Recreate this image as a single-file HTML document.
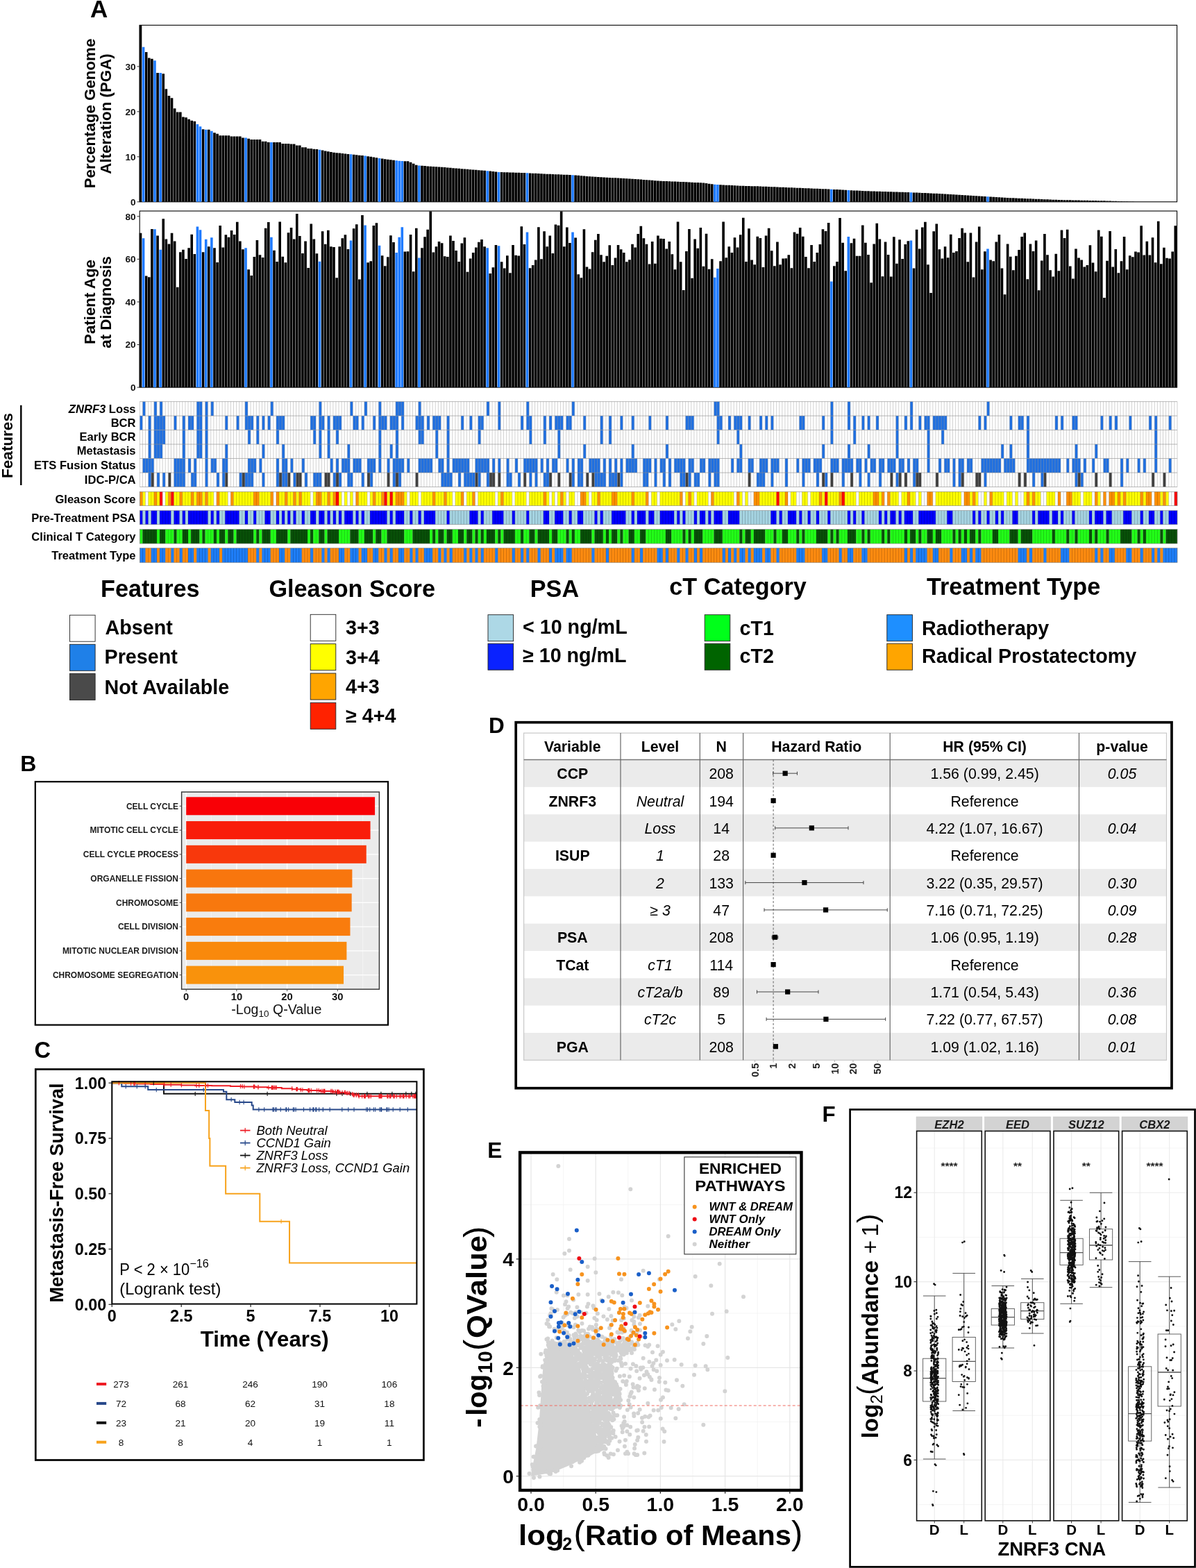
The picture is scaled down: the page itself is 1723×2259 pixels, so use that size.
<!DOCTYPE html>
<html><head><meta charset="utf-8"><title>Figure</title>
<style>
html,body{margin:0;padding:0;background:#fff;width:1723px;height:2259px;overflow:hidden}
svg{display:block}
text{font-family:'Liberation Sans',Arial,Helvetica,sans-serif}
</style></head><body>
<svg xmlns="http://www.w3.org/2000/svg" width="1723" height="2259" viewBox="0 0 1723 2259">
<rect x="0" y="0" width="1723" height="2259" fill="#fff"/>
<rect x="201.2" y="36.3" width="1494.4" height="254.5" fill="none" stroke="#000" stroke-width="1.1"/>
<path d="M200.7 290.8h3.6v-254.8h-3.6zM208.89 290.8h3.6v-215.8h-3.6zM212.99 290.8h3.6v-207.35h-3.6zM217.08 290.8h3.6v-206.05h-3.6zM225.27 290.8h3.6v-185.9h-3.6zM233.46 290.8h3.6v-184.6h-3.6zM237.56 290.8h3.6v-162.5h-3.6zM241.66 290.8h3.6v-152.75h-3.6zM245.75 290.8h3.6v-149.5h-3.6zM249.85 290.8h3.6v-134.55h-3.6zM253.94 290.8h3.6v-129.35h-3.6zM258.04 290.8h3.6v-129.35h-3.6zM262.13 290.8h3.6v-122.2h-3.6zM266.23 290.8h3.6v-121.55h-3.6zM270.33 290.8h3.6v-118.95h-3.6zM274.42 290.8h3.6v-117h-3.6zM278.52 290.8h3.6v-116.03h-3.6zM290.8 290.8h3.6v-104.65h-3.6zM298.99 290.8h3.6v-104h-3.6zM307.19 290.8h3.6v-99.45h-3.6zM311.28 290.8h3.6v-98.15h-3.6zM315.38 290.8h3.6v-95.55h-3.6zM319.47 290.8h3.6v-95.55h-3.6zM323.57 290.8h3.6v-95.55h-3.6zM327.66 290.8h3.6v-95.55h-3.6zM331.76 290.8h3.6v-94.25h-3.6zM335.86 290.8h3.6v-94.25h-3.6zM339.95 290.8h3.6v-94.25h-3.6zM344.05 290.8h3.6v-94.25h-3.6zM348.14 290.8h3.6v-92.3h-3.6zM356.33 290.8h3.6v-91h-3.6zM360.43 290.8h3.6v-89.7h-3.6zM364.52 290.8h3.6v-89.7h-3.6zM368.62 290.8h3.6v-89.7h-3.6zM372.72 290.8h3.6v-89.7h-3.6zM376.81 290.8h3.6v-87.1h-3.6zM380.91 290.8h3.6v-87.1h-3.6zM385 290.8h3.6v-85.8h-3.6zM393.19 290.8h3.6v-85.8h-3.6zM397.29 290.8h3.6v-85.8h-3.6zM401.39 290.8h3.6v-85.8h-3.6zM405.48 290.8h3.6v-83.85h-3.6zM409.58 290.8h3.6v-83.85h-3.6zM413.67 290.8h3.6v-83.85h-3.6zM417.77 290.8h3.6v-83.2h-3.6zM421.86 290.8h3.6v-83.2h-3.6zM425.96 290.8h3.6v-81.25h-3.6zM430.05 290.8h3.6v-81.25h-3.6zM434.15 290.8h3.6v-78.65h-3.6zM438.25 290.8h3.6v-78.65h-3.6zM442.34 290.8h3.6v-76.7h-3.6zM446.44 290.8h3.6v-76.7h-3.6zM450.53 290.8h3.6v-76.11h-3.6zM454.63 290.8h3.6v-75.7h-3.6zM462.82 290.8h3.6v-74.29h-3.6zM466.92 290.8h3.6v-73.42h-3.6zM471.01 290.8h3.6v-72.56h-3.6zM475.11 290.8h3.6v-71.69h-3.6zM479.2 290.8h3.6v-71.07h-3.6zM483.3 290.8h3.6v-70.63h-3.6zM487.39 290.8h3.6v-70.2h-3.6zM491.49 290.8h3.6v-69.77h-3.6zM495.58 290.8h3.6v-69.33h-3.6zM499.68 290.8h3.6v-68.9h-3.6zM507.87 290.8h3.6v-68.04h-3.6zM511.97 290.8h3.6v-67.6h-3.6zM516.06 290.8h3.6v-67.17h-3.6zM520.16 290.8h3.6v-66.74h-3.6zM528.35 290.8h3.6v-65.64h-3.6zM532.44 290.8h3.6v-64.96h-3.6zM536.54 290.8h3.6v-64.28h-3.6zM540.64 290.8h3.6v-63.6h-3.6zM548.83 290.8h3.6v-62.26h-3.6zM552.92 290.8h3.6v-61.59h-3.6zM557.02 290.8h3.6v-60.97h-3.6zM561.11 290.8h3.6v-60.45h-3.6zM565.21 290.8h3.6v-59.94h-3.6zM581.59 290.8h3.6v-58.64h-3.6zM585.69 290.8h3.6v-58.43h-3.6zM589.78 290.8h3.6v-57.02h-3.6zM593.88 290.8h3.6v-55.07h-3.6zM597.97 290.8h3.6v-53.12h-3.6zM606.17 290.8h3.6v-52.06h-3.6zM610.26 290.8h3.6v-51.72h-3.6zM614.36 290.8h3.6v-51.38h-3.6zM618.45 290.8h3.6v-51.11h-3.6zM622.55 290.8h3.6v-50.84h-3.6zM626.64 290.8h3.6v-50.57h-3.6zM630.74 290.8h3.6v-50.29h-3.6zM634.84 290.8h3.6v-50.02h-3.6zM638.93 290.8h3.6v-49.68h-3.6zM643.03 290.8h3.6v-49.34h-3.6zM647.12 290.8h3.6v-49h-3.6zM651.22 290.8h3.6v-48.66h-3.6zM655.31 290.8h3.6v-48.32h-3.6zM659.41 290.8h3.6v-47.99h-3.6zM663.5 290.8h3.6v-47.65h-3.6zM667.6 290.8h3.6v-47.31h-3.6zM671.7 290.8h3.6v-46.97h-3.6zM675.79 290.8h3.6v-46.64h-3.6zM679.89 290.8h3.6v-46.31h-3.6zM683.98 290.8h3.6v-45.98h-3.6zM688.08 290.8h3.6v-45.65h-3.6zM692.17 290.8h3.6v-45.32h-3.6zM696.27 290.8h3.6v-44.99h-3.6zM704.46 290.8h3.6v-44.24h-3.6zM708.56 290.8h3.6v-43.8h-3.6zM712.65 290.8h3.6v-43.36h-3.6zM720.84 290.8h3.6v-42.78h-3.6zM724.94 290.8h3.6v-42.65h-3.6zM729.03 290.8h3.6v-42.52h-3.6zM733.13 290.8h3.6v-42.39h-3.6zM737.23 290.8h3.6v-42.27h-3.6zM741.32 290.8h3.6v-42.14h-3.6zM745.42 290.8h3.6v-42.01h-3.6zM749.51 290.8h3.6v-41.88h-3.6zM753.61 290.8h3.6v-41.73h-3.6zM761.8 290.8h3.6v-41.34h-3.6zM765.9 290.8h3.6v-41.14h-3.6zM769.99 290.8h3.6v-40.94h-3.6zM774.09 290.8h3.6v-40.75h-3.6zM778.18 290.8h3.6v-40.55h-3.6zM782.28 290.8h3.6v-40.35h-3.6zM786.37 290.8h3.6v-40.16h-3.6zM790.47 290.8h3.6v-39.96h-3.6zM794.56 290.8h3.6v-39.79h-3.6zM798.66 290.8h3.6v-39.63h-3.6zM802.76 290.8h3.6v-39.47h-3.6zM806.85 290.8h3.6v-39.31h-3.6zM810.95 290.8h3.6v-39.15h-3.6zM815.04 290.8h3.6v-38.99h-3.6zM819.14 290.8h3.6v-38.83h-3.6zM827.33 290.8h3.6v-38.3h-3.6zM831.42 290.8h3.6v-37.96h-3.6zM835.52 290.8h3.6v-37.61h-3.6zM839.62 290.8h3.6v-37.27h-3.6zM843.71 290.8h3.6v-36.92h-3.6zM847.81 290.8h3.6v-36.57h-3.6zM851.9 290.8h3.6v-36.23h-3.6zM856 290.8h3.6v-35.93h-3.6zM860.09 290.8h3.6v-35.72h-3.6zM864.19 290.8h3.6v-35.5h-3.6zM868.29 290.8h3.6v-35.29h-3.6zM872.38 290.8h3.6v-35.08h-3.6zM876.48 290.8h3.6v-34.86h-3.6zM880.57 290.8h3.6v-34.65h-3.6zM884.67 290.8h3.6v-34.44h-3.6zM888.76 290.8h3.6v-34.23h-3.6zM892.86 290.8h3.6v-34.01h-3.6zM896.95 290.8h3.6v-33.8h-3.6zM901.05 290.8h3.6v-33.59h-3.6zM905.15 290.8h3.6v-33.37h-3.6zM909.24 290.8h3.6v-33.16h-3.6zM913.34 290.8h3.6v-32.85h-3.6zM917.43 290.8h3.6v-32.53h-3.6zM921.53 290.8h3.6v-32.21h-3.6zM925.62 290.8h3.6v-31.89h-3.6zM929.72 290.8h3.6v-31.57h-3.6zM933.82 290.8h3.6v-31.26h-3.6zM937.91 290.8h3.6v-30.94h-3.6zM942.01 290.8h3.6v-30.62h-3.6zM946.1 290.8h3.6v-30.3h-3.6zM950.2 290.8h3.6v-30.04h-3.6zM954.29 290.8h3.6v-29.87h-3.6zM958.39 290.8h3.6v-29.7h-3.6zM962.48 290.8h3.6v-29.53h-3.6zM966.58 290.8h3.6v-29.36h-3.6zM970.68 290.8h3.6v-29.19h-3.6zM974.77 290.8h3.6v-29.02h-3.6zM978.87 290.8h3.6v-28.85h-3.6zM982.96 290.8h3.6v-28.68h-3.6zM987.06 290.8h3.6v-28.51h-3.6zM991.15 290.8h3.6v-28.31h-3.6zM995.25 290.8h3.6v-28.11h-3.6zM999.35 290.8h3.6v-27.91h-3.6zM1003.44 290.8h3.6v-27.71h-3.6zM1007.54 290.8h3.6v-27.5h-3.6zM1011.63 290.8h3.6v-27.3h-3.6zM1015.73 290.8h3.6v-26.71h-3.6zM1019.82 290.8h3.6v-26.12h-3.6zM1023.92 290.8h3.6v-25.52h-3.6zM1036.21 290.8h3.6v-24.57h-3.6zM1040.3 290.8h3.6v-24.36h-3.6zM1044.4 290.8h3.6v-24.15h-3.6zM1048.49 290.8h3.6v-23.94h-3.6zM1052.59 290.8h3.6v-23.73h-3.6zM1056.68 290.8h3.6v-23.52h-3.6zM1060.78 290.8h3.6v-23.31h-3.6zM1064.88 290.8h3.6v-23.1h-3.6zM1068.97 290.8h3.6v-22.95h-3.6zM1073.07 290.8h3.6v-22.85h-3.6zM1077.16 290.8h3.6v-22.75h-3.6zM1081.26 290.8h3.6v-22.65h-3.6zM1085.35 290.8h3.6v-22.55h-3.6zM1089.45 290.8h3.6v-22.43h-3.6zM1093.54 290.8h3.6v-22.26h-3.6zM1097.64 290.8h3.6v-22.1h-3.6zM1101.74 290.8h3.6v-21.93h-3.6zM1105.83 290.8h3.6v-21.76h-3.6zM1109.93 290.8h3.6v-21.6h-3.6zM1114.02 290.8h3.6v-21.43h-3.6zM1118.12 290.8h3.6v-21.27h-3.6zM1122.21 290.8h3.6v-21.1h-3.6zM1126.31 290.8h3.6v-20.93h-3.6zM1130.4 290.8h3.6v-20.77h-3.6zM1134.5 290.8h3.6v-20.6h-3.6zM1138.6 290.8h3.6v-20.44h-3.6zM1142.69 290.8h3.6v-20.27h-3.6zM1146.79 290.8h3.6v-20.1h-3.6zM1150.88 290.8h3.6v-19.94h-3.6zM1154.98 290.8h3.6v-19.77h-3.6zM1159.07 290.8h3.6v-19.61h-3.6zM1163.17 290.8h3.6v-19.44h-3.6zM1167.27 290.8h3.6v-19.27h-3.6zM1171.36 290.8h3.6v-19.11h-3.6zM1175.46 290.8h3.6v-18.94h-3.6zM1179.55 290.8h3.6v-18.78h-3.6zM1183.65 290.8h3.6v-18.61h-3.6zM1187.74 290.8h3.6v-18.44h-3.6zM1191.84 290.8h3.6v-18.28h-3.6zM1200.03 290.8h3.6v-17.91h-3.6zM1204.13 290.8h3.6v-17.69h-3.6zM1208.22 290.8h3.6v-17.48h-3.6zM1212.32 290.8h3.6v-17.26h-3.6zM1216.41 290.8h3.6v-17.05h-3.6zM1224.6 290.8h3.6v-16.62h-3.6zM1228.7 290.8h3.6v-16.4h-3.6zM1232.8 290.8h3.6v-16.19h-3.6zM1236.89 290.8h3.6v-15.97h-3.6zM1240.99 290.8h3.6v-15.76h-3.6zM1245.08 290.8h3.6v-15.57h-3.6zM1249.18 290.8h3.6v-15.45h-3.6zM1253.27 290.8h3.6v-15.33h-3.6zM1257.37 290.8h3.6v-15.21h-3.6zM1261.46 290.8h3.6v-15.09h-3.6zM1265.56 290.8h3.6v-14.97h-3.6zM1269.66 290.8h3.6v-14.85h-3.6zM1273.75 290.8h3.6v-14.73h-3.6zM1277.85 290.8h3.6v-14.61h-3.6zM1281.94 290.8h3.6v-14.48h-3.6zM1286.04 290.8h3.6v-14.36h-3.6zM1290.13 290.8h3.6v-14.24h-3.6zM1294.23 290.8h3.6v-14.12h-3.6zM1298.33 290.8h3.6v-14h-3.6zM1302.42 290.8h3.6v-13.88h-3.6zM1306.52 290.8h3.6v-13.76h-3.6zM1314.71 290.8h3.6v-13.4h-3.6zM1318.8 290.8h3.6v-13.22h-3.6zM1322.9 290.8h3.6v-13.04h-3.6zM1326.99 290.8h3.6v-12.86h-3.6zM1331.09 290.8h3.6v-12.68h-3.6zM1335.19 290.8h3.6v-12.5h-3.6zM1339.28 290.8h3.6v-12.32h-3.6zM1343.38 290.8h3.6v-12.14h-3.6zM1347.47 290.8h3.6v-11.96h-3.6zM1351.57 290.8h3.6v-11.74h-3.6zM1355.66 290.8h3.6v-11.5h-3.6zM1359.76 290.8h3.6v-11.26h-3.6zM1363.86 290.8h3.6v-11.01h-3.6zM1367.95 290.8h3.6v-10.77h-3.6zM1372.05 290.8h3.6v-10.53h-3.6zM1376.14 290.8h3.6v-10.29h-3.6zM1380.24 290.8h3.6v-10.05h-3.6zM1384.33 290.8h3.6v-9.8h-3.6zM1388.43 290.8h3.6v-9.56h-3.6zM1392.52 290.8h3.6v-9.32h-3.6zM1396.62 290.8h3.6v-9.08h-3.6zM1400.72 290.8h3.6v-8.84h-3.6zM1404.81 290.8h3.6v-8.59h-3.6zM1408.91 290.8h3.6v-8.35h-3.6zM1413 290.8h3.6v-8.11h-3.6zM1417.1 290.8h3.6v-7.86h-3.6zM1425.29 290.8h3.6v-7.36h-3.6zM1429.38 290.8h3.6v-7.11h-3.6zM1433.48 290.8h3.6v-6.86h-3.6zM1437.58 290.8h3.6v-6.61h-3.6zM1441.67 290.8h3.6v-6.35h-3.6zM1445.77 290.8h3.6v-6.1h-3.6zM1449.86 290.8h3.6v-5.85h-3.6zM1453.96 290.8h3.6v-5.66h-3.6zM1458.05 290.8h3.6v-5.49h-3.6zM1462.15 290.8h3.6v-5.32h-3.6zM1466.25 290.8h3.6v-5.15h-3.6zM1470.34 290.8h3.6v-4.98h-3.6zM1474.44 290.8h3.6v-4.81h-3.6zM1478.53 290.8h3.6v-4.64h-3.6zM1482.63 290.8h3.6v-4.47h-3.6zM1486.72 290.8h3.6v-4.3h-3.6zM1490.82 290.8h3.6v-4.13h-3.6zM1494.91 290.8h3.6v-3.97h-3.6zM1499.01 290.8h3.6v-3.8h-3.6zM1503.11 290.8h3.6v-3.63h-3.6zM1507.2 290.8h3.6v-3.47h-3.6zM1511.3 290.8h3.6v-3.3h-3.6zM1515.39 290.8h3.6v-3.13h-3.6zM1519.49 290.8h3.6v-2.96h-3.6zM1523.58 290.8h3.6v-2.8h-3.6zM1527.68 290.8h3.6v-2.72h-3.6zM1531.78 290.8h3.6v-2.63h-3.6zM1535.87 290.8h3.6v-2.55h-3.6zM1539.97 290.8h3.6v-2.47h-3.6zM1544.06 290.8h3.6v-2.39h-3.6zM1548.16 290.8h3.6v-2.31h-3.6zM1552.25 290.8h3.6v-2.23h-3.6zM1556.35 290.8h3.6v-2.15h-3.6zM1560.44 290.8h3.6v-2.07h-3.6zM1564.54 290.8h3.6v-1.99h-3.6zM1568.64 290.8h3.6v-1.91h-3.6zM1572.73 290.8h3.6v-1.83h-3.6zM1576.83 290.8h3.6v-1.74h-3.6zM1580.92 290.8h3.6v-1.66h-3.6zM1585.02 290.8h3.6v-1.58h-3.6zM1589.11 290.8h3.6v-1.5h-3.6zM1593.21 290.8h3.6v-1.42h-3.6zM1597.31 290.8h3.6v-1.32h-3.6zM1601.4 290.8h3.6v-1.17h-3.6zM1605.5 290.8h3.6v-1.02h-3.6zM1609.59 290.8h3.6v-0.88h-3.6zM1613.69 290.8h3.6v-0.73h-3.6zM1617.78 290.8h3.6v-0.58h-3.6zM1621.88 290.8h3.6v-0.44h-3.6zM1625.97 290.8h3.6v-0.3h-3.6zM1630.07 290.8h3.6v-0.2h-3.6zM1634.17 290.8h3.6v-0.09h-3.6z" fill="#000"/>
<path d="M204.8 290.8h3.6v-222.95h-3.6zM221.18 290.8h3.6v-203.45h-3.6zM229.37 290.8h3.6v-185.9h-3.6zM282.61 290.8h3.6v-111.8h-3.6zM286.71 290.8h3.6v-108.55h-3.6zM294.9 290.8h3.6v-104h-3.6zM303.09 290.8h3.6v-102.05h-3.6zM352.24 290.8h3.6v-92.3h-3.6zM389.1 290.8h3.6v-85.8h-3.6zM458.72 290.8h3.6v-75.15h-3.6zM503.78 290.8h3.6v-68.47h-3.6zM524.25 290.8h3.6v-66.31h-3.6zM544.73 290.8h3.6v-62.92h-3.6zM569.31 290.8h3.6v-59.43h-3.6zM573.4 290.8h3.6v-59.06h-3.6zM577.5 290.8h3.6v-58.85h-3.6zM602.07 290.8h3.6v-52.39h-3.6zM700.37 290.8h3.6v-44.66h-3.6zM716.75 290.8h3.6v-42.92h-3.6zM757.7 290.8h3.6v-41.53h-3.6zM823.23 290.8h3.6v-38.65h-3.6zM1028.01 290.8h3.6v-24.99h-3.6zM1032.11 290.8h3.6v-24.78h-3.6zM1195.93 290.8h3.6v-18.11h-3.6zM1220.51 290.8h3.6v-16.83h-3.6zM1310.61 290.8h3.6v-13.58h-3.6zM1421.19 290.8h3.6v-7.61h-3.6z" fill="#1f7bff"/>
<line x1="197.5" y1="290.8" x2="201.2" y2="290.8" stroke="#333" stroke-width="1"/>
<text x="195.6" y="295.6" font-size="13.6" text-anchor="end" fill="#111" style="font-weight:bold;">0</text>
<line x1="197.5" y1="225.8" x2="201.2" y2="225.8" stroke="#333" stroke-width="1"/>
<text x="195.6" y="230.6" font-size="13.6" text-anchor="end" fill="#111" style="font-weight:bold;">10</text>
<line x1="197.5" y1="160.8" x2="201.2" y2="160.8" stroke="#333" stroke-width="1"/>
<text x="195.6" y="165.6" font-size="13.6" text-anchor="end" fill="#111" style="font-weight:bold;">20</text>
<line x1="197.5" y1="95.8" x2="201.2" y2="95.8" stroke="#333" stroke-width="1"/>
<text x="195.6" y="100.6" font-size="13.6" text-anchor="end" fill="#111" style="font-weight:bold;">30</text>
<text x="136.5" y="163.5" font-size="22.3" text-anchor="middle" transform="rotate(-90 136.5 163.5)" style="font-weight:bold;">Percentage Genome</text>
<text x="159.7" y="164" font-size="22.3" text-anchor="middle" transform="rotate(-90 159.7 164)" style="font-weight:bold;">Alteration (PGA)</text>
<rect x="201.2" y="304" width="1494.4" height="254.1" fill="none" stroke="#000" stroke-width="1.1"/>
<path d="M200.7 558.1h3.6v-222.3h-3.6zM208.89 558.1h3.6v-160.72h-3.6zM212.99 558.1h3.6v-158.88h-3.6zM217.08 558.1h3.6v-228.15h-3.6zM225.27 558.1h3.6v-218.61h-3.6zM233.46 558.1h3.6v-242.93h-3.6zM237.56 558.1h3.6v-213.68h-3.6zM241.66 558.1h3.6v-206.6h-3.6zM245.75 558.1h3.6v-222.3h-3.6zM249.85 558.1h3.6v-210.6h-3.6zM253.94 558.1h3.6v-144.41h-3.6zM258.04 558.1h3.6v-194.9h-3.6zM262.13 558.1h3.6v-198.29h-3.6zM266.23 558.1h3.6v-185.05h-3.6zM270.33 558.1h3.6v-200.75h-3.6zM274.42 558.1h3.6v-220.46h-3.6zM278.52 558.1h3.6v-192.13h-3.6zM290.8 558.1h3.6v-194.9h-3.6zM298.99 558.1h3.6v-202.91h-3.6zM307.19 558.1h3.6v-200.75h-3.6zM311.28 558.1h3.6v-180.12h-3.6zM315.38 558.1h3.6v-233.08h-3.6zM319.47 558.1h3.6v-201.67h-3.6zM323.57 558.1h3.6v-219.84h-3.6zM327.66 558.1h3.6v-216.45h-3.6zM331.76 558.1h3.6v-226h-3.6zM335.86 558.1h3.6v-220.15h-3.6zM339.95 558.1h3.6v-238.31h-3.6zM344.05 558.1h3.6v-210.6h-3.6zM348.14 558.1h3.6v-198.9h-3.6zM356.33 558.1h3.6v-169.96h-3.6zM360.43 558.1h3.6v-161.03h-3.6zM364.52 558.1h3.6v-188.13h-3.6zM368.62 558.1h3.6v-212.14h-3.6zM372.72 558.1h3.6v-190.9h-3.6zM376.81 558.1h3.6v-187.2h-3.6zM380.91 558.1h3.6v-229.39h-3.6zM385 558.1h3.6v-238.01h-3.6zM393.19 558.1h3.6v-197.36h-3.6zM397.29 558.1h3.6v-181.05h-3.6zM401.39 558.1h3.6v-238.62h-3.6zM405.48 558.1h3.6v-188.43h-3.6zM409.58 558.1h3.6v-179.81h-3.6zM413.67 558.1h3.6v-222.92h-3.6zM417.77 558.1h3.6v-230h-3.6zM421.86 558.1h3.6v-213.68h-3.6zM425.96 558.1h3.6v-250.01h-3.6zM430.05 558.1h3.6v-217.99h-3.6zM434.15 558.1h3.6v-193.05h-3.6zM438.25 558.1h3.6v-210.6h-3.6zM442.34 558.1h3.6v-172.12h-3.6zM446.44 558.1h3.6v-235.54h-3.6zM450.53 558.1h3.6v-213.68h-3.6zM454.63 558.1h3.6v-192.75h-3.6zM462.82 558.1h3.6v-224.77h-3.6zM466.92 558.1h3.6v-206.29h-3.6zM471.01 558.1h3.6v-226.31h-3.6zM475.11 558.1h3.6v-202.91h-3.6zM479.2 558.1h3.6v-201.98h-3.6zM483.3 558.1h3.6v-157.95h-3.6zM487.39 558.1h3.6v-202.91h-3.6zM491.49 558.1h3.6v-214.91h-3.6zM495.58 558.1h3.6v-219.84h-3.6zM499.68 558.1h3.6v-199.21h-3.6zM507.87 558.1h3.6v-228.77h-3.6zM511.97 558.1h3.6v-234.93h-3.6zM516.06 558.1h3.6v-155.49h-3.6zM520.16 558.1h3.6v-248.17h-3.6zM528.35 558.1h3.6v-179.81h-3.6zM532.44 558.1h3.6v-181.97h-3.6zM536.54 558.1h3.6v-233.08h-3.6zM540.64 558.1h3.6v-236.78h-3.6zM548.83 558.1h3.6v-189.97h-3.6zM552.92 558.1h3.6v-174.89h-3.6zM557.02 558.1h3.6v-187.82h-3.6zM561.11 558.1h3.6v-218.92h-3.6zM565.21 558.1h3.6v-209.06h-3.6zM581.59 558.1h3.6v-195.52h-3.6zM585.69 558.1h3.6v-195.82h-3.6zM589.78 558.1h3.6v-220.15h-3.6zM593.88 558.1h3.6v-166.88h-3.6zM597.97 558.1h3.6v-229.39h-3.6zM606.17 558.1h3.6v-200.75h-3.6zM610.26 558.1h3.6v-216.76h-3.6zM614.36 558.1h3.6v-227.23h-3.6zM618.45 558.1h3.6v-253.71h-3.6zM622.55 558.1h3.6v-194.59h-3.6zM626.64 558.1h3.6v-202.91h-3.6zM630.74 558.1h3.6v-209.99h-3.6zM634.84 558.1h3.6v-207.83h-3.6zM638.93 558.1h3.6v-188.74h-3.6zM643.03 558.1h3.6v-188.13h-3.6zM647.12 558.1h3.6v-218.61h-3.6zM651.22 558.1h3.6v-211.22h-3.6zM655.31 558.1h3.6v-197.06h-3.6zM659.41 558.1h3.6v-181.05h-3.6zM663.5 558.1h3.6v-207.52h-3.6zM667.6 558.1h3.6v-215.84h-3.6zM671.7 558.1h3.6v-166.27h-3.6zM675.79 558.1h3.6v-185.66h-3.6zM679.89 558.1h3.6v-193.98h-3.6zM683.98 558.1h3.6v-201.67h-3.6zM688.08 558.1h3.6v-209.37h-3.6zM692.17 558.1h3.6v-213.07h-3.6zM696.27 558.1h3.6v-202.91h-3.6zM704.46 558.1h3.6v-164.11h-3.6zM708.56 558.1h3.6v-172.73h-3.6zM712.65 558.1h3.6v-205.06h-3.6zM720.84 558.1h3.6v-180.74h-3.6zM724.94 558.1h3.6v-171.5h-3.6zM729.03 558.1h3.6v-189.97h-3.6zM733.13 558.1h3.6v-164.73h-3.6zM737.23 558.1h3.6v-205.06h-3.6zM741.32 558.1h3.6v-190.28h-3.6zM745.42 558.1h3.6v-189.67h-3.6zM749.51 558.1h3.6v-231.85h-3.6zM753.61 558.1h3.6v-205.99h-3.6zM761.8 558.1h3.6v-171.81h-3.6zM765.9 558.1h3.6v-176.12h-3.6zM769.99 558.1h3.6v-183.51h-3.6zM774.09 558.1h3.6v-230.93h-3.6zM778.18 558.1h3.6v-184.74h-3.6zM782.28 558.1h3.6v-224.77h-3.6zM786.37 558.1h3.6v-202.91h-3.6zM790.47 558.1h3.6v-218.61h-3.6zM794.56 558.1h3.6v-193.05h-3.6zM798.66 558.1h3.6v-234.62h-3.6zM802.76 558.1h3.6v-233.39h-3.6zM806.85 558.1h3.6v-253.71h-3.6zM810.95 558.1h3.6v-202.91h-3.6zM815.04 558.1h3.6v-230.62h-3.6zM819.14 558.1h3.6v-208.14h-3.6zM827.33 558.1h3.6v-215.53h-3.6zM831.42 558.1h3.6v-162.88h-3.6zM835.52 558.1h3.6v-157.95h-3.6zM839.62 558.1h3.6v-227.85h-3.6zM843.71 558.1h3.6v-173.66h-3.6zM847.81 558.1h3.6v-170.58h-3.6zM851.9 558.1h3.6v-194.9h-3.6zM856 558.1h3.6v-212.45h-3.6zM860.09 558.1h3.6v-221.07h-3.6zM864.19 558.1h3.6v-190.9h-3.6zM868.29 558.1h3.6v-180.74h-3.6zM872.38 558.1h3.6v-189.36h-3.6zM876.48 558.1h3.6v-204.75h-3.6zM880.57 558.1h3.6v-176.12h-3.6zM884.67 558.1h3.6v-186.59h-3.6zM888.76 558.1h3.6v-205.06h-3.6zM892.86 558.1h3.6v-198.9h-3.6zM896.95 558.1h3.6v-193.98h-3.6zM901.05 558.1h3.6v-180.74h-3.6zM905.15 558.1h3.6v-183.82h-3.6zM909.24 558.1h3.6v-206.29h-3.6zM913.34 558.1h3.6v-201.67h-3.6zM917.43 558.1h3.6v-221.07h-3.6zM921.53 558.1h3.6v-232.46h-3.6zM925.62 558.1h3.6v-214.91h-3.6zM929.72 558.1h3.6v-206.29h-3.6zM933.82 558.1h3.6v-177.66h-3.6zM937.91 558.1h3.6v-209.99h-3.6zM942.01 558.1h3.6v-178.27h-3.6zM946.1 558.1h3.6v-218.61h-3.6zM950.2 558.1h3.6v-214.3h-3.6zM954.29 558.1h3.6v-213.99h-3.6zM958.39 558.1h3.6v-199.52h-3.6zM962.48 558.1h3.6v-209.99h-3.6zM966.58 558.1h3.6v-191.82h-3.6zM970.68 558.1h3.6v-169.96h-3.6zM974.77 558.1h3.6v-238.62h-3.6zM978.87 558.1h3.6v-180.74h-3.6zM982.96 558.1h3.6v-140.09h-3.6zM987.06 558.1h3.6v-196.13h-3.6zM991.15 558.1h3.6v-228.15h-3.6zM995.25 558.1h3.6v-157.34h-3.6zM999.35 558.1h3.6v-213.68h-3.6zM1003.44 558.1h3.6v-200.44h-3.6zM1007.54 558.1h3.6v-230h-3.6zM1011.63 558.1h3.6v-174.27h-3.6zM1015.73 558.1h3.6v-221.38h-3.6zM1019.82 558.1h3.6v-170.27h-3.6zM1023.92 558.1h3.6v-184.74h-3.6zM1036.21 558.1h3.6v-181.97h-3.6zM1040.3 558.1h3.6v-238.62h-3.6zM1044.4 558.1h3.6v-186.9h-3.6zM1048.49 558.1h3.6v-202.91h-3.6zM1052.59 558.1h3.6v-193.98h-3.6zM1056.68 558.1h3.6v-215.84h-3.6zM1060.78 558.1h3.6v-201.67h-3.6zM1064.88 558.1h3.6v-219.84h-3.6zM1068.97 558.1h3.6v-244.47h-3.6zM1073.07 558.1h3.6v-181.05h-3.6zM1077.16 558.1h3.6v-228.77h-3.6zM1081.26 558.1h3.6v-183.51h-3.6zM1085.35 558.1h3.6v-176.73h-3.6zM1089.45 558.1h3.6v-217.38h-3.6zM1093.54 558.1h3.6v-215.22h-3.6zM1097.64 558.1h3.6v-173.04h-3.6zM1101.74 558.1h3.6v-218.61h-3.6zM1105.83 558.1h3.6v-229.39h-3.6zM1109.93 558.1h3.6v-196.75h-3.6zM1114.02 558.1h3.6v-174.89h-3.6zM1118.12 558.1h3.6v-209.68h-3.6zM1122.21 558.1h3.6v-176.73h-3.6zM1126.31 558.1h3.6v-185.66h-3.6zM1130.4 558.1h3.6v-185.97h-3.6zM1134.5 558.1h3.6v-190.9h-3.6zM1138.6 558.1h3.6v-171.81h-3.6zM1142.69 558.1h3.6v-223.54h-3.6zM1146.79 558.1h3.6v-221.38h-3.6zM1150.88 558.1h3.6v-230h-3.6zM1154.98 558.1h3.6v-217.38h-3.6zM1159.07 558.1h3.6v-188.13h-3.6zM1163.17 558.1h3.6v-171.81h-3.6zM1167.27 558.1h3.6v-205.06h-3.6zM1171.36 558.1h3.6v-181.05h-3.6zM1175.46 558.1h3.6v-193.98h-3.6zM1179.55 558.1h3.6v-205.99h-3.6zM1183.65 558.1h3.6v-227.85h-3.6zM1187.74 558.1h3.6v-225.07h-3.6zM1191.84 558.1h3.6v-237.08h-3.6zM1200.03 558.1h3.6v-174.89h-3.6zM1204.13 558.1h3.6v-181.05h-3.6zM1208.22 558.1h3.6v-244.16h-3.6zM1212.32 558.1h3.6v-208.45h-3.6zM1216.41 558.1h3.6v-167.81h-3.6zM1224.6 558.1h3.6v-207.83h-3.6zM1228.7 558.1h3.6v-214.3h-3.6zM1232.8 558.1h3.6v-189.36h-3.6zM1236.89 558.1h3.6v-189.36h-3.6zM1240.99 558.1h3.6v-233.7h-3.6zM1245.08 558.1h3.6v-208.45h-3.6zM1249.18 558.1h3.6v-191.21h-3.6zM1253.27 558.1h3.6v-150.87h-3.6zM1257.37 558.1h3.6v-206.6h-3.6zM1261.46 558.1h3.6v-236.47h-3.6zM1265.56 558.1h3.6v-213.68h-3.6zM1269.66 558.1h3.6v-159.8h-3.6zM1273.75 558.1h3.6v-209.68h-3.6zM1277.85 558.1h3.6v-191.21h-3.6zM1281.94 558.1h3.6v-159.49h-3.6zM1286.04 558.1h3.6v-216.76h-3.6zM1290.13 558.1h3.6v-178.27h-3.6zM1294.23 558.1h3.6v-212.76h-3.6zM1298.33 558.1h3.6v-185.05h-3.6zM1302.42 558.1h3.6v-205.99h-3.6zM1306.52 558.1h3.6v-210.91h-3.6zM1314.71 558.1h3.6v-171.5h-3.6zM1318.8 558.1h3.6v-227.23h-3.6zM1322.9 558.1h3.6v-199.52h-3.6zM1326.99 558.1h3.6v-230.62h-3.6zM1331.09 558.1h3.6v-238.31h-3.6zM1335.19 558.1h3.6v-176.73h-3.6zM1339.28 558.1h3.6v-136.09h-3.6zM1343.38 558.1h3.6v-224.77h-3.6zM1347.47 558.1h3.6v-235.54h-3.6zM1351.57 558.1h3.6v-198.9h-3.6zM1355.66 558.1h3.6v-185.66h-3.6zM1359.76 558.1h3.6v-202.91h-3.6zM1363.86 558.1h3.6v-186.9h-3.6zM1367.95 558.1h3.6v-220.46h-3.6zM1372.05 558.1h3.6v-193.98h-3.6zM1376.14 558.1h3.6v-196.13h-3.6zM1380.24 558.1h3.6v-215.22h-3.6zM1384.33 558.1h3.6v-229.39h-3.6zM1388.43 558.1h3.6v-222.61h-3.6zM1392.52 558.1h3.6v-180.74h-3.6zM1396.62 558.1h3.6v-222.61h-3.6zM1400.72 558.1h3.6v-158.57h-3.6zM1404.81 558.1h3.6v-209.68h-3.6zM1408.91 558.1h3.6v-231.54h-3.6zM1413 558.1h3.6v-169.96h-3.6zM1417.1 558.1h3.6v-195.82h-3.6zM1425.29 558.1h3.6v-183.51h-3.6zM1429.38 558.1h3.6v-181.97h-3.6zM1433.48 558.1h3.6v-209.68h-3.6zM1437.58 558.1h3.6v-220.15h-3.6zM1441.67 558.1h3.6v-171.5h-3.6zM1445.77 558.1h3.6v-133.94h-3.6zM1449.86 558.1h3.6v-206.6h-3.6zM1453.96 558.1h3.6v-188.43h-3.6zM1458.05 558.1h3.6v-168.73h-3.6zM1462.15 558.1h3.6v-189.36h-3.6zM1466.25 558.1h3.6v-197.98h-3.6zM1470.34 558.1h3.6v-217.07h-3.6zM1474.44 558.1h3.6v-222.61h-3.6zM1478.53 558.1h3.6v-155.8h-3.6zM1482.63 558.1h3.6v-206.6h-3.6zM1486.72 558.1h3.6v-196.13h-3.6zM1490.82 558.1h3.6v-211.53h-3.6zM1494.91 558.1h3.6v-139.79h-3.6zM1499.01 558.1h3.6v-182.58h-3.6zM1503.11 558.1h3.6v-221.07h-3.6zM1507.2 558.1h3.6v-190.9h-3.6zM1511.3 558.1h3.6v-168.73h-3.6zM1515.39 558.1h3.6v-159.49h-3.6zM1519.49 558.1h3.6v-192.44h-3.6zM1523.58 558.1h3.6v-167.81h-3.6zM1527.68 558.1h3.6v-226.61h-3.6zM1531.78 558.1h3.6v-215.22h-3.6zM1535.87 558.1h3.6v-227.23h-3.6zM1539.97 558.1h3.6v-174.58h-3.6zM1544.06 558.1h3.6v-156.72h-3.6zM1548.16 558.1h3.6v-199.52h-3.6zM1552.25 558.1h3.6v-186.59h-3.6zM1556.35 558.1h3.6v-183.51h-3.6zM1560.44 558.1h3.6v-173.66h-3.6zM1564.54 558.1h3.6v-176.12h-3.6zM1568.64 558.1h3.6v-204.75h-3.6zM1572.73 558.1h3.6v-179.51h-3.6zM1576.83 558.1h3.6v-166.88h-3.6zM1580.92 558.1h3.6v-226.61h-3.6zM1585.02 558.1h3.6v-217.38h-3.6zM1589.11 558.1h3.6v-129.01h-3.6zM1593.21 558.1h3.6v-182.28h-3.6zM1597.31 558.1h3.6v-225.07h-3.6zM1601.4 558.1h3.6v-173.66h-3.6zM1605.5 558.1h3.6v-199.21h-3.6zM1609.59 558.1h3.6v-164.73h-3.6zM1613.69 558.1h3.6v-181.97h-3.6zM1617.78 558.1h3.6v-217.07h-3.6zM1621.88 558.1h3.6v-169.96h-3.6zM1625.97 558.1h3.6v-189.97h-3.6zM1630.07 558.1h3.6v-187.82h-3.6zM1634.17 558.1h3.6v-195.52h-3.6zM1638.26 558.1h3.6v-194.59h-3.6zM1642.36 558.1h3.6v-232.77h-3.6zM1646.45 558.1h3.6v-190.59h-3.6zM1650.55 558.1h3.6v-210.3h-3.6zM1654.64 558.1h3.6v-190.59h-3.6zM1658.74 558.1h3.6v-215.84h-3.6zM1662.84 558.1h3.6v-179.81h-3.6zM1666.93 558.1h3.6v-239.24h-3.6zM1671.03 558.1h3.6v-177.97h-3.6zM1675.12 558.1h3.6v-201.37h-3.6zM1679.22 558.1h3.6v-186.28h-3.6zM1683.31 558.1h3.6v-185.66h-3.6zM1687.41 558.1h3.6v-195.52h-3.6zM1691.5 558.1h3.6v-232.77h-3.6z" fill="#000"/>
<path d="M204.8 558.1h3.6v-214.91h-3.6zM221.18 558.1h3.6v-227.85h-3.6zM229.37 558.1h3.6v-198.29h-3.6zM282.61 558.1h3.6v-231.54h-3.6zM286.71 558.1h3.6v-226.92h-3.6zM294.9 558.1h3.6v-213.37h-3.6zM303.09 558.1h3.6v-215.84h-3.6zM352.24 558.1h3.6v-200.75h-3.6zM389.1 558.1h3.6v-216.45h-3.6zM458.72 558.1h3.6v-181.35h-3.6zM503.78 558.1h3.6v-211.53h-3.6zM524.25 558.1h3.6v-233.7h-3.6zM544.73 558.1h3.6v-204.45h-3.6zM569.31 558.1h3.6v-193.98h-3.6zM573.4 558.1h3.6v-216.45h-3.6zM577.5 558.1h3.6v-230.93h-3.6zM602.07 558.1h3.6v-186.59h-3.6zM700.37 558.1h3.6v-200.75h-3.6zM716.75 558.1h3.6v-203.83h-3.6zM757.7 558.1h3.6v-223.54h-3.6zM823.23 558.1h3.6v-223.54h-3.6zM1028.01 558.1h3.6v-158.26h-3.6zM1032.11 558.1h3.6v-171.19h-3.6zM1195.93 558.1h3.6v-152.72h-3.6zM1220.51 558.1h3.6v-217.07h-3.6zM1310.61 558.1h3.6v-211.53h-3.6zM1421.19 558.1h3.6v-199.52h-3.6z" fill="#1f7bff"/>
<line x1="197.5" y1="558.1" x2="201.2" y2="558.1" stroke="#333" stroke-width="1"/>
<text x="195.6" y="562.9" font-size="13.6" text-anchor="end" fill="#111" style="font-weight:bold;">0</text>
<line x1="197.5" y1="496.52" x2="201.2" y2="496.52" stroke="#333" stroke-width="1"/>
<text x="195.6" y="501.32" font-size="13.6" text-anchor="end" fill="#111" style="font-weight:bold;">20</text>
<line x1="197.5" y1="434.94" x2="201.2" y2="434.94" stroke="#333" stroke-width="1"/>
<text x="195.6" y="439.74" font-size="13.6" text-anchor="end" fill="#111" style="font-weight:bold;">40</text>
<line x1="197.5" y1="373.36" x2="201.2" y2="373.36" stroke="#333" stroke-width="1"/>
<text x="195.6" y="378.16" font-size="13.6" text-anchor="end" fill="#111" style="font-weight:bold;">60</text>
<line x1="197.5" y1="311.78" x2="201.2" y2="311.78" stroke="#333" stroke-width="1"/>
<text x="195.6" y="316.58" font-size="13.6" text-anchor="end" fill="#111" style="font-weight:bold;">80</text>
<text x="136.5" y="435" font-size="22.3" text-anchor="middle" transform="rotate(-90 136.5 435)" style="font-weight:bold;">Patient Age</text>
<text x="159.7" y="435.4" font-size="22.3" text-anchor="middle" transform="rotate(-90 159.7 435.4)" style="font-weight:bold;">at Diagnosis</text>
<rect x="201.4" y="578.6" width="4.09" height="20.48" fill="#fff"/>
<rect x="205.49" y="578.6" width="4.09" height="20.48" fill="#1f6fe0"/>
<rect x="209.59" y="578.6" width="12.28" height="20.48" fill="#fff"/>
<rect x="221.87" y="578.6" width="4.09" height="20.48" fill="#1f6fe0"/>
<rect x="225.97" y="578.6" width="4.09" height="20.48" fill="#fff"/>
<rect x="230.06" y="578.6" width="4.09" height="20.48" fill="#1f6fe0"/>
<rect x="234.16" y="578.6" width="49.14" height="20.48" fill="#fff"/>
<rect x="283.3" y="578.6" width="8.19" height="20.48" fill="#1f6fe0"/>
<rect x="291.49" y="578.6" width="4.09" height="20.48" fill="#fff"/>
<rect x="295.58" y="578.6" width="4.09" height="20.48" fill="#1f6fe0"/>
<rect x="299.68" y="578.6" width="4.09" height="20.48" fill="#fff"/>
<rect x="303.77" y="578.6" width="4.09" height="20.48" fill="#1f6fe0"/>
<rect x="307.86" y="578.6" width="45.04" height="20.48" fill="#fff"/>
<rect x="352.91" y="578.6" width="4.09" height="20.48" fill="#1f6fe0"/>
<rect x="357" y="578.6" width="32.76" height="20.48" fill="#fff"/>
<rect x="389.76" y="578.6" width="4.09" height="20.48" fill="#1f6fe0"/>
<rect x="393.86" y="578.6" width="65.52" height="20.48" fill="#fff"/>
<rect x="459.37" y="578.6" width="4.09" height="20.48" fill="#1f6fe0"/>
<rect x="463.47" y="578.6" width="40.95" height="20.48" fill="#fff"/>
<rect x="504.41" y="578.6" width="4.09" height="20.48" fill="#1f6fe0"/>
<rect x="508.51" y="578.6" width="16.38" height="20.48" fill="#fff"/>
<rect x="524.89" y="578.6" width="4.09" height="20.48" fill="#1f6fe0"/>
<rect x="528.98" y="578.6" width="16.38" height="20.48" fill="#fff"/>
<rect x="545.36" y="578.6" width="4.09" height="20.48" fill="#1f6fe0"/>
<rect x="549.46" y="578.6" width="20.47" height="20.48" fill="#fff"/>
<rect x="569.93" y="578.6" width="12.28" height="20.48" fill="#1f6fe0"/>
<rect x="582.22" y="578.6" width="20.47" height="20.48" fill="#fff"/>
<rect x="602.69" y="578.6" width="4.09" height="20.48" fill="#1f6fe0"/>
<rect x="606.78" y="578.6" width="94.18" height="20.48" fill="#fff"/>
<rect x="700.96" y="578.6" width="4.09" height="20.48" fill="#1f6fe0"/>
<rect x="705.06" y="578.6" width="12.28" height="20.48" fill="#fff"/>
<rect x="717.34" y="578.6" width="4.09" height="20.48" fill="#1f6fe0"/>
<rect x="721.44" y="578.6" width="36.85" height="20.48" fill="#fff"/>
<rect x="758.29" y="578.6" width="4.09" height="20.48" fill="#1f6fe0"/>
<rect x="762.39" y="578.6" width="61.42" height="20.48" fill="#fff"/>
<rect x="823.81" y="578.6" width="4.09" height="20.48" fill="#1f6fe0"/>
<rect x="827.9" y="578.6" width="200.64" height="20.48" fill="#fff"/>
<rect x="1028.55" y="578.6" width="8.19" height="20.48" fill="#1f6fe0"/>
<rect x="1036.74" y="578.6" width="159.7" height="20.48" fill="#fff"/>
<rect x="1196.44" y="578.6" width="4.09" height="20.48" fill="#1f6fe0"/>
<rect x="1200.53" y="578.6" width="20.47" height="20.48" fill="#fff"/>
<rect x="1221" y="578.6" width="4.09" height="20.48" fill="#1f6fe0"/>
<rect x="1225.1" y="578.6" width="85.99" height="20.48" fill="#fff"/>
<rect x="1311.09" y="578.6" width="4.09" height="20.48" fill="#1f6fe0"/>
<rect x="1315.18" y="578.6" width="106.46" height="20.48" fill="#fff"/>
<rect x="1421.65" y="578.6" width="4.09" height="20.48" fill="#1f6fe0"/>
<rect x="1425.74" y="578.6" width="270.26" height="20.48" fill="#fff"/>
<path d="M201.4 578.6v20.48M205.49 578.6v20.48M209.59 578.6v20.48M213.68 578.6v20.48M217.78 578.6v20.48M221.87 578.6v20.48M225.97 578.6v20.48M230.06 578.6v20.48M234.16 578.6v20.48M238.25 578.6v20.48M242.35 578.6v20.48M246.44 578.6v20.48M250.54 578.6v20.48M254.63 578.6v20.48M258.73 578.6v20.48M262.82 578.6v20.48M266.92 578.6v20.48M271.01 578.6v20.48M275.11 578.6v20.48M279.2 578.6v20.48M283.3 578.6v20.48M287.39 578.6v20.48M291.49 578.6v20.48M295.58 578.6v20.48M299.68 578.6v20.48M303.77 578.6v20.48M307.86 578.6v20.48M311.96 578.6v20.48M316.05 578.6v20.48M320.15 578.6v20.48M324.24 578.6v20.48M328.34 578.6v20.48M332.43 578.6v20.48M336.53 578.6v20.48M340.62 578.6v20.48M344.72 578.6v20.48M348.81 578.6v20.48M352.91 578.6v20.48M357 578.6v20.48M361.1 578.6v20.48M365.19 578.6v20.48M369.29 578.6v20.48M373.38 578.6v20.48M377.48 578.6v20.48M381.57 578.6v20.48M385.67 578.6v20.48M389.76 578.6v20.48M393.86 578.6v20.48M397.95 578.6v20.48M402.04 578.6v20.48M406.14 578.6v20.48M410.23 578.6v20.48M414.33 578.6v20.48M418.42 578.6v20.48M422.52 578.6v20.48M426.61 578.6v20.48M430.71 578.6v20.48M434.8 578.6v20.48M438.9 578.6v20.48M442.99 578.6v20.48M447.09 578.6v20.48M451.18 578.6v20.48M455.28 578.6v20.48M459.37 578.6v20.48M463.47 578.6v20.48M467.56 578.6v20.48M471.66 578.6v20.48M475.75 578.6v20.48M479.85 578.6v20.48M483.94 578.6v20.48M488.04 578.6v20.48M492.13 578.6v20.48M496.23 578.6v20.48M500.32 578.6v20.48M504.41 578.6v20.48M508.51 578.6v20.48M512.6 578.6v20.48M516.7 578.6v20.48M520.79 578.6v20.48M524.89 578.6v20.48M528.98 578.6v20.48M533.08 578.6v20.48M537.17 578.6v20.48M541.27 578.6v20.48M545.36 578.6v20.48M549.46 578.6v20.48M553.55 578.6v20.48M557.65 578.6v20.48M561.74 578.6v20.48M565.84 578.6v20.48M569.93 578.6v20.48M574.03 578.6v20.48M578.12 578.6v20.48M582.22 578.6v20.48M586.31 578.6v20.48M590.41 578.6v20.48M594.5 578.6v20.48M598.6 578.6v20.48M602.69 578.6v20.48M606.78 578.6v20.48M610.88 578.6v20.48M614.97 578.6v20.48M619.07 578.6v20.48M623.16 578.6v20.48M627.26 578.6v20.48M631.35 578.6v20.48M635.45 578.6v20.48M639.54 578.6v20.48M643.64 578.6v20.48M647.73 578.6v20.48M651.83 578.6v20.48M655.92 578.6v20.48M660.02 578.6v20.48M664.11 578.6v20.48M668.21 578.6v20.48M672.3 578.6v20.48M676.4 578.6v20.48M680.49 578.6v20.48M684.59 578.6v20.48M688.68 578.6v20.48M692.78 578.6v20.48M696.87 578.6v20.48M700.96 578.6v20.48M705.06 578.6v20.48M709.15 578.6v20.48M713.25 578.6v20.48M717.34 578.6v20.48M721.44 578.6v20.48M725.53 578.6v20.48M729.63 578.6v20.48M733.72 578.6v20.48M737.82 578.6v20.48M741.91 578.6v20.48M746.01 578.6v20.48M750.1 578.6v20.48M754.2 578.6v20.48M758.29 578.6v20.48M762.39 578.6v20.48M766.48 578.6v20.48M770.58 578.6v20.48M774.67 578.6v20.48M778.77 578.6v20.48M782.86 578.6v20.48M786.96 578.6v20.48M791.05 578.6v20.48M795.15 578.6v20.48M799.24 578.6v20.48M803.33 578.6v20.48M807.43 578.6v20.48M811.52 578.6v20.48M815.62 578.6v20.48M819.71 578.6v20.48M823.81 578.6v20.48M827.9 578.6v20.48M832 578.6v20.48M836.09 578.6v20.48M840.19 578.6v20.48M844.28 578.6v20.48M848.38 578.6v20.48M852.47 578.6v20.48M856.57 578.6v20.48M860.66 578.6v20.48M864.76 578.6v20.48M868.85 578.6v20.48M872.95 578.6v20.48M877.04 578.6v20.48M881.14 578.6v20.48M885.23 578.6v20.48M889.33 578.6v20.48M893.42 578.6v20.48M897.52 578.6v20.48M901.61 578.6v20.48M905.7 578.6v20.48M909.8 578.6v20.48M913.89 578.6v20.48M917.99 578.6v20.48M922.08 578.6v20.48M926.18 578.6v20.48M930.27 578.6v20.48M934.37 578.6v20.48M938.46 578.6v20.48M942.56 578.6v20.48M946.65 578.6v20.48M950.75 578.6v20.48M954.84 578.6v20.48M958.94 578.6v20.48M963.03 578.6v20.48M967.13 578.6v20.48M971.22 578.6v20.48M975.32 578.6v20.48M979.41 578.6v20.48M983.51 578.6v20.48M987.6 578.6v20.48M991.7 578.6v20.48M995.79 578.6v20.48M999.88 578.6v20.48M1003.98 578.6v20.48M1008.07 578.6v20.48M1012.17 578.6v20.48M1016.26 578.6v20.48M1020.36 578.6v20.48M1024.45 578.6v20.48M1028.55 578.6v20.48M1032.64 578.6v20.48M1036.74 578.6v20.48M1040.83 578.6v20.48M1044.93 578.6v20.48M1049.02 578.6v20.48M1053.12 578.6v20.48M1057.21 578.6v20.48M1061.31 578.6v20.48M1065.4 578.6v20.48M1069.5 578.6v20.48M1073.59 578.6v20.48M1077.69 578.6v20.48M1081.78 578.6v20.48M1085.88 578.6v20.48M1089.97 578.6v20.48M1094.07 578.6v20.48M1098.16 578.6v20.48M1102.25 578.6v20.48M1106.35 578.6v20.48M1110.44 578.6v20.48M1114.54 578.6v20.48M1118.63 578.6v20.48M1122.73 578.6v20.48M1126.82 578.6v20.48M1130.92 578.6v20.48M1135.01 578.6v20.48M1139.11 578.6v20.48M1143.2 578.6v20.48M1147.3 578.6v20.48M1151.39 578.6v20.48M1155.49 578.6v20.48M1159.58 578.6v20.48M1163.68 578.6v20.48M1167.77 578.6v20.48M1171.87 578.6v20.48M1175.96 578.6v20.48M1180.06 578.6v20.48M1184.15 578.6v20.48M1188.25 578.6v20.48M1192.34 578.6v20.48M1196.44 578.6v20.48M1200.53 578.6v20.48M1204.62 578.6v20.48M1208.72 578.6v20.48M1212.81 578.6v20.48M1216.91 578.6v20.48M1221 578.6v20.48M1225.1 578.6v20.48M1229.19 578.6v20.48M1233.29 578.6v20.48M1237.38 578.6v20.48M1241.48 578.6v20.48M1245.57 578.6v20.48M1249.67 578.6v20.48M1253.76 578.6v20.48M1257.86 578.6v20.48M1261.95 578.6v20.48M1266.05 578.6v20.48M1270.14 578.6v20.48M1274.24 578.6v20.48M1278.33 578.6v20.48M1282.43 578.6v20.48M1286.52 578.6v20.48M1290.62 578.6v20.48M1294.71 578.6v20.48M1298.8 578.6v20.48M1302.9 578.6v20.48M1306.99 578.6v20.48M1311.09 578.6v20.48M1315.18 578.6v20.48M1319.28 578.6v20.48M1323.37 578.6v20.48M1327.47 578.6v20.48M1331.56 578.6v20.48M1335.66 578.6v20.48M1339.75 578.6v20.48M1343.85 578.6v20.48M1347.94 578.6v20.48M1352.04 578.6v20.48M1356.13 578.6v20.48M1360.23 578.6v20.48M1364.32 578.6v20.48M1368.42 578.6v20.48M1372.51 578.6v20.48M1376.61 578.6v20.48M1380.7 578.6v20.48M1384.8 578.6v20.48M1388.89 578.6v20.48M1392.99 578.6v20.48M1397.08 578.6v20.48M1401.17 578.6v20.48M1405.27 578.6v20.48M1409.36 578.6v20.48M1413.46 578.6v20.48M1417.55 578.6v20.48M1421.65 578.6v20.48M1425.74 578.6v20.48M1429.84 578.6v20.48M1433.93 578.6v20.48M1438.03 578.6v20.48M1442.12 578.6v20.48M1446.22 578.6v20.48M1450.31 578.6v20.48M1454.41 578.6v20.48M1458.5 578.6v20.48M1462.6 578.6v20.48M1466.69 578.6v20.48M1470.79 578.6v20.48M1474.88 578.6v20.48M1478.98 578.6v20.48M1483.07 578.6v20.48M1487.17 578.6v20.48M1491.26 578.6v20.48M1495.36 578.6v20.48M1499.45 578.6v20.48M1503.54 578.6v20.48M1507.64 578.6v20.48M1511.73 578.6v20.48M1515.83 578.6v20.48M1519.92 578.6v20.48M1524.02 578.6v20.48M1528.11 578.6v20.48M1532.21 578.6v20.48M1536.3 578.6v20.48M1540.4 578.6v20.48M1544.49 578.6v20.48M1548.59 578.6v20.48M1552.68 578.6v20.48M1556.78 578.6v20.48M1560.87 578.6v20.48M1564.97 578.6v20.48M1569.06 578.6v20.48M1573.16 578.6v20.48M1577.25 578.6v20.48M1581.35 578.6v20.48M1585.44 578.6v20.48M1589.54 578.6v20.48M1593.63 578.6v20.48M1597.72 578.6v20.48M1601.82 578.6v20.48M1605.91 578.6v20.48M1610.01 578.6v20.48M1614.1 578.6v20.48M1618.2 578.6v20.48M1622.29 578.6v20.48M1626.39 578.6v20.48M1630.48 578.6v20.48M1634.58 578.6v20.48M1638.67 578.6v20.48M1642.77 578.6v20.48M1646.86 578.6v20.48M1650.96 578.6v20.48M1655.05 578.6v20.48M1659.15 578.6v20.48M1663.24 578.6v20.48M1667.34 578.6v20.48M1671.43 578.6v20.48M1675.53 578.6v20.48M1679.62 578.6v20.48M1683.72 578.6v20.48M1687.81 578.6v20.48M1691.91 578.6v20.48M1696 578.6v20.48" stroke="#9a9a9a" stroke-width="0.45" fill="none"/>
<rect x="201.4" y="599.08" width="4.09" height="20.48" fill="#1f6fe0"/>
<rect x="205.49" y="599.08" width="8.19" height="20.48" fill="#fff"/>
<rect x="213.68" y="599.08" width="4.09" height="20.48" fill="#1f6fe0"/>
<rect x="217.78" y="599.08" width="4.09" height="20.48" fill="#fff"/>
<rect x="221.87" y="599.08" width="16.38" height="20.48" fill="#1f6fe0"/>
<rect x="238.25" y="599.08" width="12.28" height="20.48" fill="#fff"/>
<rect x="250.54" y="599.08" width="4.09" height="20.48" fill="#1f6fe0"/>
<rect x="254.63" y="599.08" width="8.19" height="20.48" fill="#fff"/>
<rect x="262.82" y="599.08" width="4.09" height="20.48" fill="#1f6fe0"/>
<rect x="266.92" y="599.08" width="4.09" height="20.48" fill="#fff"/>
<rect x="271.01" y="599.08" width="8.19" height="20.48" fill="#1f6fe0"/>
<rect x="279.2" y="599.08" width="4.09" height="20.48" fill="#fff"/>
<rect x="283.3" y="599.08" width="8.19" height="20.48" fill="#1f6fe0"/>
<rect x="291.49" y="599.08" width="4.09" height="20.48" fill="#fff"/>
<rect x="295.58" y="599.08" width="4.09" height="20.48" fill="#1f6fe0"/>
<rect x="299.68" y="599.08" width="24.57" height="20.48" fill="#fff"/>
<rect x="324.24" y="599.08" width="4.09" height="20.48" fill="#1f6fe0"/>
<rect x="328.34" y="599.08" width="12.28" height="20.48" fill="#fff"/>
<rect x="340.62" y="599.08" width="4.09" height="20.48" fill="#1f6fe0"/>
<rect x="344.72" y="599.08" width="8.19" height="20.48" fill="#fff"/>
<rect x="352.91" y="599.08" width="12.28" height="20.48" fill="#1f6fe0"/>
<rect x="365.19" y="599.08" width="4.09" height="20.48" fill="#fff"/>
<rect x="369.29" y="599.08" width="4.09" height="20.48" fill="#1f6fe0"/>
<rect x="373.38" y="599.08" width="4.09" height="20.48" fill="#fff"/>
<rect x="377.48" y="599.08" width="4.09" height="20.48" fill="#1f6fe0"/>
<rect x="381.57" y="599.08" width="4.09" height="20.48" fill="#fff"/>
<rect x="385.67" y="599.08" width="4.09" height="20.48" fill="#1f6fe0"/>
<rect x="389.76" y="599.08" width="8.19" height="20.48" fill="#fff"/>
<rect x="397.95" y="599.08" width="12.28" height="20.48" fill="#1f6fe0"/>
<rect x="410.23" y="599.08" width="36.85" height="20.48" fill="#fff"/>
<rect x="447.09" y="599.08" width="8.19" height="20.48" fill="#1f6fe0"/>
<rect x="455.28" y="599.08" width="4.09" height="20.48" fill="#fff"/>
<rect x="459.37" y="599.08" width="8.19" height="20.48" fill="#1f6fe0"/>
<rect x="467.56" y="599.08" width="4.09" height="20.48" fill="#fff"/>
<rect x="471.66" y="599.08" width="4.09" height="20.48" fill="#1f6fe0"/>
<rect x="475.75" y="599.08" width="4.09" height="20.48" fill="#fff"/>
<rect x="479.85" y="599.08" width="12.28" height="20.48" fill="#1f6fe0"/>
<rect x="492.13" y="599.08" width="16.38" height="20.48" fill="#fff"/>
<rect x="508.51" y="599.08" width="8.19" height="20.48" fill="#1f6fe0"/>
<rect x="516.7" y="599.08" width="4.09" height="20.48" fill="#fff"/>
<rect x="520.79" y="599.08" width="4.09" height="20.48" fill="#1f6fe0"/>
<rect x="524.89" y="599.08" width="12.28" height="20.48" fill="#fff"/>
<rect x="537.17" y="599.08" width="4.09" height="20.48" fill="#1f6fe0"/>
<rect x="541.27" y="599.08" width="4.09" height="20.48" fill="#fff"/>
<rect x="545.36" y="599.08" width="12.28" height="20.48" fill="#1f6fe0"/>
<rect x="557.65" y="599.08" width="4.09" height="20.48" fill="#fff"/>
<rect x="561.74" y="599.08" width="12.28" height="20.48" fill="#1f6fe0"/>
<rect x="574.03" y="599.08" width="4.09" height="20.48" fill="#fff"/>
<rect x="578.12" y="599.08" width="4.09" height="20.48" fill="#1f6fe0"/>
<rect x="582.22" y="599.08" width="16.38" height="20.48" fill="#fff"/>
<rect x="598.6" y="599.08" width="12.28" height="20.48" fill="#1f6fe0"/>
<rect x="610.88" y="599.08" width="4.09" height="20.48" fill="#fff"/>
<rect x="614.97" y="599.08" width="4.09" height="20.48" fill="#1f6fe0"/>
<rect x="619.07" y="599.08" width="4.09" height="20.48" fill="#fff"/>
<rect x="623.16" y="599.08" width="12.28" height="20.48" fill="#1f6fe0"/>
<rect x="635.45" y="599.08" width="8.19" height="20.48" fill="#fff"/>
<rect x="643.64" y="599.08" width="4.09" height="20.48" fill="#1f6fe0"/>
<rect x="647.73" y="599.08" width="16.38" height="20.48" fill="#fff"/>
<rect x="664.11" y="599.08" width="4.09" height="20.48" fill="#1f6fe0"/>
<rect x="668.21" y="599.08" width="8.19" height="20.48" fill="#fff"/>
<rect x="676.4" y="599.08" width="4.09" height="20.48" fill="#1f6fe0"/>
<rect x="680.49" y="599.08" width="8.19" height="20.48" fill="#fff"/>
<rect x="688.68" y="599.08" width="8.19" height="20.48" fill="#1f6fe0"/>
<rect x="696.87" y="599.08" width="20.47" height="20.48" fill="#fff"/>
<rect x="717.34" y="599.08" width="4.09" height="20.48" fill="#1f6fe0"/>
<rect x="721.44" y="599.08" width="28.66" height="20.48" fill="#fff"/>
<rect x="750.1" y="599.08" width="4.09" height="20.48" fill="#1f6fe0"/>
<rect x="754.2" y="599.08" width="4.09" height="20.48" fill="#fff"/>
<rect x="758.29" y="599.08" width="8.19" height="20.48" fill="#1f6fe0"/>
<rect x="766.48" y="599.08" width="16.38" height="20.48" fill="#fff"/>
<rect x="782.86" y="599.08" width="4.09" height="20.48" fill="#1f6fe0"/>
<rect x="786.96" y="599.08" width="4.09" height="20.48" fill="#fff"/>
<rect x="791.05" y="599.08" width="4.09" height="20.48" fill="#1f6fe0"/>
<rect x="795.15" y="599.08" width="4.09" height="20.48" fill="#fff"/>
<rect x="799.24" y="599.08" width="12.28" height="20.48" fill="#1f6fe0"/>
<rect x="811.52" y="599.08" width="4.09" height="20.48" fill="#fff"/>
<rect x="815.62" y="599.08" width="8.19" height="20.48" fill="#1f6fe0"/>
<rect x="823.81" y="599.08" width="16.38" height="20.48" fill="#fff"/>
<rect x="840.19" y="599.08" width="4.09" height="20.48" fill="#1f6fe0"/>
<rect x="844.28" y="599.08" width="20.47" height="20.48" fill="#fff"/>
<rect x="864.76" y="599.08" width="4.09" height="20.48" fill="#1f6fe0"/>
<rect x="868.85" y="599.08" width="8.19" height="20.48" fill="#fff"/>
<rect x="877.04" y="599.08" width="4.09" height="20.48" fill="#1f6fe0"/>
<rect x="881.14" y="599.08" width="12.28" height="20.48" fill="#fff"/>
<rect x="893.42" y="599.08" width="4.09" height="20.48" fill="#1f6fe0"/>
<rect x="897.52" y="599.08" width="12.28" height="20.48" fill="#fff"/>
<rect x="909.8" y="599.08" width="4.09" height="20.48" fill="#1f6fe0"/>
<rect x="913.89" y="599.08" width="20.47" height="20.48" fill="#fff"/>
<rect x="934.37" y="599.08" width="4.09" height="20.48" fill="#1f6fe0"/>
<rect x="938.46" y="599.08" width="20.47" height="20.48" fill="#fff"/>
<rect x="958.94" y="599.08" width="4.09" height="20.48" fill="#1f6fe0"/>
<rect x="963.03" y="599.08" width="24.57" height="20.48" fill="#fff"/>
<rect x="987.6" y="599.08" width="12.28" height="20.48" fill="#1f6fe0"/>
<rect x="999.88" y="599.08" width="32.76" height="20.48" fill="#fff"/>
<rect x="1032.64" y="599.08" width="8.19" height="20.48" fill="#1f6fe0"/>
<rect x="1040.83" y="599.08" width="8.19" height="20.48" fill="#fff"/>
<rect x="1049.02" y="599.08" width="4.09" height="20.48" fill="#1f6fe0"/>
<rect x="1053.12" y="599.08" width="4.09" height="20.48" fill="#fff"/>
<rect x="1057.21" y="599.08" width="12.28" height="20.48" fill="#1f6fe0"/>
<rect x="1069.5" y="599.08" width="8.19" height="20.48" fill="#fff"/>
<rect x="1077.69" y="599.08" width="4.09" height="20.48" fill="#1f6fe0"/>
<rect x="1081.78" y="599.08" width="12.28" height="20.48" fill="#fff"/>
<rect x="1094.07" y="599.08" width="4.09" height="20.48" fill="#1f6fe0"/>
<rect x="1098.16" y="599.08" width="4.09" height="20.48" fill="#fff"/>
<rect x="1102.25" y="599.08" width="4.09" height="20.48" fill="#1f6fe0"/>
<rect x="1106.35" y="599.08" width="4.09" height="20.48" fill="#fff"/>
<rect x="1110.44" y="599.08" width="4.09" height="20.48" fill="#1f6fe0"/>
<rect x="1114.54" y="599.08" width="36.85" height="20.48" fill="#fff"/>
<rect x="1151.39" y="599.08" width="8.19" height="20.48" fill="#1f6fe0"/>
<rect x="1159.58" y="599.08" width="24.57" height="20.48" fill="#fff"/>
<rect x="1184.15" y="599.08" width="4.09" height="20.48" fill="#1f6fe0"/>
<rect x="1188.25" y="599.08" width="8.19" height="20.48" fill="#fff"/>
<rect x="1196.44" y="599.08" width="4.09" height="20.48" fill="#1f6fe0"/>
<rect x="1200.53" y="599.08" width="20.47" height="20.48" fill="#fff"/>
<rect x="1221" y="599.08" width="4.09" height="20.48" fill="#1f6fe0"/>
<rect x="1225.1" y="599.08" width="4.09" height="20.48" fill="#fff"/>
<rect x="1229.19" y="599.08" width="4.09" height="20.48" fill="#1f6fe0"/>
<rect x="1233.29" y="599.08" width="8.19" height="20.48" fill="#fff"/>
<rect x="1241.48" y="599.08" width="4.09" height="20.48" fill="#1f6fe0"/>
<rect x="1245.57" y="599.08" width="4.09" height="20.48" fill="#fff"/>
<rect x="1249.67" y="599.08" width="4.09" height="20.48" fill="#1f6fe0"/>
<rect x="1253.76" y="599.08" width="8.19" height="20.48" fill="#fff"/>
<rect x="1261.95" y="599.08" width="4.09" height="20.48" fill="#1f6fe0"/>
<rect x="1266.05" y="599.08" width="24.57" height="20.48" fill="#fff"/>
<rect x="1290.62" y="599.08" width="4.09" height="20.48" fill="#1f6fe0"/>
<rect x="1294.71" y="599.08" width="8.19" height="20.48" fill="#fff"/>
<rect x="1302.9" y="599.08" width="4.09" height="20.48" fill="#1f6fe0"/>
<rect x="1306.99" y="599.08" width="4.09" height="20.48" fill="#fff"/>
<rect x="1311.09" y="599.08" width="4.09" height="20.48" fill="#1f6fe0"/>
<rect x="1315.18" y="599.08" width="8.19" height="20.48" fill="#fff"/>
<rect x="1323.37" y="599.08" width="4.09" height="20.48" fill="#1f6fe0"/>
<rect x="1327.47" y="599.08" width="4.09" height="20.48" fill="#fff"/>
<rect x="1331.56" y="599.08" width="8.19" height="20.48" fill="#1f6fe0"/>
<rect x="1339.75" y="599.08" width="4.09" height="20.48" fill="#fff"/>
<rect x="1343.85" y="599.08" width="20.47" height="20.48" fill="#1f6fe0"/>
<rect x="1364.32" y="599.08" width="45.04" height="20.48" fill="#fff"/>
<rect x="1409.36" y="599.08" width="4.09" height="20.48" fill="#1f6fe0"/>
<rect x="1413.46" y="599.08" width="4.09" height="20.48" fill="#fff"/>
<rect x="1417.55" y="599.08" width="4.09" height="20.48" fill="#1f6fe0"/>
<rect x="1421.65" y="599.08" width="32.76" height="20.48" fill="#fff"/>
<rect x="1454.41" y="599.08" width="4.09" height="20.48" fill="#1f6fe0"/>
<rect x="1458.5" y="599.08" width="8.19" height="20.48" fill="#fff"/>
<rect x="1466.69" y="599.08" width="8.19" height="20.48" fill="#1f6fe0"/>
<rect x="1474.88" y="599.08" width="4.09" height="20.48" fill="#fff"/>
<rect x="1478.98" y="599.08" width="4.09" height="20.48" fill="#1f6fe0"/>
<rect x="1483.07" y="599.08" width="36.85" height="20.48" fill="#fff"/>
<rect x="1519.92" y="599.08" width="4.09" height="20.48" fill="#1f6fe0"/>
<rect x="1524.02" y="599.08" width="4.09" height="20.48" fill="#fff"/>
<rect x="1528.11" y="599.08" width="4.09" height="20.48" fill="#1f6fe0"/>
<rect x="1532.21" y="599.08" width="12.28" height="20.48" fill="#fff"/>
<rect x="1544.49" y="599.08" width="8.19" height="20.48" fill="#1f6fe0"/>
<rect x="1552.68" y="599.08" width="32.76" height="20.48" fill="#fff"/>
<rect x="1585.44" y="599.08" width="4.09" height="20.48" fill="#1f6fe0"/>
<rect x="1589.54" y="599.08" width="8.19" height="20.48" fill="#fff"/>
<rect x="1597.72" y="599.08" width="4.09" height="20.48" fill="#1f6fe0"/>
<rect x="1601.82" y="599.08" width="4.09" height="20.48" fill="#fff"/>
<rect x="1605.91" y="599.08" width="4.09" height="20.48" fill="#1f6fe0"/>
<rect x="1610.01" y="599.08" width="16.38" height="20.48" fill="#fff"/>
<rect x="1626.39" y="599.08" width="4.09" height="20.48" fill="#1f6fe0"/>
<rect x="1630.48" y="599.08" width="24.57" height="20.48" fill="#fff"/>
<rect x="1655.05" y="599.08" width="4.09" height="20.48" fill="#1f6fe0"/>
<rect x="1659.15" y="599.08" width="4.09" height="20.48" fill="#fff"/>
<rect x="1663.24" y="599.08" width="4.09" height="20.48" fill="#1f6fe0"/>
<rect x="1667.34" y="599.08" width="16.38" height="20.48" fill="#fff"/>
<rect x="1683.72" y="599.08" width="4.09" height="20.48" fill="#1f6fe0"/>
<rect x="1687.81" y="599.08" width="8.19" height="20.48" fill="#fff"/>
<path d="M201.4 599.08v20.48M205.49 599.08v20.48M209.59 599.08v20.48M213.68 599.08v20.48M217.78 599.08v20.48M221.87 599.08v20.48M225.97 599.08v20.48M230.06 599.08v20.48M234.16 599.08v20.48M238.25 599.08v20.48M242.35 599.08v20.48M246.44 599.08v20.48M250.54 599.08v20.48M254.63 599.08v20.48M258.73 599.08v20.48M262.82 599.08v20.48M266.92 599.08v20.48M271.01 599.08v20.48M275.11 599.08v20.48M279.2 599.08v20.48M283.3 599.08v20.48M287.39 599.08v20.48M291.49 599.08v20.48M295.58 599.08v20.48M299.68 599.08v20.48M303.77 599.08v20.48M307.86 599.08v20.48M311.96 599.08v20.48M316.05 599.08v20.48M320.15 599.08v20.48M324.24 599.08v20.48M328.34 599.08v20.48M332.43 599.08v20.48M336.53 599.08v20.48M340.62 599.08v20.48M344.72 599.08v20.48M348.81 599.08v20.48M352.91 599.08v20.48M357 599.08v20.48M361.1 599.08v20.48M365.19 599.08v20.48M369.29 599.08v20.48M373.38 599.08v20.48M377.48 599.08v20.48M381.57 599.08v20.48M385.67 599.08v20.48M389.76 599.08v20.48M393.86 599.08v20.48M397.95 599.08v20.48M402.04 599.08v20.48M406.14 599.08v20.48M410.23 599.08v20.48M414.33 599.08v20.48M418.42 599.08v20.48M422.52 599.08v20.48M426.61 599.08v20.48M430.71 599.08v20.48M434.8 599.08v20.48M438.9 599.08v20.48M442.99 599.08v20.48M447.09 599.08v20.48M451.18 599.08v20.48M455.28 599.08v20.48M459.37 599.08v20.48M463.47 599.08v20.48M467.56 599.08v20.48M471.66 599.08v20.48M475.75 599.08v20.48M479.85 599.08v20.48M483.94 599.08v20.48M488.04 599.08v20.48M492.13 599.08v20.48M496.23 599.08v20.48M500.32 599.08v20.48M504.41 599.08v20.48M508.51 599.08v20.48M512.6 599.08v20.48M516.7 599.08v20.48M520.79 599.08v20.48M524.89 599.08v20.48M528.98 599.08v20.48M533.08 599.08v20.48M537.17 599.08v20.48M541.27 599.08v20.48M545.36 599.08v20.48M549.46 599.08v20.48M553.55 599.08v20.48M557.65 599.08v20.48M561.74 599.08v20.48M565.84 599.08v20.48M569.93 599.08v20.48M574.03 599.08v20.48M578.12 599.08v20.48M582.22 599.08v20.48M586.31 599.08v20.48M590.41 599.08v20.48M594.5 599.08v20.48M598.6 599.08v20.48M602.69 599.08v20.48M606.78 599.08v20.48M610.88 599.08v20.48M614.97 599.08v20.48M619.07 599.08v20.48M623.16 599.08v20.48M627.26 599.08v20.48M631.35 599.08v20.48M635.45 599.08v20.48M639.54 599.08v20.48M643.64 599.08v20.48M647.73 599.08v20.48M651.83 599.08v20.48M655.92 599.08v20.48M660.02 599.08v20.48M664.11 599.08v20.48M668.21 599.08v20.48M672.3 599.08v20.48M676.4 599.08v20.48M680.49 599.08v20.48M684.59 599.08v20.48M688.68 599.08v20.48M692.78 599.08v20.48M696.87 599.08v20.48M700.96 599.08v20.48M705.06 599.08v20.48M709.15 599.08v20.48M713.25 599.08v20.48M717.34 599.08v20.48M721.44 599.08v20.48M725.53 599.08v20.48M729.63 599.08v20.48M733.72 599.08v20.48M737.82 599.08v20.48M741.91 599.08v20.48M746.01 599.08v20.48M750.1 599.08v20.48M754.2 599.08v20.48M758.29 599.08v20.48M762.39 599.08v20.48M766.48 599.08v20.48M770.58 599.08v20.48M774.67 599.08v20.48M778.77 599.08v20.48M782.86 599.08v20.48M786.96 599.08v20.48M791.05 599.08v20.48M795.15 599.08v20.48M799.24 599.08v20.48M803.33 599.08v20.48M807.43 599.08v20.48M811.52 599.08v20.48M815.62 599.08v20.48M819.71 599.08v20.48M823.81 599.08v20.48M827.9 599.08v20.48M832 599.08v20.48M836.09 599.08v20.48M840.19 599.08v20.48M844.28 599.08v20.48M848.38 599.08v20.48M852.47 599.08v20.48M856.57 599.08v20.48M860.66 599.08v20.48M864.76 599.08v20.48M868.85 599.08v20.48M872.95 599.08v20.48M877.04 599.08v20.48M881.14 599.08v20.48M885.23 599.08v20.48M889.33 599.08v20.48M893.42 599.08v20.48M897.52 599.08v20.48M901.61 599.08v20.48M905.7 599.08v20.48M909.8 599.08v20.48M913.89 599.08v20.48M917.99 599.08v20.48M922.08 599.08v20.48M926.18 599.08v20.48M930.27 599.08v20.48M934.37 599.08v20.48M938.46 599.08v20.48M942.56 599.08v20.48M946.65 599.08v20.48M950.75 599.08v20.48M954.84 599.08v20.48M958.94 599.08v20.48M963.03 599.08v20.48M967.13 599.08v20.48M971.22 599.08v20.48M975.32 599.08v20.48M979.41 599.08v20.48M983.51 599.08v20.48M987.6 599.08v20.48M991.7 599.08v20.48M995.79 599.08v20.48M999.88 599.08v20.48M1003.98 599.08v20.48M1008.07 599.08v20.48M1012.17 599.08v20.48M1016.26 599.08v20.48M1020.36 599.08v20.48M1024.45 599.08v20.48M1028.55 599.08v20.48M1032.64 599.08v20.48M1036.74 599.08v20.48M1040.83 599.08v20.48M1044.93 599.08v20.48M1049.02 599.08v20.48M1053.12 599.08v20.48M1057.21 599.08v20.48M1061.31 599.08v20.48M1065.4 599.08v20.48M1069.5 599.08v20.48M1073.59 599.08v20.48M1077.69 599.08v20.48M1081.78 599.08v20.48M1085.88 599.08v20.48M1089.97 599.08v20.48M1094.07 599.08v20.48M1098.16 599.08v20.48M1102.25 599.08v20.48M1106.35 599.08v20.48M1110.44 599.08v20.48M1114.54 599.08v20.48M1118.63 599.08v20.48M1122.73 599.08v20.48M1126.82 599.08v20.48M1130.92 599.08v20.48M1135.01 599.08v20.48M1139.11 599.08v20.48M1143.2 599.08v20.48M1147.3 599.08v20.48M1151.39 599.08v20.48M1155.49 599.08v20.48M1159.58 599.08v20.48M1163.68 599.08v20.48M1167.77 599.08v20.48M1171.87 599.08v20.48M1175.96 599.08v20.48M1180.06 599.08v20.48M1184.15 599.08v20.48M1188.25 599.08v20.48M1192.34 599.08v20.48M1196.44 599.08v20.48M1200.53 599.08v20.48M1204.62 599.08v20.48M1208.72 599.08v20.48M1212.81 599.08v20.48M1216.91 599.08v20.48M1221 599.08v20.48M1225.1 599.08v20.48M1229.19 599.08v20.48M1233.29 599.08v20.48M1237.38 599.08v20.48M1241.48 599.08v20.48M1245.57 599.08v20.48M1249.67 599.08v20.48M1253.76 599.08v20.48M1257.86 599.08v20.48M1261.95 599.08v20.48M1266.05 599.08v20.48M1270.14 599.08v20.48M1274.24 599.08v20.48M1278.33 599.08v20.48M1282.43 599.08v20.48M1286.52 599.08v20.48M1290.62 599.08v20.48M1294.71 599.08v20.48M1298.8 599.08v20.48M1302.9 599.08v20.48M1306.99 599.08v20.48M1311.09 599.08v20.48M1315.18 599.08v20.48M1319.28 599.08v20.48M1323.37 599.08v20.48M1327.47 599.08v20.48M1331.56 599.08v20.48M1335.66 599.08v20.48M1339.75 599.08v20.48M1343.85 599.08v20.48M1347.94 599.08v20.48M1352.04 599.08v20.48M1356.13 599.08v20.48M1360.23 599.08v20.48M1364.32 599.08v20.48M1368.42 599.08v20.48M1372.51 599.08v20.48M1376.61 599.08v20.48M1380.7 599.08v20.48M1384.8 599.08v20.48M1388.89 599.08v20.48M1392.99 599.08v20.48M1397.08 599.08v20.48M1401.17 599.08v20.48M1405.27 599.08v20.48M1409.36 599.08v20.48M1413.46 599.08v20.48M1417.55 599.08v20.48M1421.65 599.08v20.48M1425.74 599.08v20.48M1429.84 599.08v20.48M1433.93 599.08v20.48M1438.03 599.08v20.48M1442.12 599.08v20.48M1446.22 599.08v20.48M1450.31 599.08v20.48M1454.41 599.08v20.48M1458.5 599.08v20.48M1462.6 599.08v20.48M1466.69 599.08v20.48M1470.79 599.08v20.48M1474.88 599.08v20.48M1478.98 599.08v20.48M1483.07 599.08v20.48M1487.17 599.08v20.48M1491.26 599.08v20.48M1495.36 599.08v20.48M1499.45 599.08v20.48M1503.54 599.08v20.48M1507.64 599.08v20.48M1511.73 599.08v20.48M1515.83 599.08v20.48M1519.92 599.08v20.48M1524.02 599.08v20.48M1528.11 599.08v20.48M1532.21 599.08v20.48M1536.3 599.08v20.48M1540.4 599.08v20.48M1544.49 599.08v20.48M1548.59 599.08v20.48M1552.68 599.08v20.48M1556.78 599.08v20.48M1560.87 599.08v20.48M1564.97 599.08v20.48M1569.06 599.08v20.48M1573.16 599.08v20.48M1577.25 599.08v20.48M1581.35 599.08v20.48M1585.44 599.08v20.48M1589.54 599.08v20.48M1593.63 599.08v20.48M1597.72 599.08v20.48M1601.82 599.08v20.48M1605.91 599.08v20.48M1610.01 599.08v20.48M1614.1 599.08v20.48M1618.2 599.08v20.48M1622.29 599.08v20.48M1626.39 599.08v20.48M1630.48 599.08v20.48M1634.58 599.08v20.48M1638.67 599.08v20.48M1642.77 599.08v20.48M1646.86 599.08v20.48M1650.96 599.08v20.48M1655.05 599.08v20.48M1659.15 599.08v20.48M1663.24 599.08v20.48M1667.34 599.08v20.48M1671.43 599.08v20.48M1675.53 599.08v20.48M1679.62 599.08v20.48M1683.72 599.08v20.48M1687.81 599.08v20.48M1691.91 599.08v20.48M1696 599.08v20.48" stroke="#9a9a9a" stroke-width="0.45" fill="none"/>
<rect x="201.4" y="619.56" width="12.28" height="20.48" fill="#fff"/>
<rect x="213.68" y="619.56" width="4.09" height="20.48" fill="#1f6fe0"/>
<rect x="217.78" y="619.56" width="4.09" height="20.48" fill="#fff"/>
<rect x="221.87" y="619.56" width="16.38" height="20.48" fill="#1f6fe0"/>
<rect x="238.25" y="619.56" width="24.57" height="20.48" fill="#fff"/>
<rect x="262.82" y="619.56" width="4.09" height="20.48" fill="#1f6fe0"/>
<rect x="266.92" y="619.56" width="16.38" height="20.48" fill="#fff"/>
<rect x="283.3" y="619.56" width="8.19" height="20.48" fill="#1f6fe0"/>
<rect x="291.49" y="619.56" width="4.09" height="20.48" fill="#fff"/>
<rect x="295.58" y="619.56" width="4.09" height="20.48" fill="#1f6fe0"/>
<rect x="299.68" y="619.56" width="57.33" height="20.48" fill="#fff"/>
<rect x="357" y="619.56" width="4.09" height="20.48" fill="#1f6fe0"/>
<rect x="361.1" y="619.56" width="8.19" height="20.48" fill="#fff"/>
<rect x="369.29" y="619.56" width="4.09" height="20.48" fill="#1f6fe0"/>
<rect x="373.38" y="619.56" width="24.57" height="20.48" fill="#fff"/>
<rect x="397.95" y="619.56" width="4.09" height="20.48" fill="#1f6fe0"/>
<rect x="402.04" y="619.56" width="49.14" height="20.48" fill="#fff"/>
<rect x="451.18" y="619.56" width="4.09" height="20.48" fill="#1f6fe0"/>
<rect x="455.28" y="619.56" width="4.09" height="20.48" fill="#fff"/>
<rect x="459.37" y="619.56" width="4.09" height="20.48" fill="#1f6fe0"/>
<rect x="463.47" y="619.56" width="8.19" height="20.48" fill="#fff"/>
<rect x="471.66" y="619.56" width="4.09" height="20.48" fill="#1f6fe0"/>
<rect x="475.75" y="619.56" width="8.19" height="20.48" fill="#fff"/>
<rect x="483.94" y="619.56" width="4.09" height="20.48" fill="#1f6fe0"/>
<rect x="488.04" y="619.56" width="57.33" height="20.48" fill="#fff"/>
<rect x="545.36" y="619.56" width="4.09" height="20.48" fill="#1f6fe0"/>
<rect x="549.46" y="619.56" width="20.47" height="20.48" fill="#fff"/>
<rect x="569.93" y="619.56" width="4.09" height="20.48" fill="#1f6fe0"/>
<rect x="574.03" y="619.56" width="28.66" height="20.48" fill="#fff"/>
<rect x="602.69" y="619.56" width="8.19" height="20.48" fill="#1f6fe0"/>
<rect x="610.88" y="619.56" width="16.38" height="20.48" fill="#fff"/>
<rect x="627.26" y="619.56" width="4.09" height="20.48" fill="#1f6fe0"/>
<rect x="631.35" y="619.56" width="12.28" height="20.48" fill="#fff"/>
<rect x="643.64" y="619.56" width="4.09" height="20.48" fill="#1f6fe0"/>
<rect x="647.73" y="619.56" width="40.95" height="20.48" fill="#fff"/>
<rect x="688.68" y="619.56" width="4.09" height="20.48" fill="#1f6fe0"/>
<rect x="692.78" y="619.56" width="69.61" height="20.48" fill="#fff"/>
<rect x="762.39" y="619.56" width="4.09" height="20.48" fill="#1f6fe0"/>
<rect x="766.48" y="619.56" width="16.38" height="20.48" fill="#fff"/>
<rect x="782.86" y="619.56" width="4.09" height="20.48" fill="#1f6fe0"/>
<rect x="786.96" y="619.56" width="16.38" height="20.48" fill="#fff"/>
<rect x="803.33" y="619.56" width="4.09" height="20.48" fill="#1f6fe0"/>
<rect x="807.43" y="619.56" width="57.33" height="20.48" fill="#fff"/>
<rect x="864.76" y="619.56" width="4.09" height="20.48" fill="#1f6fe0"/>
<rect x="868.85" y="619.56" width="8.19" height="20.48" fill="#fff"/>
<rect x="877.04" y="619.56" width="4.09" height="20.48" fill="#1f6fe0"/>
<rect x="881.14" y="619.56" width="151.51" height="20.48" fill="#fff"/>
<rect x="1032.64" y="619.56" width="4.09" height="20.48" fill="#1f6fe0"/>
<rect x="1036.74" y="619.56" width="24.57" height="20.48" fill="#fff"/>
<rect x="1061.31" y="619.56" width="4.09" height="20.48" fill="#1f6fe0"/>
<rect x="1065.4" y="619.56" width="131.03" height="20.48" fill="#fff"/>
<rect x="1196.44" y="619.56" width="4.09" height="20.48" fill="#1f6fe0"/>
<rect x="1200.53" y="619.56" width="28.66" height="20.48" fill="#fff"/>
<rect x="1229.19" y="619.56" width="4.09" height="20.48" fill="#1f6fe0"/>
<rect x="1233.29" y="619.56" width="57.33" height="20.48" fill="#fff"/>
<rect x="1290.62" y="619.56" width="4.09" height="20.48" fill="#1f6fe0"/>
<rect x="1294.71" y="619.56" width="40.95" height="20.48" fill="#fff"/>
<rect x="1335.66" y="619.56" width="4.09" height="20.48" fill="#1f6fe0"/>
<rect x="1339.75" y="619.56" width="16.38" height="20.48" fill="#fff"/>
<rect x="1356.13" y="619.56" width="4.09" height="20.48" fill="#1f6fe0"/>
<rect x="1360.23" y="619.56" width="118.75" height="20.48" fill="#fff"/>
<rect x="1478.98" y="619.56" width="4.09" height="20.48" fill="#1f6fe0"/>
<rect x="1483.07" y="619.56" width="180.17" height="20.48" fill="#fff"/>
<rect x="1663.24" y="619.56" width="4.09" height="20.48" fill="#1f6fe0"/>
<rect x="1667.34" y="619.56" width="28.66" height="20.48" fill="#fff"/>
<path d="M201.4 619.56v20.48M205.49 619.56v20.48M209.59 619.56v20.48M213.68 619.56v20.48M217.78 619.56v20.48M221.87 619.56v20.48M225.97 619.56v20.48M230.06 619.56v20.48M234.16 619.56v20.48M238.25 619.56v20.48M242.35 619.56v20.48M246.44 619.56v20.48M250.54 619.56v20.48M254.63 619.56v20.48M258.73 619.56v20.48M262.82 619.56v20.48M266.92 619.56v20.48M271.01 619.56v20.48M275.11 619.56v20.48M279.2 619.56v20.48M283.3 619.56v20.48M287.39 619.56v20.48M291.49 619.56v20.48M295.58 619.56v20.48M299.68 619.56v20.48M303.77 619.56v20.48M307.86 619.56v20.48M311.96 619.56v20.48M316.05 619.56v20.48M320.15 619.56v20.48M324.24 619.56v20.48M328.34 619.56v20.48M332.43 619.56v20.48M336.53 619.56v20.48M340.62 619.56v20.48M344.72 619.56v20.48M348.81 619.56v20.48M352.91 619.56v20.48M357 619.56v20.48M361.1 619.56v20.48M365.19 619.56v20.48M369.29 619.56v20.48M373.38 619.56v20.48M377.48 619.56v20.48M381.57 619.56v20.48M385.67 619.56v20.48M389.76 619.56v20.48M393.86 619.56v20.48M397.95 619.56v20.48M402.04 619.56v20.48M406.14 619.56v20.48M410.23 619.56v20.48M414.33 619.56v20.48M418.42 619.56v20.48M422.52 619.56v20.48M426.61 619.56v20.48M430.71 619.56v20.48M434.8 619.56v20.48M438.9 619.56v20.48M442.99 619.56v20.48M447.09 619.56v20.48M451.18 619.56v20.48M455.28 619.56v20.48M459.37 619.56v20.48M463.47 619.56v20.48M467.56 619.56v20.48M471.66 619.56v20.48M475.75 619.56v20.48M479.85 619.56v20.48M483.94 619.56v20.48M488.04 619.56v20.48M492.13 619.56v20.48M496.23 619.56v20.48M500.32 619.56v20.48M504.41 619.56v20.48M508.51 619.56v20.48M512.6 619.56v20.48M516.7 619.56v20.48M520.79 619.56v20.48M524.89 619.56v20.48M528.98 619.56v20.48M533.08 619.56v20.48M537.17 619.56v20.48M541.27 619.56v20.48M545.36 619.56v20.48M549.46 619.56v20.48M553.55 619.56v20.48M557.65 619.56v20.48M561.74 619.56v20.48M565.84 619.56v20.48M569.93 619.56v20.48M574.03 619.56v20.48M578.12 619.56v20.48M582.22 619.56v20.48M586.31 619.56v20.48M590.41 619.56v20.48M594.5 619.56v20.48M598.6 619.56v20.48M602.69 619.56v20.48M606.78 619.56v20.48M610.88 619.56v20.48M614.97 619.56v20.48M619.07 619.56v20.48M623.16 619.56v20.48M627.26 619.56v20.48M631.35 619.56v20.48M635.45 619.56v20.48M639.54 619.56v20.48M643.64 619.56v20.48M647.73 619.56v20.48M651.83 619.56v20.48M655.92 619.56v20.48M660.02 619.56v20.48M664.11 619.56v20.48M668.21 619.56v20.48M672.3 619.56v20.48M676.4 619.56v20.48M680.49 619.56v20.48M684.59 619.56v20.48M688.68 619.56v20.48M692.78 619.56v20.48M696.87 619.56v20.48M700.96 619.56v20.48M705.06 619.56v20.48M709.15 619.56v20.48M713.25 619.56v20.48M717.34 619.56v20.48M721.44 619.56v20.48M725.53 619.56v20.48M729.63 619.56v20.48M733.72 619.56v20.48M737.82 619.56v20.48M741.91 619.56v20.48M746.01 619.56v20.48M750.1 619.56v20.48M754.2 619.56v20.48M758.29 619.56v20.48M762.39 619.56v20.48M766.48 619.56v20.48M770.58 619.56v20.48M774.67 619.56v20.48M778.77 619.56v20.48M782.86 619.56v20.48M786.96 619.56v20.48M791.05 619.56v20.48M795.15 619.56v20.48M799.24 619.56v20.48M803.33 619.56v20.48M807.43 619.56v20.48M811.52 619.56v20.48M815.62 619.56v20.48M819.71 619.56v20.48M823.81 619.56v20.48M827.9 619.56v20.48M832 619.56v20.48M836.09 619.56v20.48M840.19 619.56v20.48M844.28 619.56v20.48M848.38 619.56v20.48M852.47 619.56v20.48M856.57 619.56v20.48M860.66 619.56v20.48M864.76 619.56v20.48M868.85 619.56v20.48M872.95 619.56v20.48M877.04 619.56v20.48M881.14 619.56v20.48M885.23 619.56v20.48M889.33 619.56v20.48M893.42 619.56v20.48M897.52 619.56v20.48M901.61 619.56v20.48M905.7 619.56v20.48M909.8 619.56v20.48M913.89 619.56v20.48M917.99 619.56v20.48M922.08 619.56v20.48M926.18 619.56v20.48M930.27 619.56v20.48M934.37 619.56v20.48M938.46 619.56v20.48M942.56 619.56v20.48M946.65 619.56v20.48M950.75 619.56v20.48M954.84 619.56v20.48M958.94 619.56v20.48M963.03 619.56v20.48M967.13 619.56v20.48M971.22 619.56v20.48M975.32 619.56v20.48M979.41 619.56v20.48M983.51 619.56v20.48M987.6 619.56v20.48M991.7 619.56v20.48M995.79 619.56v20.48M999.88 619.56v20.48M1003.98 619.56v20.48M1008.07 619.56v20.48M1012.17 619.56v20.48M1016.26 619.56v20.48M1020.36 619.56v20.48M1024.45 619.56v20.48M1028.55 619.56v20.48M1032.64 619.56v20.48M1036.74 619.56v20.48M1040.83 619.56v20.48M1044.93 619.56v20.48M1049.02 619.56v20.48M1053.12 619.56v20.48M1057.21 619.56v20.48M1061.31 619.56v20.48M1065.4 619.56v20.48M1069.5 619.56v20.48M1073.59 619.56v20.48M1077.69 619.56v20.48M1081.78 619.56v20.48M1085.88 619.56v20.48M1089.97 619.56v20.48M1094.07 619.56v20.48M1098.16 619.56v20.48M1102.25 619.56v20.48M1106.35 619.56v20.48M1110.44 619.56v20.48M1114.54 619.56v20.48M1118.63 619.56v20.48M1122.73 619.56v20.48M1126.82 619.56v20.48M1130.92 619.56v20.48M1135.01 619.56v20.48M1139.11 619.56v20.48M1143.2 619.56v20.48M1147.3 619.56v20.48M1151.39 619.56v20.48M1155.49 619.56v20.48M1159.58 619.56v20.48M1163.68 619.56v20.48M1167.77 619.56v20.48M1171.87 619.56v20.48M1175.96 619.56v20.48M1180.06 619.56v20.48M1184.15 619.56v20.48M1188.25 619.56v20.48M1192.34 619.56v20.48M1196.44 619.56v20.48M1200.53 619.56v20.48M1204.62 619.56v20.48M1208.72 619.56v20.48M1212.81 619.56v20.48M1216.91 619.56v20.48M1221 619.56v20.48M1225.1 619.56v20.48M1229.19 619.56v20.48M1233.29 619.56v20.48M1237.38 619.56v20.48M1241.48 619.56v20.48M1245.57 619.56v20.48M1249.67 619.56v20.48M1253.76 619.56v20.48M1257.86 619.56v20.48M1261.95 619.56v20.48M1266.05 619.56v20.48M1270.14 619.56v20.48M1274.24 619.56v20.48M1278.33 619.56v20.48M1282.43 619.56v20.48M1286.52 619.56v20.48M1290.62 619.56v20.48M1294.71 619.56v20.48M1298.8 619.56v20.48M1302.9 619.56v20.48M1306.99 619.56v20.48M1311.09 619.56v20.48M1315.18 619.56v20.48M1319.28 619.56v20.48M1323.37 619.56v20.48M1327.47 619.56v20.48M1331.56 619.56v20.48M1335.66 619.56v20.48M1339.75 619.56v20.48M1343.85 619.56v20.48M1347.94 619.56v20.48M1352.04 619.56v20.48M1356.13 619.56v20.48M1360.23 619.56v20.48M1364.32 619.56v20.48M1368.42 619.56v20.48M1372.51 619.56v20.48M1376.61 619.56v20.48M1380.7 619.56v20.48M1384.8 619.56v20.48M1388.89 619.56v20.48M1392.99 619.56v20.48M1397.08 619.56v20.48M1401.17 619.56v20.48M1405.27 619.56v20.48M1409.36 619.56v20.48M1413.46 619.56v20.48M1417.55 619.56v20.48M1421.65 619.56v20.48M1425.74 619.56v20.48M1429.84 619.56v20.48M1433.93 619.56v20.48M1438.03 619.56v20.48M1442.12 619.56v20.48M1446.22 619.56v20.48M1450.31 619.56v20.48M1454.41 619.56v20.48M1458.5 619.56v20.48M1462.6 619.56v20.48M1466.69 619.56v20.48M1470.79 619.56v20.48M1474.88 619.56v20.48M1478.98 619.56v20.48M1483.07 619.56v20.48M1487.17 619.56v20.48M1491.26 619.56v20.48M1495.36 619.56v20.48M1499.45 619.56v20.48M1503.54 619.56v20.48M1507.64 619.56v20.48M1511.73 619.56v20.48M1515.83 619.56v20.48M1519.92 619.56v20.48M1524.02 619.56v20.48M1528.11 619.56v20.48M1532.21 619.56v20.48M1536.3 619.56v20.48M1540.4 619.56v20.48M1544.49 619.56v20.48M1548.59 619.56v20.48M1552.68 619.56v20.48M1556.78 619.56v20.48M1560.87 619.56v20.48M1564.97 619.56v20.48M1569.06 619.56v20.48M1573.16 619.56v20.48M1577.25 619.56v20.48M1581.35 619.56v20.48M1585.44 619.56v20.48M1589.54 619.56v20.48M1593.63 619.56v20.48M1597.72 619.56v20.48M1601.82 619.56v20.48M1605.91 619.56v20.48M1610.01 619.56v20.48M1614.1 619.56v20.48M1618.2 619.56v20.48M1622.29 619.56v20.48M1626.39 619.56v20.48M1630.48 619.56v20.48M1634.58 619.56v20.48M1638.67 619.56v20.48M1642.77 619.56v20.48M1646.86 619.56v20.48M1650.96 619.56v20.48M1655.05 619.56v20.48M1659.15 619.56v20.48M1663.24 619.56v20.48M1667.34 619.56v20.48M1671.43 619.56v20.48M1675.53 619.56v20.48M1679.62 619.56v20.48M1683.72 619.56v20.48M1687.81 619.56v20.48M1691.91 619.56v20.48M1696 619.56v20.48" stroke="#9a9a9a" stroke-width="0.45" fill="none"/>
<rect x="201.4" y="640.04" width="12.28" height="20.48" fill="#fff"/>
<rect x="213.68" y="640.04" width="4.09" height="20.48" fill="#1f6fe0"/>
<rect x="217.78" y="640.04" width="4.09" height="20.48" fill="#fff"/>
<rect x="221.87" y="640.04" width="12.28" height="20.48" fill="#1f6fe0"/>
<rect x="234.16" y="640.04" width="28.66" height="20.48" fill="#fff"/>
<rect x="262.82" y="640.04" width="4.09" height="20.48" fill="#1f6fe0"/>
<rect x="266.92" y="640.04" width="16.38" height="20.48" fill="#fff"/>
<rect x="283.3" y="640.04" width="8.19" height="20.48" fill="#1f6fe0"/>
<rect x="291.49" y="640.04" width="4.09" height="20.48" fill="#fff"/>
<rect x="295.58" y="640.04" width="4.09" height="20.48" fill="#1f6fe0"/>
<rect x="299.68" y="640.04" width="24.57" height="20.48" fill="#fff"/>
<rect x="324.24" y="640.04" width="4.09" height="20.48" fill="#1f6fe0"/>
<rect x="328.34" y="640.04" width="49.14" height="20.48" fill="#fff"/>
<rect x="377.48" y="640.04" width="4.09" height="20.48" fill="#1f6fe0"/>
<rect x="381.57" y="640.04" width="24.57" height="20.48" fill="#fff"/>
<rect x="406.14" y="640.04" width="4.09" height="20.48" fill="#1f6fe0"/>
<rect x="410.23" y="640.04" width="49.14" height="20.48" fill="#fff"/>
<rect x="459.37" y="640.04" width="4.09" height="20.48" fill="#1f6fe0"/>
<rect x="463.47" y="640.04" width="8.19" height="20.48" fill="#fff"/>
<rect x="471.66" y="640.04" width="4.09" height="20.48" fill="#1f6fe0"/>
<rect x="475.75" y="640.04" width="24.57" height="20.48" fill="#fff"/>
<rect x="500.32" y="640.04" width="4.09" height="20.48" fill="#1f6fe0"/>
<rect x="504.41" y="640.04" width="40.95" height="20.48" fill="#fff"/>
<rect x="545.36" y="640.04" width="4.09" height="20.48" fill="#1f6fe0"/>
<rect x="549.46" y="640.04" width="12.28" height="20.48" fill="#fff"/>
<rect x="561.74" y="640.04" width="4.09" height="20.48" fill="#1f6fe0"/>
<rect x="565.84" y="640.04" width="4.09" height="20.48" fill="#fff"/>
<rect x="569.93" y="640.04" width="4.09" height="20.48" fill="#1f6fe0"/>
<rect x="574.03" y="640.04" width="53.23" height="20.48" fill="#fff"/>
<rect x="627.26" y="640.04" width="4.09" height="20.48" fill="#1f6fe0"/>
<rect x="631.35" y="640.04" width="12.28" height="20.48" fill="#fff"/>
<rect x="643.64" y="640.04" width="4.09" height="20.48" fill="#1f6fe0"/>
<rect x="647.73" y="640.04" width="155.6" height="20.48" fill="#fff"/>
<rect x="803.33" y="640.04" width="4.09" height="20.48" fill="#1f6fe0"/>
<rect x="807.43" y="640.04" width="32.76" height="20.48" fill="#fff"/>
<rect x="840.19" y="640.04" width="4.09" height="20.48" fill="#1f6fe0"/>
<rect x="844.28" y="640.04" width="65.52" height="20.48" fill="#fff"/>
<rect x="909.8" y="640.04" width="4.09" height="20.48" fill="#1f6fe0"/>
<rect x="913.89" y="640.04" width="45.04" height="20.48" fill="#fff"/>
<rect x="958.94" y="640.04" width="4.09" height="20.48" fill="#1f6fe0"/>
<rect x="963.03" y="640.04" width="102.37" height="20.48" fill="#fff"/>
<rect x="1065.4" y="640.04" width="4.09" height="20.48" fill="#1f6fe0"/>
<rect x="1069.5" y="640.04" width="114.65" height="20.48" fill="#fff"/>
<rect x="1184.15" y="640.04" width="4.09" height="20.48" fill="#1f6fe0"/>
<rect x="1188.25" y="640.04" width="32.76" height="20.48" fill="#fff"/>
<rect x="1221" y="640.04" width="4.09" height="20.48" fill="#1f6fe0"/>
<rect x="1225.1" y="640.04" width="24.57" height="20.48" fill="#fff"/>
<rect x="1249.67" y="640.04" width="4.09" height="20.48" fill="#1f6fe0"/>
<rect x="1253.76" y="640.04" width="36.85" height="20.48" fill="#fff"/>
<rect x="1290.62" y="640.04" width="4.09" height="20.48" fill="#1f6fe0"/>
<rect x="1294.71" y="640.04" width="40.95" height="20.48" fill="#fff"/>
<rect x="1335.66" y="640.04" width="4.09" height="20.48" fill="#1f6fe0"/>
<rect x="1339.75" y="640.04" width="102.37" height="20.48" fill="#fff"/>
<rect x="1442.12" y="640.04" width="4.09" height="20.48" fill="#1f6fe0"/>
<rect x="1446.22" y="640.04" width="8.19" height="20.48" fill="#fff"/>
<rect x="1454.41" y="640.04" width="4.09" height="20.48" fill="#1f6fe0"/>
<rect x="1458.5" y="640.04" width="20.47" height="20.48" fill="#fff"/>
<rect x="1478.98" y="640.04" width="4.09" height="20.48" fill="#1f6fe0"/>
<rect x="1483.07" y="640.04" width="65.52" height="20.48" fill="#fff"/>
<rect x="1548.59" y="640.04" width="4.09" height="20.48" fill="#1f6fe0"/>
<rect x="1552.68" y="640.04" width="24.57" height="20.48" fill="#fff"/>
<rect x="1577.25" y="640.04" width="4.09" height="20.48" fill="#1f6fe0"/>
<rect x="1581.35" y="640.04" width="81.9" height="20.48" fill="#fff"/>
<rect x="1663.24" y="640.04" width="4.09" height="20.48" fill="#1f6fe0"/>
<rect x="1667.34" y="640.04" width="28.66" height="20.48" fill="#fff"/>
<path d="M201.4 640.04v20.48M205.49 640.04v20.48M209.59 640.04v20.48M213.68 640.04v20.48M217.78 640.04v20.48M221.87 640.04v20.48M225.97 640.04v20.48M230.06 640.04v20.48M234.16 640.04v20.48M238.25 640.04v20.48M242.35 640.04v20.48M246.44 640.04v20.48M250.54 640.04v20.48M254.63 640.04v20.48M258.73 640.04v20.48M262.82 640.04v20.48M266.92 640.04v20.48M271.01 640.04v20.48M275.11 640.04v20.48M279.2 640.04v20.48M283.3 640.04v20.48M287.39 640.04v20.48M291.49 640.04v20.48M295.58 640.04v20.48M299.68 640.04v20.48M303.77 640.04v20.48M307.86 640.04v20.48M311.96 640.04v20.48M316.05 640.04v20.48M320.15 640.04v20.48M324.24 640.04v20.48M328.34 640.04v20.48M332.43 640.04v20.48M336.53 640.04v20.48M340.62 640.04v20.48M344.72 640.04v20.48M348.81 640.04v20.48M352.91 640.04v20.48M357 640.04v20.48M361.1 640.04v20.48M365.19 640.04v20.48M369.29 640.04v20.48M373.38 640.04v20.48M377.48 640.04v20.48M381.57 640.04v20.48M385.67 640.04v20.48M389.76 640.04v20.48M393.86 640.04v20.48M397.95 640.04v20.48M402.04 640.04v20.48M406.14 640.04v20.48M410.23 640.04v20.48M414.33 640.04v20.48M418.42 640.04v20.48M422.52 640.04v20.48M426.61 640.04v20.48M430.71 640.04v20.48M434.8 640.04v20.48M438.9 640.04v20.48M442.99 640.04v20.48M447.09 640.04v20.48M451.18 640.04v20.48M455.28 640.04v20.48M459.37 640.04v20.48M463.47 640.04v20.48M467.56 640.04v20.48M471.66 640.04v20.48M475.75 640.04v20.48M479.85 640.04v20.48M483.94 640.04v20.48M488.04 640.04v20.48M492.13 640.04v20.48M496.23 640.04v20.48M500.32 640.04v20.48M504.41 640.04v20.48M508.51 640.04v20.48M512.6 640.04v20.48M516.7 640.04v20.48M520.79 640.04v20.48M524.89 640.04v20.48M528.98 640.04v20.48M533.08 640.04v20.48M537.17 640.04v20.48M541.27 640.04v20.48M545.36 640.04v20.48M549.46 640.04v20.48M553.55 640.04v20.48M557.65 640.04v20.48M561.74 640.04v20.48M565.84 640.04v20.48M569.93 640.04v20.48M574.03 640.04v20.48M578.12 640.04v20.48M582.22 640.04v20.48M586.31 640.04v20.48M590.41 640.04v20.48M594.5 640.04v20.48M598.6 640.04v20.48M602.69 640.04v20.48M606.78 640.04v20.48M610.88 640.04v20.48M614.97 640.04v20.48M619.07 640.04v20.48M623.16 640.04v20.48M627.26 640.04v20.48M631.35 640.04v20.48M635.45 640.04v20.48M639.54 640.04v20.48M643.64 640.04v20.48M647.73 640.04v20.48M651.83 640.04v20.48M655.92 640.04v20.48M660.02 640.04v20.48M664.11 640.04v20.48M668.21 640.04v20.48M672.3 640.04v20.48M676.4 640.04v20.48M680.49 640.04v20.48M684.59 640.04v20.48M688.68 640.04v20.48M692.78 640.04v20.48M696.87 640.04v20.48M700.96 640.04v20.48M705.06 640.04v20.48M709.15 640.04v20.48M713.25 640.04v20.48M717.34 640.04v20.48M721.44 640.04v20.48M725.53 640.04v20.48M729.63 640.04v20.48M733.72 640.04v20.48M737.82 640.04v20.48M741.91 640.04v20.48M746.01 640.04v20.48M750.1 640.04v20.48M754.2 640.04v20.48M758.29 640.04v20.48M762.39 640.04v20.48M766.48 640.04v20.48M770.58 640.04v20.48M774.67 640.04v20.48M778.77 640.04v20.48M782.86 640.04v20.48M786.96 640.04v20.48M791.05 640.04v20.48M795.15 640.04v20.48M799.24 640.04v20.48M803.33 640.04v20.48M807.43 640.04v20.48M811.52 640.04v20.48M815.62 640.04v20.48M819.71 640.04v20.48M823.81 640.04v20.48M827.9 640.04v20.48M832 640.04v20.48M836.09 640.04v20.48M840.19 640.04v20.48M844.28 640.04v20.48M848.38 640.04v20.48M852.47 640.04v20.48M856.57 640.04v20.48M860.66 640.04v20.48M864.76 640.04v20.48M868.85 640.04v20.48M872.95 640.04v20.48M877.04 640.04v20.48M881.14 640.04v20.48M885.23 640.04v20.48M889.33 640.04v20.48M893.42 640.04v20.48M897.52 640.04v20.48M901.61 640.04v20.48M905.7 640.04v20.48M909.8 640.04v20.48M913.89 640.04v20.48M917.99 640.04v20.48M922.08 640.04v20.48M926.18 640.04v20.48M930.27 640.04v20.48M934.37 640.04v20.48M938.46 640.04v20.48M942.56 640.04v20.48M946.65 640.04v20.48M950.75 640.04v20.48M954.84 640.04v20.48M958.94 640.04v20.48M963.03 640.04v20.48M967.13 640.04v20.48M971.22 640.04v20.48M975.32 640.04v20.48M979.41 640.04v20.48M983.51 640.04v20.48M987.6 640.04v20.48M991.7 640.04v20.48M995.79 640.04v20.48M999.88 640.04v20.48M1003.98 640.04v20.48M1008.07 640.04v20.48M1012.17 640.04v20.48M1016.26 640.04v20.48M1020.36 640.04v20.48M1024.45 640.04v20.48M1028.55 640.04v20.48M1032.64 640.04v20.48M1036.74 640.04v20.48M1040.83 640.04v20.48M1044.93 640.04v20.48M1049.02 640.04v20.48M1053.12 640.04v20.48M1057.21 640.04v20.48M1061.31 640.04v20.48M1065.4 640.04v20.48M1069.5 640.04v20.48M1073.59 640.04v20.48M1077.69 640.04v20.48M1081.78 640.04v20.48M1085.88 640.04v20.48M1089.97 640.04v20.48M1094.07 640.04v20.48M1098.16 640.04v20.48M1102.25 640.04v20.48M1106.35 640.04v20.48M1110.44 640.04v20.48M1114.54 640.04v20.48M1118.63 640.04v20.48M1122.73 640.04v20.48M1126.82 640.04v20.48M1130.92 640.04v20.48M1135.01 640.04v20.48M1139.11 640.04v20.48M1143.2 640.04v20.48M1147.3 640.04v20.48M1151.39 640.04v20.48M1155.49 640.04v20.48M1159.58 640.04v20.48M1163.68 640.04v20.48M1167.77 640.04v20.48M1171.87 640.04v20.48M1175.96 640.04v20.48M1180.06 640.04v20.48M1184.15 640.04v20.48M1188.25 640.04v20.48M1192.34 640.04v20.48M1196.44 640.04v20.48M1200.53 640.04v20.48M1204.62 640.04v20.48M1208.72 640.04v20.48M1212.81 640.04v20.48M1216.91 640.04v20.48M1221 640.04v20.48M1225.1 640.04v20.48M1229.19 640.04v20.48M1233.29 640.04v20.48M1237.38 640.04v20.48M1241.48 640.04v20.48M1245.57 640.04v20.48M1249.67 640.04v20.48M1253.76 640.04v20.48M1257.86 640.04v20.48M1261.95 640.04v20.48M1266.05 640.04v20.48M1270.14 640.04v20.48M1274.24 640.04v20.48M1278.33 640.04v20.48M1282.43 640.04v20.48M1286.52 640.04v20.48M1290.62 640.04v20.48M1294.71 640.04v20.48M1298.8 640.04v20.48M1302.9 640.04v20.48M1306.99 640.04v20.48M1311.09 640.04v20.48M1315.18 640.04v20.48M1319.28 640.04v20.48M1323.37 640.04v20.48M1327.47 640.04v20.48M1331.56 640.04v20.48M1335.66 640.04v20.48M1339.75 640.04v20.48M1343.85 640.04v20.48M1347.94 640.04v20.48M1352.04 640.04v20.48M1356.13 640.04v20.48M1360.23 640.04v20.48M1364.32 640.04v20.48M1368.42 640.04v20.48M1372.51 640.04v20.48M1376.61 640.04v20.48M1380.7 640.04v20.48M1384.8 640.04v20.48M1388.89 640.04v20.48M1392.99 640.04v20.48M1397.08 640.04v20.48M1401.17 640.04v20.48M1405.27 640.04v20.48M1409.36 640.04v20.48M1413.46 640.04v20.48M1417.55 640.04v20.48M1421.65 640.04v20.48M1425.74 640.04v20.48M1429.84 640.04v20.48M1433.93 640.04v20.48M1438.03 640.04v20.48M1442.12 640.04v20.48M1446.22 640.04v20.48M1450.31 640.04v20.48M1454.41 640.04v20.48M1458.5 640.04v20.48M1462.6 640.04v20.48M1466.69 640.04v20.48M1470.79 640.04v20.48M1474.88 640.04v20.48M1478.98 640.04v20.48M1483.07 640.04v20.48M1487.17 640.04v20.48M1491.26 640.04v20.48M1495.36 640.04v20.48M1499.45 640.04v20.48M1503.54 640.04v20.48M1507.64 640.04v20.48M1511.73 640.04v20.48M1515.83 640.04v20.48M1519.92 640.04v20.48M1524.02 640.04v20.48M1528.11 640.04v20.48M1532.21 640.04v20.48M1536.3 640.04v20.48M1540.4 640.04v20.48M1544.49 640.04v20.48M1548.59 640.04v20.48M1552.68 640.04v20.48M1556.78 640.04v20.48M1560.87 640.04v20.48M1564.97 640.04v20.48M1569.06 640.04v20.48M1573.16 640.04v20.48M1577.25 640.04v20.48M1581.35 640.04v20.48M1585.44 640.04v20.48M1589.54 640.04v20.48M1593.63 640.04v20.48M1597.72 640.04v20.48M1601.82 640.04v20.48M1605.91 640.04v20.48M1610.01 640.04v20.48M1614.1 640.04v20.48M1618.2 640.04v20.48M1622.29 640.04v20.48M1626.39 640.04v20.48M1630.48 640.04v20.48M1634.58 640.04v20.48M1638.67 640.04v20.48M1642.77 640.04v20.48M1646.86 640.04v20.48M1650.96 640.04v20.48M1655.05 640.04v20.48M1659.15 640.04v20.48M1663.24 640.04v20.48M1667.34 640.04v20.48M1671.43 640.04v20.48M1675.53 640.04v20.48M1679.62 640.04v20.48M1683.72 640.04v20.48M1687.81 640.04v20.48M1691.91 640.04v20.48M1696 640.04v20.48" stroke="#9a9a9a" stroke-width="0.45" fill="none"/>
<rect x="201.4" y="660.52" width="4.09" height="20.48" fill="#fff"/>
<rect x="205.49" y="660.52" width="16.38" height="20.48" fill="#1f6fe0"/>
<rect x="221.87" y="660.52" width="28.66" height="20.48" fill="#fff"/>
<rect x="250.54" y="660.52" width="16.38" height="20.48" fill="#1f6fe0"/>
<rect x="266.92" y="660.52" width="4.09" height="20.48" fill="#fff"/>
<rect x="271.01" y="660.52" width="4.09" height="20.48" fill="#1f6fe0"/>
<rect x="275.11" y="660.52" width="4.09" height="20.48" fill="#fff"/>
<rect x="279.2" y="660.52" width="4.09" height="20.48" fill="#1f6fe0"/>
<rect x="283.3" y="660.52" width="12.28" height="20.48" fill="#fff"/>
<rect x="295.58" y="660.52" width="4.09" height="20.48" fill="#1f6fe0"/>
<rect x="299.68" y="660.52" width="4.09" height="20.48" fill="#fff"/>
<rect x="303.77" y="660.52" width="8.19" height="20.48" fill="#1f6fe0"/>
<rect x="311.96" y="660.52" width="8.19" height="20.48" fill="#fff"/>
<rect x="320.15" y="660.52" width="8.19" height="20.48" fill="#1f6fe0"/>
<rect x="328.34" y="660.52" width="28.66" height="20.48" fill="#fff"/>
<rect x="357" y="660.52" width="12.28" height="20.48" fill="#1f6fe0"/>
<rect x="369.29" y="660.52" width="4.09" height="20.48" fill="#fff"/>
<rect x="373.38" y="660.52" width="4.09" height="20.48" fill="#1f6fe0"/>
<rect x="377.48" y="660.52" width="20.47" height="20.48" fill="#fff"/>
<rect x="397.95" y="660.52" width="4.09" height="20.48" fill="#1f6fe0"/>
<rect x="402.04" y="660.52" width="4.09" height="20.48" fill="#fff"/>
<rect x="406.14" y="660.52" width="8.19" height="20.48" fill="#1f6fe0"/>
<rect x="414.33" y="660.52" width="4.09" height="20.48" fill="#fff"/>
<rect x="418.42" y="660.52" width="4.09" height="20.48" fill="#1f6fe0"/>
<rect x="422.52" y="660.52" width="12.28" height="20.48" fill="#fff"/>
<rect x="434.8" y="660.52" width="4.09" height="20.48" fill="#1f6fe0"/>
<rect x="438.9" y="660.52" width="36.85" height="20.48" fill="#fff"/>
<rect x="475.75" y="660.52" width="4.09" height="20.48" fill="#1f6fe0"/>
<rect x="479.85" y="660.52" width="4.09" height="20.48" fill="#fff"/>
<rect x="483.94" y="660.52" width="4.09" height="20.48" fill="#1f6fe0"/>
<rect x="488.04" y="660.52" width="4.09" height="20.48" fill="#fff"/>
<rect x="492.13" y="660.52" width="12.28" height="20.48" fill="#1f6fe0"/>
<rect x="504.41" y="660.52" width="4.09" height="20.48" fill="#fff"/>
<rect x="508.51" y="660.52" width="12.28" height="20.48" fill="#1f6fe0"/>
<rect x="520.79" y="660.52" width="8.19" height="20.48" fill="#fff"/>
<rect x="528.98" y="660.52" width="12.28" height="20.48" fill="#1f6fe0"/>
<rect x="541.27" y="660.52" width="4.09" height="20.48" fill="#fff"/>
<rect x="545.36" y="660.52" width="4.09" height="20.48" fill="#1f6fe0"/>
<rect x="549.46" y="660.52" width="8.19" height="20.48" fill="#fff"/>
<rect x="557.65" y="660.52" width="4.09" height="20.48" fill="#1f6fe0"/>
<rect x="561.74" y="660.52" width="4.09" height="20.48" fill="#fff"/>
<rect x="565.84" y="660.52" width="16.38" height="20.48" fill="#1f6fe0"/>
<rect x="582.22" y="660.52" width="4.09" height="20.48" fill="#fff"/>
<rect x="586.31" y="660.52" width="4.09" height="20.48" fill="#1f6fe0"/>
<rect x="590.41" y="660.52" width="12.28" height="20.48" fill="#fff"/>
<rect x="602.69" y="660.52" width="20.47" height="20.48" fill="#1f6fe0"/>
<rect x="623.16" y="660.52" width="8.19" height="20.48" fill="#fff"/>
<rect x="631.35" y="660.52" width="8.19" height="20.48" fill="#1f6fe0"/>
<rect x="639.54" y="660.52" width="4.09" height="20.48" fill="#fff"/>
<rect x="643.64" y="660.52" width="4.09" height="20.48" fill="#1f6fe0"/>
<rect x="647.73" y="660.52" width="4.09" height="20.48" fill="#fff"/>
<rect x="651.83" y="660.52" width="24.57" height="20.48" fill="#1f6fe0"/>
<rect x="676.4" y="660.52" width="8.19" height="20.48" fill="#fff"/>
<rect x="684.59" y="660.52" width="20.47" height="20.48" fill="#1f6fe0"/>
<rect x="705.06" y="660.52" width="4.09" height="20.48" fill="#fff"/>
<rect x="709.15" y="660.52" width="4.09" height="20.48" fill="#1f6fe0"/>
<rect x="713.25" y="660.52" width="4.09" height="20.48" fill="#fff"/>
<rect x="717.34" y="660.52" width="4.09" height="20.48" fill="#1f6fe0"/>
<rect x="721.44" y="660.52" width="8.19" height="20.48" fill="#fff"/>
<rect x="729.63" y="660.52" width="4.09" height="20.48" fill="#1f6fe0"/>
<rect x="733.72" y="660.52" width="8.19" height="20.48" fill="#fff"/>
<rect x="741.91" y="660.52" width="4.09" height="20.48" fill="#1f6fe0"/>
<rect x="746.01" y="660.52" width="8.19" height="20.48" fill="#fff"/>
<rect x="754.2" y="660.52" width="20.47" height="20.48" fill="#1f6fe0"/>
<rect x="774.67" y="660.52" width="4.09" height="20.48" fill="#fff"/>
<rect x="778.77" y="660.52" width="4.09" height="20.48" fill="#1f6fe0"/>
<rect x="782.86" y="660.52" width="4.09" height="20.48" fill="#fff"/>
<rect x="786.96" y="660.52" width="4.09" height="20.48" fill="#1f6fe0"/>
<rect x="791.05" y="660.52" width="4.09" height="20.48" fill="#fff"/>
<rect x="795.15" y="660.52" width="8.19" height="20.48" fill="#1f6fe0"/>
<rect x="803.33" y="660.52" width="12.28" height="20.48" fill="#fff"/>
<rect x="815.62" y="660.52" width="4.09" height="20.48" fill="#1f6fe0"/>
<rect x="819.71" y="660.52" width="4.09" height="20.48" fill="#fff"/>
<rect x="823.81" y="660.52" width="4.09" height="20.48" fill="#1f6fe0"/>
<rect x="827.9" y="660.52" width="4.09" height="20.48" fill="#fff"/>
<rect x="832" y="660.52" width="8.19" height="20.48" fill="#1f6fe0"/>
<rect x="840.19" y="660.52" width="8.19" height="20.48" fill="#fff"/>
<rect x="848.38" y="660.52" width="16.38" height="20.48" fill="#1f6fe0"/>
<rect x="864.76" y="660.52" width="4.09" height="20.48" fill="#fff"/>
<rect x="868.85" y="660.52" width="4.09" height="20.48" fill="#1f6fe0"/>
<rect x="872.95" y="660.52" width="4.09" height="20.48" fill="#fff"/>
<rect x="877.04" y="660.52" width="4.09" height="20.48" fill="#1f6fe0"/>
<rect x="881.14" y="660.52" width="4.09" height="20.48" fill="#fff"/>
<rect x="885.23" y="660.52" width="4.09" height="20.48" fill="#1f6fe0"/>
<rect x="889.33" y="660.52" width="4.09" height="20.48" fill="#fff"/>
<rect x="893.42" y="660.52" width="4.09" height="20.48" fill="#1f6fe0"/>
<rect x="897.52" y="660.52" width="4.09" height="20.48" fill="#fff"/>
<rect x="901.61" y="660.52" width="16.38" height="20.48" fill="#1f6fe0"/>
<rect x="917.99" y="660.52" width="8.19" height="20.48" fill="#fff"/>
<rect x="926.18" y="660.52" width="12.28" height="20.48" fill="#1f6fe0"/>
<rect x="938.46" y="660.52" width="4.09" height="20.48" fill="#fff"/>
<rect x="942.56" y="660.52" width="4.09" height="20.48" fill="#1f6fe0"/>
<rect x="946.65" y="660.52" width="4.09" height="20.48" fill="#fff"/>
<rect x="950.75" y="660.52" width="8.19" height="20.48" fill="#1f6fe0"/>
<rect x="958.94" y="660.52" width="4.09" height="20.48" fill="#fff"/>
<rect x="963.03" y="660.52" width="4.09" height="20.48" fill="#1f6fe0"/>
<rect x="967.13" y="660.52" width="4.09" height="20.48" fill="#fff"/>
<rect x="971.22" y="660.52" width="16.38" height="20.48" fill="#1f6fe0"/>
<rect x="987.6" y="660.52" width="4.09" height="20.48" fill="#fff"/>
<rect x="991.7" y="660.52" width="8.19" height="20.48" fill="#1f6fe0"/>
<rect x="999.88" y="660.52" width="8.19" height="20.48" fill="#fff"/>
<rect x="1008.07" y="660.52" width="8.19" height="20.48" fill="#1f6fe0"/>
<rect x="1016.26" y="660.52" width="4.09" height="20.48" fill="#fff"/>
<rect x="1020.36" y="660.52" width="16.38" height="20.48" fill="#1f6fe0"/>
<rect x="1036.74" y="660.52" width="16.38" height="20.48" fill="#fff"/>
<rect x="1053.12" y="660.52" width="4.09" height="20.48" fill="#1f6fe0"/>
<rect x="1057.21" y="660.52" width="4.09" height="20.48" fill="#fff"/>
<rect x="1061.31" y="660.52" width="8.19" height="20.48" fill="#1f6fe0"/>
<rect x="1069.5" y="660.52" width="8.19" height="20.48" fill="#fff"/>
<rect x="1077.69" y="660.52" width="8.19" height="20.48" fill="#1f6fe0"/>
<rect x="1085.88" y="660.52" width="8.19" height="20.48" fill="#fff"/>
<rect x="1094.07" y="660.52" width="12.28" height="20.48" fill="#1f6fe0"/>
<rect x="1106.35" y="660.52" width="4.09" height="20.48" fill="#fff"/>
<rect x="1110.44" y="660.52" width="12.28" height="20.48" fill="#1f6fe0"/>
<rect x="1122.73" y="660.52" width="8.19" height="20.48" fill="#fff"/>
<rect x="1130.92" y="660.52" width="4.09" height="20.48" fill="#1f6fe0"/>
<rect x="1135.01" y="660.52" width="12.28" height="20.48" fill="#fff"/>
<rect x="1147.3" y="660.52" width="4.09" height="20.48" fill="#1f6fe0"/>
<rect x="1151.39" y="660.52" width="4.09" height="20.48" fill="#fff"/>
<rect x="1155.49" y="660.52" width="12.28" height="20.48" fill="#1f6fe0"/>
<rect x="1167.77" y="660.52" width="4.09" height="20.48" fill="#fff"/>
<rect x="1171.87" y="660.52" width="12.28" height="20.48" fill="#1f6fe0"/>
<rect x="1184.15" y="660.52" width="12.28" height="20.48" fill="#fff"/>
<rect x="1196.44" y="660.52" width="12.28" height="20.48" fill="#1f6fe0"/>
<rect x="1208.72" y="660.52" width="4.09" height="20.48" fill="#fff"/>
<rect x="1212.81" y="660.52" width="16.38" height="20.48" fill="#1f6fe0"/>
<rect x="1229.19" y="660.52" width="4.09" height="20.48" fill="#fff"/>
<rect x="1233.29" y="660.52" width="8.19" height="20.48" fill="#1f6fe0"/>
<rect x="1241.48" y="660.52" width="4.09" height="20.48" fill="#fff"/>
<rect x="1245.57" y="660.52" width="4.09" height="20.48" fill="#1f6fe0"/>
<rect x="1249.67" y="660.52" width="4.09" height="20.48" fill="#fff"/>
<rect x="1253.76" y="660.52" width="8.19" height="20.48" fill="#1f6fe0"/>
<rect x="1261.95" y="660.52" width="4.09" height="20.48" fill="#fff"/>
<rect x="1266.05" y="660.52" width="8.19" height="20.48" fill="#1f6fe0"/>
<rect x="1274.24" y="660.52" width="4.09" height="20.48" fill="#fff"/>
<rect x="1278.33" y="660.52" width="12.28" height="20.48" fill="#1f6fe0"/>
<rect x="1290.62" y="660.52" width="4.09" height="20.48" fill="#fff"/>
<rect x="1294.71" y="660.52" width="8.19" height="20.48" fill="#1f6fe0"/>
<rect x="1302.9" y="660.52" width="4.09" height="20.48" fill="#fff"/>
<rect x="1306.99" y="660.52" width="4.09" height="20.48" fill="#1f6fe0"/>
<rect x="1311.09" y="660.52" width="4.09" height="20.48" fill="#fff"/>
<rect x="1315.18" y="660.52" width="8.19" height="20.48" fill="#1f6fe0"/>
<rect x="1323.37" y="660.52" width="12.28" height="20.48" fill="#fff"/>
<rect x="1335.66" y="660.52" width="4.09" height="20.48" fill="#1f6fe0"/>
<rect x="1339.75" y="660.52" width="12.28" height="20.48" fill="#fff"/>
<rect x="1352.04" y="660.52" width="4.09" height="20.48" fill="#1f6fe0"/>
<rect x="1356.13" y="660.52" width="4.09" height="20.48" fill="#fff"/>
<rect x="1360.23" y="660.52" width="8.19" height="20.48" fill="#1f6fe0"/>
<rect x="1368.42" y="660.52" width="4.09" height="20.48" fill="#fff"/>
<rect x="1372.51" y="660.52" width="4.09" height="20.48" fill="#1f6fe0"/>
<rect x="1376.61" y="660.52" width="4.09" height="20.48" fill="#fff"/>
<rect x="1380.7" y="660.52" width="8.19" height="20.48" fill="#1f6fe0"/>
<rect x="1388.89" y="660.52" width="4.09" height="20.48" fill="#fff"/>
<rect x="1392.99" y="660.52" width="8.19" height="20.48" fill="#1f6fe0"/>
<rect x="1401.17" y="660.52" width="12.28" height="20.48" fill="#fff"/>
<rect x="1413.46" y="660.52" width="28.66" height="20.48" fill="#1f6fe0"/>
<rect x="1442.12" y="660.52" width="4.09" height="20.48" fill="#fff"/>
<rect x="1446.22" y="660.52" width="16.38" height="20.48" fill="#1f6fe0"/>
<rect x="1462.6" y="660.52" width="16.38" height="20.48" fill="#fff"/>
<rect x="1478.98" y="660.52" width="49.14" height="20.48" fill="#1f6fe0"/>
<rect x="1528.11" y="660.52" width="8.19" height="20.48" fill="#fff"/>
<rect x="1536.3" y="660.52" width="4.09" height="20.48" fill="#1f6fe0"/>
<rect x="1540.4" y="660.52" width="4.09" height="20.48" fill="#fff"/>
<rect x="1544.49" y="660.52" width="12.28" height="20.48" fill="#1f6fe0"/>
<rect x="1556.78" y="660.52" width="4.09" height="20.48" fill="#fff"/>
<rect x="1560.87" y="660.52" width="4.09" height="20.48" fill="#1f6fe0"/>
<rect x="1564.97" y="660.52" width="8.19" height="20.48" fill="#fff"/>
<rect x="1573.16" y="660.52" width="4.09" height="20.48" fill="#1f6fe0"/>
<rect x="1577.25" y="660.52" width="12.28" height="20.48" fill="#fff"/>
<rect x="1589.54" y="660.52" width="8.19" height="20.48" fill="#1f6fe0"/>
<rect x="1597.72" y="660.52" width="16.38" height="20.48" fill="#fff"/>
<rect x="1614.1" y="660.52" width="4.09" height="20.48" fill="#1f6fe0"/>
<rect x="1618.2" y="660.52" width="4.09" height="20.48" fill="#fff"/>
<rect x="1622.29" y="660.52" width="4.09" height="20.48" fill="#1f6fe0"/>
<rect x="1626.39" y="660.52" width="12.28" height="20.48" fill="#fff"/>
<rect x="1638.67" y="660.52" width="4.09" height="20.48" fill="#1f6fe0"/>
<rect x="1642.77" y="660.52" width="4.09" height="20.48" fill="#fff"/>
<rect x="1646.86" y="660.52" width="4.09" height="20.48" fill="#1f6fe0"/>
<rect x="1650.96" y="660.52" width="12.28" height="20.48" fill="#fff"/>
<rect x="1663.24" y="660.52" width="4.09" height="20.48" fill="#1f6fe0"/>
<rect x="1667.34" y="660.52" width="16.38" height="20.48" fill="#fff"/>
<rect x="1683.72" y="660.52" width="4.09" height="20.48" fill="#1f6fe0"/>
<rect x="1687.81" y="660.52" width="8.19" height="20.48" fill="#fff"/>
<path d="M201.4 660.52v20.48M205.49 660.52v20.48M209.59 660.52v20.48M213.68 660.52v20.48M217.78 660.52v20.48M221.87 660.52v20.48M225.97 660.52v20.48M230.06 660.52v20.48M234.16 660.52v20.48M238.25 660.52v20.48M242.35 660.52v20.48M246.44 660.52v20.48M250.54 660.52v20.48M254.63 660.52v20.48M258.73 660.52v20.48M262.82 660.52v20.48M266.92 660.52v20.48M271.01 660.52v20.48M275.11 660.52v20.48M279.2 660.52v20.48M283.3 660.52v20.48M287.39 660.52v20.48M291.49 660.52v20.48M295.58 660.52v20.48M299.68 660.52v20.48M303.77 660.52v20.48M307.86 660.52v20.48M311.96 660.52v20.48M316.05 660.52v20.48M320.15 660.52v20.48M324.24 660.52v20.48M328.34 660.52v20.48M332.43 660.52v20.48M336.53 660.52v20.48M340.62 660.52v20.48M344.72 660.52v20.48M348.81 660.52v20.48M352.91 660.52v20.48M357 660.52v20.48M361.1 660.52v20.48M365.19 660.52v20.48M369.29 660.52v20.48M373.38 660.52v20.48M377.48 660.52v20.48M381.57 660.52v20.48M385.67 660.52v20.48M389.76 660.52v20.48M393.86 660.52v20.48M397.95 660.52v20.48M402.04 660.52v20.48M406.14 660.52v20.48M410.23 660.52v20.48M414.33 660.52v20.48M418.42 660.52v20.48M422.52 660.52v20.48M426.61 660.52v20.48M430.71 660.52v20.48M434.8 660.52v20.48M438.9 660.52v20.48M442.99 660.52v20.48M447.09 660.52v20.48M451.18 660.52v20.48M455.28 660.52v20.48M459.37 660.52v20.48M463.47 660.52v20.48M467.56 660.52v20.48M471.66 660.52v20.48M475.75 660.52v20.48M479.85 660.52v20.48M483.94 660.52v20.48M488.04 660.52v20.48M492.13 660.52v20.48M496.23 660.52v20.48M500.32 660.52v20.48M504.41 660.52v20.48M508.51 660.52v20.48M512.6 660.52v20.48M516.7 660.52v20.48M520.79 660.52v20.48M524.89 660.52v20.48M528.98 660.52v20.48M533.08 660.52v20.48M537.17 660.52v20.48M541.27 660.52v20.48M545.36 660.52v20.48M549.46 660.52v20.48M553.55 660.52v20.48M557.65 660.52v20.48M561.74 660.52v20.48M565.84 660.52v20.48M569.93 660.52v20.48M574.03 660.52v20.48M578.12 660.52v20.48M582.22 660.52v20.48M586.31 660.52v20.48M590.41 660.52v20.48M594.5 660.52v20.48M598.6 660.52v20.48M602.69 660.52v20.48M606.78 660.52v20.48M610.88 660.52v20.48M614.97 660.52v20.48M619.07 660.52v20.48M623.16 660.52v20.48M627.26 660.52v20.48M631.35 660.52v20.48M635.45 660.52v20.48M639.54 660.52v20.48M643.64 660.52v20.48M647.73 660.52v20.48M651.83 660.52v20.48M655.92 660.52v20.48M660.02 660.52v20.48M664.11 660.52v20.48M668.21 660.52v20.48M672.3 660.52v20.48M676.4 660.52v20.48M680.49 660.52v20.48M684.59 660.52v20.48M688.68 660.52v20.48M692.78 660.52v20.48M696.87 660.52v20.48M700.96 660.52v20.48M705.06 660.52v20.48M709.15 660.52v20.48M713.25 660.52v20.48M717.34 660.52v20.48M721.44 660.52v20.48M725.53 660.52v20.48M729.63 660.52v20.48M733.72 660.52v20.48M737.82 660.52v20.48M741.91 660.52v20.48M746.01 660.52v20.48M750.1 660.52v20.48M754.2 660.52v20.48M758.29 660.52v20.48M762.39 660.52v20.48M766.48 660.52v20.48M770.58 660.52v20.48M774.67 660.52v20.48M778.77 660.52v20.48M782.86 660.52v20.48M786.96 660.52v20.48M791.05 660.52v20.48M795.15 660.52v20.48M799.24 660.52v20.48M803.33 660.52v20.48M807.43 660.52v20.48M811.52 660.52v20.48M815.62 660.52v20.48M819.71 660.52v20.48M823.81 660.52v20.48M827.9 660.52v20.48M832 660.52v20.48M836.09 660.52v20.48M840.19 660.52v20.48M844.28 660.52v20.48M848.38 660.52v20.48M852.47 660.52v20.48M856.57 660.52v20.48M860.66 660.52v20.48M864.76 660.52v20.48M868.85 660.52v20.48M872.95 660.52v20.48M877.04 660.52v20.48M881.14 660.52v20.48M885.23 660.52v20.48M889.33 660.52v20.48M893.42 660.52v20.48M897.52 660.52v20.48M901.61 660.52v20.48M905.7 660.52v20.48M909.8 660.52v20.48M913.89 660.52v20.48M917.99 660.52v20.48M922.08 660.52v20.48M926.18 660.52v20.48M930.27 660.52v20.48M934.37 660.52v20.48M938.46 660.52v20.48M942.56 660.52v20.48M946.65 660.52v20.48M950.75 660.52v20.48M954.84 660.52v20.48M958.94 660.52v20.48M963.03 660.52v20.48M967.13 660.52v20.48M971.22 660.52v20.48M975.32 660.52v20.48M979.41 660.52v20.48M983.51 660.52v20.48M987.6 660.52v20.48M991.7 660.52v20.48M995.79 660.52v20.48M999.88 660.52v20.48M1003.98 660.52v20.48M1008.07 660.52v20.48M1012.17 660.52v20.48M1016.26 660.52v20.48M1020.36 660.52v20.48M1024.45 660.52v20.48M1028.55 660.52v20.48M1032.64 660.52v20.48M1036.74 660.52v20.48M1040.83 660.52v20.48M1044.93 660.52v20.48M1049.02 660.52v20.48M1053.12 660.52v20.48M1057.21 660.52v20.48M1061.31 660.52v20.48M1065.4 660.52v20.48M1069.5 660.52v20.48M1073.59 660.52v20.48M1077.69 660.52v20.48M1081.78 660.52v20.48M1085.88 660.52v20.48M1089.97 660.52v20.48M1094.07 660.52v20.48M1098.16 660.52v20.48M1102.25 660.52v20.48M1106.35 660.52v20.48M1110.44 660.52v20.48M1114.54 660.52v20.48M1118.63 660.52v20.48M1122.73 660.52v20.48M1126.82 660.52v20.48M1130.92 660.52v20.48M1135.01 660.52v20.48M1139.11 660.52v20.48M1143.2 660.52v20.48M1147.3 660.52v20.48M1151.39 660.52v20.48M1155.49 660.52v20.48M1159.58 660.52v20.48M1163.68 660.52v20.48M1167.77 660.52v20.48M1171.87 660.52v20.48M1175.96 660.52v20.48M1180.06 660.52v20.48M1184.15 660.52v20.48M1188.25 660.52v20.48M1192.34 660.52v20.48M1196.44 660.52v20.48M1200.53 660.52v20.48M1204.62 660.52v20.48M1208.72 660.52v20.48M1212.81 660.52v20.48M1216.91 660.52v20.48M1221 660.52v20.48M1225.1 660.52v20.48M1229.19 660.52v20.48M1233.29 660.52v20.48M1237.38 660.52v20.48M1241.48 660.52v20.48M1245.57 660.52v20.48M1249.67 660.52v20.48M1253.76 660.52v20.48M1257.86 660.52v20.48M1261.95 660.52v20.48M1266.05 660.52v20.48M1270.14 660.52v20.48M1274.24 660.52v20.48M1278.33 660.52v20.48M1282.43 660.52v20.48M1286.52 660.52v20.48M1290.62 660.52v20.48M1294.71 660.52v20.48M1298.8 660.52v20.48M1302.9 660.52v20.48M1306.99 660.52v20.48M1311.09 660.52v20.48M1315.18 660.52v20.48M1319.28 660.52v20.48M1323.37 660.52v20.48M1327.47 660.52v20.48M1331.56 660.52v20.48M1335.66 660.52v20.48M1339.75 660.52v20.48M1343.85 660.52v20.48M1347.94 660.52v20.48M1352.04 660.52v20.48M1356.13 660.52v20.48M1360.23 660.52v20.48M1364.32 660.52v20.48M1368.42 660.52v20.48M1372.51 660.52v20.48M1376.61 660.52v20.48M1380.7 660.52v20.48M1384.8 660.52v20.48M1388.89 660.52v20.48M1392.99 660.52v20.48M1397.08 660.52v20.48M1401.17 660.52v20.48M1405.27 660.52v20.48M1409.36 660.52v20.48M1413.46 660.52v20.48M1417.55 660.52v20.48M1421.65 660.52v20.48M1425.74 660.52v20.48M1429.84 660.52v20.48M1433.93 660.52v20.48M1438.03 660.52v20.48M1442.12 660.52v20.48M1446.22 660.52v20.48M1450.31 660.52v20.48M1454.41 660.52v20.48M1458.5 660.52v20.48M1462.6 660.52v20.48M1466.69 660.52v20.48M1470.79 660.52v20.48M1474.88 660.52v20.48M1478.98 660.52v20.48M1483.07 660.52v20.48M1487.17 660.52v20.48M1491.26 660.52v20.48M1495.36 660.52v20.48M1499.45 660.52v20.48M1503.54 660.52v20.48M1507.64 660.52v20.48M1511.73 660.52v20.48M1515.83 660.52v20.48M1519.92 660.52v20.48M1524.02 660.52v20.48M1528.11 660.52v20.48M1532.21 660.52v20.48M1536.3 660.52v20.48M1540.4 660.52v20.48M1544.49 660.52v20.48M1548.59 660.52v20.48M1552.68 660.52v20.48M1556.78 660.52v20.48M1560.87 660.52v20.48M1564.97 660.52v20.48M1569.06 660.52v20.48M1573.16 660.52v20.48M1577.25 660.52v20.48M1581.35 660.52v20.48M1585.44 660.52v20.48M1589.54 660.52v20.48M1593.63 660.52v20.48M1597.72 660.52v20.48M1601.82 660.52v20.48M1605.91 660.52v20.48M1610.01 660.52v20.48M1614.1 660.52v20.48M1618.2 660.52v20.48M1622.29 660.52v20.48M1626.39 660.52v20.48M1630.48 660.52v20.48M1634.58 660.52v20.48M1638.67 660.52v20.48M1642.77 660.52v20.48M1646.86 660.52v20.48M1650.96 660.52v20.48M1655.05 660.52v20.48M1659.15 660.52v20.48M1663.24 660.52v20.48M1667.34 660.52v20.48M1671.43 660.52v20.48M1675.53 660.52v20.48M1679.62 660.52v20.48M1683.72 660.52v20.48M1687.81 660.52v20.48M1691.91 660.52v20.48M1696 660.52v20.48" stroke="#9a9a9a" stroke-width="0.45" fill="none"/>
<rect x="201.4" y="681" width="12.28" height="20.48" fill="#fff"/>
<rect x="213.68" y="681" width="4.09" height="20.48" fill="#1f6fe0"/>
<rect x="217.78" y="681" width="4.09" height="20.48" fill="#3f3f3f"/>
<rect x="221.87" y="681" width="4.09" height="20.48" fill="#fff"/>
<rect x="225.97" y="681" width="4.09" height="20.48" fill="#1f6fe0"/>
<rect x="230.06" y="681" width="4.09" height="20.48" fill="#fff"/>
<rect x="234.16" y="681" width="4.09" height="20.48" fill="#1f6fe0"/>
<rect x="238.25" y="681" width="4.09" height="20.48" fill="#fff"/>
<rect x="242.35" y="681" width="4.09" height="20.48" fill="#3f3f3f"/>
<rect x="246.44" y="681" width="4.09" height="20.48" fill="#fff"/>
<rect x="250.54" y="681" width="16.38" height="20.48" fill="#1f6fe0"/>
<rect x="266.92" y="681" width="8.19" height="20.48" fill="#fff"/>
<rect x="275.11" y="681" width="8.19" height="20.48" fill="#1f6fe0"/>
<rect x="283.3" y="681" width="12.28" height="20.48" fill="#fff"/>
<rect x="295.58" y="681" width="4.09" height="20.48" fill="#1f6fe0"/>
<rect x="299.68" y="681" width="12.28" height="20.48" fill="#fff"/>
<rect x="311.96" y="681" width="4.09" height="20.48" fill="#1f6fe0"/>
<rect x="316.05" y="681" width="4.09" height="20.48" fill="#fff"/>
<rect x="320.15" y="681" width="4.09" height="20.48" fill="#1f6fe0"/>
<rect x="324.24" y="681" width="4.09" height="20.48" fill="#3f3f3f"/>
<rect x="328.34" y="681" width="16.38" height="20.48" fill="#fff"/>
<rect x="344.72" y="681" width="4.09" height="20.48" fill="#1f6fe0"/>
<rect x="348.81" y="681" width="4.09" height="20.48" fill="#3f3f3f"/>
<rect x="352.91" y="681" width="12.28" height="20.48" fill="#1f6fe0"/>
<rect x="365.19" y="681" width="12.28" height="20.48" fill="#fff"/>
<rect x="377.48" y="681" width="4.09" height="20.48" fill="#1f6fe0"/>
<rect x="381.57" y="681" width="16.38" height="20.48" fill="#fff"/>
<rect x="397.95" y="681" width="4.09" height="20.48" fill="#1f6fe0"/>
<rect x="402.04" y="681" width="4.09" height="20.48" fill="#3f3f3f"/>
<rect x="406.14" y="681" width="8.19" height="20.48" fill="#1f6fe0"/>
<rect x="414.33" y="681" width="4.09" height="20.48" fill="#3f3f3f"/>
<rect x="418.42" y="681" width="4.09" height="20.48" fill="#fff"/>
<rect x="422.52" y="681" width="4.09" height="20.48" fill="#1f6fe0"/>
<rect x="426.61" y="681" width="8.19" height="20.48" fill="#3f3f3f"/>
<rect x="434.8" y="681" width="4.09" height="20.48" fill="#fff"/>
<rect x="438.9" y="681" width="4.09" height="20.48" fill="#1f6fe0"/>
<rect x="442.99" y="681" width="8.19" height="20.48" fill="#fff"/>
<rect x="451.18" y="681" width="12.28" height="20.48" fill="#1f6fe0"/>
<rect x="463.47" y="681" width="4.09" height="20.48" fill="#fff"/>
<rect x="467.56" y="681" width="8.19" height="20.48" fill="#3f3f3f"/>
<rect x="475.75" y="681" width="4.09" height="20.48" fill="#fff"/>
<rect x="479.85" y="681" width="4.09" height="20.48" fill="#1f6fe0"/>
<rect x="483.94" y="681" width="4.09" height="20.48" fill="#3f3f3f"/>
<rect x="488.04" y="681" width="4.09" height="20.48" fill="#1f6fe0"/>
<rect x="492.13" y="681" width="8.19" height="20.48" fill="#fff"/>
<rect x="500.32" y="681" width="8.19" height="20.48" fill="#1f6fe0"/>
<rect x="508.51" y="681" width="12.28" height="20.48" fill="#fff"/>
<rect x="520.79" y="681" width="4.09" height="20.48" fill="#1f6fe0"/>
<rect x="524.89" y="681" width="4.09" height="20.48" fill="#fff"/>
<rect x="528.98" y="681" width="4.09" height="20.48" fill="#3f3f3f"/>
<rect x="533.08" y="681" width="4.09" height="20.48" fill="#1f6fe0"/>
<rect x="537.17" y="681" width="20.47" height="20.48" fill="#fff"/>
<rect x="557.65" y="681" width="4.09" height="20.48" fill="#3f3f3f"/>
<rect x="561.74" y="681" width="4.09" height="20.48" fill="#fff"/>
<rect x="565.84" y="681" width="4.09" height="20.48" fill="#1f6fe0"/>
<rect x="569.93" y="681" width="4.09" height="20.48" fill="#3f3f3f"/>
<rect x="574.03" y="681" width="4.09" height="20.48" fill="#1f6fe0"/>
<rect x="578.12" y="681" width="20.47" height="20.48" fill="#fff"/>
<rect x="598.6" y="681" width="4.09" height="20.48" fill="#3f3f3f"/>
<rect x="602.69" y="681" width="32.76" height="20.48" fill="#fff"/>
<rect x="635.45" y="681" width="16.38" height="20.48" fill="#1f6fe0"/>
<rect x="651.83" y="681" width="8.19" height="20.48" fill="#fff"/>
<rect x="660.02" y="681" width="4.09" height="20.48" fill="#1f6fe0"/>
<rect x="664.11" y="681" width="4.09" height="20.48" fill="#fff"/>
<rect x="668.21" y="681" width="16.38" height="20.48" fill="#1f6fe0"/>
<rect x="684.59" y="681" width="4.09" height="20.48" fill="#3f3f3f"/>
<rect x="688.68" y="681" width="4.09" height="20.48" fill="#1f6fe0"/>
<rect x="692.78" y="681" width="8.19" height="20.48" fill="#fff"/>
<rect x="700.96" y="681" width="4.09" height="20.48" fill="#1f6fe0"/>
<rect x="705.06" y="681" width="8.19" height="20.48" fill="#3f3f3f"/>
<rect x="713.25" y="681" width="4.09" height="20.48" fill="#fff"/>
<rect x="717.34" y="681" width="4.09" height="20.48" fill="#3f3f3f"/>
<rect x="721.44" y="681" width="8.19" height="20.48" fill="#fff"/>
<rect x="729.63" y="681" width="8.19" height="20.48" fill="#1f6fe0"/>
<rect x="737.82" y="681" width="8.19" height="20.48" fill="#fff"/>
<rect x="746.01" y="681" width="4.09" height="20.48" fill="#1f6fe0"/>
<rect x="750.1" y="681" width="4.09" height="20.48" fill="#fff"/>
<rect x="754.2" y="681" width="4.09" height="20.48" fill="#3f3f3f"/>
<rect x="758.29" y="681" width="4.09" height="20.48" fill="#fff"/>
<rect x="762.39" y="681" width="4.09" height="20.48" fill="#1f6fe0"/>
<rect x="766.48" y="681" width="4.09" height="20.48" fill="#fff"/>
<rect x="770.58" y="681" width="4.09" height="20.48" fill="#1f6fe0"/>
<rect x="774.67" y="681" width="8.19" height="20.48" fill="#fff"/>
<rect x="782.86" y="681" width="8.19" height="20.48" fill="#1f6fe0"/>
<rect x="791.05" y="681" width="4.09" height="20.48" fill="#3f3f3f"/>
<rect x="795.15" y="681" width="8.19" height="20.48" fill="#fff"/>
<rect x="803.33" y="681" width="4.09" height="20.48" fill="#3f3f3f"/>
<rect x="807.43" y="681" width="12.28" height="20.48" fill="#fff"/>
<rect x="819.71" y="681" width="4.09" height="20.48" fill="#3f3f3f"/>
<rect x="823.81" y="681" width="4.09" height="20.48" fill="#1f6fe0"/>
<rect x="827.9" y="681" width="4.09" height="20.48" fill="#fff"/>
<rect x="832" y="681" width="8.19" height="20.48" fill="#1f6fe0"/>
<rect x="840.19" y="681" width="4.09" height="20.48" fill="#fff"/>
<rect x="844.28" y="681" width="4.09" height="20.48" fill="#3f3f3f"/>
<rect x="848.38" y="681" width="4.09" height="20.48" fill="#fff"/>
<rect x="852.47" y="681" width="4.09" height="20.48" fill="#3f3f3f"/>
<rect x="856.57" y="681" width="16.38" height="20.48" fill="#1f6fe0"/>
<rect x="872.95" y="681" width="4.09" height="20.48" fill="#fff"/>
<rect x="877.04" y="681" width="12.28" height="20.48" fill="#1f6fe0"/>
<rect x="889.33" y="681" width="4.09" height="20.48" fill="#3f3f3f"/>
<rect x="893.42" y="681" width="4.09" height="20.48" fill="#1f6fe0"/>
<rect x="897.52" y="681" width="28.66" height="20.48" fill="#fff"/>
<rect x="926.18" y="681" width="8.19" height="20.48" fill="#1f6fe0"/>
<rect x="934.37" y="681" width="8.19" height="20.48" fill="#fff"/>
<rect x="942.56" y="681" width="4.09" height="20.48" fill="#1f6fe0"/>
<rect x="946.65" y="681" width="8.19" height="20.48" fill="#fff"/>
<rect x="954.84" y="681" width="4.09" height="20.48" fill="#1f6fe0"/>
<rect x="958.94" y="681" width="4.09" height="20.48" fill="#fff"/>
<rect x="963.03" y="681" width="4.09" height="20.48" fill="#1f6fe0"/>
<rect x="967.13" y="681" width="12.28" height="20.48" fill="#fff"/>
<rect x="979.41" y="681" width="8.19" height="20.48" fill="#1f6fe0"/>
<rect x="987.6" y="681" width="4.09" height="20.48" fill="#3f3f3f"/>
<rect x="991.7" y="681" width="4.09" height="20.48" fill="#1f6fe0"/>
<rect x="995.79" y="681" width="4.09" height="20.48" fill="#fff"/>
<rect x="999.88" y="681" width="8.19" height="20.48" fill="#1f6fe0"/>
<rect x="1008.07" y="681" width="12.28" height="20.48" fill="#fff"/>
<rect x="1020.36" y="681" width="4.09" height="20.48" fill="#1f6fe0"/>
<rect x="1024.45" y="681" width="4.09" height="20.48" fill="#fff"/>
<rect x="1028.55" y="681" width="8.19" height="20.48" fill="#1f6fe0"/>
<rect x="1036.74" y="681" width="40.95" height="20.48" fill="#fff"/>
<rect x="1077.69" y="681" width="4.09" height="20.48" fill="#3f3f3f"/>
<rect x="1081.78" y="681" width="8.19" height="20.48" fill="#fff"/>
<rect x="1089.97" y="681" width="12.28" height="20.48" fill="#1f6fe0"/>
<rect x="1102.25" y="681" width="8.19" height="20.48" fill="#fff"/>
<rect x="1110.44" y="681" width="4.09" height="20.48" fill="#1f6fe0"/>
<rect x="1114.54" y="681" width="16.38" height="20.48" fill="#fff"/>
<rect x="1130.92" y="681" width="4.09" height="20.48" fill="#1f6fe0"/>
<rect x="1135.01" y="681" width="20.47" height="20.48" fill="#fff"/>
<rect x="1155.49" y="681" width="4.09" height="20.48" fill="#1f6fe0"/>
<rect x="1159.58" y="681" width="16.38" height="20.48" fill="#fff"/>
<rect x="1175.96" y="681" width="4.09" height="20.48" fill="#1f6fe0"/>
<rect x="1180.06" y="681" width="4.09" height="20.48" fill="#fff"/>
<rect x="1184.15" y="681" width="4.09" height="20.48" fill="#3f3f3f"/>
<rect x="1188.25" y="681" width="4.09" height="20.48" fill="#1f6fe0"/>
<rect x="1192.34" y="681" width="4.09" height="20.48" fill="#fff"/>
<rect x="1196.44" y="681" width="4.09" height="20.48" fill="#3f3f3f"/>
<rect x="1200.53" y="681" width="12.28" height="20.48" fill="#fff"/>
<rect x="1212.81" y="681" width="4.09" height="20.48" fill="#1f6fe0"/>
<rect x="1216.91" y="681" width="8.19" height="20.48" fill="#fff"/>
<rect x="1225.1" y="681" width="4.09" height="20.48" fill="#3f3f3f"/>
<rect x="1229.19" y="681" width="8.19" height="20.48" fill="#fff"/>
<rect x="1237.38" y="681" width="4.09" height="20.48" fill="#1f6fe0"/>
<rect x="1241.48" y="681" width="8.19" height="20.48" fill="#fff"/>
<rect x="1249.67" y="681" width="4.09" height="20.48" fill="#1f6fe0"/>
<rect x="1253.76" y="681" width="12.28" height="20.48" fill="#fff"/>
<rect x="1266.05" y="681" width="4.09" height="20.48" fill="#1f6fe0"/>
<rect x="1270.14" y="681" width="12.28" height="20.48" fill="#fff"/>
<rect x="1282.43" y="681" width="4.09" height="20.48" fill="#3f3f3f"/>
<rect x="1286.52" y="681" width="4.09" height="20.48" fill="#fff"/>
<rect x="1290.62" y="681" width="4.09" height="20.48" fill="#1f6fe0"/>
<rect x="1294.71" y="681" width="4.09" height="20.48" fill="#3f3f3f"/>
<rect x="1298.8" y="681" width="4.09" height="20.48" fill="#fff"/>
<rect x="1302.9" y="681" width="4.09" height="20.48" fill="#3f3f3f"/>
<rect x="1306.99" y="681" width="8.19" height="20.48" fill="#fff"/>
<rect x="1315.18" y="681" width="4.09" height="20.48" fill="#1f6fe0"/>
<rect x="1319.28" y="681" width="8.19" height="20.48" fill="#3f3f3f"/>
<rect x="1327.47" y="681" width="20.47" height="20.48" fill="#fff"/>
<rect x="1347.94" y="681" width="4.09" height="20.48" fill="#3f3f3f"/>
<rect x="1352.04" y="681" width="20.47" height="20.48" fill="#fff"/>
<rect x="1372.51" y="681" width="4.09" height="20.48" fill="#1f6fe0"/>
<rect x="1376.61" y="681" width="4.09" height="20.48" fill="#fff"/>
<rect x="1380.7" y="681" width="4.09" height="20.48" fill="#1f6fe0"/>
<rect x="1384.8" y="681" width="4.09" height="20.48" fill="#3f3f3f"/>
<rect x="1388.89" y="681" width="16.38" height="20.48" fill="#fff"/>
<rect x="1405.27" y="681" width="8.19" height="20.48" fill="#3f3f3f"/>
<rect x="1413.46" y="681" width="4.09" height="20.48" fill="#fff"/>
<rect x="1417.55" y="681" width="4.09" height="20.48" fill="#1f6fe0"/>
<rect x="1421.65" y="681" width="45.04" height="20.48" fill="#fff"/>
<rect x="1466.69" y="681" width="4.09" height="20.48" fill="#3f3f3f"/>
<rect x="1470.79" y="681" width="4.09" height="20.48" fill="#fff"/>
<rect x="1474.88" y="681" width="4.09" height="20.48" fill="#3f3f3f"/>
<rect x="1478.98" y="681" width="8.19" height="20.48" fill="#fff"/>
<rect x="1487.17" y="681" width="4.09" height="20.48" fill="#1f6fe0"/>
<rect x="1491.26" y="681" width="8.19" height="20.48" fill="#fff"/>
<rect x="1499.45" y="681" width="4.09" height="20.48" fill="#1f6fe0"/>
<rect x="1503.54" y="681" width="4.09" height="20.48" fill="#3f3f3f"/>
<rect x="1507.64" y="681" width="40.95" height="20.48" fill="#fff"/>
<rect x="1548.59" y="681" width="4.09" height="20.48" fill="#1f6fe0"/>
<rect x="1552.68" y="681" width="4.09" height="20.48" fill="#3f3f3f"/>
<rect x="1556.78" y="681" width="4.09" height="20.48" fill="#1f6fe0"/>
<rect x="1560.87" y="681" width="16.38" height="20.48" fill="#fff"/>
<rect x="1577.25" y="681" width="4.09" height="20.48" fill="#3f3f3f"/>
<rect x="1581.35" y="681" width="16.38" height="20.48" fill="#fff"/>
<rect x="1597.72" y="681" width="4.09" height="20.48" fill="#3f3f3f"/>
<rect x="1601.82" y="681" width="12.28" height="20.48" fill="#fff"/>
<rect x="1614.1" y="681" width="4.09" height="20.48" fill="#1f6fe0"/>
<rect x="1618.2" y="681" width="40.95" height="20.48" fill="#fff"/>
<rect x="1659.15" y="681" width="4.09" height="20.48" fill="#3f3f3f"/>
<rect x="1663.24" y="681" width="12.28" height="20.48" fill="#fff"/>
<rect x="1675.53" y="681" width="4.09" height="20.48" fill="#3f3f3f"/>
<rect x="1679.62" y="681" width="16.38" height="20.48" fill="#fff"/>
<path d="M201.4 681v20.48M205.49 681v20.48M209.59 681v20.48M213.68 681v20.48M217.78 681v20.48M221.87 681v20.48M225.97 681v20.48M230.06 681v20.48M234.16 681v20.48M238.25 681v20.48M242.35 681v20.48M246.44 681v20.48M250.54 681v20.48M254.63 681v20.48M258.73 681v20.48M262.82 681v20.48M266.92 681v20.48M271.01 681v20.48M275.11 681v20.48M279.2 681v20.48M283.3 681v20.48M287.39 681v20.48M291.49 681v20.48M295.58 681v20.48M299.68 681v20.48M303.77 681v20.48M307.86 681v20.48M311.96 681v20.48M316.05 681v20.48M320.15 681v20.48M324.24 681v20.48M328.34 681v20.48M332.43 681v20.48M336.53 681v20.48M340.62 681v20.48M344.72 681v20.48M348.81 681v20.48M352.91 681v20.48M357 681v20.48M361.1 681v20.48M365.19 681v20.48M369.29 681v20.48M373.38 681v20.48M377.48 681v20.48M381.57 681v20.48M385.67 681v20.48M389.76 681v20.48M393.86 681v20.48M397.95 681v20.48M402.04 681v20.48M406.14 681v20.48M410.23 681v20.48M414.33 681v20.48M418.42 681v20.48M422.52 681v20.48M426.61 681v20.48M430.71 681v20.48M434.8 681v20.48M438.9 681v20.48M442.99 681v20.48M447.09 681v20.48M451.18 681v20.48M455.28 681v20.48M459.37 681v20.48M463.47 681v20.48M467.56 681v20.48M471.66 681v20.48M475.75 681v20.48M479.85 681v20.48M483.94 681v20.48M488.04 681v20.48M492.13 681v20.48M496.23 681v20.48M500.32 681v20.48M504.41 681v20.48M508.51 681v20.48M512.6 681v20.48M516.7 681v20.48M520.79 681v20.48M524.89 681v20.48M528.98 681v20.48M533.08 681v20.48M537.17 681v20.48M541.27 681v20.48M545.36 681v20.48M549.46 681v20.48M553.55 681v20.48M557.65 681v20.48M561.74 681v20.48M565.84 681v20.48M569.93 681v20.48M574.03 681v20.48M578.12 681v20.48M582.22 681v20.48M586.31 681v20.48M590.41 681v20.48M594.5 681v20.48M598.6 681v20.48M602.69 681v20.48M606.78 681v20.48M610.88 681v20.48M614.97 681v20.48M619.07 681v20.48M623.16 681v20.48M627.26 681v20.48M631.35 681v20.48M635.45 681v20.48M639.54 681v20.48M643.64 681v20.48M647.73 681v20.48M651.83 681v20.48M655.92 681v20.48M660.02 681v20.48M664.11 681v20.48M668.21 681v20.48M672.3 681v20.48M676.4 681v20.48M680.49 681v20.48M684.59 681v20.48M688.68 681v20.48M692.78 681v20.48M696.87 681v20.48M700.96 681v20.48M705.06 681v20.48M709.15 681v20.48M713.25 681v20.48M717.34 681v20.48M721.44 681v20.48M725.53 681v20.48M729.63 681v20.48M733.72 681v20.48M737.82 681v20.48M741.91 681v20.48M746.01 681v20.48M750.1 681v20.48M754.2 681v20.48M758.29 681v20.48M762.39 681v20.48M766.48 681v20.48M770.58 681v20.48M774.67 681v20.48M778.77 681v20.48M782.86 681v20.48M786.96 681v20.48M791.05 681v20.48M795.15 681v20.48M799.24 681v20.48M803.33 681v20.48M807.43 681v20.48M811.52 681v20.48M815.62 681v20.48M819.71 681v20.48M823.81 681v20.48M827.9 681v20.48M832 681v20.48M836.09 681v20.48M840.19 681v20.48M844.28 681v20.48M848.38 681v20.48M852.47 681v20.48M856.57 681v20.48M860.66 681v20.48M864.76 681v20.48M868.85 681v20.48M872.95 681v20.48M877.04 681v20.48M881.14 681v20.48M885.23 681v20.48M889.33 681v20.48M893.42 681v20.48M897.52 681v20.48M901.61 681v20.48M905.7 681v20.48M909.8 681v20.48M913.89 681v20.48M917.99 681v20.48M922.08 681v20.48M926.18 681v20.48M930.27 681v20.48M934.37 681v20.48M938.46 681v20.48M942.56 681v20.48M946.65 681v20.48M950.75 681v20.48M954.84 681v20.48M958.94 681v20.48M963.03 681v20.48M967.13 681v20.48M971.22 681v20.48M975.32 681v20.48M979.41 681v20.48M983.51 681v20.48M987.6 681v20.48M991.7 681v20.48M995.79 681v20.48M999.88 681v20.48M1003.98 681v20.48M1008.07 681v20.48M1012.17 681v20.48M1016.26 681v20.48M1020.36 681v20.48M1024.45 681v20.48M1028.55 681v20.48M1032.64 681v20.48M1036.74 681v20.48M1040.83 681v20.48M1044.93 681v20.48M1049.02 681v20.48M1053.12 681v20.48M1057.21 681v20.48M1061.31 681v20.48M1065.4 681v20.48M1069.5 681v20.48M1073.59 681v20.48M1077.69 681v20.48M1081.78 681v20.48M1085.88 681v20.48M1089.97 681v20.48M1094.07 681v20.48M1098.16 681v20.48M1102.25 681v20.48M1106.35 681v20.48M1110.44 681v20.48M1114.54 681v20.48M1118.63 681v20.48M1122.73 681v20.48M1126.82 681v20.48M1130.92 681v20.48M1135.01 681v20.48M1139.11 681v20.48M1143.2 681v20.48M1147.3 681v20.48M1151.39 681v20.48M1155.49 681v20.48M1159.58 681v20.48M1163.68 681v20.48M1167.77 681v20.48M1171.87 681v20.48M1175.96 681v20.48M1180.06 681v20.48M1184.15 681v20.48M1188.25 681v20.48M1192.34 681v20.48M1196.44 681v20.48M1200.53 681v20.48M1204.62 681v20.48M1208.72 681v20.48M1212.81 681v20.48M1216.91 681v20.48M1221 681v20.48M1225.1 681v20.48M1229.19 681v20.48M1233.29 681v20.48M1237.38 681v20.48M1241.48 681v20.48M1245.57 681v20.48M1249.67 681v20.48M1253.76 681v20.48M1257.86 681v20.48M1261.95 681v20.48M1266.05 681v20.48M1270.14 681v20.48M1274.24 681v20.48M1278.33 681v20.48M1282.43 681v20.48M1286.52 681v20.48M1290.62 681v20.48M1294.71 681v20.48M1298.8 681v20.48M1302.9 681v20.48M1306.99 681v20.48M1311.09 681v20.48M1315.18 681v20.48M1319.28 681v20.48M1323.37 681v20.48M1327.47 681v20.48M1331.56 681v20.48M1335.66 681v20.48M1339.75 681v20.48M1343.85 681v20.48M1347.94 681v20.48M1352.04 681v20.48M1356.13 681v20.48M1360.23 681v20.48M1364.32 681v20.48M1368.42 681v20.48M1372.51 681v20.48M1376.61 681v20.48M1380.7 681v20.48M1384.8 681v20.48M1388.89 681v20.48M1392.99 681v20.48M1397.08 681v20.48M1401.17 681v20.48M1405.27 681v20.48M1409.36 681v20.48M1413.46 681v20.48M1417.55 681v20.48M1421.65 681v20.48M1425.74 681v20.48M1429.84 681v20.48M1433.93 681v20.48M1438.03 681v20.48M1442.12 681v20.48M1446.22 681v20.48M1450.31 681v20.48M1454.41 681v20.48M1458.5 681v20.48M1462.6 681v20.48M1466.69 681v20.48M1470.79 681v20.48M1474.88 681v20.48M1478.98 681v20.48M1483.07 681v20.48M1487.17 681v20.48M1491.26 681v20.48M1495.36 681v20.48M1499.45 681v20.48M1503.54 681v20.48M1507.64 681v20.48M1511.73 681v20.48M1515.83 681v20.48M1519.92 681v20.48M1524.02 681v20.48M1528.11 681v20.48M1532.21 681v20.48M1536.3 681v20.48M1540.4 681v20.48M1544.49 681v20.48M1548.59 681v20.48M1552.68 681v20.48M1556.78 681v20.48M1560.87 681v20.48M1564.97 681v20.48M1569.06 681v20.48M1573.16 681v20.48M1577.25 681v20.48M1581.35 681v20.48M1585.44 681v20.48M1589.54 681v20.48M1593.63 681v20.48M1597.72 681v20.48M1601.82 681v20.48M1605.91 681v20.48M1610.01 681v20.48M1614.1 681v20.48M1618.2 681v20.48M1622.29 681v20.48M1626.39 681v20.48M1630.48 681v20.48M1634.58 681v20.48M1638.67 681v20.48M1642.77 681v20.48M1646.86 681v20.48M1650.96 681v20.48M1655.05 681v20.48M1659.15 681v20.48M1663.24 681v20.48M1667.34 681v20.48M1671.43 681v20.48M1675.53 681v20.48M1679.62 681v20.48M1683.72 681v20.48M1687.81 681v20.48M1691.91 681v20.48M1696 681v20.48" stroke="#9a9a9a" stroke-width="0.45" fill="none"/>
<line x1="201.4" y1="578.6" x2="1696" y2="578.6" stroke="#8a8a8a" stroke-width="0.6"/>
<line x1="201.4" y1="599.08" x2="1696" y2="599.08" stroke="#8a8a8a" stroke-width="0.6"/>
<line x1="201.4" y1="619.56" x2="1696" y2="619.56" stroke="#8a8a8a" stroke-width="0.6"/>
<line x1="201.4" y1="640.04" x2="1696" y2="640.04" stroke="#8a8a8a" stroke-width="0.6"/>
<line x1="201.4" y1="660.52" x2="1696" y2="660.52" stroke="#8a8a8a" stroke-width="0.6"/>
<line x1="201.4" y1="681" x2="1696" y2="681" stroke="#8a8a8a" stroke-width="0.6"/>
<line x1="201.4" y1="701.48" x2="1696" y2="701.48" stroke="#8a8a8a" stroke-width="0.6"/>
<rect x="201.4" y="708.3" width="4.09" height="20.4" fill="#ff9000"/>
<rect x="205.49" y="708.3" width="4.09" height="20.4" fill="#ffff00"/>
<rect x="209.59" y="708.3" width="4.09" height="20.4" fill="#ffffff"/>
<rect x="213.68" y="708.3" width="8.19" height="20.4" fill="#ffff00"/>
<rect x="221.87" y="708.3" width="4.09" height="20.4" fill="#ff9000"/>
<rect x="225.97" y="708.3" width="4.09" height="20.4" fill="#ffff00"/>
<rect x="230.06" y="708.3" width="4.09" height="20.4" fill="#ff0000"/>
<rect x="234.16" y="708.3" width="4.09" height="20.4" fill="#ffffff"/>
<rect x="238.25" y="708.3" width="4.09" height="20.4" fill="#ffff00"/>
<rect x="242.35" y="708.3" width="4.09" height="20.4" fill="#ff9000"/>
<rect x="246.44" y="708.3" width="4.09" height="20.4" fill="#ff0000"/>
<rect x="250.54" y="708.3" width="8.19" height="20.4" fill="#ffff00"/>
<rect x="258.73" y="708.3" width="4.09" height="20.4" fill="#ff9000"/>
<rect x="262.82" y="708.3" width="12.28" height="20.4" fill="#ffff00"/>
<rect x="275.11" y="708.3" width="4.09" height="20.4" fill="#ff9000"/>
<rect x="279.2" y="708.3" width="4.09" height="20.4" fill="#ffff00"/>
<rect x="283.3" y="708.3" width="8.19" height="20.4" fill="#ff9000"/>
<rect x="291.49" y="708.3" width="4.09" height="20.4" fill="#ffff00"/>
<rect x="295.58" y="708.3" width="4.09" height="20.4" fill="#ff9000"/>
<rect x="299.68" y="708.3" width="8.19" height="20.4" fill="#ffff00"/>
<rect x="307.86" y="708.3" width="4.09" height="20.4" fill="#ffffff"/>
<rect x="311.96" y="708.3" width="4.09" height="20.4" fill="#ff9000"/>
<rect x="316.05" y="708.3" width="12.28" height="20.4" fill="#ffff00"/>
<rect x="328.34" y="708.3" width="4.09" height="20.4" fill="#ffffff"/>
<rect x="332.43" y="708.3" width="4.09" height="20.4" fill="#ff9000"/>
<rect x="336.53" y="708.3" width="28.66" height="20.4" fill="#ffff00"/>
<rect x="365.19" y="708.3" width="8.19" height="20.4" fill="#ff9000"/>
<rect x="373.38" y="708.3" width="16.38" height="20.4" fill="#ffff00"/>
<rect x="389.76" y="708.3" width="4.09" height="20.4" fill="#ff9000"/>
<rect x="393.86" y="708.3" width="4.09" height="20.4" fill="#ffffff"/>
<rect x="397.95" y="708.3" width="4.09" height="20.4" fill="#ff9000"/>
<rect x="402.04" y="708.3" width="8.19" height="20.4" fill="#ffff00"/>
<rect x="410.23" y="708.3" width="4.09" height="20.4" fill="#ff9000"/>
<rect x="414.33" y="708.3" width="8.19" height="20.4" fill="#ffff00"/>
<rect x="422.52" y="708.3" width="4.09" height="20.4" fill="#ff9000"/>
<rect x="426.61" y="708.3" width="4.09" height="20.4" fill="#ffff00"/>
<rect x="430.71" y="708.3" width="4.09" height="20.4" fill="#ff9000"/>
<rect x="434.8" y="708.3" width="12.28" height="20.4" fill="#ffff00"/>
<rect x="447.09" y="708.3" width="4.09" height="20.4" fill="#ffffff"/>
<rect x="451.18" y="708.3" width="4.09" height="20.4" fill="#ffff00"/>
<rect x="455.28" y="708.3" width="8.19" height="20.4" fill="#ff9000"/>
<rect x="463.47" y="708.3" width="8.19" height="20.4" fill="#ffff00"/>
<rect x="471.66" y="708.3" width="4.09" height="20.4" fill="#ff9000"/>
<rect x="475.75" y="708.3" width="4.09" height="20.4" fill="#ffff00"/>
<rect x="479.85" y="708.3" width="4.09" height="20.4" fill="#ff9000"/>
<rect x="483.94" y="708.3" width="4.09" height="20.4" fill="#ff0000"/>
<rect x="488.04" y="708.3" width="4.09" height="20.4" fill="#ffff00"/>
<rect x="492.13" y="708.3" width="4.09" height="20.4" fill="#ffffff"/>
<rect x="496.23" y="708.3" width="4.09" height="20.4" fill="#ffff00"/>
<rect x="500.32" y="708.3" width="4.09" height="20.4" fill="#ffffff"/>
<rect x="504.41" y="708.3" width="4.09" height="20.4" fill="#ffff00"/>
<rect x="508.51" y="708.3" width="4.09" height="20.4" fill="#ffffff"/>
<rect x="512.6" y="708.3" width="4.09" height="20.4" fill="#ff9000"/>
<rect x="516.7" y="708.3" width="12.28" height="20.4" fill="#ffff00"/>
<rect x="528.98" y="708.3" width="4.09" height="20.4" fill="#ffffff"/>
<rect x="533.08" y="708.3" width="4.09" height="20.4" fill="#ffff00"/>
<rect x="537.17" y="708.3" width="4.09" height="20.4" fill="#ff9000"/>
<rect x="541.27" y="708.3" width="8.19" height="20.4" fill="#ffff00"/>
<rect x="549.46" y="708.3" width="4.09" height="20.4" fill="#ff9000"/>
<rect x="553.55" y="708.3" width="4.09" height="20.4" fill="#ff0000"/>
<rect x="557.65" y="708.3" width="4.09" height="20.4" fill="#ffff00"/>
<rect x="561.74" y="708.3" width="4.09" height="20.4" fill="#ff0000"/>
<rect x="565.84" y="708.3" width="4.09" height="20.4" fill="#ffff00"/>
<rect x="569.93" y="708.3" width="12.28" height="20.4" fill="#ff9000"/>
<rect x="582.22" y="708.3" width="4.09" height="20.4" fill="#ffff00"/>
<rect x="586.31" y="708.3" width="4.09" height="20.4" fill="#ffffff"/>
<rect x="590.41" y="708.3" width="12.28" height="20.4" fill="#ffff00"/>
<rect x="602.69" y="708.3" width="4.09" height="20.4" fill="#ffffff"/>
<rect x="606.78" y="708.3" width="16.38" height="20.4" fill="#ffff00"/>
<rect x="623.16" y="708.3" width="4.09" height="20.4" fill="#ff9000"/>
<rect x="627.26" y="708.3" width="12.28" height="20.4" fill="#ffff00"/>
<rect x="639.54" y="708.3" width="4.09" height="20.4" fill="#ff9000"/>
<rect x="643.64" y="708.3" width="8.19" height="20.4" fill="#ffff00"/>
<rect x="651.83" y="708.3" width="4.09" height="20.4" fill="#ffffff"/>
<rect x="655.92" y="708.3" width="8.19" height="20.4" fill="#ffff00"/>
<rect x="664.11" y="708.3" width="4.09" height="20.4" fill="#ff9000"/>
<rect x="668.21" y="708.3" width="4.09" height="20.4" fill="#ffffff"/>
<rect x="672.3" y="708.3" width="8.19" height="20.4" fill="#ffff00"/>
<rect x="680.49" y="708.3" width="4.09" height="20.4" fill="#ff9000"/>
<rect x="684.59" y="708.3" width="4.09" height="20.4" fill="#ffffff"/>
<rect x="688.68" y="708.3" width="24.57" height="20.4" fill="#ffff00"/>
<rect x="713.25" y="708.3" width="4.09" height="20.4" fill="#ffffff"/>
<rect x="717.34" y="708.3" width="4.09" height="20.4" fill="#ffff00"/>
<rect x="721.44" y="708.3" width="4.09" height="20.4" fill="#ff9000"/>
<rect x="725.53" y="708.3" width="12.28" height="20.4" fill="#ffff00"/>
<rect x="737.82" y="708.3" width="4.09" height="20.4" fill="#ffffff"/>
<rect x="741.91" y="708.3" width="16.38" height="20.4" fill="#ffff00"/>
<rect x="758.29" y="708.3" width="4.09" height="20.4" fill="#ffffff"/>
<rect x="762.39" y="708.3" width="20.47" height="20.4" fill="#ffff00"/>
<rect x="782.86" y="708.3" width="4.09" height="20.4" fill="#ff9000"/>
<rect x="786.96" y="708.3" width="4.09" height="20.4" fill="#ffff00"/>
<rect x="791.05" y="708.3" width="4.09" height="20.4" fill="#ffffff"/>
<rect x="795.15" y="708.3" width="4.09" height="20.4" fill="#ffff00"/>
<rect x="799.24" y="708.3" width="4.09" height="20.4" fill="#ffffff"/>
<rect x="803.33" y="708.3" width="4.09" height="20.4" fill="#ffff00"/>
<rect x="807.43" y="708.3" width="4.09" height="20.4" fill="#ff9000"/>
<rect x="811.52" y="708.3" width="4.09" height="20.4" fill="#ffff00"/>
<rect x="815.62" y="708.3" width="4.09" height="20.4" fill="#ffffff"/>
<rect x="819.71" y="708.3" width="8.19" height="20.4" fill="#ffff00"/>
<rect x="827.9" y="708.3" width="8.19" height="20.4" fill="#ffffff"/>
<rect x="836.09" y="708.3" width="8.19" height="20.4" fill="#ff9000"/>
<rect x="844.28" y="708.3" width="4.09" height="20.4" fill="#ffff00"/>
<rect x="848.38" y="708.3" width="4.09" height="20.4" fill="#ffffff"/>
<rect x="852.47" y="708.3" width="8.19" height="20.4" fill="#ffff00"/>
<rect x="860.66" y="708.3" width="4.09" height="20.4" fill="#ff9000"/>
<rect x="864.76" y="708.3" width="16.38" height="20.4" fill="#ffff00"/>
<rect x="881.14" y="708.3" width="8.19" height="20.4" fill="#ff9000"/>
<rect x="889.33" y="708.3" width="20.47" height="20.4" fill="#ffff00"/>
<rect x="909.8" y="708.3" width="4.09" height="20.4" fill="#ff9000"/>
<rect x="913.89" y="708.3" width="16.38" height="20.4" fill="#ffff00"/>
<rect x="930.27" y="708.3" width="4.09" height="20.4" fill="#ff9000"/>
<rect x="934.37" y="708.3" width="4.09" height="20.4" fill="#ffffff"/>
<rect x="938.46" y="708.3" width="8.19" height="20.4" fill="#ffff00"/>
<rect x="946.65" y="708.3" width="4.09" height="20.4" fill="#ffffff"/>
<rect x="950.75" y="708.3" width="28.66" height="20.4" fill="#ffff00"/>
<rect x="979.41" y="708.3" width="4.09" height="20.4" fill="#ff9000"/>
<rect x="983.51" y="708.3" width="4.09" height="20.4" fill="#ffffff"/>
<rect x="987.6" y="708.3" width="4.09" height="20.4" fill="#ffff00"/>
<rect x="991.7" y="708.3" width="4.09" height="20.4" fill="#ff9000"/>
<rect x="995.79" y="708.3" width="4.09" height="20.4" fill="#ffff00"/>
<rect x="999.88" y="708.3" width="4.09" height="20.4" fill="#ffffff"/>
<rect x="1003.98" y="708.3" width="16.38" height="20.4" fill="#ffff00"/>
<rect x="1020.36" y="708.3" width="4.09" height="20.4" fill="#ffffff"/>
<rect x="1024.45" y="708.3" width="4.09" height="20.4" fill="#ff9000"/>
<rect x="1028.55" y="708.3" width="28.66" height="20.4" fill="#ffff00"/>
<rect x="1057.21" y="708.3" width="4.09" height="20.4" fill="#ffffff"/>
<rect x="1061.31" y="708.3" width="4.09" height="20.4" fill="#ff9000"/>
<rect x="1065.4" y="708.3" width="4.09" height="20.4" fill="#ffff00"/>
<rect x="1069.5" y="708.3" width="4.09" height="20.4" fill="#ffffff"/>
<rect x="1073.59" y="708.3" width="4.09" height="20.4" fill="#ffff00"/>
<rect x="1077.69" y="708.3" width="8.19" height="20.4" fill="#ffffff"/>
<rect x="1085.88" y="708.3" width="8.19" height="20.4" fill="#ff9000"/>
<rect x="1094.07" y="708.3" width="24.57" height="20.4" fill="#ffff00"/>
<rect x="1118.63" y="708.3" width="4.09" height="20.4" fill="#ff0000"/>
<rect x="1122.73" y="708.3" width="8.19" height="20.4" fill="#ffff00"/>
<rect x="1130.92" y="708.3" width="4.09" height="20.4" fill="#ff9000"/>
<rect x="1135.01" y="708.3" width="4.09" height="20.4" fill="#ffffff"/>
<rect x="1139.11" y="708.3" width="8.19" height="20.4" fill="#ffff00"/>
<rect x="1147.3" y="708.3" width="8.19" height="20.4" fill="#ffffff"/>
<rect x="1155.49" y="708.3" width="8.19" height="20.4" fill="#ffff00"/>
<rect x="1163.68" y="708.3" width="4.09" height="20.4" fill="#ffffff"/>
<rect x="1167.77" y="708.3" width="12.28" height="20.4" fill="#ffff00"/>
<rect x="1180.06" y="708.3" width="4.09" height="20.4" fill="#ff9000"/>
<rect x="1184.15" y="708.3" width="4.09" height="20.4" fill="#ffff00"/>
<rect x="1188.25" y="708.3" width="4.09" height="20.4" fill="#ff0000"/>
<rect x="1192.34" y="708.3" width="16.38" height="20.4" fill="#ffff00"/>
<rect x="1208.72" y="708.3" width="4.09" height="20.4" fill="#ff9000"/>
<rect x="1212.81" y="708.3" width="4.09" height="20.4" fill="#ff0000"/>
<rect x="1216.91" y="708.3" width="16.38" height="20.4" fill="#ffff00"/>
<rect x="1233.29" y="708.3" width="4.09" height="20.4" fill="#ffffff"/>
<rect x="1237.38" y="708.3" width="20.47" height="20.4" fill="#ffff00"/>
<rect x="1257.86" y="708.3" width="8.19" height="20.4" fill="#ff9000"/>
<rect x="1266.05" y="708.3" width="4.09" height="20.4" fill="#ffff00"/>
<rect x="1270.14" y="708.3" width="4.09" height="20.4" fill="#ff9000"/>
<rect x="1274.24" y="708.3" width="4.09" height="20.4" fill="#ffffff"/>
<rect x="1278.33" y="708.3" width="4.09" height="20.4" fill="#ff9000"/>
<rect x="1282.43" y="708.3" width="12.28" height="20.4" fill="#ffff00"/>
<rect x="1294.71" y="708.3" width="4.09" height="20.4" fill="#ffffff"/>
<rect x="1298.8" y="708.3" width="8.19" height="20.4" fill="#ffff00"/>
<rect x="1306.99" y="708.3" width="4.09" height="20.4" fill="#ff9000"/>
<rect x="1311.09" y="708.3" width="8.19" height="20.4" fill="#ffff00"/>
<rect x="1319.28" y="708.3" width="4.09" height="20.4" fill="#ffffff"/>
<rect x="1323.37" y="708.3" width="4.09" height="20.4" fill="#ffff00"/>
<rect x="1327.47" y="708.3" width="8.19" height="20.4" fill="#ffffff"/>
<rect x="1335.66" y="708.3" width="8.19" height="20.4" fill="#ff9000"/>
<rect x="1343.85" y="708.3" width="4.09" height="20.4" fill="#ffffff"/>
<rect x="1347.94" y="708.3" width="36.85" height="20.4" fill="#ffff00"/>
<rect x="1384.8" y="708.3" width="4.09" height="20.4" fill="#ffffff"/>
<rect x="1388.89" y="708.3" width="8.19" height="20.4" fill="#ff9000"/>
<rect x="1397.08" y="708.3" width="4.09" height="20.4" fill="#ffff00"/>
<rect x="1401.17" y="708.3" width="4.09" height="20.4" fill="#ff9000"/>
<rect x="1405.27" y="708.3" width="4.09" height="20.4" fill="#ffff00"/>
<rect x="1409.36" y="708.3" width="8.19" height="20.4" fill="#ffffff"/>
<rect x="1417.55" y="708.3" width="4.09" height="20.4" fill="#ffff00"/>
<rect x="1421.65" y="708.3" width="4.09" height="20.4" fill="#ffffff"/>
<rect x="1425.74" y="708.3" width="4.09" height="20.4" fill="#ff9000"/>
<rect x="1429.84" y="708.3" width="16.38" height="20.4" fill="#ffff00"/>
<rect x="1446.22" y="708.3" width="4.09" height="20.4" fill="#ffffff"/>
<rect x="1450.31" y="708.3" width="8.19" height="20.4" fill="#ffff00"/>
<rect x="1458.5" y="708.3" width="4.09" height="20.4" fill="#ffffff"/>
<rect x="1462.6" y="708.3" width="4.09" height="20.4" fill="#ffff00"/>
<rect x="1466.69" y="708.3" width="8.19" height="20.4" fill="#ffffff"/>
<rect x="1474.88" y="708.3" width="4.09" height="20.4" fill="#ffff00"/>
<rect x="1478.98" y="708.3" width="4.09" height="20.4" fill="#ff9000"/>
<rect x="1483.07" y="708.3" width="4.09" height="20.4" fill="#ffff00"/>
<rect x="1487.17" y="708.3" width="4.09" height="20.4" fill="#ff9000"/>
<rect x="1491.26" y="708.3" width="8.19" height="20.4" fill="#ffff00"/>
<rect x="1499.45" y="708.3" width="8.19" height="20.4" fill="#ffffff"/>
<rect x="1507.64" y="708.3" width="12.28" height="20.4" fill="#ffff00"/>
<rect x="1519.92" y="708.3" width="4.09" height="20.4" fill="#ffffff"/>
<rect x="1524.02" y="708.3" width="4.09" height="20.4" fill="#ff9000"/>
<rect x="1528.11" y="708.3" width="8.19" height="20.4" fill="#ffffff"/>
<rect x="1536.3" y="708.3" width="8.19" height="20.4" fill="#ff9000"/>
<rect x="1544.49" y="708.3" width="12.28" height="20.4" fill="#ffff00"/>
<rect x="1556.78" y="708.3" width="4.09" height="20.4" fill="#ffffff"/>
<rect x="1560.87" y="708.3" width="12.28" height="20.4" fill="#ffff00"/>
<rect x="1573.16" y="708.3" width="4.09" height="20.4" fill="#ffffff"/>
<rect x="1577.25" y="708.3" width="4.09" height="20.4" fill="#ff9000"/>
<rect x="1581.35" y="708.3" width="4.09" height="20.4" fill="#ffff00"/>
<rect x="1585.44" y="708.3" width="4.09" height="20.4" fill="#ffffff"/>
<rect x="1589.54" y="708.3" width="4.09" height="20.4" fill="#ff9000"/>
<rect x="1593.63" y="708.3" width="4.09" height="20.4" fill="#ffffff"/>
<rect x="1597.72" y="708.3" width="8.19" height="20.4" fill="#ff9000"/>
<rect x="1605.91" y="708.3" width="4.09" height="20.4" fill="#ffff00"/>
<rect x="1610.01" y="708.3" width="4.09" height="20.4" fill="#ff9000"/>
<rect x="1614.1" y="708.3" width="4.09" height="20.4" fill="#ffff00"/>
<rect x="1618.2" y="708.3" width="4.09" height="20.4" fill="#ff9000"/>
<rect x="1622.29" y="708.3" width="20.47" height="20.4" fill="#ffff00"/>
<rect x="1642.77" y="708.3" width="4.09" height="20.4" fill="#ff9000"/>
<rect x="1646.86" y="708.3" width="4.09" height="20.4" fill="#ffff00"/>
<rect x="1650.96" y="708.3" width="8.19" height="20.4" fill="#ff9000"/>
<rect x="1659.15" y="708.3" width="4.09" height="20.4" fill="#ffffff"/>
<rect x="1663.24" y="708.3" width="8.19" height="20.4" fill="#ff9000"/>
<rect x="1671.43" y="708.3" width="4.09" height="20.4" fill="#ffff00"/>
<rect x="1675.53" y="708.3" width="4.09" height="20.4" fill="#ff9000"/>
<rect x="1679.62" y="708.3" width="4.09" height="20.4" fill="#ffff00"/>
<rect x="1683.72" y="708.3" width="8.19" height="20.4" fill="#ffffff"/>
<rect x="1691.91" y="708.3" width="4.09" height="20.4" fill="#ff0000"/>
<path d="M201.4 708.3v20.4M205.49 708.3v20.4M209.59 708.3v20.4M213.68 708.3v20.4M217.78 708.3v20.4M221.87 708.3v20.4M225.97 708.3v20.4M230.06 708.3v20.4M234.16 708.3v20.4M238.25 708.3v20.4M242.35 708.3v20.4M246.44 708.3v20.4M250.54 708.3v20.4M254.63 708.3v20.4M258.73 708.3v20.4M262.82 708.3v20.4M266.92 708.3v20.4M271.01 708.3v20.4M275.11 708.3v20.4M279.2 708.3v20.4M283.3 708.3v20.4M287.39 708.3v20.4M291.49 708.3v20.4M295.58 708.3v20.4M299.68 708.3v20.4M303.77 708.3v20.4M307.86 708.3v20.4M311.96 708.3v20.4M316.05 708.3v20.4M320.15 708.3v20.4M324.24 708.3v20.4M328.34 708.3v20.4M332.43 708.3v20.4M336.53 708.3v20.4M340.62 708.3v20.4M344.72 708.3v20.4M348.81 708.3v20.4M352.91 708.3v20.4M357 708.3v20.4M361.1 708.3v20.4M365.19 708.3v20.4M369.29 708.3v20.4M373.38 708.3v20.4M377.48 708.3v20.4M381.57 708.3v20.4M385.67 708.3v20.4M389.76 708.3v20.4M393.86 708.3v20.4M397.95 708.3v20.4M402.04 708.3v20.4M406.14 708.3v20.4M410.23 708.3v20.4M414.33 708.3v20.4M418.42 708.3v20.4M422.52 708.3v20.4M426.61 708.3v20.4M430.71 708.3v20.4M434.8 708.3v20.4M438.9 708.3v20.4M442.99 708.3v20.4M447.09 708.3v20.4M451.18 708.3v20.4M455.28 708.3v20.4M459.37 708.3v20.4M463.47 708.3v20.4M467.56 708.3v20.4M471.66 708.3v20.4M475.75 708.3v20.4M479.85 708.3v20.4M483.94 708.3v20.4M488.04 708.3v20.4M492.13 708.3v20.4M496.23 708.3v20.4M500.32 708.3v20.4M504.41 708.3v20.4M508.51 708.3v20.4M512.6 708.3v20.4M516.7 708.3v20.4M520.79 708.3v20.4M524.89 708.3v20.4M528.98 708.3v20.4M533.08 708.3v20.4M537.17 708.3v20.4M541.27 708.3v20.4M545.36 708.3v20.4M549.46 708.3v20.4M553.55 708.3v20.4M557.65 708.3v20.4M561.74 708.3v20.4M565.84 708.3v20.4M569.93 708.3v20.4M574.03 708.3v20.4M578.12 708.3v20.4M582.22 708.3v20.4M586.31 708.3v20.4M590.41 708.3v20.4M594.5 708.3v20.4M598.6 708.3v20.4M602.69 708.3v20.4M606.78 708.3v20.4M610.88 708.3v20.4M614.97 708.3v20.4M619.07 708.3v20.4M623.16 708.3v20.4M627.26 708.3v20.4M631.35 708.3v20.4M635.45 708.3v20.4M639.54 708.3v20.4M643.64 708.3v20.4M647.73 708.3v20.4M651.83 708.3v20.4M655.92 708.3v20.4M660.02 708.3v20.4M664.11 708.3v20.4M668.21 708.3v20.4M672.3 708.3v20.4M676.4 708.3v20.4M680.49 708.3v20.4M684.59 708.3v20.4M688.68 708.3v20.4M692.78 708.3v20.4M696.87 708.3v20.4M700.96 708.3v20.4M705.06 708.3v20.4M709.15 708.3v20.4M713.25 708.3v20.4M717.34 708.3v20.4M721.44 708.3v20.4M725.53 708.3v20.4M729.63 708.3v20.4M733.72 708.3v20.4M737.82 708.3v20.4M741.91 708.3v20.4M746.01 708.3v20.4M750.1 708.3v20.4M754.2 708.3v20.4M758.29 708.3v20.4M762.39 708.3v20.4M766.48 708.3v20.4M770.58 708.3v20.4M774.67 708.3v20.4M778.77 708.3v20.4M782.86 708.3v20.4M786.96 708.3v20.4M791.05 708.3v20.4M795.15 708.3v20.4M799.24 708.3v20.4M803.33 708.3v20.4M807.43 708.3v20.4M811.52 708.3v20.4M815.62 708.3v20.4M819.71 708.3v20.4M823.81 708.3v20.4M827.9 708.3v20.4M832 708.3v20.4M836.09 708.3v20.4M840.19 708.3v20.4M844.28 708.3v20.4M848.38 708.3v20.4M852.47 708.3v20.4M856.57 708.3v20.4M860.66 708.3v20.4M864.76 708.3v20.4M868.85 708.3v20.4M872.95 708.3v20.4M877.04 708.3v20.4M881.14 708.3v20.4M885.23 708.3v20.4M889.33 708.3v20.4M893.42 708.3v20.4M897.52 708.3v20.4M901.61 708.3v20.4M905.7 708.3v20.4M909.8 708.3v20.4M913.89 708.3v20.4M917.99 708.3v20.4M922.08 708.3v20.4M926.18 708.3v20.4M930.27 708.3v20.4M934.37 708.3v20.4M938.46 708.3v20.4M942.56 708.3v20.4M946.65 708.3v20.4M950.75 708.3v20.4M954.84 708.3v20.4M958.94 708.3v20.4M963.03 708.3v20.4M967.13 708.3v20.4M971.22 708.3v20.4M975.32 708.3v20.4M979.41 708.3v20.4M983.51 708.3v20.4M987.6 708.3v20.4M991.7 708.3v20.4M995.79 708.3v20.4M999.88 708.3v20.4M1003.98 708.3v20.4M1008.07 708.3v20.4M1012.17 708.3v20.4M1016.26 708.3v20.4M1020.36 708.3v20.4M1024.45 708.3v20.4M1028.55 708.3v20.4M1032.64 708.3v20.4M1036.74 708.3v20.4M1040.83 708.3v20.4M1044.93 708.3v20.4M1049.02 708.3v20.4M1053.12 708.3v20.4M1057.21 708.3v20.4M1061.31 708.3v20.4M1065.4 708.3v20.4M1069.5 708.3v20.4M1073.59 708.3v20.4M1077.69 708.3v20.4M1081.78 708.3v20.4M1085.88 708.3v20.4M1089.97 708.3v20.4M1094.07 708.3v20.4M1098.16 708.3v20.4M1102.25 708.3v20.4M1106.35 708.3v20.4M1110.44 708.3v20.4M1114.54 708.3v20.4M1118.63 708.3v20.4M1122.73 708.3v20.4M1126.82 708.3v20.4M1130.92 708.3v20.4M1135.01 708.3v20.4M1139.11 708.3v20.4M1143.2 708.3v20.4M1147.3 708.3v20.4M1151.39 708.3v20.4M1155.49 708.3v20.4M1159.58 708.3v20.4M1163.68 708.3v20.4M1167.77 708.3v20.4M1171.87 708.3v20.4M1175.96 708.3v20.4M1180.06 708.3v20.4M1184.15 708.3v20.4M1188.25 708.3v20.4M1192.34 708.3v20.4M1196.44 708.3v20.4M1200.53 708.3v20.4M1204.62 708.3v20.4M1208.72 708.3v20.4M1212.81 708.3v20.4M1216.91 708.3v20.4M1221 708.3v20.4M1225.1 708.3v20.4M1229.19 708.3v20.4M1233.29 708.3v20.4M1237.38 708.3v20.4M1241.48 708.3v20.4M1245.57 708.3v20.4M1249.67 708.3v20.4M1253.76 708.3v20.4M1257.86 708.3v20.4M1261.95 708.3v20.4M1266.05 708.3v20.4M1270.14 708.3v20.4M1274.24 708.3v20.4M1278.33 708.3v20.4M1282.43 708.3v20.4M1286.52 708.3v20.4M1290.62 708.3v20.4M1294.71 708.3v20.4M1298.8 708.3v20.4M1302.9 708.3v20.4M1306.99 708.3v20.4M1311.09 708.3v20.4M1315.18 708.3v20.4M1319.28 708.3v20.4M1323.37 708.3v20.4M1327.47 708.3v20.4M1331.56 708.3v20.4M1335.66 708.3v20.4M1339.75 708.3v20.4M1343.85 708.3v20.4M1347.94 708.3v20.4M1352.04 708.3v20.4M1356.13 708.3v20.4M1360.23 708.3v20.4M1364.32 708.3v20.4M1368.42 708.3v20.4M1372.51 708.3v20.4M1376.61 708.3v20.4M1380.7 708.3v20.4M1384.8 708.3v20.4M1388.89 708.3v20.4M1392.99 708.3v20.4M1397.08 708.3v20.4M1401.17 708.3v20.4M1405.27 708.3v20.4M1409.36 708.3v20.4M1413.46 708.3v20.4M1417.55 708.3v20.4M1421.65 708.3v20.4M1425.74 708.3v20.4M1429.84 708.3v20.4M1433.93 708.3v20.4M1438.03 708.3v20.4M1442.12 708.3v20.4M1446.22 708.3v20.4M1450.31 708.3v20.4M1454.41 708.3v20.4M1458.5 708.3v20.4M1462.6 708.3v20.4M1466.69 708.3v20.4M1470.79 708.3v20.4M1474.88 708.3v20.4M1478.98 708.3v20.4M1483.07 708.3v20.4M1487.17 708.3v20.4M1491.26 708.3v20.4M1495.36 708.3v20.4M1499.45 708.3v20.4M1503.54 708.3v20.4M1507.64 708.3v20.4M1511.73 708.3v20.4M1515.83 708.3v20.4M1519.92 708.3v20.4M1524.02 708.3v20.4M1528.11 708.3v20.4M1532.21 708.3v20.4M1536.3 708.3v20.4M1540.4 708.3v20.4M1544.49 708.3v20.4M1548.59 708.3v20.4M1552.68 708.3v20.4M1556.78 708.3v20.4M1560.87 708.3v20.4M1564.97 708.3v20.4M1569.06 708.3v20.4M1573.16 708.3v20.4M1577.25 708.3v20.4M1581.35 708.3v20.4M1585.44 708.3v20.4M1589.54 708.3v20.4M1593.63 708.3v20.4M1597.72 708.3v20.4M1601.82 708.3v20.4M1605.91 708.3v20.4M1610.01 708.3v20.4M1614.1 708.3v20.4M1618.2 708.3v20.4M1622.29 708.3v20.4M1626.39 708.3v20.4M1630.48 708.3v20.4M1634.58 708.3v20.4M1638.67 708.3v20.4M1642.77 708.3v20.4M1646.86 708.3v20.4M1650.96 708.3v20.4M1655.05 708.3v20.4M1659.15 708.3v20.4M1663.24 708.3v20.4M1667.34 708.3v20.4M1671.43 708.3v20.4M1675.53 708.3v20.4M1679.62 708.3v20.4M1683.72 708.3v20.4M1687.81 708.3v20.4M1691.91 708.3v20.4M1696 708.3v20.4" stroke="rgba(0,0,0,0.4)" stroke-width="0.5" fill="none"/>
<rect x="201.4" y="708.3" width="1494.6" height="20.4" fill="none" stroke="#888" stroke-width="0.6"/>
<rect x="201.4" y="735.5" width="4.09" height="20.2" fill="#0000ff"/>
<rect x="205.49" y="735.5" width="4.09" height="20.2" fill="#a6d4e2"/>
<rect x="209.59" y="735.5" width="4.09" height="20.2" fill="#0000ff"/>
<rect x="213.68" y="735.5" width="4.09" height="20.2" fill="#a6d4e2"/>
<rect x="217.78" y="735.5" width="8.19" height="20.2" fill="#0000ff"/>
<rect x="225.97" y="735.5" width="4.09" height="20.2" fill="#a6d4e2"/>
<rect x="230.06" y="735.5" width="16.38" height="20.2" fill="#0000ff"/>
<rect x="246.44" y="735.5" width="4.09" height="20.2" fill="#a6d4e2"/>
<rect x="250.54" y="735.5" width="8.19" height="20.2" fill="#0000ff"/>
<rect x="258.73" y="735.5" width="4.09" height="20.2" fill="#a6d4e2"/>
<rect x="262.82" y="735.5" width="4.09" height="20.2" fill="#0000ff"/>
<rect x="266.92" y="735.5" width="4.09" height="20.2" fill="#a6d4e2"/>
<rect x="271.01" y="735.5" width="28.66" height="20.2" fill="#0000ff"/>
<rect x="299.68" y="735.5" width="4.09" height="20.2" fill="#a6d4e2"/>
<rect x="303.77" y="735.5" width="4.09" height="20.2" fill="#0000ff"/>
<rect x="307.86" y="735.5" width="4.09" height="20.2" fill="#a6d4e2"/>
<rect x="311.96" y="735.5" width="4.09" height="20.2" fill="#0000ff"/>
<rect x="316.05" y="735.5" width="8.19" height="20.2" fill="#a6d4e2"/>
<rect x="324.24" y="735.5" width="20.47" height="20.2" fill="#0000ff"/>
<rect x="344.72" y="735.5" width="8.19" height="20.2" fill="#a6d4e2"/>
<rect x="352.91" y="735.5" width="4.09" height="20.2" fill="#0000ff"/>
<rect x="357" y="735.5" width="8.19" height="20.2" fill="#a6d4e2"/>
<rect x="365.19" y="735.5" width="4.09" height="20.2" fill="#0000ff"/>
<rect x="369.29" y="735.5" width="12.28" height="20.2" fill="#a6d4e2"/>
<rect x="381.57" y="735.5" width="8.19" height="20.2" fill="#0000ff"/>
<rect x="389.76" y="735.5" width="8.19" height="20.2" fill="#a6d4e2"/>
<rect x="397.95" y="735.5" width="4.09" height="20.2" fill="#0000ff"/>
<rect x="402.04" y="735.5" width="4.09" height="20.2" fill="#a6d4e2"/>
<rect x="406.14" y="735.5" width="4.09" height="20.2" fill="#0000ff"/>
<rect x="410.23" y="735.5" width="4.09" height="20.2" fill="#a6d4e2"/>
<rect x="414.33" y="735.5" width="4.09" height="20.2" fill="#0000ff"/>
<rect x="418.42" y="735.5" width="4.09" height="20.2" fill="#a6d4e2"/>
<rect x="422.52" y="735.5" width="4.09" height="20.2" fill="#0000ff"/>
<rect x="426.61" y="735.5" width="8.19" height="20.2" fill="#a6d4e2"/>
<rect x="434.8" y="735.5" width="4.09" height="20.2" fill="#0000ff"/>
<rect x="438.9" y="735.5" width="8.19" height="20.2" fill="#a6d4e2"/>
<rect x="447.09" y="735.5" width="8.19" height="20.2" fill="#0000ff"/>
<rect x="455.28" y="735.5" width="4.09" height="20.2" fill="#a6d4e2"/>
<rect x="459.37" y="735.5" width="8.19" height="20.2" fill="#0000ff"/>
<rect x="467.56" y="735.5" width="4.09" height="20.2" fill="#a6d4e2"/>
<rect x="471.66" y="735.5" width="4.09" height="20.2" fill="#0000ff"/>
<rect x="475.75" y="735.5" width="4.09" height="20.2" fill="#a6d4e2"/>
<rect x="479.85" y="735.5" width="4.09" height="20.2" fill="#0000ff"/>
<rect x="483.94" y="735.5" width="4.09" height="20.2" fill="#a6d4e2"/>
<rect x="488.04" y="735.5" width="4.09" height="20.2" fill="#0000ff"/>
<rect x="492.13" y="735.5" width="4.09" height="20.2" fill="#a6d4e2"/>
<rect x="496.23" y="735.5" width="12.28" height="20.2" fill="#0000ff"/>
<rect x="508.51" y="735.5" width="4.09" height="20.2" fill="#a6d4e2"/>
<rect x="512.6" y="735.5" width="4.09" height="20.2" fill="#0000ff"/>
<rect x="516.7" y="735.5" width="4.09" height="20.2" fill="#a6d4e2"/>
<rect x="520.79" y="735.5" width="4.09" height="20.2" fill="#0000ff"/>
<rect x="524.89" y="735.5" width="8.19" height="20.2" fill="#a6d4e2"/>
<rect x="533.08" y="735.5" width="24.57" height="20.2" fill="#0000ff"/>
<rect x="557.65" y="735.5" width="4.09" height="20.2" fill="#a6d4e2"/>
<rect x="561.74" y="735.5" width="4.09" height="20.2" fill="#0000ff"/>
<rect x="565.84" y="735.5" width="4.09" height="20.2" fill="#a6d4e2"/>
<rect x="569.93" y="735.5" width="12.28" height="20.2" fill="#0000ff"/>
<rect x="582.22" y="735.5" width="8.19" height="20.2" fill="#a6d4e2"/>
<rect x="590.41" y="735.5" width="4.09" height="20.2" fill="#0000ff"/>
<rect x="594.5" y="735.5" width="8.19" height="20.2" fill="#a6d4e2"/>
<rect x="602.69" y="735.5" width="4.09" height="20.2" fill="#0000ff"/>
<rect x="606.78" y="735.5" width="4.09" height="20.2" fill="#a6d4e2"/>
<rect x="610.88" y="735.5" width="16.38" height="20.2" fill="#0000ff"/>
<rect x="627.26" y="735.5" width="16.38" height="20.2" fill="#a6d4e2"/>
<rect x="643.64" y="735.5" width="4.09" height="20.2" fill="#0000ff"/>
<rect x="647.73" y="735.5" width="28.66" height="20.2" fill="#a6d4e2"/>
<rect x="676.4" y="735.5" width="12.28" height="20.2" fill="#0000ff"/>
<rect x="688.68" y="735.5" width="4.09" height="20.2" fill="#a6d4e2"/>
<rect x="692.78" y="735.5" width="4.09" height="20.2" fill="#0000ff"/>
<rect x="696.87" y="735.5" width="12.28" height="20.2" fill="#a6d4e2"/>
<rect x="709.15" y="735.5" width="16.38" height="20.2" fill="#0000ff"/>
<rect x="725.53" y="735.5" width="12.28" height="20.2" fill="#a6d4e2"/>
<rect x="737.82" y="735.5" width="4.09" height="20.2" fill="#0000ff"/>
<rect x="741.91" y="735.5" width="16.38" height="20.2" fill="#a6d4e2"/>
<rect x="758.29" y="735.5" width="4.09" height="20.2" fill="#0000ff"/>
<rect x="762.39" y="735.5" width="20.47" height="20.2" fill="#a6d4e2"/>
<rect x="782.86" y="735.5" width="8.19" height="20.2" fill="#0000ff"/>
<rect x="791.05" y="735.5" width="8.19" height="20.2" fill="#a6d4e2"/>
<rect x="799.24" y="735.5" width="12.28" height="20.2" fill="#0000ff"/>
<rect x="811.52" y="735.5" width="8.19" height="20.2" fill="#a6d4e2"/>
<rect x="819.71" y="735.5" width="4.09" height="20.2" fill="#0000ff"/>
<rect x="823.81" y="735.5" width="8.19" height="20.2" fill="#a6d4e2"/>
<rect x="832" y="735.5" width="8.19" height="20.2" fill="#0000ff"/>
<rect x="840.19" y="735.5" width="16.38" height="20.2" fill="#a6d4e2"/>
<rect x="856.57" y="735.5" width="4.09" height="20.2" fill="#0000ff"/>
<rect x="860.66" y="735.5" width="4.09" height="20.2" fill="#a6d4e2"/>
<rect x="864.76" y="735.5" width="4.09" height="20.2" fill="#0000ff"/>
<rect x="868.85" y="735.5" width="12.28" height="20.2" fill="#a6d4e2"/>
<rect x="881.14" y="735.5" width="20.47" height="20.2" fill="#0000ff"/>
<rect x="901.61" y="735.5" width="8.19" height="20.2" fill="#a6d4e2"/>
<rect x="909.8" y="735.5" width="4.09" height="20.2" fill="#0000ff"/>
<rect x="913.89" y="735.5" width="4.09" height="20.2" fill="#a6d4e2"/>
<rect x="917.99" y="735.5" width="12.28" height="20.2" fill="#0000ff"/>
<rect x="930.27" y="735.5" width="4.09" height="20.2" fill="#a6d4e2"/>
<rect x="934.37" y="735.5" width="8.19" height="20.2" fill="#0000ff"/>
<rect x="942.56" y="735.5" width="8.19" height="20.2" fill="#a6d4e2"/>
<rect x="950.75" y="735.5" width="20.47" height="20.2" fill="#0000ff"/>
<rect x="971.22" y="735.5" width="4.09" height="20.2" fill="#a6d4e2"/>
<rect x="975.32" y="735.5" width="4.09" height="20.2" fill="#0000ff"/>
<rect x="979.41" y="735.5" width="4.09" height="20.2" fill="#a6d4e2"/>
<rect x="983.51" y="735.5" width="4.09" height="20.2" fill="#0000ff"/>
<rect x="987.6" y="735.5" width="12.28" height="20.2" fill="#a6d4e2"/>
<rect x="999.88" y="735.5" width="4.09" height="20.2" fill="#0000ff"/>
<rect x="1003.98" y="735.5" width="4.09" height="20.2" fill="#a6d4e2"/>
<rect x="1008.07" y="735.5" width="8.19" height="20.2" fill="#0000ff"/>
<rect x="1016.26" y="735.5" width="4.09" height="20.2" fill="#a6d4e2"/>
<rect x="1020.36" y="735.5" width="4.09" height="20.2" fill="#0000ff"/>
<rect x="1024.45" y="735.5" width="4.09" height="20.2" fill="#a6d4e2"/>
<rect x="1028.55" y="735.5" width="12.28" height="20.2" fill="#0000ff"/>
<rect x="1040.83" y="735.5" width="8.19" height="20.2" fill="#a6d4e2"/>
<rect x="1049.02" y="735.5" width="16.38" height="20.2" fill="#0000ff"/>
<rect x="1065.4" y="735.5" width="45.04" height="20.2" fill="#a6d4e2"/>
<rect x="1110.44" y="735.5" width="8.19" height="20.2" fill="#0000ff"/>
<rect x="1118.63" y="735.5" width="4.09" height="20.2" fill="#a6d4e2"/>
<rect x="1122.73" y="735.5" width="4.09" height="20.2" fill="#0000ff"/>
<rect x="1126.82" y="735.5" width="8.19" height="20.2" fill="#a6d4e2"/>
<rect x="1135.01" y="735.5" width="12.28" height="20.2" fill="#0000ff"/>
<rect x="1147.3" y="735.5" width="4.09" height="20.2" fill="#a6d4e2"/>
<rect x="1151.39" y="735.5" width="4.09" height="20.2" fill="#0000ff"/>
<rect x="1155.49" y="735.5" width="8.19" height="20.2" fill="#a6d4e2"/>
<rect x="1163.68" y="735.5" width="4.09" height="20.2" fill="#0000ff"/>
<rect x="1167.77" y="735.5" width="8.19" height="20.2" fill="#a6d4e2"/>
<rect x="1175.96" y="735.5" width="4.09" height="20.2" fill="#0000ff"/>
<rect x="1180.06" y="735.5" width="12.28" height="20.2" fill="#a6d4e2"/>
<rect x="1192.34" y="735.5" width="4.09" height="20.2" fill="#0000ff"/>
<rect x="1196.44" y="735.5" width="24.57" height="20.2" fill="#a6d4e2"/>
<rect x="1221" y="735.5" width="4.09" height="20.2" fill="#0000ff"/>
<rect x="1225.1" y="735.5" width="4.09" height="20.2" fill="#a6d4e2"/>
<rect x="1229.19" y="735.5" width="4.09" height="20.2" fill="#0000ff"/>
<rect x="1233.29" y="735.5" width="8.19" height="20.2" fill="#a6d4e2"/>
<rect x="1241.48" y="735.5" width="4.09" height="20.2" fill="#0000ff"/>
<rect x="1245.57" y="735.5" width="20.47" height="20.2" fill="#a6d4e2"/>
<rect x="1266.05" y="735.5" width="4.09" height="20.2" fill="#0000ff"/>
<rect x="1270.14" y="735.5" width="4.09" height="20.2" fill="#a6d4e2"/>
<rect x="1274.24" y="735.5" width="4.09" height="20.2" fill="#0000ff"/>
<rect x="1278.33" y="735.5" width="4.09" height="20.2" fill="#a6d4e2"/>
<rect x="1282.43" y="735.5" width="8.19" height="20.2" fill="#0000ff"/>
<rect x="1290.62" y="735.5" width="4.09" height="20.2" fill="#a6d4e2"/>
<rect x="1294.71" y="735.5" width="4.09" height="20.2" fill="#0000ff"/>
<rect x="1298.8" y="735.5" width="4.09" height="20.2" fill="#a6d4e2"/>
<rect x="1302.9" y="735.5" width="12.28" height="20.2" fill="#0000ff"/>
<rect x="1315.18" y="735.5" width="8.19" height="20.2" fill="#a6d4e2"/>
<rect x="1323.37" y="735.5" width="24.57" height="20.2" fill="#0000ff"/>
<rect x="1347.94" y="735.5" width="16.38" height="20.2" fill="#a6d4e2"/>
<rect x="1364.32" y="735.5" width="8.19" height="20.2" fill="#0000ff"/>
<rect x="1372.51" y="735.5" width="28.66" height="20.2" fill="#a6d4e2"/>
<rect x="1401.17" y="735.5" width="4.09" height="20.2" fill="#0000ff"/>
<rect x="1405.27" y="735.5" width="4.09" height="20.2" fill="#a6d4e2"/>
<rect x="1409.36" y="735.5" width="4.09" height="20.2" fill="#0000ff"/>
<rect x="1413.46" y="735.5" width="8.19" height="20.2" fill="#a6d4e2"/>
<rect x="1421.65" y="735.5" width="4.09" height="20.2" fill="#0000ff"/>
<rect x="1425.74" y="735.5" width="8.19" height="20.2" fill="#a6d4e2"/>
<rect x="1433.93" y="735.5" width="4.09" height="20.2" fill="#0000ff"/>
<rect x="1438.03" y="735.5" width="4.09" height="20.2" fill="#a6d4e2"/>
<rect x="1442.12" y="735.5" width="4.09" height="20.2" fill="#0000ff"/>
<rect x="1446.22" y="735.5" width="12.28" height="20.2" fill="#a6d4e2"/>
<rect x="1458.5" y="735.5" width="8.19" height="20.2" fill="#0000ff"/>
<rect x="1466.69" y="735.5" width="20.47" height="20.2" fill="#a6d4e2"/>
<rect x="1487.17" y="735.5" width="4.09" height="20.2" fill="#0000ff"/>
<rect x="1491.26" y="735.5" width="4.09" height="20.2" fill="#a6d4e2"/>
<rect x="1495.36" y="735.5" width="16.38" height="20.2" fill="#0000ff"/>
<rect x="1511.73" y="735.5" width="4.09" height="20.2" fill="#a6d4e2"/>
<rect x="1515.83" y="735.5" width="8.19" height="20.2" fill="#0000ff"/>
<rect x="1524.02" y="735.5" width="4.09" height="20.2" fill="#a6d4e2"/>
<rect x="1528.11" y="735.5" width="4.09" height="20.2" fill="#0000ff"/>
<rect x="1532.21" y="735.5" width="12.28" height="20.2" fill="#a6d4e2"/>
<rect x="1544.49" y="735.5" width="4.09" height="20.2" fill="#0000ff"/>
<rect x="1548.59" y="735.5" width="20.47" height="20.2" fill="#a6d4e2"/>
<rect x="1569.06" y="735.5" width="4.09" height="20.2" fill="#0000ff"/>
<rect x="1573.16" y="735.5" width="4.09" height="20.2" fill="#a6d4e2"/>
<rect x="1577.25" y="735.5" width="12.28" height="20.2" fill="#0000ff"/>
<rect x="1589.54" y="735.5" width="4.09" height="20.2" fill="#a6d4e2"/>
<rect x="1593.63" y="735.5" width="8.19" height="20.2" fill="#0000ff"/>
<rect x="1601.82" y="735.5" width="16.38" height="20.2" fill="#a6d4e2"/>
<rect x="1618.2" y="735.5" width="12.28" height="20.2" fill="#0000ff"/>
<rect x="1630.48" y="735.5" width="12.28" height="20.2" fill="#a6d4e2"/>
<rect x="1642.77" y="735.5" width="4.09" height="20.2" fill="#0000ff"/>
<rect x="1646.86" y="735.5" width="8.19" height="20.2" fill="#a6d4e2"/>
<rect x="1655.05" y="735.5" width="8.19" height="20.2" fill="#0000ff"/>
<rect x="1663.24" y="735.5" width="8.19" height="20.2" fill="#a6d4e2"/>
<rect x="1671.43" y="735.5" width="4.09" height="20.2" fill="#0000ff"/>
<rect x="1675.53" y="735.5" width="8.19" height="20.2" fill="#a6d4e2"/>
<rect x="1683.72" y="735.5" width="12.28" height="20.2" fill="#0000ff"/>
<path d="M201.4 735.5v20.2M205.49 735.5v20.2M209.59 735.5v20.2M213.68 735.5v20.2M217.78 735.5v20.2M221.87 735.5v20.2M225.97 735.5v20.2M230.06 735.5v20.2M234.16 735.5v20.2M238.25 735.5v20.2M242.35 735.5v20.2M246.44 735.5v20.2M250.54 735.5v20.2M254.63 735.5v20.2M258.73 735.5v20.2M262.82 735.5v20.2M266.92 735.5v20.2M271.01 735.5v20.2M275.11 735.5v20.2M279.2 735.5v20.2M283.3 735.5v20.2M287.39 735.5v20.2M291.49 735.5v20.2M295.58 735.5v20.2M299.68 735.5v20.2M303.77 735.5v20.2M307.86 735.5v20.2M311.96 735.5v20.2M316.05 735.5v20.2M320.15 735.5v20.2M324.24 735.5v20.2M328.34 735.5v20.2M332.43 735.5v20.2M336.53 735.5v20.2M340.62 735.5v20.2M344.72 735.5v20.2M348.81 735.5v20.2M352.91 735.5v20.2M357 735.5v20.2M361.1 735.5v20.2M365.19 735.5v20.2M369.29 735.5v20.2M373.38 735.5v20.2M377.48 735.5v20.2M381.57 735.5v20.2M385.67 735.5v20.2M389.76 735.5v20.2M393.86 735.5v20.2M397.95 735.5v20.2M402.04 735.5v20.2M406.14 735.5v20.2M410.23 735.5v20.2M414.33 735.5v20.2M418.42 735.5v20.2M422.52 735.5v20.2M426.61 735.5v20.2M430.71 735.5v20.2M434.8 735.5v20.2M438.9 735.5v20.2M442.99 735.5v20.2M447.09 735.5v20.2M451.18 735.5v20.2M455.28 735.5v20.2M459.37 735.5v20.2M463.47 735.5v20.2M467.56 735.5v20.2M471.66 735.5v20.2M475.75 735.5v20.2M479.85 735.5v20.2M483.94 735.5v20.2M488.04 735.5v20.2M492.13 735.5v20.2M496.23 735.5v20.2M500.32 735.5v20.2M504.41 735.5v20.2M508.51 735.5v20.2M512.6 735.5v20.2M516.7 735.5v20.2M520.79 735.5v20.2M524.89 735.5v20.2M528.98 735.5v20.2M533.08 735.5v20.2M537.17 735.5v20.2M541.27 735.5v20.2M545.36 735.5v20.2M549.46 735.5v20.2M553.55 735.5v20.2M557.65 735.5v20.2M561.74 735.5v20.2M565.84 735.5v20.2M569.93 735.5v20.2M574.03 735.5v20.2M578.12 735.5v20.2M582.22 735.5v20.2M586.31 735.5v20.2M590.41 735.5v20.2M594.5 735.5v20.2M598.6 735.5v20.2M602.69 735.5v20.2M606.78 735.5v20.2M610.88 735.5v20.2M614.97 735.5v20.2M619.07 735.5v20.2M623.16 735.5v20.2M627.26 735.5v20.2M631.35 735.5v20.2M635.45 735.5v20.2M639.54 735.5v20.2M643.64 735.5v20.2M647.73 735.5v20.2M651.83 735.5v20.2M655.92 735.5v20.2M660.02 735.5v20.2M664.11 735.5v20.2M668.21 735.5v20.2M672.3 735.5v20.2M676.4 735.5v20.2M680.49 735.5v20.2M684.59 735.5v20.2M688.68 735.5v20.2M692.78 735.5v20.2M696.87 735.5v20.2M700.96 735.5v20.2M705.06 735.5v20.2M709.15 735.5v20.2M713.25 735.5v20.2M717.34 735.5v20.2M721.44 735.5v20.2M725.53 735.5v20.2M729.63 735.5v20.2M733.72 735.5v20.2M737.82 735.5v20.2M741.91 735.5v20.2M746.01 735.5v20.2M750.1 735.5v20.2M754.2 735.5v20.2M758.29 735.5v20.2M762.39 735.5v20.2M766.48 735.5v20.2M770.58 735.5v20.2M774.67 735.5v20.2M778.77 735.5v20.2M782.86 735.5v20.2M786.96 735.5v20.2M791.05 735.5v20.2M795.15 735.5v20.2M799.24 735.5v20.2M803.33 735.5v20.2M807.43 735.5v20.2M811.52 735.5v20.2M815.62 735.5v20.2M819.71 735.5v20.2M823.81 735.5v20.2M827.9 735.5v20.2M832 735.5v20.2M836.09 735.5v20.2M840.19 735.5v20.2M844.28 735.5v20.2M848.38 735.5v20.2M852.47 735.5v20.2M856.57 735.5v20.2M860.66 735.5v20.2M864.76 735.5v20.2M868.85 735.5v20.2M872.95 735.5v20.2M877.04 735.5v20.2M881.14 735.5v20.2M885.23 735.5v20.2M889.33 735.5v20.2M893.42 735.5v20.2M897.52 735.5v20.2M901.61 735.5v20.2M905.7 735.5v20.2M909.8 735.5v20.2M913.89 735.5v20.2M917.99 735.5v20.2M922.08 735.5v20.2M926.18 735.5v20.2M930.27 735.5v20.2M934.37 735.5v20.2M938.46 735.5v20.2M942.56 735.5v20.2M946.65 735.5v20.2M950.75 735.5v20.2M954.84 735.5v20.2M958.94 735.5v20.2M963.03 735.5v20.2M967.13 735.5v20.2M971.22 735.5v20.2M975.32 735.5v20.2M979.41 735.5v20.2M983.51 735.5v20.2M987.6 735.5v20.2M991.7 735.5v20.2M995.79 735.5v20.2M999.88 735.5v20.2M1003.98 735.5v20.2M1008.07 735.5v20.2M1012.17 735.5v20.2M1016.26 735.5v20.2M1020.36 735.5v20.2M1024.45 735.5v20.2M1028.55 735.5v20.2M1032.64 735.5v20.2M1036.74 735.5v20.2M1040.83 735.5v20.2M1044.93 735.5v20.2M1049.02 735.5v20.2M1053.12 735.5v20.2M1057.21 735.5v20.2M1061.31 735.5v20.2M1065.4 735.5v20.2M1069.5 735.5v20.2M1073.59 735.5v20.2M1077.69 735.5v20.2M1081.78 735.5v20.2M1085.88 735.5v20.2M1089.97 735.5v20.2M1094.07 735.5v20.2M1098.16 735.5v20.2M1102.25 735.5v20.2M1106.35 735.5v20.2M1110.44 735.5v20.2M1114.54 735.5v20.2M1118.63 735.5v20.2M1122.73 735.5v20.2M1126.82 735.5v20.2M1130.92 735.5v20.2M1135.01 735.5v20.2M1139.11 735.5v20.2M1143.2 735.5v20.2M1147.3 735.5v20.2M1151.39 735.5v20.2M1155.49 735.5v20.2M1159.58 735.5v20.2M1163.68 735.5v20.2M1167.77 735.5v20.2M1171.87 735.5v20.2M1175.96 735.5v20.2M1180.06 735.5v20.2M1184.15 735.5v20.2M1188.25 735.5v20.2M1192.34 735.5v20.2M1196.44 735.5v20.2M1200.53 735.5v20.2M1204.62 735.5v20.2M1208.72 735.5v20.2M1212.81 735.5v20.2M1216.91 735.5v20.2M1221 735.5v20.2M1225.1 735.5v20.2M1229.19 735.5v20.2M1233.29 735.5v20.2M1237.38 735.5v20.2M1241.48 735.5v20.2M1245.57 735.5v20.2M1249.67 735.5v20.2M1253.76 735.5v20.2M1257.86 735.5v20.2M1261.95 735.5v20.2M1266.05 735.5v20.2M1270.14 735.5v20.2M1274.24 735.5v20.2M1278.33 735.5v20.2M1282.43 735.5v20.2M1286.52 735.5v20.2M1290.62 735.5v20.2M1294.71 735.5v20.2M1298.8 735.5v20.2M1302.9 735.5v20.2M1306.99 735.5v20.2M1311.09 735.5v20.2M1315.18 735.5v20.2M1319.28 735.5v20.2M1323.37 735.5v20.2M1327.47 735.5v20.2M1331.56 735.5v20.2M1335.66 735.5v20.2M1339.75 735.5v20.2M1343.85 735.5v20.2M1347.94 735.5v20.2M1352.04 735.5v20.2M1356.13 735.5v20.2M1360.23 735.5v20.2M1364.32 735.5v20.2M1368.42 735.5v20.2M1372.51 735.5v20.2M1376.61 735.5v20.2M1380.7 735.5v20.2M1384.8 735.5v20.2M1388.89 735.5v20.2M1392.99 735.5v20.2M1397.08 735.5v20.2M1401.17 735.5v20.2M1405.27 735.5v20.2M1409.36 735.5v20.2M1413.46 735.5v20.2M1417.55 735.5v20.2M1421.65 735.5v20.2M1425.74 735.5v20.2M1429.84 735.5v20.2M1433.93 735.5v20.2M1438.03 735.5v20.2M1442.12 735.5v20.2M1446.22 735.5v20.2M1450.31 735.5v20.2M1454.41 735.5v20.2M1458.5 735.5v20.2M1462.6 735.5v20.2M1466.69 735.5v20.2M1470.79 735.5v20.2M1474.88 735.5v20.2M1478.98 735.5v20.2M1483.07 735.5v20.2M1487.17 735.5v20.2M1491.26 735.5v20.2M1495.36 735.5v20.2M1499.45 735.5v20.2M1503.54 735.5v20.2M1507.64 735.5v20.2M1511.73 735.5v20.2M1515.83 735.5v20.2M1519.92 735.5v20.2M1524.02 735.5v20.2M1528.11 735.5v20.2M1532.21 735.5v20.2M1536.3 735.5v20.2M1540.4 735.5v20.2M1544.49 735.5v20.2M1548.59 735.5v20.2M1552.68 735.5v20.2M1556.78 735.5v20.2M1560.87 735.5v20.2M1564.97 735.5v20.2M1569.06 735.5v20.2M1573.16 735.5v20.2M1577.25 735.5v20.2M1581.35 735.5v20.2M1585.44 735.5v20.2M1589.54 735.5v20.2M1593.63 735.5v20.2M1597.72 735.5v20.2M1601.82 735.5v20.2M1605.91 735.5v20.2M1610.01 735.5v20.2M1614.1 735.5v20.2M1618.2 735.5v20.2M1622.29 735.5v20.2M1626.39 735.5v20.2M1630.48 735.5v20.2M1634.58 735.5v20.2M1638.67 735.5v20.2M1642.77 735.5v20.2M1646.86 735.5v20.2M1650.96 735.5v20.2M1655.05 735.5v20.2M1659.15 735.5v20.2M1663.24 735.5v20.2M1667.34 735.5v20.2M1671.43 735.5v20.2M1675.53 735.5v20.2M1679.62 735.5v20.2M1683.72 735.5v20.2M1687.81 735.5v20.2M1691.91 735.5v20.2M1696 735.5v20.2" stroke="rgba(0,0,0,0.4)" stroke-width="0.5" fill="none"/>
<rect x="201.4" y="735.5" width="1494.6" height="20.2" fill="none" stroke="#888" stroke-width="0.6"/>
<rect x="201.4" y="762.6" width="4.09" height="20.5" fill="#22ff18"/>
<rect x="205.49" y="762.6" width="20.47" height="20.5" fill="#085008"/>
<rect x="225.97" y="762.6" width="4.09" height="20.5" fill="#22ff18"/>
<rect x="230.06" y="762.6" width="8.19" height="20.5" fill="#085008"/>
<rect x="238.25" y="762.6" width="12.28" height="20.5" fill="#22ff18"/>
<rect x="250.54" y="762.6" width="4.09" height="20.5" fill="#085008"/>
<rect x="254.63" y="762.6" width="8.19" height="20.5" fill="#22ff18"/>
<rect x="262.82" y="762.6" width="8.19" height="20.5" fill="#085008"/>
<rect x="271.01" y="762.6" width="4.09" height="20.5" fill="#22ff18"/>
<rect x="275.11" y="762.6" width="12.28" height="20.5" fill="#085008"/>
<rect x="287.39" y="762.6" width="4.09" height="20.5" fill="#22ff18"/>
<rect x="291.49" y="762.6" width="4.09" height="20.5" fill="#085008"/>
<rect x="295.58" y="762.6" width="12.28" height="20.5" fill="#22ff18"/>
<rect x="307.86" y="762.6" width="4.09" height="20.5" fill="#085008"/>
<rect x="311.96" y="762.6" width="4.09" height="20.5" fill="#22ff18"/>
<rect x="316.05" y="762.6" width="8.19" height="20.5" fill="#085008"/>
<rect x="324.24" y="762.6" width="4.09" height="20.5" fill="#22ff18"/>
<rect x="328.34" y="762.6" width="8.19" height="20.5" fill="#085008"/>
<rect x="336.53" y="762.6" width="4.09" height="20.5" fill="#22ff18"/>
<rect x="340.62" y="762.6" width="24.57" height="20.5" fill="#085008"/>
<rect x="365.19" y="762.6" width="4.09" height="20.5" fill="#22ff18"/>
<rect x="369.29" y="762.6" width="4.09" height="20.5" fill="#085008"/>
<rect x="373.38" y="762.6" width="4.09" height="20.5" fill="#22ff18"/>
<rect x="377.48" y="762.6" width="12.28" height="20.5" fill="#085008"/>
<rect x="389.76" y="762.6" width="8.19" height="20.5" fill="#22ff18"/>
<rect x="397.95" y="762.6" width="16.38" height="20.5" fill="#085008"/>
<rect x="414.33" y="762.6" width="4.09" height="20.5" fill="#22ff18"/>
<rect x="418.42" y="762.6" width="24.57" height="20.5" fill="#085008"/>
<rect x="442.99" y="762.6" width="4.09" height="20.5" fill="#22ff18"/>
<rect x="447.09" y="762.6" width="4.09" height="20.5" fill="#085008"/>
<rect x="451.18" y="762.6" width="8.19" height="20.5" fill="#22ff18"/>
<rect x="459.37" y="762.6" width="8.19" height="20.5" fill="#085008"/>
<rect x="467.56" y="762.6" width="4.09" height="20.5" fill="#22ff18"/>
<rect x="471.66" y="762.6" width="16.38" height="20.5" fill="#085008"/>
<rect x="488.04" y="762.6" width="16.38" height="20.5" fill="#22ff18"/>
<rect x="504.41" y="762.6" width="12.28" height="20.5" fill="#085008"/>
<rect x="516.7" y="762.6" width="8.19" height="20.5" fill="#22ff18"/>
<rect x="524.89" y="762.6" width="12.28" height="20.5" fill="#085008"/>
<rect x="537.17" y="762.6" width="4.09" height="20.5" fill="#22ff18"/>
<rect x="541.27" y="762.6" width="8.19" height="20.5" fill="#085008"/>
<rect x="549.46" y="762.6" width="8.19" height="20.5" fill="#22ff18"/>
<rect x="557.65" y="762.6" width="24.57" height="20.5" fill="#085008"/>
<rect x="582.22" y="762.6" width="12.28" height="20.5" fill="#22ff18"/>
<rect x="594.5" y="762.6" width="24.57" height="20.5" fill="#085008"/>
<rect x="619.07" y="762.6" width="4.09" height="20.5" fill="#22ff18"/>
<rect x="623.16" y="762.6" width="4.09" height="20.5" fill="#085008"/>
<rect x="627.26" y="762.6" width="4.09" height="20.5" fill="#22ff18"/>
<rect x="631.35" y="762.6" width="8.19" height="20.5" fill="#085008"/>
<rect x="639.54" y="762.6" width="4.09" height="20.5" fill="#22ff18"/>
<rect x="643.64" y="762.6" width="8.19" height="20.5" fill="#085008"/>
<rect x="651.83" y="762.6" width="8.19" height="20.5" fill="#22ff18"/>
<rect x="660.02" y="762.6" width="8.19" height="20.5" fill="#085008"/>
<rect x="668.21" y="762.6" width="4.09" height="20.5" fill="#22ff18"/>
<rect x="672.3" y="762.6" width="8.19" height="20.5" fill="#085008"/>
<rect x="680.49" y="762.6" width="4.09" height="20.5" fill="#22ff18"/>
<rect x="684.59" y="762.6" width="4.09" height="20.5" fill="#085008"/>
<rect x="688.68" y="762.6" width="4.09" height="20.5" fill="#22ff18"/>
<rect x="692.78" y="762.6" width="4.09" height="20.5" fill="#085008"/>
<rect x="696.87" y="762.6" width="4.09" height="20.5" fill="#22ff18"/>
<rect x="700.96" y="762.6" width="12.28" height="20.5" fill="#085008"/>
<rect x="713.25" y="762.6" width="4.09" height="20.5" fill="#22ff18"/>
<rect x="717.34" y="762.6" width="4.09" height="20.5" fill="#085008"/>
<rect x="721.44" y="762.6" width="4.09" height="20.5" fill="#22ff18"/>
<rect x="725.53" y="762.6" width="16.38" height="20.5" fill="#085008"/>
<rect x="741.91" y="762.6" width="8.19" height="20.5" fill="#22ff18"/>
<rect x="750.1" y="762.6" width="4.09" height="20.5" fill="#085008"/>
<rect x="754.2" y="762.6" width="8.19" height="20.5" fill="#22ff18"/>
<rect x="762.39" y="762.6" width="8.19" height="20.5" fill="#085008"/>
<rect x="770.58" y="762.6" width="4.09" height="20.5" fill="#22ff18"/>
<rect x="774.67" y="762.6" width="16.38" height="20.5" fill="#085008"/>
<rect x="791.05" y="762.6" width="4.09" height="20.5" fill="#22ff18"/>
<rect x="795.15" y="762.6" width="8.19" height="20.5" fill="#085008"/>
<rect x="803.33" y="762.6" width="12.28" height="20.5" fill="#22ff18"/>
<rect x="815.62" y="762.6" width="4.09" height="20.5" fill="#085008"/>
<rect x="819.71" y="762.6" width="4.09" height="20.5" fill="#22ff18"/>
<rect x="823.81" y="762.6" width="4.09" height="20.5" fill="#085008"/>
<rect x="827.9" y="762.6" width="8.19" height="20.5" fill="#22ff18"/>
<rect x="836.09" y="762.6" width="16.38" height="20.5" fill="#085008"/>
<rect x="852.47" y="762.6" width="4.09" height="20.5" fill="#22ff18"/>
<rect x="856.57" y="762.6" width="12.28" height="20.5" fill="#085008"/>
<rect x="868.85" y="762.6" width="4.09" height="20.5" fill="#22ff18"/>
<rect x="872.95" y="762.6" width="4.09" height="20.5" fill="#085008"/>
<rect x="877.04" y="762.6" width="4.09" height="20.5" fill="#22ff18"/>
<rect x="881.14" y="762.6" width="8.19" height="20.5" fill="#085008"/>
<rect x="889.33" y="762.6" width="4.09" height="20.5" fill="#22ff18"/>
<rect x="893.42" y="762.6" width="4.09" height="20.5" fill="#085008"/>
<rect x="897.52" y="762.6" width="8.19" height="20.5" fill="#22ff18"/>
<rect x="905.7" y="762.6" width="8.19" height="20.5" fill="#085008"/>
<rect x="913.89" y="762.6" width="8.19" height="20.5" fill="#22ff18"/>
<rect x="922.08" y="762.6" width="8.19" height="20.5" fill="#085008"/>
<rect x="930.27" y="762.6" width="28.66" height="20.5" fill="#22ff18"/>
<rect x="958.94" y="762.6" width="8.19" height="20.5" fill="#085008"/>
<rect x="967.13" y="762.6" width="16.38" height="20.5" fill="#22ff18"/>
<rect x="983.51" y="762.6" width="4.09" height="20.5" fill="#085008"/>
<rect x="987.6" y="762.6" width="4.09" height="20.5" fill="#22ff18"/>
<rect x="991.7" y="762.6" width="4.09" height="20.5" fill="#085008"/>
<rect x="995.79" y="762.6" width="4.09" height="20.5" fill="#22ff18"/>
<rect x="999.88" y="762.6" width="12.28" height="20.5" fill="#085008"/>
<rect x="1012.17" y="762.6" width="16.38" height="20.5" fill="#22ff18"/>
<rect x="1028.55" y="762.6" width="12.28" height="20.5" fill="#085008"/>
<rect x="1040.83" y="762.6" width="24.57" height="20.5" fill="#22ff18"/>
<rect x="1065.4" y="762.6" width="4.09" height="20.5" fill="#085008"/>
<rect x="1069.5" y="762.6" width="4.09" height="20.5" fill="#22ff18"/>
<rect x="1073.59" y="762.6" width="8.19" height="20.5" fill="#085008"/>
<rect x="1081.78" y="762.6" width="4.09" height="20.5" fill="#22ff18"/>
<rect x="1085.88" y="762.6" width="16.38" height="20.5" fill="#085008"/>
<rect x="1102.25" y="762.6" width="12.28" height="20.5" fill="#22ff18"/>
<rect x="1114.54" y="762.6" width="4.09" height="20.5" fill="#085008"/>
<rect x="1118.63" y="762.6" width="8.19" height="20.5" fill="#22ff18"/>
<rect x="1126.82" y="762.6" width="8.19" height="20.5" fill="#085008"/>
<rect x="1135.01" y="762.6" width="12.28" height="20.5" fill="#22ff18"/>
<rect x="1147.3" y="762.6" width="4.09" height="20.5" fill="#085008"/>
<rect x="1151.39" y="762.6" width="4.09" height="20.5" fill="#22ff18"/>
<rect x="1155.49" y="762.6" width="4.09" height="20.5" fill="#085008"/>
<rect x="1159.58" y="762.6" width="16.38" height="20.5" fill="#22ff18"/>
<rect x="1175.96" y="762.6" width="16.38" height="20.5" fill="#085008"/>
<rect x="1192.34" y="762.6" width="4.09" height="20.5" fill="#22ff18"/>
<rect x="1196.44" y="762.6" width="4.09" height="20.5" fill="#085008"/>
<rect x="1200.53" y="762.6" width="4.09" height="20.5" fill="#22ff18"/>
<rect x="1204.62" y="762.6" width="4.09" height="20.5" fill="#085008"/>
<rect x="1208.72" y="762.6" width="12.28" height="20.5" fill="#22ff18"/>
<rect x="1221" y="762.6" width="12.28" height="20.5" fill="#085008"/>
<rect x="1233.29" y="762.6" width="8.19" height="20.5" fill="#22ff18"/>
<rect x="1241.48" y="762.6" width="4.09" height="20.5" fill="#085008"/>
<rect x="1245.57" y="762.6" width="4.09" height="20.5" fill="#22ff18"/>
<rect x="1249.67" y="762.6" width="4.09" height="20.5" fill="#085008"/>
<rect x="1253.76" y="762.6" width="16.38" height="20.5" fill="#22ff18"/>
<rect x="1270.14" y="762.6" width="4.09" height="20.5" fill="#085008"/>
<rect x="1274.24" y="762.6" width="4.09" height="20.5" fill="#22ff18"/>
<rect x="1278.33" y="762.6" width="4.09" height="20.5" fill="#085008"/>
<rect x="1282.43" y="762.6" width="20.47" height="20.5" fill="#22ff18"/>
<rect x="1302.9" y="762.6" width="4.09" height="20.5" fill="#085008"/>
<rect x="1306.99" y="762.6" width="4.09" height="20.5" fill="#22ff18"/>
<rect x="1311.09" y="762.6" width="8.19" height="20.5" fill="#085008"/>
<rect x="1319.28" y="762.6" width="4.09" height="20.5" fill="#22ff18"/>
<rect x="1323.37" y="762.6" width="4.09" height="20.5" fill="#085008"/>
<rect x="1327.47" y="762.6" width="8.19" height="20.5" fill="#22ff18"/>
<rect x="1335.66" y="762.6" width="8.19" height="20.5" fill="#085008"/>
<rect x="1343.85" y="762.6" width="4.09" height="20.5" fill="#22ff18"/>
<rect x="1347.94" y="762.6" width="8.19" height="20.5" fill="#085008"/>
<rect x="1356.13" y="762.6" width="16.38" height="20.5" fill="#22ff18"/>
<rect x="1372.51" y="762.6" width="4.09" height="20.5" fill="#085008"/>
<rect x="1376.61" y="762.6" width="4.09" height="20.5" fill="#22ff18"/>
<rect x="1380.7" y="762.6" width="4.09" height="20.5" fill="#085008"/>
<rect x="1384.8" y="762.6" width="4.09" height="20.5" fill="#22ff18"/>
<rect x="1388.89" y="762.6" width="4.09" height="20.5" fill="#085008"/>
<rect x="1392.99" y="762.6" width="4.09" height="20.5" fill="#22ff18"/>
<rect x="1397.08" y="762.6" width="8.19" height="20.5" fill="#085008"/>
<rect x="1405.27" y="762.6" width="4.09" height="20.5" fill="#22ff18"/>
<rect x="1409.36" y="762.6" width="4.09" height="20.5" fill="#085008"/>
<rect x="1413.46" y="762.6" width="16.38" height="20.5" fill="#22ff18"/>
<rect x="1429.84" y="762.6" width="8.19" height="20.5" fill="#085008"/>
<rect x="1438.03" y="762.6" width="16.38" height="20.5" fill="#22ff18"/>
<rect x="1454.41" y="762.6" width="12.28" height="20.5" fill="#085008"/>
<rect x="1466.69" y="762.6" width="4.09" height="20.5" fill="#22ff18"/>
<rect x="1470.79" y="762.6" width="16.38" height="20.5" fill="#085008"/>
<rect x="1487.17" y="762.6" width="28.66" height="20.5" fill="#22ff18"/>
<rect x="1515.83" y="762.6" width="4.09" height="20.5" fill="#085008"/>
<rect x="1519.92" y="762.6" width="16.38" height="20.5" fill="#22ff18"/>
<rect x="1536.3" y="762.6" width="4.09" height="20.5" fill="#085008"/>
<rect x="1540.4" y="762.6" width="8.19" height="20.5" fill="#22ff18"/>
<rect x="1548.59" y="762.6" width="4.09" height="20.5" fill="#085008"/>
<rect x="1552.68" y="762.6" width="16.38" height="20.5" fill="#22ff18"/>
<rect x="1569.06" y="762.6" width="4.09" height="20.5" fill="#085008"/>
<rect x="1573.16" y="762.6" width="4.09" height="20.5" fill="#22ff18"/>
<rect x="1577.25" y="762.6" width="4.09" height="20.5" fill="#085008"/>
<rect x="1581.35" y="762.6" width="12.28" height="20.5" fill="#22ff18"/>
<rect x="1593.63" y="762.6" width="4.09" height="20.5" fill="#085008"/>
<rect x="1597.72" y="762.6" width="16.38" height="20.5" fill="#22ff18"/>
<rect x="1614.1" y="762.6" width="16.38" height="20.5" fill="#085008"/>
<rect x="1630.48" y="762.6" width="8.19" height="20.5" fill="#22ff18"/>
<rect x="1638.67" y="762.6" width="4.09" height="20.5" fill="#085008"/>
<rect x="1642.77" y="762.6" width="4.09" height="20.5" fill="#22ff18"/>
<rect x="1646.86" y="762.6" width="4.09" height="20.5" fill="#085008"/>
<rect x="1650.96" y="762.6" width="20.47" height="20.5" fill="#22ff18"/>
<rect x="1671.43" y="762.6" width="4.09" height="20.5" fill="#085008"/>
<rect x="1675.53" y="762.6" width="4.09" height="20.5" fill="#22ff18"/>
<rect x="1679.62" y="762.6" width="16.38" height="20.5" fill="#085008"/>
<path d="M201.4 762.6v20.5M205.49 762.6v20.5M209.59 762.6v20.5M213.68 762.6v20.5M217.78 762.6v20.5M221.87 762.6v20.5M225.97 762.6v20.5M230.06 762.6v20.5M234.16 762.6v20.5M238.25 762.6v20.5M242.35 762.6v20.5M246.44 762.6v20.5M250.54 762.6v20.5M254.63 762.6v20.5M258.73 762.6v20.5M262.82 762.6v20.5M266.92 762.6v20.5M271.01 762.6v20.5M275.11 762.6v20.5M279.2 762.6v20.5M283.3 762.6v20.5M287.39 762.6v20.5M291.49 762.6v20.5M295.58 762.6v20.5M299.68 762.6v20.5M303.77 762.6v20.5M307.86 762.6v20.5M311.96 762.6v20.5M316.05 762.6v20.5M320.15 762.6v20.5M324.24 762.6v20.5M328.34 762.6v20.5M332.43 762.6v20.5M336.53 762.6v20.5M340.62 762.6v20.5M344.72 762.6v20.5M348.81 762.6v20.5M352.91 762.6v20.5M357 762.6v20.5M361.1 762.6v20.5M365.19 762.6v20.5M369.29 762.6v20.5M373.38 762.6v20.5M377.48 762.6v20.5M381.57 762.6v20.5M385.67 762.6v20.5M389.76 762.6v20.5M393.86 762.6v20.5M397.95 762.6v20.5M402.04 762.6v20.5M406.14 762.6v20.5M410.23 762.6v20.5M414.33 762.6v20.5M418.42 762.6v20.5M422.52 762.6v20.5M426.61 762.6v20.5M430.71 762.6v20.5M434.8 762.6v20.5M438.9 762.6v20.5M442.99 762.6v20.5M447.09 762.6v20.5M451.18 762.6v20.5M455.28 762.6v20.5M459.37 762.6v20.5M463.47 762.6v20.5M467.56 762.6v20.5M471.66 762.6v20.5M475.75 762.6v20.5M479.85 762.6v20.5M483.94 762.6v20.5M488.04 762.6v20.5M492.13 762.6v20.5M496.23 762.6v20.5M500.32 762.6v20.5M504.41 762.6v20.5M508.51 762.6v20.5M512.6 762.6v20.5M516.7 762.6v20.5M520.79 762.6v20.5M524.89 762.6v20.5M528.98 762.6v20.5M533.08 762.6v20.5M537.17 762.6v20.5M541.27 762.6v20.5M545.36 762.6v20.5M549.46 762.6v20.5M553.55 762.6v20.5M557.65 762.6v20.5M561.74 762.6v20.5M565.84 762.6v20.5M569.93 762.6v20.5M574.03 762.6v20.5M578.12 762.6v20.5M582.22 762.6v20.5M586.31 762.6v20.5M590.41 762.6v20.5M594.5 762.6v20.5M598.6 762.6v20.5M602.69 762.6v20.5M606.78 762.6v20.5M610.88 762.6v20.5M614.97 762.6v20.5M619.07 762.6v20.5M623.16 762.6v20.5M627.26 762.6v20.5M631.35 762.6v20.5M635.45 762.6v20.5M639.54 762.6v20.5M643.64 762.6v20.5M647.73 762.6v20.5M651.83 762.6v20.5M655.92 762.6v20.5M660.02 762.6v20.5M664.11 762.6v20.5M668.21 762.6v20.5M672.3 762.6v20.5M676.4 762.6v20.5M680.49 762.6v20.5M684.59 762.6v20.5M688.68 762.6v20.5M692.78 762.6v20.5M696.87 762.6v20.5M700.96 762.6v20.5M705.06 762.6v20.5M709.15 762.6v20.5M713.25 762.6v20.5M717.34 762.6v20.5M721.44 762.6v20.5M725.53 762.6v20.5M729.63 762.6v20.5M733.72 762.6v20.5M737.82 762.6v20.5M741.91 762.6v20.5M746.01 762.6v20.5M750.1 762.6v20.5M754.2 762.6v20.5M758.29 762.6v20.5M762.39 762.6v20.5M766.48 762.6v20.5M770.58 762.6v20.5M774.67 762.6v20.5M778.77 762.6v20.5M782.86 762.6v20.5M786.96 762.6v20.5M791.05 762.6v20.5M795.15 762.6v20.5M799.24 762.6v20.5M803.33 762.6v20.5M807.43 762.6v20.5M811.52 762.6v20.5M815.62 762.6v20.5M819.71 762.6v20.5M823.81 762.6v20.5M827.9 762.6v20.5M832 762.6v20.5M836.09 762.6v20.5M840.19 762.6v20.5M844.28 762.6v20.5M848.38 762.6v20.5M852.47 762.6v20.5M856.57 762.6v20.5M860.66 762.6v20.5M864.76 762.6v20.5M868.85 762.6v20.5M872.95 762.6v20.5M877.04 762.6v20.5M881.14 762.6v20.5M885.23 762.6v20.5M889.33 762.6v20.5M893.42 762.6v20.5M897.52 762.6v20.5M901.61 762.6v20.5M905.7 762.6v20.5M909.8 762.6v20.5M913.89 762.6v20.5M917.99 762.6v20.5M922.08 762.6v20.5M926.18 762.6v20.5M930.27 762.6v20.5M934.37 762.6v20.5M938.46 762.6v20.5M942.56 762.6v20.5M946.65 762.6v20.5M950.75 762.6v20.5M954.84 762.6v20.5M958.94 762.6v20.5M963.03 762.6v20.5M967.13 762.6v20.5M971.22 762.6v20.5M975.32 762.6v20.5M979.41 762.6v20.5M983.51 762.6v20.5M987.6 762.6v20.5M991.7 762.6v20.5M995.79 762.6v20.5M999.88 762.6v20.5M1003.98 762.6v20.5M1008.07 762.6v20.5M1012.17 762.6v20.5M1016.26 762.6v20.5M1020.36 762.6v20.5M1024.45 762.6v20.5M1028.55 762.6v20.5M1032.64 762.6v20.5M1036.74 762.6v20.5M1040.83 762.6v20.5M1044.93 762.6v20.5M1049.02 762.6v20.5M1053.12 762.6v20.5M1057.21 762.6v20.5M1061.31 762.6v20.5M1065.4 762.6v20.5M1069.5 762.6v20.5M1073.59 762.6v20.5M1077.69 762.6v20.5M1081.78 762.6v20.5M1085.88 762.6v20.5M1089.97 762.6v20.5M1094.07 762.6v20.5M1098.16 762.6v20.5M1102.25 762.6v20.5M1106.35 762.6v20.5M1110.44 762.6v20.5M1114.54 762.6v20.5M1118.63 762.6v20.5M1122.73 762.6v20.5M1126.82 762.6v20.5M1130.92 762.6v20.5M1135.01 762.6v20.5M1139.11 762.6v20.5M1143.2 762.6v20.5M1147.3 762.6v20.5M1151.39 762.6v20.5M1155.49 762.6v20.5M1159.58 762.6v20.5M1163.68 762.6v20.5M1167.77 762.6v20.5M1171.87 762.6v20.5M1175.96 762.6v20.5M1180.06 762.6v20.5M1184.15 762.6v20.5M1188.25 762.6v20.5M1192.34 762.6v20.5M1196.44 762.6v20.5M1200.53 762.6v20.5M1204.62 762.6v20.5M1208.72 762.6v20.5M1212.81 762.6v20.5M1216.91 762.6v20.5M1221 762.6v20.5M1225.1 762.6v20.5M1229.19 762.6v20.5M1233.29 762.6v20.5M1237.38 762.6v20.5M1241.48 762.6v20.5M1245.57 762.6v20.5M1249.67 762.6v20.5M1253.76 762.6v20.5M1257.86 762.6v20.5M1261.95 762.6v20.5M1266.05 762.6v20.5M1270.14 762.6v20.5M1274.24 762.6v20.5M1278.33 762.6v20.5M1282.43 762.6v20.5M1286.52 762.6v20.5M1290.62 762.6v20.5M1294.71 762.6v20.5M1298.8 762.6v20.5M1302.9 762.6v20.5M1306.99 762.6v20.5M1311.09 762.6v20.5M1315.18 762.6v20.5M1319.28 762.6v20.5M1323.37 762.6v20.5M1327.47 762.6v20.5M1331.56 762.6v20.5M1335.66 762.6v20.5M1339.75 762.6v20.5M1343.85 762.6v20.5M1347.94 762.6v20.5M1352.04 762.6v20.5M1356.13 762.6v20.5M1360.23 762.6v20.5M1364.32 762.6v20.5M1368.42 762.6v20.5M1372.51 762.6v20.5M1376.61 762.6v20.5M1380.7 762.6v20.5M1384.8 762.6v20.5M1388.89 762.6v20.5M1392.99 762.6v20.5M1397.08 762.6v20.5M1401.17 762.6v20.5M1405.27 762.6v20.5M1409.36 762.6v20.5M1413.46 762.6v20.5M1417.55 762.6v20.5M1421.65 762.6v20.5M1425.74 762.6v20.5M1429.84 762.6v20.5M1433.93 762.6v20.5M1438.03 762.6v20.5M1442.12 762.6v20.5M1446.22 762.6v20.5M1450.31 762.6v20.5M1454.41 762.6v20.5M1458.5 762.6v20.5M1462.6 762.6v20.5M1466.69 762.6v20.5M1470.79 762.6v20.5M1474.88 762.6v20.5M1478.98 762.6v20.5M1483.07 762.6v20.5M1487.17 762.6v20.5M1491.26 762.6v20.5M1495.36 762.6v20.5M1499.45 762.6v20.5M1503.54 762.6v20.5M1507.64 762.6v20.5M1511.73 762.6v20.5M1515.83 762.6v20.5M1519.92 762.6v20.5M1524.02 762.6v20.5M1528.11 762.6v20.5M1532.21 762.6v20.5M1536.3 762.6v20.5M1540.4 762.6v20.5M1544.49 762.6v20.5M1548.59 762.6v20.5M1552.68 762.6v20.5M1556.78 762.6v20.5M1560.87 762.6v20.5M1564.97 762.6v20.5M1569.06 762.6v20.5M1573.16 762.6v20.5M1577.25 762.6v20.5M1581.35 762.6v20.5M1585.44 762.6v20.5M1589.54 762.6v20.5M1593.63 762.6v20.5M1597.72 762.6v20.5M1601.82 762.6v20.5M1605.91 762.6v20.5M1610.01 762.6v20.5M1614.1 762.6v20.5M1618.2 762.6v20.5M1622.29 762.6v20.5M1626.39 762.6v20.5M1630.48 762.6v20.5M1634.58 762.6v20.5M1638.67 762.6v20.5M1642.77 762.6v20.5M1646.86 762.6v20.5M1650.96 762.6v20.5M1655.05 762.6v20.5M1659.15 762.6v20.5M1663.24 762.6v20.5M1667.34 762.6v20.5M1671.43 762.6v20.5M1675.53 762.6v20.5M1679.62 762.6v20.5M1683.72 762.6v20.5M1687.81 762.6v20.5M1691.91 762.6v20.5M1696 762.6v20.5" stroke="rgba(0,0,0,0.4)" stroke-width="0.5" fill="none"/>
<rect x="201.4" y="762.6" width="1494.6" height="20.5" fill="none" stroke="#888" stroke-width="0.6"/>
<rect x="201.4" y="789.6" width="8.19" height="20.9" fill="#1e7ef8"/>
<rect x="209.59" y="789.6" width="8.19" height="20.9" fill="#ff8c10"/>
<rect x="217.78" y="789.6" width="8.19" height="20.9" fill="#1e7ef8"/>
<rect x="225.97" y="789.6" width="4.09" height="20.9" fill="#ff8c10"/>
<rect x="230.06" y="789.6" width="8.19" height="20.9" fill="#1e7ef8"/>
<rect x="238.25" y="789.6" width="8.19" height="20.9" fill="#ff8c10"/>
<rect x="246.44" y="789.6" width="4.09" height="20.9" fill="#1e7ef8"/>
<rect x="250.54" y="789.6" width="8.19" height="20.9" fill="#ff8c10"/>
<rect x="258.73" y="789.6" width="4.09" height="20.9" fill="#1e7ef8"/>
<rect x="262.82" y="789.6" width="8.19" height="20.9" fill="#ff8c10"/>
<rect x="271.01" y="789.6" width="8.19" height="20.9" fill="#1e7ef8"/>
<rect x="279.2" y="789.6" width="4.09" height="20.9" fill="#ff8c10"/>
<rect x="283.3" y="789.6" width="16.38" height="20.9" fill="#1e7ef8"/>
<rect x="299.68" y="789.6" width="4.09" height="20.9" fill="#ff8c10"/>
<rect x="303.77" y="789.6" width="12.28" height="20.9" fill="#1e7ef8"/>
<rect x="316.05" y="789.6" width="4.09" height="20.9" fill="#ff8c10"/>
<rect x="320.15" y="789.6" width="36.85" height="20.9" fill="#1e7ef8"/>
<rect x="357" y="789.6" width="12.28" height="20.9" fill="#ff8c10"/>
<rect x="369.29" y="789.6" width="4.09" height="20.9" fill="#1e7ef8"/>
<rect x="373.38" y="789.6" width="4.09" height="20.9" fill="#ff8c10"/>
<rect x="377.48" y="789.6" width="12.28" height="20.9" fill="#1e7ef8"/>
<rect x="389.76" y="789.6" width="12.28" height="20.9" fill="#ff8c10"/>
<rect x="402.04" y="789.6" width="8.19" height="20.9" fill="#1e7ef8"/>
<rect x="410.23" y="789.6" width="8.19" height="20.9" fill="#ff8c10"/>
<rect x="418.42" y="789.6" width="16.38" height="20.9" fill="#1e7ef8"/>
<rect x="434.8" y="789.6" width="12.28" height="20.9" fill="#ff8c10"/>
<rect x="447.09" y="789.6" width="4.09" height="20.9" fill="#1e7ef8"/>
<rect x="451.18" y="789.6" width="12.28" height="20.9" fill="#ff8c10"/>
<rect x="463.47" y="789.6" width="4.09" height="20.9" fill="#1e7ef8"/>
<rect x="467.56" y="789.6" width="4.09" height="20.9" fill="#ff8c10"/>
<rect x="471.66" y="789.6" width="4.09" height="20.9" fill="#1e7ef8"/>
<rect x="475.75" y="789.6" width="12.28" height="20.9" fill="#ff8c10"/>
<rect x="488.04" y="789.6" width="8.19" height="20.9" fill="#1e7ef8"/>
<rect x="496.23" y="789.6" width="8.19" height="20.9" fill="#ff8c10"/>
<rect x="504.41" y="789.6" width="12.28" height="20.9" fill="#1e7ef8"/>
<rect x="516.7" y="789.6" width="4.09" height="20.9" fill="#ff8c10"/>
<rect x="520.79" y="789.6" width="8.19" height="20.9" fill="#1e7ef8"/>
<rect x="528.98" y="789.6" width="8.19" height="20.9" fill="#ff8c10"/>
<rect x="537.17" y="789.6" width="8.19" height="20.9" fill="#1e7ef8"/>
<rect x="545.36" y="789.6" width="8.19" height="20.9" fill="#ff8c10"/>
<rect x="553.55" y="789.6" width="4.09" height="20.9" fill="#1e7ef8"/>
<rect x="557.65" y="789.6" width="4.09" height="20.9" fill="#ff8c10"/>
<rect x="561.74" y="789.6" width="4.09" height="20.9" fill="#1e7ef8"/>
<rect x="565.84" y="789.6" width="8.19" height="20.9" fill="#ff8c10"/>
<rect x="574.03" y="789.6" width="8.19" height="20.9" fill="#1e7ef8"/>
<rect x="582.22" y="789.6" width="8.19" height="20.9" fill="#ff8c10"/>
<rect x="590.41" y="789.6" width="4.09" height="20.9" fill="#1e7ef8"/>
<rect x="594.5" y="789.6" width="4.09" height="20.9" fill="#ff8c10"/>
<rect x="598.6" y="789.6" width="4.09" height="20.9" fill="#1e7ef8"/>
<rect x="602.69" y="789.6" width="8.19" height="20.9" fill="#ff8c10"/>
<rect x="610.88" y="789.6" width="12.28" height="20.9" fill="#1e7ef8"/>
<rect x="623.16" y="789.6" width="8.19" height="20.9" fill="#ff8c10"/>
<rect x="631.35" y="789.6" width="4.09" height="20.9" fill="#1e7ef8"/>
<rect x="635.45" y="789.6" width="4.09" height="20.9" fill="#ff8c10"/>
<rect x="639.54" y="789.6" width="4.09" height="20.9" fill="#1e7ef8"/>
<rect x="643.64" y="789.6" width="4.09" height="20.9" fill="#ff8c10"/>
<rect x="647.73" y="789.6" width="4.09" height="20.9" fill="#1e7ef8"/>
<rect x="651.83" y="789.6" width="16.38" height="20.9" fill="#ff8c10"/>
<rect x="668.21" y="789.6" width="4.09" height="20.9" fill="#1e7ef8"/>
<rect x="672.3" y="789.6" width="4.09" height="20.9" fill="#ff8c10"/>
<rect x="676.4" y="789.6" width="4.09" height="20.9" fill="#1e7ef8"/>
<rect x="680.49" y="789.6" width="4.09" height="20.9" fill="#ff8c10"/>
<rect x="684.59" y="789.6" width="4.09" height="20.9" fill="#1e7ef8"/>
<rect x="688.68" y="789.6" width="4.09" height="20.9" fill="#ff8c10"/>
<rect x="692.78" y="789.6" width="4.09" height="20.9" fill="#1e7ef8"/>
<rect x="696.87" y="789.6" width="16.38" height="20.9" fill="#ff8c10"/>
<rect x="713.25" y="789.6" width="4.09" height="20.9" fill="#1e7ef8"/>
<rect x="717.34" y="789.6" width="20.47" height="20.9" fill="#ff8c10"/>
<rect x="737.82" y="789.6" width="4.09" height="20.9" fill="#1e7ef8"/>
<rect x="741.91" y="789.6" width="8.19" height="20.9" fill="#ff8c10"/>
<rect x="750.1" y="789.6" width="4.09" height="20.9" fill="#1e7ef8"/>
<rect x="754.2" y="789.6" width="4.09" height="20.9" fill="#ff8c10"/>
<rect x="758.29" y="789.6" width="4.09" height="20.9" fill="#1e7ef8"/>
<rect x="762.39" y="789.6" width="12.28" height="20.9" fill="#ff8c10"/>
<rect x="774.67" y="789.6" width="4.09" height="20.9" fill="#1e7ef8"/>
<rect x="778.77" y="789.6" width="12.28" height="20.9" fill="#ff8c10"/>
<rect x="791.05" y="789.6" width="4.09" height="20.9" fill="#1e7ef8"/>
<rect x="795.15" y="789.6" width="4.09" height="20.9" fill="#ff8c10"/>
<rect x="799.24" y="789.6" width="12.28" height="20.9" fill="#1e7ef8"/>
<rect x="811.52" y="789.6" width="4.09" height="20.9" fill="#ff8c10"/>
<rect x="815.62" y="789.6" width="8.19" height="20.9" fill="#1e7ef8"/>
<rect x="823.81" y="789.6" width="28.66" height="20.9" fill="#ff8c10"/>
<rect x="852.47" y="789.6" width="4.09" height="20.9" fill="#1e7ef8"/>
<rect x="856.57" y="789.6" width="16.38" height="20.9" fill="#ff8c10"/>
<rect x="872.95" y="789.6" width="4.09" height="20.9" fill="#1e7ef8"/>
<rect x="877.04" y="789.6" width="32.76" height="20.9" fill="#ff8c10"/>
<rect x="909.8" y="789.6" width="4.09" height="20.9" fill="#1e7ef8"/>
<rect x="913.89" y="789.6" width="8.19" height="20.9" fill="#ff8c10"/>
<rect x="922.08" y="789.6" width="4.09" height="20.9" fill="#1e7ef8"/>
<rect x="926.18" y="789.6" width="20.47" height="20.9" fill="#ff8c10"/>
<rect x="946.65" y="789.6" width="8.19" height="20.9" fill="#1e7ef8"/>
<rect x="954.84" y="789.6" width="4.09" height="20.9" fill="#ff8c10"/>
<rect x="958.94" y="789.6" width="4.09" height="20.9" fill="#1e7ef8"/>
<rect x="963.03" y="789.6" width="12.28" height="20.9" fill="#ff8c10"/>
<rect x="975.32" y="789.6" width="4.09" height="20.9" fill="#1e7ef8"/>
<rect x="979.41" y="789.6" width="8.19" height="20.9" fill="#ff8c10"/>
<rect x="987.6" y="789.6" width="4.09" height="20.9" fill="#1e7ef8"/>
<rect x="991.7" y="789.6" width="8.19" height="20.9" fill="#ff8c10"/>
<rect x="999.88" y="789.6" width="4.09" height="20.9" fill="#1e7ef8"/>
<rect x="1003.98" y="789.6" width="4.09" height="20.9" fill="#ff8c10"/>
<rect x="1008.07" y="789.6" width="4.09" height="20.9" fill="#1e7ef8"/>
<rect x="1012.17" y="789.6" width="28.66" height="20.9" fill="#ff8c10"/>
<rect x="1040.83" y="789.6" width="4.09" height="20.9" fill="#1e7ef8"/>
<rect x="1044.93" y="789.6" width="4.09" height="20.9" fill="#ff8c10"/>
<rect x="1049.02" y="789.6" width="4.09" height="20.9" fill="#1e7ef8"/>
<rect x="1053.12" y="789.6" width="4.09" height="20.9" fill="#ff8c10"/>
<rect x="1057.21" y="789.6" width="4.09" height="20.9" fill="#1e7ef8"/>
<rect x="1061.31" y="789.6" width="4.09" height="20.9" fill="#ff8c10"/>
<rect x="1065.4" y="789.6" width="8.19" height="20.9" fill="#1e7ef8"/>
<rect x="1073.59" y="789.6" width="4.09" height="20.9" fill="#ff8c10"/>
<rect x="1077.69" y="789.6" width="4.09" height="20.9" fill="#1e7ef8"/>
<rect x="1081.78" y="789.6" width="4.09" height="20.9" fill="#ff8c10"/>
<rect x="1085.88" y="789.6" width="12.28" height="20.9" fill="#1e7ef8"/>
<rect x="1098.16" y="789.6" width="4.09" height="20.9" fill="#ff8c10"/>
<rect x="1102.25" y="789.6" width="8.19" height="20.9" fill="#1e7ef8"/>
<rect x="1110.44" y="789.6" width="8.19" height="20.9" fill="#ff8c10"/>
<rect x="1118.63" y="789.6" width="4.09" height="20.9" fill="#1e7ef8"/>
<rect x="1122.73" y="789.6" width="24.57" height="20.9" fill="#ff8c10"/>
<rect x="1147.3" y="789.6" width="12.28" height="20.9" fill="#1e7ef8"/>
<rect x="1159.58" y="789.6" width="24.57" height="20.9" fill="#ff8c10"/>
<rect x="1184.15" y="789.6" width="8.19" height="20.9" fill="#1e7ef8"/>
<rect x="1192.34" y="789.6" width="16.38" height="20.9" fill="#ff8c10"/>
<rect x="1208.72" y="789.6" width="4.09" height="20.9" fill="#1e7ef8"/>
<rect x="1212.81" y="789.6" width="8.19" height="20.9" fill="#ff8c10"/>
<rect x="1221" y="789.6" width="8.19" height="20.9" fill="#1e7ef8"/>
<rect x="1229.19" y="789.6" width="12.28" height="20.9" fill="#ff8c10"/>
<rect x="1241.48" y="789.6" width="8.19" height="20.9" fill="#1e7ef8"/>
<rect x="1249.67" y="789.6" width="53.23" height="20.9" fill="#ff8c10"/>
<rect x="1302.9" y="789.6" width="4.09" height="20.9" fill="#1e7ef8"/>
<rect x="1306.99" y="789.6" width="4.09" height="20.9" fill="#ff8c10"/>
<rect x="1311.09" y="789.6" width="4.09" height="20.9" fill="#1e7ef8"/>
<rect x="1315.18" y="789.6" width="4.09" height="20.9" fill="#ff8c10"/>
<rect x="1319.28" y="789.6" width="16.38" height="20.9" fill="#1e7ef8"/>
<rect x="1335.66" y="789.6" width="8.19" height="20.9" fill="#ff8c10"/>
<rect x="1343.85" y="789.6" width="8.19" height="20.9" fill="#1e7ef8"/>
<rect x="1352.04" y="789.6" width="16.38" height="20.9" fill="#ff8c10"/>
<rect x="1368.42" y="789.6" width="4.09" height="20.9" fill="#1e7ef8"/>
<rect x="1372.51" y="789.6" width="12.28" height="20.9" fill="#ff8c10"/>
<rect x="1384.8" y="789.6" width="8.19" height="20.9" fill="#1e7ef8"/>
<rect x="1392.99" y="789.6" width="4.09" height="20.9" fill="#ff8c10"/>
<rect x="1397.08" y="789.6" width="4.09" height="20.9" fill="#1e7ef8"/>
<rect x="1401.17" y="789.6" width="4.09" height="20.9" fill="#ff8c10"/>
<rect x="1405.27" y="789.6" width="8.19" height="20.9" fill="#1e7ef8"/>
<rect x="1413.46" y="789.6" width="53.23" height="20.9" fill="#ff8c10"/>
<rect x="1466.69" y="789.6" width="12.28" height="20.9" fill="#1e7ef8"/>
<rect x="1478.98" y="789.6" width="4.09" height="20.9" fill="#ff8c10"/>
<rect x="1483.07" y="789.6" width="4.09" height="20.9" fill="#1e7ef8"/>
<rect x="1487.17" y="789.6" width="16.38" height="20.9" fill="#ff8c10"/>
<rect x="1503.54" y="789.6" width="4.09" height="20.9" fill="#1e7ef8"/>
<rect x="1507.64" y="789.6" width="20.47" height="20.9" fill="#ff8c10"/>
<rect x="1528.11" y="789.6" width="12.28" height="20.9" fill="#1e7ef8"/>
<rect x="1540.4" y="789.6" width="36.85" height="20.9" fill="#ff8c10"/>
<rect x="1577.25" y="789.6" width="4.09" height="20.9" fill="#1e7ef8"/>
<rect x="1581.35" y="789.6" width="4.09" height="20.9" fill="#ff8c10"/>
<rect x="1585.44" y="789.6" width="4.09" height="20.9" fill="#1e7ef8"/>
<rect x="1589.54" y="789.6" width="8.19" height="20.9" fill="#ff8c10"/>
<rect x="1597.72" y="789.6" width="8.19" height="20.9" fill="#1e7ef8"/>
<rect x="1605.91" y="789.6" width="16.38" height="20.9" fill="#ff8c10"/>
<rect x="1622.29" y="789.6" width="8.19" height="20.9" fill="#1e7ef8"/>
<rect x="1630.48" y="789.6" width="12.28" height="20.9" fill="#ff8c10"/>
<rect x="1642.77" y="789.6" width="4.09" height="20.9" fill="#1e7ef8"/>
<rect x="1646.86" y="789.6" width="12.28" height="20.9" fill="#ff8c10"/>
<rect x="1659.15" y="789.6" width="4.09" height="20.9" fill="#1e7ef8"/>
<rect x="1663.24" y="789.6" width="4.09" height="20.9" fill="#ff8c10"/>
<rect x="1667.34" y="789.6" width="4.09" height="20.9" fill="#1e7ef8"/>
<rect x="1671.43" y="789.6" width="4.09" height="20.9" fill="#ff8c10"/>
<rect x="1675.53" y="789.6" width="20.47" height="20.9" fill="#1e7ef8"/>
<path d="M201.4 789.6v20.9M205.49 789.6v20.9M209.59 789.6v20.9M213.68 789.6v20.9M217.78 789.6v20.9M221.87 789.6v20.9M225.97 789.6v20.9M230.06 789.6v20.9M234.16 789.6v20.9M238.25 789.6v20.9M242.35 789.6v20.9M246.44 789.6v20.9M250.54 789.6v20.9M254.63 789.6v20.9M258.73 789.6v20.9M262.82 789.6v20.9M266.92 789.6v20.9M271.01 789.6v20.9M275.11 789.6v20.9M279.2 789.6v20.9M283.3 789.6v20.9M287.39 789.6v20.9M291.49 789.6v20.9M295.58 789.6v20.9M299.68 789.6v20.9M303.77 789.6v20.9M307.86 789.6v20.9M311.96 789.6v20.9M316.05 789.6v20.9M320.15 789.6v20.9M324.24 789.6v20.9M328.34 789.6v20.9M332.43 789.6v20.9M336.53 789.6v20.9M340.62 789.6v20.9M344.72 789.6v20.9M348.81 789.6v20.9M352.91 789.6v20.9M357 789.6v20.9M361.1 789.6v20.9M365.19 789.6v20.9M369.29 789.6v20.9M373.38 789.6v20.9M377.48 789.6v20.9M381.57 789.6v20.9M385.67 789.6v20.9M389.76 789.6v20.9M393.86 789.6v20.9M397.95 789.6v20.9M402.04 789.6v20.9M406.14 789.6v20.9M410.23 789.6v20.9M414.33 789.6v20.9M418.42 789.6v20.9M422.52 789.6v20.9M426.61 789.6v20.9M430.71 789.6v20.9M434.8 789.6v20.9M438.9 789.6v20.9M442.99 789.6v20.9M447.09 789.6v20.9M451.18 789.6v20.9M455.28 789.6v20.9M459.37 789.6v20.9M463.47 789.6v20.9M467.56 789.6v20.9M471.66 789.6v20.9M475.75 789.6v20.9M479.85 789.6v20.9M483.94 789.6v20.9M488.04 789.6v20.9M492.13 789.6v20.9M496.23 789.6v20.9M500.32 789.6v20.9M504.41 789.6v20.9M508.51 789.6v20.9M512.6 789.6v20.9M516.7 789.6v20.9M520.79 789.6v20.9M524.89 789.6v20.9M528.98 789.6v20.9M533.08 789.6v20.9M537.17 789.6v20.9M541.27 789.6v20.9M545.36 789.6v20.9M549.46 789.6v20.9M553.55 789.6v20.9M557.65 789.6v20.9M561.74 789.6v20.9M565.84 789.6v20.9M569.93 789.6v20.9M574.03 789.6v20.9M578.12 789.6v20.9M582.22 789.6v20.9M586.31 789.6v20.9M590.41 789.6v20.9M594.5 789.6v20.9M598.6 789.6v20.9M602.69 789.6v20.9M606.78 789.6v20.9M610.88 789.6v20.9M614.97 789.6v20.9M619.07 789.6v20.9M623.16 789.6v20.9M627.26 789.6v20.9M631.35 789.6v20.9M635.45 789.6v20.9M639.54 789.6v20.9M643.64 789.6v20.9M647.73 789.6v20.9M651.83 789.6v20.9M655.92 789.6v20.9M660.02 789.6v20.9M664.11 789.6v20.9M668.21 789.6v20.9M672.3 789.6v20.9M676.4 789.6v20.9M680.49 789.6v20.9M684.59 789.6v20.9M688.68 789.6v20.9M692.78 789.6v20.9M696.87 789.6v20.9M700.96 789.6v20.9M705.06 789.6v20.9M709.15 789.6v20.9M713.25 789.6v20.9M717.34 789.6v20.9M721.44 789.6v20.9M725.53 789.6v20.9M729.63 789.6v20.9M733.72 789.6v20.9M737.82 789.6v20.9M741.91 789.6v20.9M746.01 789.6v20.9M750.1 789.6v20.9M754.2 789.6v20.9M758.29 789.6v20.9M762.39 789.6v20.9M766.48 789.6v20.9M770.58 789.6v20.9M774.67 789.6v20.9M778.77 789.6v20.9M782.86 789.6v20.9M786.96 789.6v20.9M791.05 789.6v20.9M795.15 789.6v20.9M799.24 789.6v20.9M803.33 789.6v20.9M807.43 789.6v20.9M811.52 789.6v20.9M815.62 789.6v20.9M819.71 789.6v20.9M823.81 789.6v20.9M827.9 789.6v20.9M832 789.6v20.9M836.09 789.6v20.9M840.19 789.6v20.9M844.28 789.6v20.9M848.38 789.6v20.9M852.47 789.6v20.9M856.57 789.6v20.9M860.66 789.6v20.9M864.76 789.6v20.9M868.85 789.6v20.9M872.95 789.6v20.9M877.04 789.6v20.9M881.14 789.6v20.9M885.23 789.6v20.9M889.33 789.6v20.9M893.42 789.6v20.9M897.52 789.6v20.9M901.61 789.6v20.9M905.7 789.6v20.9M909.8 789.6v20.9M913.89 789.6v20.9M917.99 789.6v20.9M922.08 789.6v20.9M926.18 789.6v20.9M930.27 789.6v20.9M934.37 789.6v20.9M938.46 789.6v20.9M942.56 789.6v20.9M946.65 789.6v20.9M950.75 789.6v20.9M954.84 789.6v20.9M958.94 789.6v20.9M963.03 789.6v20.9M967.13 789.6v20.9M971.22 789.6v20.9M975.32 789.6v20.9M979.41 789.6v20.9M983.51 789.6v20.9M987.6 789.6v20.9M991.7 789.6v20.9M995.79 789.6v20.9M999.88 789.6v20.9M1003.98 789.6v20.9M1008.07 789.6v20.9M1012.17 789.6v20.9M1016.26 789.6v20.9M1020.36 789.6v20.9M1024.45 789.6v20.9M1028.55 789.6v20.9M1032.64 789.6v20.9M1036.74 789.6v20.9M1040.83 789.6v20.9M1044.93 789.6v20.9M1049.02 789.6v20.9M1053.12 789.6v20.9M1057.21 789.6v20.9M1061.31 789.6v20.9M1065.4 789.6v20.9M1069.5 789.6v20.9M1073.59 789.6v20.9M1077.69 789.6v20.9M1081.78 789.6v20.9M1085.88 789.6v20.9M1089.97 789.6v20.9M1094.07 789.6v20.9M1098.16 789.6v20.9M1102.25 789.6v20.9M1106.35 789.6v20.9M1110.44 789.6v20.9M1114.54 789.6v20.9M1118.63 789.6v20.9M1122.73 789.6v20.9M1126.82 789.6v20.9M1130.92 789.6v20.9M1135.01 789.6v20.9M1139.11 789.6v20.9M1143.2 789.6v20.9M1147.3 789.6v20.9M1151.39 789.6v20.9M1155.49 789.6v20.9M1159.58 789.6v20.9M1163.68 789.6v20.9M1167.77 789.6v20.9M1171.87 789.6v20.9M1175.96 789.6v20.9M1180.06 789.6v20.9M1184.15 789.6v20.9M1188.25 789.6v20.9M1192.34 789.6v20.9M1196.44 789.6v20.9M1200.53 789.6v20.9M1204.62 789.6v20.9M1208.72 789.6v20.9M1212.81 789.6v20.9M1216.91 789.6v20.9M1221 789.6v20.9M1225.1 789.6v20.9M1229.19 789.6v20.9M1233.29 789.6v20.9M1237.38 789.6v20.9M1241.48 789.6v20.9M1245.57 789.6v20.9M1249.67 789.6v20.9M1253.76 789.6v20.9M1257.86 789.6v20.9M1261.95 789.6v20.9M1266.05 789.6v20.9M1270.14 789.6v20.9M1274.24 789.6v20.9M1278.33 789.6v20.9M1282.43 789.6v20.9M1286.52 789.6v20.9M1290.62 789.6v20.9M1294.71 789.6v20.9M1298.8 789.6v20.9M1302.9 789.6v20.9M1306.99 789.6v20.9M1311.09 789.6v20.9M1315.18 789.6v20.9M1319.28 789.6v20.9M1323.37 789.6v20.9M1327.47 789.6v20.9M1331.56 789.6v20.9M1335.66 789.6v20.9M1339.75 789.6v20.9M1343.85 789.6v20.9M1347.94 789.6v20.9M1352.04 789.6v20.9M1356.13 789.6v20.9M1360.23 789.6v20.9M1364.32 789.6v20.9M1368.42 789.6v20.9M1372.51 789.6v20.9M1376.61 789.6v20.9M1380.7 789.6v20.9M1384.8 789.6v20.9M1388.89 789.6v20.9M1392.99 789.6v20.9M1397.08 789.6v20.9M1401.17 789.6v20.9M1405.27 789.6v20.9M1409.36 789.6v20.9M1413.46 789.6v20.9M1417.55 789.6v20.9M1421.65 789.6v20.9M1425.74 789.6v20.9M1429.84 789.6v20.9M1433.93 789.6v20.9M1438.03 789.6v20.9M1442.12 789.6v20.9M1446.22 789.6v20.9M1450.31 789.6v20.9M1454.41 789.6v20.9M1458.5 789.6v20.9M1462.6 789.6v20.9M1466.69 789.6v20.9M1470.79 789.6v20.9M1474.88 789.6v20.9M1478.98 789.6v20.9M1483.07 789.6v20.9M1487.17 789.6v20.9M1491.26 789.6v20.9M1495.36 789.6v20.9M1499.45 789.6v20.9M1503.54 789.6v20.9M1507.64 789.6v20.9M1511.73 789.6v20.9M1515.83 789.6v20.9M1519.92 789.6v20.9M1524.02 789.6v20.9M1528.11 789.6v20.9M1532.21 789.6v20.9M1536.3 789.6v20.9M1540.4 789.6v20.9M1544.49 789.6v20.9M1548.59 789.6v20.9M1552.68 789.6v20.9M1556.78 789.6v20.9M1560.87 789.6v20.9M1564.97 789.6v20.9M1569.06 789.6v20.9M1573.16 789.6v20.9M1577.25 789.6v20.9M1581.35 789.6v20.9M1585.44 789.6v20.9M1589.54 789.6v20.9M1593.63 789.6v20.9M1597.72 789.6v20.9M1601.82 789.6v20.9M1605.91 789.6v20.9M1610.01 789.6v20.9M1614.1 789.6v20.9M1618.2 789.6v20.9M1622.29 789.6v20.9M1626.39 789.6v20.9M1630.48 789.6v20.9M1634.58 789.6v20.9M1638.67 789.6v20.9M1642.77 789.6v20.9M1646.86 789.6v20.9M1650.96 789.6v20.9M1655.05 789.6v20.9M1659.15 789.6v20.9M1663.24 789.6v20.9M1667.34 789.6v20.9M1671.43 789.6v20.9M1675.53 789.6v20.9M1679.62 789.6v20.9M1683.72 789.6v20.9M1687.81 789.6v20.9M1691.91 789.6v20.9M1696 789.6v20.9" stroke="rgba(0,0,0,0.4)" stroke-width="0.5" fill="none"/>
<rect x="201.4" y="789.6" width="1494.6" height="20.9" fill="none" stroke="#888" stroke-width="0.6"/>
<text x="195.6" y="594.5" font-size="16.6" text-anchor="end" style="font-weight:bold"><tspan style="font-style:italic">ZNRF3</tspan> Loss</text>
<text x="195.6" y="615" font-size="16.6" text-anchor="end" style="font-weight:bold;">BCR</text>
<text x="195.6" y="634.6" font-size="16.6" text-anchor="end" style="font-weight:bold;">Early BCR</text>
<text x="195.6" y="655" font-size="16.6" text-anchor="end" style="font-weight:bold;">Metastasis</text>
<text x="195.6" y="676" font-size="16.6" text-anchor="end" style="font-weight:bold;">ETS Fusion Status</text>
<text x="195.6" y="697" font-size="16.6" text-anchor="end" style="font-weight:bold;">IDC-P/CA</text>
<text x="195.6" y="724.7" font-size="16.6" text-anchor="end" style="font-weight:bold;">Gleason Score</text>
<text x="195.6" y="751.5" font-size="16.6" text-anchor="end" style="font-weight:bold;">Pre-Treatment PSA</text>
<text x="195.6" y="779" font-size="16.6" text-anchor="end" style="font-weight:bold;">Clinical T Category</text>
<text x="195.6" y="805.9" font-size="16.6" text-anchor="end" style="font-weight:bold;">Treatment Type</text>
<text x="18.3" y="642" font-size="22.5" text-anchor="middle" transform="rotate(-90 18.3 642)" style="font-weight:bold;">Features</text>
<line x1="30.3" y1="583.8" x2="30.3" y2="699" stroke="#000" stroke-width="2.4"/>
<text x="130" y="25" font-size="35" style="font-weight:bold;">A</text>
<text x="145" y="860" font-size="34.2" style="font-weight:bold;">Features</text>
<text x="387.5" y="860" font-size="34.2" style="font-weight:bold;">Gleason Score</text>
<text x="763.8" y="859.7" font-size="34.2" style="font-weight:bold;">PSA</text>
<text x="964.3" y="856.5" font-size="34.2" style="font-weight:bold;">cT Category</text>
<text x="1335" y="856.5" font-size="34.2" style="font-weight:bold;">Treatment Type</text>
<rect x="100.5" y="886.2" width="36.6" height="38" fill="#ffffff" stroke="#222" stroke-width="0.9"/>
<rect x="100.5" y="928.3" width="36.6" height="38" fill="#1f80e8" stroke="#222" stroke-width="0.9"/>
<rect x="100.5" y="970.5" width="36.6" height="38" fill="#4a4a4a" stroke="#222" stroke-width="0.9"/>
<text x="151.5" y="914.3" font-size="28.7" style="font-weight:bold;">Absent</text>
<text x="150.5" y="955.8" font-size="28.7" style="font-weight:bold;">Present</text>
<text x="150.5" y="999.5" font-size="28.7" style="font-weight:bold;">Not Available</text>
<rect x="447.2" y="885.3" width="36.6" height="38" fill="#ffffff" stroke="#222" stroke-width="0.9"/>
<text x="498.1" y="914.3" font-size="28.7" style="font-weight:bold;">3+3</text>
<rect x="447.2" y="927.65" width="36.6" height="38" fill="#ffff00" stroke="#222" stroke-width="0.9"/>
<text x="498.1" y="956.65" font-size="28.7" style="font-weight:bold;">3+4</text>
<rect x="447.2" y="970" width="36.6" height="38" fill="#ffa500" stroke="#222" stroke-width="0.9"/>
<text x="498.1" y="999" font-size="28.7" style="font-weight:bold;">4+3</text>
<rect x="447.2" y="1012.35" width="36.6" height="38" fill="#ff2200" stroke="#222" stroke-width="0.9"/>
<text x="498.1" y="1041.35" font-size="28.7" style="font-weight:bold;">≥ 4+4</text>
<rect x="703" y="885.7" width="36.6" height="38" fill="#add8e6" stroke="#222" stroke-width="0.9"/>
<rect x="703" y="927.2" width="36.6" height="38" fill="#0a22ff" stroke="#222" stroke-width="0.9"/>
<text x="753" y="912.6" font-size="28.7" style="font-weight:bold;">&lt; 10 ng/mL</text>
<text x="753" y="954.2" font-size="28.7" style="font-weight:bold;">≥ 10 ng/mL</text>
<rect x="1015.2" y="885.7" width="36.6" height="38" fill="#00ff1a" stroke="#222" stroke-width="0.9"/>
<rect x="1015.2" y="927.2" width="36.6" height="38" fill="#006400" stroke="#222" stroke-width="0.9"/>
<text x="1065.5" y="915.2" font-size="28.7" style="font-weight:bold;">cT1</text>
<text x="1065.5" y="954.6" font-size="28.7" style="font-weight:bold;">cT2</text>
<rect x="1277.8" y="885.7" width="36.6" height="38" fill="#1e8fff" stroke="#222" stroke-width="0.9"/>
<rect x="1277.8" y="927.2" width="36.6" height="38" fill="#ffa500" stroke="#222" stroke-width="0.9"/>
<text x="1328" y="914.8" font-size="28.7" style="font-weight:bold;">Radiotherapy</text>
<text x="1328" y="954.7" font-size="28.7" style="font-weight:bold;">Radical Prostatectomy</text>
<text x="29.3" y="1111.3" font-size="32" style="font-weight:bold;">B</text>
<rect x="50.8" y="1126.2" width="508.2" height="350.4" fill="none" stroke="#000" stroke-width="2.2"/>
<rect x="261.6" y="1141" width="284.8" height="284.2" fill="#ebebeb"/>
<line x1="304.55" y1="1141" x2="304.55" y2="1425.2" stroke="#f7f7f7" stroke-width="0.7"/>
<line x1="377.25" y1="1141" x2="377.25" y2="1425.2" stroke="#f7f7f7" stroke-width="0.7"/>
<line x1="449.95" y1="1141" x2="449.95" y2="1425.2" stroke="#f7f7f7" stroke-width="0.7"/>
<line x1="522.65" y1="1141" x2="522.65" y2="1425.2" stroke="#f7f7f7" stroke-width="0.7"/>
<line x1="268.2" y1="1141" x2="268.2" y2="1425.2" stroke="#ffffff" stroke-width="1.3"/>
<line x1="340.9" y1="1141" x2="340.9" y2="1425.2" stroke="#ffffff" stroke-width="1.3"/>
<line x1="413.6" y1="1141" x2="413.6" y2="1425.2" stroke="#ffffff" stroke-width="1.3"/>
<line x1="486.3" y1="1141" x2="486.3" y2="1425.2" stroke="#ffffff" stroke-width="1.3"/>
<line x1="261.6" y1="1161.3" x2="546.4" y2="1161.3" stroke="#ffffff" stroke-width="1.3"/>
<line x1="261.6" y1="1196.06" x2="546.4" y2="1196.06" stroke="#ffffff" stroke-width="1.3"/>
<line x1="261.6" y1="1230.82" x2="546.4" y2="1230.82" stroke="#ffffff" stroke-width="1.3"/>
<line x1="261.6" y1="1265.58" x2="546.4" y2="1265.58" stroke="#ffffff" stroke-width="1.3"/>
<line x1="261.6" y1="1300.34" x2="546.4" y2="1300.34" stroke="#ffffff" stroke-width="1.3"/>
<line x1="261.6" y1="1335.1" x2="546.4" y2="1335.1" stroke="#ffffff" stroke-width="1.3"/>
<line x1="261.6" y1="1369.86" x2="546.4" y2="1369.86" stroke="#ffffff" stroke-width="1.3"/>
<line x1="261.6" y1="1404.62" x2="546.4" y2="1404.62" stroke="#ffffff" stroke-width="1.3"/>
<rect x="268.2" y="1148.3" width="271.9" height="26" fill="#f90006"/>
<line x1="258.6" y1="1161.3" x2="261.6" y2="1161.3" stroke="#333" stroke-width="0.9"/>
<text x="257" y="1165.6" font-size="12" text-anchor="end" fill="#1a1a1a" style="font-weight:bold;">CELL CYCLE</text>
<rect x="268.2" y="1183.06" width="265.35" height="26" fill="#f91d0a"/>
<line x1="258.6" y1="1196.06" x2="261.6" y2="1196.06" stroke="#333" stroke-width="0.9"/>
<text x="257" y="1200.36" font-size="12" text-anchor="end" fill="#1a1a1a" style="font-weight:bold;">MITOTIC CELL CYCLE</text>
<rect x="268.2" y="1217.82" width="259.54" height="26" fill="#f8380c"/>
<line x1="258.6" y1="1230.82" x2="261.6" y2="1230.82" stroke="#333" stroke-width="0.9"/>
<text x="257" y="1235.12" font-size="12" text-anchor="end" fill="#1a1a1a" style="font-weight:bold;">CELL CYCLE PROCESS</text>
<rect x="268.2" y="1252.58" width="239.18" height="26" fill="#f8760e"/>
<line x1="258.6" y1="1265.58" x2="261.6" y2="1265.58" stroke="#333" stroke-width="0.9"/>
<text x="257" y="1269.88" font-size="12" text-anchor="end" fill="#1a1a1a" style="font-weight:bold;">ORGANELLE FISSION</text>
<rect x="268.2" y="1287.34" width="238.46" height="26" fill="#f8780e"/>
<line x1="258.6" y1="1300.34" x2="261.6" y2="1300.34" stroke="#333" stroke-width="0.9"/>
<text x="257" y="1304.64" font-size="12" text-anchor="end" fill="#1a1a1a" style="font-weight:bold;">CHROMOSOME</text>
<rect x="268.2" y="1322.1" width="236.27" height="26" fill="#f97c0d"/>
<line x1="258.6" y1="1335.1" x2="261.6" y2="1335.1" stroke="#333" stroke-width="0.9"/>
<text x="257" y="1339.4" font-size="12" text-anchor="end" fill="#1a1a1a" style="font-weight:bold;">CELL DIVISION</text>
<rect x="268.2" y="1356.86" width="231.19" height="26" fill="#f9890c"/>
<line x1="258.6" y1="1369.86" x2="261.6" y2="1369.86" stroke="#333" stroke-width="0.9"/>
<text x="257" y="1374.16" font-size="12" text-anchor="end" fill="#1a1a1a" style="font-weight:bold;">MITOTIC NUCLEAR DIVISION</text>
<rect x="268.2" y="1391.62" width="226.82" height="26" fill="#f9920c"/>
<line x1="258.6" y1="1404.62" x2="261.6" y2="1404.62" stroke="#333" stroke-width="0.9"/>
<text x="257" y="1408.92" font-size="12" text-anchor="end" fill="#1a1a1a" style="font-weight:bold;">CHROMOSOME SEGREGATION</text>
<rect x="261.6" y="1141" width="284.8" height="284.2" fill="none" stroke="#333" stroke-width="1.4"/>
<line x1="268.2" y1="1425.2" x2="268.2" y2="1428.2" stroke="#333" stroke-width="0.9"/>
<text x="268.2" y="1440.9" font-size="14.8" text-anchor="middle" fill="#111" style="font-weight:bold;">0</text>
<line x1="340.9" y1="1425.2" x2="340.9" y2="1428.2" stroke="#333" stroke-width="0.9"/>
<text x="340.9" y="1440.9" font-size="14.8" text-anchor="middle" fill="#111" style="font-weight:bold;">10</text>
<line x1="413.6" y1="1425.2" x2="413.6" y2="1428.2" stroke="#333" stroke-width="0.9"/>
<text x="413.6" y="1440.9" font-size="14.8" text-anchor="middle" fill="#111" style="font-weight:bold;">20</text>
<line x1="486.3" y1="1425.2" x2="486.3" y2="1428.2" stroke="#333" stroke-width="0.9"/>
<text x="486.3" y="1440.9" font-size="14.8" text-anchor="middle" fill="#111" style="font-weight:bold;">30</text>
<text x="333.3" y="1461.4" font-size="19.6" fill="#111">-Log<tspan font-size="13.5" dy="4">10</tspan><tspan dy="-4"> Q-Value</tspan></text>
<text x="49.4" y="1523.6" font-size="32.5" style="font-weight:bold;">C</text>
<rect x="51.3" y="1540.5" width="559.1" height="563" fill="none" stroke="#000" stroke-width="2.7"/>
<g fill="none" stroke-width="2" stroke-linejoin="miter">
<path d="M161.3 1560.2H236.03V1575.84H600.86" stroke="#111111"/>
<path d="M161.3 1560.2H179.28V1560.84H197.26V1561.48H217.24V1562.11H236.03V1562.75H261.2V1563.39H281.18V1564.03H305.16V1564.35H331.93V1564.99H349.11V1565.62H369.09V1566.26H385.08V1566.9H405.86V1568.18H421.04V1569.13H433.03V1570.09H442.62V1571.05H461V1572.01H479.78V1572.96H488.97V1573.92H498.16V1574.88H504.96V1576.15H508.95V1577.43H516.54V1579.35H600.86" stroke="#ee1c25"/>
<path d="M161.3 1560.2H175.29V1565.31H213.25V1570.09H321.94V1572.64H326.33V1584.13H338.32V1587.96H362.7V1592.43H364.7V1598.49H600.86" stroke="#27488a"/>
<path d="M161.3 1560.2H295.97V1600.09H301.16V1639.97H302.36V1679.86H325.14V1719.75H374.29V1759.64H417.04V1819.47H600.86" stroke="#f7a21b"/>
</g>
<path d="M221.24 1557v6.4M281.18 1572.64v6.4M385.08 1572.64v6.4M484.98 1572.64v6.4M492.97 1572.64v6.4M504.96 1572.64v6.4M528.93 1572.64v6.4M548.91 1572.64v6.4M564.9 1572.64v6.4M584.88 1572.64v6.4M592.87 1572.64v6.4M598.86 1572.64v6.4" stroke="#111111" stroke-width="1.1" fill="none"/>
<path d="M171.4 1557v6.4M188.61 1557.64v6.4M188.61 1557.64v6.4M192.76 1557.64v6.4M193.12 1557.64v6.4M194.62 1557.64v6.4M209.12 1558.28v6.4M236.79 1559.55v6.4M246.23 1559.55v6.4M261.33 1560.19v6.4M283.07 1560.83v6.4M286.8 1560.83v6.4M296.56 1560.83v6.4M299.47 1560.83v6.4M346.41 1561.79v6.4M349.01 1561.79v6.4M351.88 1562.42v6.4M365.3 1562.42v6.4M365.41 1562.42v6.4M365.96 1562.42v6.4M366.8 1562.42v6.4M371.78 1563.06v6.4M372.11 1563.06v6.4M386.91 1563.7v6.4M391.2 1563.7v6.4M391.46 1563.7v6.4M391.54 1563.7v6.4M392.26 1563.7v6.4M392.68 1563.7v6.4M394.07 1563.7v6.4M395.75 1563.7v6.4M397.46 1563.7v6.4M397.84 1563.7v6.4M398.05 1563.7v6.4M420.68 1564.98v6.4M426.91 1565.93v6.4M427.96 1565.93v6.4M428.19 1565.93v6.4M428.4 1565.93v6.4M433.46 1566.89v6.4M435.9 1566.89v6.4M444.02 1567.85v6.4M444.8 1567.85v6.4M445.78 1567.85v6.4M448.28 1567.85v6.4M456.62 1567.85v6.4M459.25 1567.85v6.4M462.56 1568.81v6.4M464.67 1568.81v6.4M466.33 1568.81v6.4M467.31 1568.81v6.4M467.99 1568.81v6.4M476.67 1568.81v6.4M478.46 1568.81v6.4M480.29 1569.76v6.4M482.89 1569.76v6.4M483.3 1569.76v6.4M485.63 1569.76v6.4M486.71 1569.76v6.4M487.01 1569.76v6.4M488.04 1569.76v6.4M489.88 1570.72v6.4M493.04 1570.72v6.4M496.63 1570.72v6.4M497.32 1570.72v6.4M499.88 1571.68v6.4M500.51 1571.68v6.4M502.78 1571.68v6.4M503.13 1571.68v6.4M507.58 1572.95v6.4M509.11 1574.23v6.4M509.77 1574.23v6.4M509.78 1574.23v6.4M510.25 1574.23v6.4M513.08 1574.23v6.4M513.47 1574.23v6.4M516.32 1574.23v6.4M517.14 1576.15v6.4M521.73 1576.15v6.4M524.62 1576.15v6.4M525.55 1576.15v6.4M526.43 1576.15v6.4M530.67 1576.15v6.4M530.68 1576.15v6.4M532.04 1576.15v6.4M534.29 1576.15v6.4M534.34 1576.15v6.4M546.03 1576.15v6.4M546.28 1576.15v6.4M546.7 1576.15v6.4M546.87 1576.15v6.4M548.03 1576.15v6.4M549.05 1576.15v6.4M549.98 1576.15v6.4M557.91 1576.15v6.4M558.19 1576.15v6.4M558.31 1576.15v6.4M558.37 1576.15v6.4M558.96 1576.15v6.4M561.28 1576.15v6.4M561.29 1576.15v6.4M562.42 1576.15v6.4M562.96 1576.15v6.4M566.67 1576.15v6.4M568.06 1576.15v6.4M568.35 1576.15v6.4M571.27 1576.15v6.4M575.79 1576.15v6.4M577.51 1576.15v6.4M580.34 1576.15v6.4M581.24 1576.15v6.4M582.01 1576.15v6.4M585.22 1576.15v6.4M588.85 1576.15v6.4M589.2 1576.15v6.4M590.81 1576.15v6.4M594.74 1576.15v6.4M596.44 1576.15v6.4M597.11 1576.15v6.4M598 1576.15v6.4M598.69 1576.15v6.4M598.77 1576.15v6.4M599.17 1576.15v6.4M599.91 1576.15v6.4" stroke="#ee1c25" stroke-width="1.1" fill="none"/>
<path d="M181.28 1562.11v6.4M197.26 1562.11v6.4M209.25 1562.11v6.4M225.24 1566.89v6.4M293.17 1566.89v6.4M333.13 1580.93v6.4M345.12 1584.76v6.4M351.11 1584.76v6.4M372.87 1595.29v6.4M380.65 1595.29v6.4M393.11 1595.29v6.4M394.21 1595.29v6.4M396.6 1595.29v6.4M398.25 1595.29v6.4M404.27 1595.29v6.4M411.88 1595.29v6.4M412.76 1595.29v6.4M415.64 1595.29v6.4M422.33 1595.29v6.4M423.81 1595.29v6.4M426.12 1595.29v6.4M437.52 1595.29v6.4M446.58 1595.29v6.4M450.89 1595.29v6.4M451.92 1595.29v6.4M454.85 1595.29v6.4M455.67 1595.29v6.4M459.7 1595.29v6.4M465.27 1595.29v6.4M465.42 1595.29v6.4M475.17 1595.29v6.4M492.78 1595.29v6.4M501.78 1595.29v6.4M510.02 1595.29v6.4M527.8 1595.29v6.4M529.63 1595.29v6.4M532.74 1595.29v6.4M538.41 1595.29v6.4M540.7 1595.29v6.4M546.88 1595.29v6.4M548.72 1595.29v6.4M549.73 1595.29v6.4M556.98 1595.29v6.4M557.87 1595.29v6.4M560.13 1595.29v6.4M566.23 1595.29v6.4M576.2 1595.29v6.4M587.36 1595.29v6.4" stroke="#27488a" stroke-width="1.1" fill="none"/>
<path d="M405.06 1756.44v6.4" stroke="#f7a21b" stroke-width="1.1" fill="none"/>
<rect x="161.3" y="1558.3" width="439.1" height="320.3" fill="none" stroke="#000" stroke-width="2"/>
<line x1="156.5" y1="1560.2" x2="161.3" y2="1560.2" stroke="#222" stroke-width="1.2"/>
<text x="153.3" y="1568.7" font-size="23.4" text-anchor="end" style="font-weight:bold;">1.00</text>
<line x1="156.5" y1="1639.97" x2="161.3" y2="1639.97" stroke="#222" stroke-width="1.2"/>
<text x="153.3" y="1648.47" font-size="23.4" text-anchor="end" style="font-weight:bold;">0.75</text>
<line x1="156.5" y1="1719.75" x2="161.3" y2="1719.75" stroke="#222" stroke-width="1.2"/>
<text x="153.3" y="1728.25" font-size="23.4" text-anchor="end" style="font-weight:bold;">0.50</text>
<line x1="156.5" y1="1799.52" x2="161.3" y2="1799.52" stroke="#222" stroke-width="1.2"/>
<text x="153.3" y="1808.02" font-size="23.4" text-anchor="end" style="font-weight:bold;">0.25</text>
<line x1="156.5" y1="1879.3" x2="161.3" y2="1879.3" stroke="#222" stroke-width="1.2"/>
<text x="153.3" y="1887.8" font-size="23.4" text-anchor="end" style="font-weight:bold;">0.00</text>
<line x1="161.3" y1="1878.6" x2="161.3" y2="1883.1" stroke="#222" stroke-width="1.2"/>
<text x="161.3" y="1903.6" font-size="23.4" text-anchor="middle" style="font-weight:bold;">0</text>
<line x1="261.2" y1="1878.6" x2="261.2" y2="1883.1" stroke="#222" stroke-width="1.2"/>
<text x="261.2" y="1903.6" font-size="23.4" text-anchor="middle" style="font-weight:bold;">2.5</text>
<line x1="361.1" y1="1878.6" x2="361.1" y2="1883.1" stroke="#222" stroke-width="1.2"/>
<text x="361.1" y="1903.6" font-size="23.4" text-anchor="middle" style="font-weight:bold;">5</text>
<line x1="461" y1="1878.6" x2="461" y2="1883.1" stroke="#222" stroke-width="1.2"/>
<text x="461" y="1903.6" font-size="23.4" text-anchor="middle" style="font-weight:bold;">7.5</text>
<line x1="560.9" y1="1878.6" x2="560.9" y2="1883.1" stroke="#222" stroke-width="1.2"/>
<text x="560.9" y="1903.6" font-size="23.4" text-anchor="middle" style="font-weight:bold;">10</text>
<text x="381.2" y="1940.4" font-size="30.6" text-anchor="middle" style="font-weight:bold;" textLength="185" lengthAdjust="spacingAndGlyphs">Time (Years)</text>
<text x="91.3" y="1718.6" font-size="27.2" text-anchor="middle" transform="rotate(-90 91.3 1718.6)" style="font-weight:bold;" textLength="316" lengthAdjust="spacingAndGlyphs">Metastasis-Free Survival</text>
<line x1="346" y1="1628.6" x2="360.5" y2="1628.6" stroke="#ee1c25" stroke-width="1.8"/>
<line x1="353.2" y1="1625" x2="353.2" y2="1632.2" stroke="#ee1c25" stroke-width="1.2"/>
<text x="369.4" y="1635.3" font-size="18.4" style="font-style:italic;">Both Neutral</text>
<line x1="346" y1="1646.6" x2="360.5" y2="1646.6" stroke="#27488a" stroke-width="1.8"/>
<line x1="353.2" y1="1643" x2="353.2" y2="1650.2" stroke="#27488a" stroke-width="1.2"/>
<text x="369.4" y="1653.3" font-size="18.4" style="font-style:italic;">CCND1 Gain</text>
<line x1="346" y1="1664.6" x2="360.5" y2="1664.6" stroke="#111111" stroke-width="1.8"/>
<line x1="353.2" y1="1661" x2="353.2" y2="1668.2" stroke="#111111" stroke-width="1.2"/>
<text x="369.4" y="1671.3" font-size="18.4" style="font-style:italic;">ZNRF3 Loss</text>
<line x1="346" y1="1682.6" x2="360.5" y2="1682.6" stroke="#f7a21b" stroke-width="1.8"/>
<line x1="353.2" y1="1679" x2="353.2" y2="1686.2" stroke="#f7a21b" stroke-width="1.2"/>
<text x="369.4" y="1689.3" font-size="18.4" style="font-style:italic;">ZNRF3 Loss, CCND1 Gain</text>
<text x="172.3" y="1836.9" font-size="24.3" style="" textLength="101" lengthAdjust="spacingAndGlyphs">P &lt; 2 × 10</text>
<text x="273.4" y="1825.6" font-size="16.5" style="" textLength="27.5" lengthAdjust="spacingAndGlyphs">−16</text>
<text x="172.3" y="1865.3" font-size="24" style="" textLength="146" lengthAdjust="spacingAndGlyphs">(Logrank test)</text>
<rect x="139" y="1992" width="14.2" height="4" fill="#ee1c25"/>
<text x="174.5" y="1999" font-size="13.6" text-anchor="middle" fill="#111" style="">273</text>
<text x="260.1" y="1999" font-size="13.6" text-anchor="middle" fill="#111" style="">261</text>
<text x="360.5" y="1999" font-size="13.6" text-anchor="middle" fill="#111" style="">246</text>
<text x="460.5" y="1999" font-size="13.6" text-anchor="middle" fill="#111" style="">190</text>
<text x="560.9" y="1999" font-size="13.6" text-anchor="middle" fill="#111" style="">106</text>
<rect x="139" y="2019.9" width="14.2" height="4" fill="#27488a"/>
<text x="174.5" y="2026.9" font-size="13.6" text-anchor="middle" fill="#111" style="">72</text>
<text x="260.1" y="2026.9" font-size="13.6" text-anchor="middle" fill="#111" style="">68</text>
<text x="360.5" y="2026.9" font-size="13.6" text-anchor="middle" fill="#111" style="">62</text>
<text x="460.5" y="2026.9" font-size="13.6" text-anchor="middle" fill="#111" style="">31</text>
<text x="560.9" y="2026.9" font-size="13.6" text-anchor="middle" fill="#111" style="">18</text>
<rect x="139" y="2047.8" width="14.2" height="4" fill="#111111"/>
<text x="174.5" y="2054.8" font-size="13.6" text-anchor="middle" fill="#111" style="">23</text>
<text x="260.1" y="2054.8" font-size="13.6" text-anchor="middle" fill="#111" style="">21</text>
<text x="360.5" y="2054.8" font-size="13.6" text-anchor="middle" fill="#111" style="">20</text>
<text x="460.5" y="2054.8" font-size="13.6" text-anchor="middle" fill="#111" style="">19</text>
<text x="560.9" y="2054.8" font-size="13.6" text-anchor="middle" fill="#111" style="">11</text>
<rect x="139" y="2075.7" width="14.2" height="4" fill="#f7a21b"/>
<text x="174.5" y="2082.7" font-size="13.6" text-anchor="middle" fill="#111" style="">8</text>
<text x="260.1" y="2082.7" font-size="13.6" text-anchor="middle" fill="#111" style="">8</text>
<text x="360.5" y="2082.7" font-size="13.6" text-anchor="middle" fill="#111" style="">4</text>
<text x="460.5" y="2082.7" font-size="13.6" text-anchor="middle" fill="#111" style="">1</text>
<text x="560.9" y="2082.7" font-size="13.6" text-anchor="middle" fill="#111" style="">1</text>
<text x="703.9" y="1056" font-size="31.5" style="font-weight:bold;">D</text>
<rect x="754.6" y="1056.1" width="925.9" height="471.25" fill="#fff"/>
<rect x="754.6" y="1094.5" width="925.9" height="39.35" fill="#ebebeb"/>
<rect x="754.6" y="1173.2" width="925.9" height="39.35" fill="#ebebeb"/>
<rect x="754.6" y="1251.9" width="925.9" height="39.35" fill="#ebebeb"/>
<rect x="754.6" y="1330.6" width="925.9" height="39.35" fill="#ebebeb"/>
<rect x="754.6" y="1409.3" width="925.9" height="39.35" fill="#ebebeb"/>
<rect x="754.6" y="1488" width="925.9" height="39.35" fill="#ebebeb"/>
<rect x="754.6" y="1056.1" width="925.9" height="471.25" fill="none" stroke="#c8c8c8" stroke-width="1.2"/>
<line x1="754.6" y1="1094.5" x2="1680.5" y2="1094.5" stroke="#777" stroke-width="1.4"/>
<line x1="894" y1="1056.1" x2="894" y2="1527.35" stroke="#666" stroke-width="1.2"/>
<line x1="1008.3" y1="1056.1" x2="1008.3" y2="1527.35" stroke="#666" stroke-width="1.2"/>
<line x1="1070.6" y1="1056.1" x2="1070.6" y2="1527.35" stroke="#666" stroke-width="1.2"/>
<line x1="1282.2" y1="1056.1" x2="1282.2" y2="1527.35" stroke="#666" stroke-width="1.2"/>
<line x1="1554.5" y1="1056.1" x2="1554.5" y2="1527.35" stroke="#666" stroke-width="1.2"/>
<text x="824.8" y="1082.8" font-size="21.3" text-anchor="middle" style="font-weight:bold;">Variable</text>
<text x="951" y="1082.8" font-size="21.3" text-anchor="middle" style="font-weight:bold;">Level</text>
<text x="1039.2" y="1082.8" font-size="21.3" text-anchor="middle" style="font-weight:bold;">N</text>
<text x="1176.3" y="1082.8" font-size="21.3" text-anchor="middle" style="font-weight:bold;">Hazard Ratio</text>
<text x="1418.6" y="1082.8" font-size="21.3" text-anchor="middle" style="font-weight:bold;">HR (95% CI)</text>
<text x="1616.6" y="1082.8" font-size="21.3" text-anchor="middle" style="font-weight:bold;">p-value</text>
<line x1="1114.1" y1="1094.5" x2="1114.1" y2="1527.35" stroke="#555" stroke-width="0.9" stroke-dasharray="3,2.5"/>
<text x="824.8" y="1122.3" font-size="21.3" text-anchor="middle" style="font-weight:bold;">CCP</text>
<text x="1039.2" y="1122.3" font-size="21.3" text-anchor="middle" style="">208</text>
<text x="1418.6" y="1122.3" font-size="21.3" text-anchor="middle" style="">1.56 (0.99, 2.45)</text>
<text x="1616.6" y="1122.3" font-size="21.3" text-anchor="middle" style="font-style:italic;">0.05</text>
<line x1="1113.71" y1="1114.17" x2="1148.46" y2="1114.17" stroke="#333" stroke-width="0.9"/>
<line x1="1113.71" y1="1111.67" x2="1113.71" y2="1116.67" stroke="#333" stroke-width="0.9"/>
<line x1="1148.46" y1="1111.67" x2="1148.46" y2="1116.67" stroke="#333" stroke-width="0.9"/>
<rect x="1127.55" y="1110.58" width="7.2" height="7.2" fill="#000"/>
<text x="824.8" y="1161.65" font-size="21.3" text-anchor="middle" style="font-weight:bold;">ZNRF3</text>
<text x="951" y="1161.65" font-size="21.3" text-anchor="middle" style="font-style:italic;">Neutral</text>
<text x="1039.2" y="1161.65" font-size="21.3" text-anchor="middle" style="">194</text>
<text x="1418.6" y="1161.65" font-size="21.3" text-anchor="middle" style="">Reference</text>
<rect x="1110.5" y="1149.92" width="7.2" height="7.2" fill="#000"/>
<text x="951" y="1201" font-size="21.3" text-anchor="middle" style="font-style:italic;">Loss</text>
<text x="1039.2" y="1201" font-size="21.3" text-anchor="middle" style="">14</text>
<text x="1418.6" y="1201" font-size="21.3" text-anchor="middle" style="">4.22 (1.07, 16.67)</text>
<text x="1616.6" y="1201" font-size="21.3" text-anchor="middle" style="font-style:italic;">0.04</text>
<line x1="1116.69" y1="1192.88" x2="1222" y2="1192.88" stroke="#333" stroke-width="0.9"/>
<line x1="1116.69" y1="1190.38" x2="1116.69" y2="1195.38" stroke="#333" stroke-width="0.9"/>
<line x1="1222" y1="1190.38" x2="1222" y2="1195.38" stroke="#333" stroke-width="0.9"/>
<rect x="1165.72" y="1189.28" width="7.2" height="7.2" fill="#000"/>
<text x="824.8" y="1240.35" font-size="21.3" text-anchor="middle" style="font-weight:bold;">ISUP</text>
<text x="951" y="1240.35" font-size="21.3" text-anchor="middle" style="font-style:italic;">1</text>
<text x="1039.2" y="1240.35" font-size="21.3" text-anchor="middle" style="">28</text>
<text x="1418.6" y="1240.35" font-size="21.3" text-anchor="middle" style="">Reference</text>
<rect x="1110.5" y="1228.62" width="7.2" height="7.2" fill="#000"/>
<text x="951" y="1279.7" font-size="21.3" text-anchor="middle" style="font-style:italic;">2</text>
<text x="1039.2" y="1279.7" font-size="21.3" text-anchor="middle" style="">133</text>
<text x="1418.6" y="1279.7" font-size="21.3" text-anchor="middle" style="">3.22 (0.35, 29.57)</text>
<text x="1616.6" y="1279.7" font-size="21.3" text-anchor="middle" style="font-style:italic;">0.30</text>
<line x1="1073.84" y1="1271.58" x2="1243.98" y2="1271.58" stroke="#333" stroke-width="0.9"/>
<line x1="1073.84" y1="1269.08" x2="1073.84" y2="1274.08" stroke="#333" stroke-width="0.9"/>
<line x1="1243.98" y1="1269.08" x2="1243.98" y2="1274.08" stroke="#333" stroke-width="0.9"/>
<rect x="1155.34" y="1267.98" width="7.2" height="7.2" fill="#000"/>
<text x="951" y="1319.05" font-size="21.3" text-anchor="middle">≥ <tspan style="font-style:italic">3</tspan></text>
<text x="1039.2" y="1319.05" font-size="21.3" text-anchor="middle" style="">47</text>
<text x="1418.6" y="1319.05" font-size="21.3" text-anchor="middle" style="">7.16 (0.71, 72.25)</text>
<text x="1616.6" y="1319.05" font-size="21.3" text-anchor="middle" style="font-style:italic;">0.09</text>
<line x1="1100.97" y1="1310.92" x2="1278.24" y2="1310.92" stroke="#333" stroke-width="0.9"/>
<line x1="1100.97" y1="1308.42" x2="1100.97" y2="1313.42" stroke="#333" stroke-width="0.9"/>
<line x1="1278.24" y1="1308.42" x2="1278.24" y2="1313.42" stroke="#333" stroke-width="0.9"/>
<rect x="1185.99" y="1307.33" width="7.2" height="7.2" fill="#000"/>
<text x="824.8" y="1358.4" font-size="21.3" text-anchor="middle" style="font-weight:bold;">PSA</text>
<text x="1039.2" y="1358.4" font-size="21.3" text-anchor="middle" style="">208</text>
<text x="1418.6" y="1358.4" font-size="21.3" text-anchor="middle" style="">1.06 (0.95, 1.19)</text>
<text x="1616.6" y="1358.4" font-size="21.3" text-anchor="middle" style="font-style:italic;">0.28</text>
<line x1="1112.13" y1="1350.27" x2="1120.77" y2="1350.27" stroke="#333" stroke-width="0.9"/>
<line x1="1112.13" y1="1347.77" x2="1112.13" y2="1352.77" stroke="#333" stroke-width="0.9"/>
<line x1="1120.77" y1="1347.77" x2="1120.77" y2="1352.77" stroke="#333" stroke-width="0.9"/>
<rect x="1112.73" y="1346.67" width="7.2" height="7.2" fill="#000"/>
<text x="824.8" y="1397.75" font-size="21.3" text-anchor="middle" style="font-weight:bold;">TCat</text>
<text x="951" y="1397.75" font-size="21.3" text-anchor="middle" style="font-style:italic;">cT1</text>
<text x="1039.2" y="1397.75" font-size="21.3" text-anchor="middle" style="">114</text>
<text x="1418.6" y="1397.75" font-size="21.3" text-anchor="middle" style="">Reference</text>
<rect x="1110.5" y="1386.03" width="7.2" height="7.2" fill="#000"/>
<text x="951" y="1437.1" font-size="21.3" text-anchor="middle" style="font-style:italic;">cT2a/b</text>
<text x="1039.2" y="1437.1" font-size="21.3" text-anchor="middle" style="">89</text>
<text x="1418.6" y="1437.1" font-size="21.3" text-anchor="middle" style="">1.71 (0.54, 5.43)</text>
<text x="1616.6" y="1437.1" font-size="21.3" text-anchor="middle" style="font-style:italic;">0.36</text>
<line x1="1090.47" y1="1428.97" x2="1178.98" y2="1428.97" stroke="#333" stroke-width="0.9"/>
<line x1="1090.47" y1="1426.47" x2="1090.47" y2="1431.47" stroke="#333" stroke-width="0.9"/>
<line x1="1178.98" y1="1426.47" x2="1178.98" y2="1431.47" stroke="#333" stroke-width="0.9"/>
<rect x="1131.07" y="1425.38" width="7.2" height="7.2" fill="#000"/>
<text x="951" y="1476.45" font-size="21.3" text-anchor="middle" style="font-style:italic;">cT2c</text>
<text x="1039.2" y="1476.45" font-size="21.3" text-anchor="middle" style="">5</text>
<text x="1418.6" y="1476.45" font-size="21.3" text-anchor="middle" style="">7.22 (0.77, 67.57)</text>
<text x="1616.6" y="1476.45" font-size="21.3" text-anchor="middle" style="font-style:italic;">0.08</text>
<line x1="1104.08" y1="1468.33" x2="1275.67" y2="1468.33" stroke="#333" stroke-width="0.9"/>
<line x1="1104.08" y1="1465.83" x2="1104.08" y2="1470.83" stroke="#333" stroke-width="0.9"/>
<line x1="1275.67" y1="1465.83" x2="1275.67" y2="1470.83" stroke="#333" stroke-width="0.9"/>
<rect x="1186.31" y="1464.73" width="7.2" height="7.2" fill="#000"/>
<text x="824.8" y="1515.8" font-size="21.3" text-anchor="middle" style="font-weight:bold;">PGA</text>
<text x="1039.2" y="1515.8" font-size="21.3" text-anchor="middle" style="">208</text>
<text x="1418.6" y="1515.8" font-size="21.3" text-anchor="middle" style="">1.09 (1.02, 1.16)</text>
<text x="1616.6" y="1515.8" font-size="21.3" text-anchor="middle" style="font-style:italic;">0.01</text>
<line x1="1114.86" y1="1507.67" x2="1119.79" y2="1507.67" stroke="#333" stroke-width="0.9"/>
<line x1="1114.86" y1="1505.17" x2="1114.86" y2="1510.17" stroke="#333" stroke-width="0.9"/>
<line x1="1119.79" y1="1505.17" x2="1119.79" y2="1510.17" stroke="#333" stroke-width="0.9"/>
<rect x="1113.8" y="1504.08" width="7.2" height="7.2" fill="#000"/>
<text x="1092.72" y="1531.6" font-size="14.5" text-anchor="end" fill="#222" transform="rotate(-90 1092.72 1531.6)" style="font-weight:bold;">0.5</text>
<line x1="1087.52" y1="1527.35" x2="1087.52" y2="1530.35" stroke="#aaa" stroke-width="0.9"/>
<text x="1119.3" y="1531.6" font-size="14.5" text-anchor="end" fill="#222" transform="rotate(-90 1119.3 1531.6)" style="font-weight:bold;">1</text>
<line x1="1114.1" y1="1527.35" x2="1114.1" y2="1530.35" stroke="#aaa" stroke-width="0.9"/>
<text x="1145.88" y="1531.6" font-size="14.5" text-anchor="end" fill="#222" transform="rotate(-90 1145.88 1531.6)" style="font-weight:bold;">2</text>
<line x1="1140.68" y1="1527.35" x2="1140.68" y2="1530.35" stroke="#aaa" stroke-width="0.9"/>
<text x="1181.02" y="1531.6" font-size="14.5" text-anchor="end" fill="#222" transform="rotate(-90 1181.02 1531.6)" style="font-weight:bold;">5</text>
<line x1="1175.82" y1="1527.35" x2="1175.82" y2="1530.35" stroke="#aaa" stroke-width="0.9"/>
<text x="1207.6" y="1531.6" font-size="14.5" text-anchor="end" fill="#222" transform="rotate(-90 1207.6 1531.6)" style="font-weight:bold;">10</text>
<line x1="1202.4" y1="1527.35" x2="1202.4" y2="1530.35" stroke="#aaa" stroke-width="0.9"/>
<text x="1234.18" y="1531.6" font-size="14.5" text-anchor="end" fill="#222" transform="rotate(-90 1234.18 1531.6)" style="font-weight:bold;">20</text>
<line x1="1228.98" y1="1527.35" x2="1228.98" y2="1530.35" stroke="#aaa" stroke-width="0.9"/>
<text x="1269.32" y="1531.6" font-size="14.5" text-anchor="end" fill="#222" transform="rotate(-90 1269.32 1531.6)" style="font-weight:bold;">50</text>
<line x1="1264.12" y1="1527.35" x2="1264.12" y2="1530.35" stroke="#aaa" stroke-width="0.9"/>
<rect x="743.2" y="1040.7" width="944.8" height="527" fill="none" stroke="#000" stroke-width="3.7"/>
<text x="702.3" y="1668.2" font-size="31.6" style="font-weight:bold;">E</text>
<rect x="747.7" y="1659" width="409" height="488.7" fill="#fff"/>
<line x1="811.6" y1="1659" x2="811.6" y2="2147.7" stroke="#f2f2f2" stroke-width="0.8"/>
<line x1="904.8" y1="1659" x2="904.8" y2="2147.7" stroke="#f2f2f2" stroke-width="0.8"/>
<line x1="998" y1="1659" x2="998" y2="2147.7" stroke="#f2f2f2" stroke-width="0.8"/>
<line x1="1091.2" y1="1659" x2="1091.2" y2="2147.7" stroke="#f2f2f2" stroke-width="0.8"/>
<line x1="747.7" y1="2048.5" x2="1156.7" y2="2048.5" stroke="#f2f2f2" stroke-width="0.8"/>
<line x1="747.7" y1="1892.1" x2="1156.7" y2="1892.1" stroke="#f2f2f2" stroke-width="0.8"/>
<line x1="747.7" y1="1735.7" x2="1156.7" y2="1735.7" stroke="#f2f2f2" stroke-width="0.8"/>
<line x1="765" y1="1659" x2="765" y2="2147.7" stroke="#e6e6e6" stroke-width="1.2"/>
<line x1="858.2" y1="1659" x2="858.2" y2="2147.7" stroke="#e6e6e6" stroke-width="1.2"/>
<line x1="951.4" y1="1659" x2="951.4" y2="2147.7" stroke="#e6e6e6" stroke-width="1.2"/>
<line x1="1044.6" y1="1659" x2="1044.6" y2="2147.7" stroke="#e6e6e6" stroke-width="1.2"/>
<line x1="1137.8" y1="1659" x2="1137.8" y2="2147.7" stroke="#e6e6e6" stroke-width="1.2"/>
<line x1="747.7" y1="2126.7" x2="1156.7" y2="2126.7" stroke="#e6e6e6" stroke-width="1.2"/>
<line x1="747.7" y1="1970.3" x2="1156.7" y2="1970.3" stroke="#e6e6e6" stroke-width="1.2"/>
<line x1="747.7" y1="1813.9" x2="1156.7" y2="1813.9" stroke="#e6e6e6" stroke-width="1.2"/>
<polygon points="765,2126.7 794.82,2121.7 817.19,2112.62 832.1,2105.59 847.02,2099.33 858.2,2093.07 861.93,2079.78 858.2,2064.14 850.74,2032.86 843.29,2001.58 835.83,1970.3 820.92,1944.49 789.23,1940.58 782.71,1965.61 779.91,2001.58 776.74,2048.5 772.46,2086.04 766.49,2115.75" fill="#d3d3d3"/>
<path d="M848.18 1994.48a3 3 0 1 0 6 0a3 3 0 1 0 -6 0M871.1 2016.26a3 3 0 1 0 6 0a3 3 0 1 0 -6 0M878.49 1999.95a3 3 0 1 0 6 0a3 3 0 1 0 -6 0M859.62 2007.77a3 3 0 1 0 6 0a3 3 0 1 0 -6 0M870.3 1986.39a3 3 0 1 0 6 0a3 3 0 1 0 -6 0M864.72 1938.94a3 3 0 1 0 6 0a3 3 0 1 0 -6 0M854.44 2010.17a3 3 0 1 0 6 0a3 3 0 1 0 -6 0M842.49 1958.03a3 3 0 1 0 6 0a3 3 0 1 0 -6 0M859.69 2065.03a3 3 0 1 0 6 0a3 3 0 1 0 -6 0M859.74 1983.08a3 3 0 1 0 6 0a3 3 0 1 0 -6 0M852.82 2046.54a3 3 0 1 0 6 0a3 3 0 1 0 -6 0M888.51 1942.45a3 3 0 1 0 6 0a3 3 0 1 0 -6 0M871.37 1996.43a3 3 0 1 0 6 0a3 3 0 1 0 -6 0M874.01 1986.45a3 3 0 1 0 6 0a3 3 0 1 0 -6 0M851.28 1990.09a3 3 0 1 0 6 0a3 3 0 1 0 -6 0M849.91 1946.28a3 3 0 1 0 6 0a3 3 0 1 0 -6 0M857.18 2028.42a3 3 0 1 0 6 0a3 3 0 1 0 -6 0M870.51 1976.55a3 3 0 1 0 6 0a3 3 0 1 0 -6 0M863.65 1950.07a3 3 0 1 0 6 0a3 3 0 1 0 -6 0M853.26 1967.77a3 3 0 1 0 6 0a3 3 0 1 0 -6 0M880.92 1994.2a3 3 0 1 0 6 0a3 3 0 1 0 -6 0M868.84 1991.02a3 3 0 1 0 6 0a3 3 0 1 0 -6 0M859.7 2024.99a3 3 0 1 0 6 0a3 3 0 1 0 -6 0M876.28 1987.4a3 3 0 1 0 6 0a3 3 0 1 0 -6 0M864.82 2032.9a3 3 0 1 0 6 0a3 3 0 1 0 -6 0M846.68 1988.61a3 3 0 1 0 6 0a3 3 0 1 0 -6 0M874.21 2055.38a3 3 0 1 0 6 0a3 3 0 1 0 -6 0M896.58 1940.16a3 3 0 1 0 6 0a3 3 0 1 0 -6 0M895.66 1951.52a3 3 0 1 0 6 0a3 3 0 1 0 -6 0M841.05 1956.85a3 3 0 1 0 6 0a3 3 0 1 0 -6 0M864.29 2024.71a3 3 0 1 0 6 0a3 3 0 1 0 -6 0M861.15 2072.78a3 3 0 1 0 6 0a3 3 0 1 0 -6 0M888.08 1936.09a3 3 0 1 0 6 0a3 3 0 1 0 -6 0M843.2 1982.46a3 3 0 1 0 6 0a3 3 0 1 0 -6 0M823.83 1945.79a3 3 0 1 0 6 0a3 3 0 1 0 -6 0M854.75 1938.61a3 3 0 1 0 6 0a3 3 0 1 0 -6 0M870.64 2005.19a3 3 0 1 0 6 0a3 3 0 1 0 -6 0M882.02 1994.7a3 3 0 1 0 6 0a3 3 0 1 0 -6 0M883.19 1943.05a3 3 0 1 0 6 0a3 3 0 1 0 -6 0M817.26 1943.63a3 3 0 1 0 6 0a3 3 0 1 0 -6 0M864.47 2071.28a3 3 0 1 0 6 0a3 3 0 1 0 -6 0M789.46 1938a3 3 0 1 0 6 0a3 3 0 1 0 -6 0M844.85 1947.93a3 3 0 1 0 6 0a3 3 0 1 0 -6 0M878.57 2002.6a3 3 0 1 0 6 0a3 3 0 1 0 -6 0M890.2 1945.41a3 3 0 1 0 6 0a3 3 0 1 0 -6 0M883.79 1950.32a3 3 0 1 0 6 0a3 3 0 1 0 -6 0M838.83 1954.33a3 3 0 1 0 6 0a3 3 0 1 0 -6 0M840.63 1983.22a3 3 0 1 0 6 0a3 3 0 1 0 -6 0M861.92 2013.17a3 3 0 1 0 6 0a3 3 0 1 0 -6 0M868.17 1955.72a3 3 0 1 0 6 0a3 3 0 1 0 -6 0M881.31 1999.91a3 3 0 1 0 6 0a3 3 0 1 0 -6 0M867.31 2038.86a3 3 0 1 0 6 0a3 3 0 1 0 -6 0M869.94 2004.49a3 3 0 1 0 6 0a3 3 0 1 0 -6 0M853.24 1995.5a3 3 0 1 0 6 0a3 3 0 1 0 -6 0M902.62 1937.85a3 3 0 1 0 6 0a3 3 0 1 0 -6 0M866.3 2076.04a3 3 0 1 0 6 0a3 3 0 1 0 -6 0M874.79 1994.46a3 3 0 1 0 6 0a3 3 0 1 0 -6 0M857.31 2040.09a3 3 0 1 0 6 0a3 3 0 1 0 -6 0M891.79 1949.27a3 3 0 1 0 6 0a3 3 0 1 0 -6 0M862.86 2085.59a3 3 0 1 0 6 0a3 3 0 1 0 -6 0M874.57 2003.53a3 3 0 1 0 6 0a3 3 0 1 0 -6 0M855.45 1982.61a3 3 0 1 0 6 0a3 3 0 1 0 -6 0M857.03 1972.31a3 3 0 1 0 6 0a3 3 0 1 0 -6 0M873.81 1944.4a3 3 0 1 0 6 0a3 3 0 1 0 -6 0M843.59 1962.77a3 3 0 1 0 6 0a3 3 0 1 0 -6 0M888.84 2009.43a3 3 0 1 0 6 0a3 3 0 1 0 -6 0M814.36 1937.12a3 3 0 1 0 6 0a3 3 0 1 0 -6 0M871.57 2064.69a3 3 0 1 0 6 0a3 3 0 1 0 -6 0M851.72 1957.01a3 3 0 1 0 6 0a3 3 0 1 0 -6 0M870.05 2062.54a3 3 0 1 0 6 0a3 3 0 1 0 -6 0M878.87 1958.6a3 3 0 1 0 6 0a3 3 0 1 0 -6 0M876.02 1969.15a3 3 0 1 0 6 0a3 3 0 1 0 -6 0M794.08 1937.71a3 3 0 1 0 6 0a3 3 0 1 0 -6 0M847.83 1952.6a3 3 0 1 0 6 0a3 3 0 1 0 -6 0M839.09 1977.16a3 3 0 1 0 6 0a3 3 0 1 0 -6 0M835.15 1969.29a3 3 0 1 0 6 0a3 3 0 1 0 -6 0M871.11 1975.73a3 3 0 1 0 6 0a3 3 0 1 0 -6 0M840.64 1990.95a3 3 0 1 0 6 0a3 3 0 1 0 -6 0M856.76 2047.13a3 3 0 1 0 6 0a3 3 0 1 0 -6 0M864.94 2020.42a3 3 0 1 0 6 0a3 3 0 1 0 -6 0M860.73 2035.93a3 3 0 1 0 6 0a3 3 0 1 0 -6 0M866.59 2015.85a3 3 0 1 0 6 0a3 3 0 1 0 -6 0M872.62 2014.38a3 3 0 1 0 6 0a3 3 0 1 0 -6 0M866.82 1967.21a3 3 0 1 0 6 0a3 3 0 1 0 -6 0M860.08 1942.3a3 3 0 1 0 6 0a3 3 0 1 0 -6 0M864.78 2051.52a3 3 0 1 0 6 0a3 3 0 1 0 -6 0M863.18 1991.73a3 3 0 1 0 6 0a3 3 0 1 0 -6 0M875.22 1944.75a3 3 0 1 0 6 0a3 3 0 1 0 -6 0M804.48 1942.15a3 3 0 1 0 6 0a3 3 0 1 0 -6 0M856.27 1968.76a3 3 0 1 0 6 0a3 3 0 1 0 -6 0M871.95 1980.52a3 3 0 1 0 6 0a3 3 0 1 0 -6 0M847.41 1948.92a3 3 0 1 0 6 0a3 3 0 1 0 -6 0M869.46 1939.34a3 3 0 1 0 6 0a3 3 0 1 0 -6 0M853.09 1969.16a3 3 0 1 0 6 0a3 3 0 1 0 -6 0M849.3 1947.49a3 3 0 1 0 6 0a3 3 0 1 0 -6 0M845.7 1962.6a3 3 0 1 0 6 0a3 3 0 1 0 -6 0M899.66 1945.92a3 3 0 1 0 6 0a3 3 0 1 0 -6 0M869.21 2058.93a3 3 0 1 0 6 0a3 3 0 1 0 -6 0M869.11 1946.77a3 3 0 1 0 6 0a3 3 0 1 0 -6 0M880.41 1995.36a3 3 0 1 0 6 0a3 3 0 1 0 -6 0M878.71 2030.24a3 3 0 1 0 6 0a3 3 0 1 0 -6 0M873.32 2035.75a3 3 0 1 0 6 0a3 3 0 1 0 -6 0M882.16 2019.75a3 3 0 1 0 6 0a3 3 0 1 0 -6 0M905.08 1942.78a3 3 0 1 0 6 0a3 3 0 1 0 -6 0M848.39 2025.58a3 3 0 1 0 6 0a3 3 0 1 0 -6 0M866.33 2084.37a3 3 0 1 0 6 0a3 3 0 1 0 -6 0M865.12 1972.48a3 3 0 1 0 6 0a3 3 0 1 0 -6 0M844.53 1952.04a3 3 0 1 0 6 0a3 3 0 1 0 -6 0M877.73 1951.77a3 3 0 1 0 6 0a3 3 0 1 0 -6 0M903.13 1937.5a3 3 0 1 0 6 0a3 3 0 1 0 -6 0M861.19 2086.27a3 3 0 1 0 6 0a3 3 0 1 0 -6 0M866.64 2062.75a3 3 0 1 0 6 0a3 3 0 1 0 -6 0M887.28 1939.17a3 3 0 1 0 6 0a3 3 0 1 0 -6 0M887.72 2003.42a3 3 0 1 0 6 0a3 3 0 1 0 -6 0M829.12 1937.44a3 3 0 1 0 6 0a3 3 0 1 0 -6 0M858.03 2024.76a3 3 0 1 0 6 0a3 3 0 1 0 -6 0M874.02 2007.57a3 3 0 1 0 6 0a3 3 0 1 0 -6 0M855.61 2054.25a3 3 0 1 0 6 0a3 3 0 1 0 -6 0M852.68 1963.63a3 3 0 1 0 6 0a3 3 0 1 0 -6 0M846.22 1950.73a3 3 0 1 0 6 0a3 3 0 1 0 -6 0M897.25 1938.66a3 3 0 1 0 6 0a3 3 0 1 0 -6 0M872.55 2066.84a3 3 0 1 0 6 0a3 3 0 1 0 -6 0M888.32 2001.6a3 3 0 1 0 6 0a3 3 0 1 0 -6 0M890.06 1937.85a3 3 0 1 0 6 0a3 3 0 1 0 -6 0M851.46 1998.51a3 3 0 1 0 6 0a3 3 0 1 0 -6 0M864.65 1968.91a3 3 0 1 0 6 0a3 3 0 1 0 -6 0M899.31 1947.1a3 3 0 1 0 6 0a3 3 0 1 0 -6 0M868.38 1955.41a3 3 0 1 0 6 0a3 3 0 1 0 -6 0M853.74 1977.63a3 3 0 1 0 6 0a3 3 0 1 0 -6 0M851.47 1951.12a3 3 0 1 0 6 0a3 3 0 1 0 -6 0M831.73 1964.17a3 3 0 1 0 6 0a3 3 0 1 0 -6 0M854.99 1985.38a3 3 0 1 0 6 0a3 3 0 1 0 -6 0M859.58 1949.66a3 3 0 1 0 6 0a3 3 0 1 0 -6 0M868.11 2077.34a3 3 0 1 0 6 0a3 3 0 1 0 -6 0M884.1 1996.35a3 3 0 1 0 6 0a3 3 0 1 0 -6 0M870.72 1974.5a3 3 0 1 0 6 0a3 3 0 1 0 -6 0M839.87 1981.51a3 3 0 1 0 6 0a3 3 0 1 0 -6 0M883.25 2004.69a3 3 0 1 0 6 0a3 3 0 1 0 -6 0M830.02 1935.45a3 3 0 1 0 6 0a3 3 0 1 0 -6 0M849.26 2034.67a3 3 0 1 0 6 0a3 3 0 1 0 -6 0M860.16 1950.64a3 3 0 1 0 6 0a3 3 0 1 0 -6 0M791.29 1938.28a3 3 0 1 0 6 0a3 3 0 1 0 -6 0M853.47 2001.77a3 3 0 1 0 6 0a3 3 0 1 0 -6 0M853.24 2027.64a3 3 0 1 0 6 0a3 3 0 1 0 -6 0M858.17 2076.07a3 3 0 1 0 6 0a3 3 0 1 0 -6 0M823.83 1937.68a3 3 0 1 0 6 0a3 3 0 1 0 -6 0M859.16 1966.54a3 3 0 1 0 6 0a3 3 0 1 0 -6 0M870.22 2043.26a3 3 0 1 0 6 0a3 3 0 1 0 -6 0M855.24 2030.71a3 3 0 1 0 6 0a3 3 0 1 0 -6 0M866.35 2020.72a3 3 0 1 0 6 0a3 3 0 1 0 -6 0M836.05 1959.77a3 3 0 1 0 6 0a3 3 0 1 0 -6 0M859.94 2070.65a3 3 0 1 0 6 0a3 3 0 1 0 -6 0M871.03 1969.68a3 3 0 1 0 6 0a3 3 0 1 0 -6 0M873.78 2051.45a3 3 0 1 0 6 0a3 3 0 1 0 -6 0M803.38 1942.6a3 3 0 1 0 6 0a3 3 0 1 0 -6 0M793.85 1939.47a3 3 0 1 0 6 0a3 3 0 1 0 -6 0M844.09 2000.47a3 3 0 1 0 6 0a3 3 0 1 0 -6 0M879.01 1995.02a3 3 0 1 0 6 0a3 3 0 1 0 -6 0M853.18 1949.73a3 3 0 1 0 6 0a3 3 0 1 0 -6 0M840.33 1943.65a3 3 0 1 0 6 0a3 3 0 1 0 -6 0M833.64 1952.26a3 3 0 1 0 6 0a3 3 0 1 0 -6 0M862.71 1998.81a3 3 0 1 0 6 0a3 3 0 1 0 -6 0M857.11 1967.29a3 3 0 1 0 6 0a3 3 0 1 0 -6 0M874.25 2069.93a3 3 0 1 0 6 0a3 3 0 1 0 -6 0M854.78 2061.52a3 3 0 1 0 6 0a3 3 0 1 0 -6 0M862.28 1969.91a3 3 0 1 0 6 0a3 3 0 1 0 -6 0M862.51 2072.07a3 3 0 1 0 6 0a3 3 0 1 0 -6 0M873.6 1944.25a3 3 0 1 0 6 0a3 3 0 1 0 -6 0M885.56 2015.84a3 3 0 1 0 6 0a3 3 0 1 0 -6 0M849.27 1988.98a3 3 0 1 0 6 0a3 3 0 1 0 -6 0M878.25 1977.2a3 3 0 1 0 6 0a3 3 0 1 0 -6 0M865.44 1961.1a3 3 0 1 0 6 0a3 3 0 1 0 -6 0M837.66 1953.02a3 3 0 1 0 6 0a3 3 0 1 0 -6 0M853.17 2027.57a3 3 0 1 0 6 0a3 3 0 1 0 -6 0M843.87 1997.3a3 3 0 1 0 6 0a3 3 0 1 0 -6 0M852.74 1939.58a3 3 0 1 0 6 0a3 3 0 1 0 -6 0M823.44 1941.23a3 3 0 1 0 6 0a3 3 0 1 0 -6 0M853.78 1945.91a3 3 0 1 0 6 0a3 3 0 1 0 -6 0M857 2014.29a3 3 0 1 0 6 0a3 3 0 1 0 -6 0M868.09 1975.55a3 3 0 1 0 6 0a3 3 0 1 0 -6 0M786.76 1937.66a3 3 0 1 0 6 0a3 3 0 1 0 -6 0M897.76 1949.36a3 3 0 1 0 6 0a3 3 0 1 0 -6 0M884.64 1998.98a3 3 0 1 0 6 0a3 3 0 1 0 -6 0M870.45 2030.16a3 3 0 1 0 6 0a3 3 0 1 0 -6 0M873.04 1937.47a3 3 0 1 0 6 0a3 3 0 1 0 -6 0M860.62 1979.17a3 3 0 1 0 6 0a3 3 0 1 0 -6 0M869.52 1977.43a3 3 0 1 0 6 0a3 3 0 1 0 -6 0M843.28 1975.37a3 3 0 1 0 6 0a3 3 0 1 0 -6 0M859.02 2090.61a3 3 0 1 0 6 0a3 3 0 1 0 -6 0M868 2058.2a3 3 0 1 0 6 0a3 3 0 1 0 -6 0M853.46 2042.38a3 3 0 1 0 6 0a3 3 0 1 0 -6 0M879.89 2008.92a3 3 0 1 0 6 0a3 3 0 1 0 -6 0M843.83 1955.18a3 3 0 1 0 6 0a3 3 0 1 0 -6 0M861.83 2031.4a3 3 0 1 0 6 0a3 3 0 1 0 -6 0M846.41 2018.09a3 3 0 1 0 6 0a3 3 0 1 0 -6 0M871.89 1956.96a3 3 0 1 0 6 0a3 3 0 1 0 -6 0M843.41 1990.38a3 3 0 1 0 6 0a3 3 0 1 0 -6 0M860.68 1974.31a3 3 0 1 0 6 0a3 3 0 1 0 -6 0M884.24 2012.72a3 3 0 1 0 6 0a3 3 0 1 0 -6 0M849.12 1944.96a3 3 0 1 0 6 0a3 3 0 1 0 -6 0M866.96 2010.56a3 3 0 1 0 6 0a3 3 0 1 0 -6 0M871.87 1988.36a3 3 0 1 0 6 0a3 3 0 1 0 -6 0M889.54 2007.7a3 3 0 1 0 6 0a3 3 0 1 0 -6 0M867.7 2027.87a3 3 0 1 0 6 0a3 3 0 1 0 -6 0M848.61 1989.12a3 3 0 1 0 6 0a3 3 0 1 0 -6 0M803.55 1935.84a3 3 0 1 0 6 0a3 3 0 1 0 -6 0M871.89 2011.45a3 3 0 1 0 6 0a3 3 0 1 0 -6 0M832.36 1956.83a3 3 0 1 0 6 0a3 3 0 1 0 -6 0M864.26 2042.41a3 3 0 1 0 6 0a3 3 0 1 0 -6 0M849.17 1987.44a3 3 0 1 0 6 0a3 3 0 1 0 -6 0M853.52 2012.73a3 3 0 1 0 6 0a3 3 0 1 0 -6 0M872.37 1958.27a3 3 0 1 0 6 0a3 3 0 1 0 -6 0M900.79 1936.56a3 3 0 1 0 6 0a3 3 0 1 0 -6 0M874.7 1944.13a3 3 0 1 0 6 0a3 3 0 1 0 -6 0M846.16 1944.07a3 3 0 1 0 6 0a3 3 0 1 0 -6 0M855.27 2013.45a3 3 0 1 0 6 0a3 3 0 1 0 -6 0M842.75 1951.13a3 3 0 1 0 6 0a3 3 0 1 0 -6 0M859.1 1969.11a3 3 0 1 0 6 0a3 3 0 1 0 -6 0M887.05 1936.27a3 3 0 1 0 6 0a3 3 0 1 0 -6 0M872.2 1967.56a3 3 0 1 0 6 0a3 3 0 1 0 -6 0M847.83 1965.81a3 3 0 1 0 6 0a3 3 0 1 0 -6 0M867.34 2069.73a3 3 0 1 0 6 0a3 3 0 1 0 -6 0M856.98 1990.07a3 3 0 1 0 6 0a3 3 0 1 0 -6 0M826.38 1946.53a3 3 0 1 0 6 0a3 3 0 1 0 -6 0M869.49 2060.19a3 3 0 1 0 6 0a3 3 0 1 0 -6 0M872.98 1940.07a3 3 0 1 0 6 0a3 3 0 1 0 -6 0M877.99 1976.26a3 3 0 1 0 6 0a3 3 0 1 0 -6 0M861.9 2087.3a3 3 0 1 0 6 0a3 3 0 1 0 -6 0M851.04 2006.48a3 3 0 1 0 6 0a3 3 0 1 0 -6 0M838.41 1991.89a3 3 0 1 0 6 0a3 3 0 1 0 -6 0M787.83 1940.16a3 3 0 1 0 6 0a3 3 0 1 0 -6 0M876.87 2002.61a3 3 0 1 0 6 0a3 3 0 1 0 -6 0M853.15 2026.63a3 3 0 1 0 6 0a3 3 0 1 0 -6 0M899.92 1949.34a3 3 0 1 0 6 0a3 3 0 1 0 -6 0M897.4 1949.19a3 3 0 1 0 6 0a3 3 0 1 0 -6 0M821.47 1949.87a3 3 0 1 0 6 0a3 3 0 1 0 -6 0M850.37 1977.48a3 3 0 1 0 6 0a3 3 0 1 0 -6 0M874.84 1986.68a3 3 0 1 0 6 0a3 3 0 1 0 -6 0M861.34 2043.23a3 3 0 1 0 6 0a3 3 0 1 0 -6 0M846.85 2019.6a3 3 0 1 0 6 0a3 3 0 1 0 -6 0M870.44 2033.2a3 3 0 1 0 6 0a3 3 0 1 0 -6 0M811.54 1942.11a3 3 0 1 0 6 0a3 3 0 1 0 -6 0M871.93 1951.68a3 3 0 1 0 6 0a3 3 0 1 0 -6 0M870.82 1958.79a3 3 0 1 0 6 0a3 3 0 1 0 -6 0M861.86 1974.05a3 3 0 1 0 6 0a3 3 0 1 0 -6 0M883.74 2007.69a3 3 0 1 0 6 0a3 3 0 1 0 -6 0M791.05 1940.02a3 3 0 1 0 6 0a3 3 0 1 0 -6 0M855.41 2054.18a3 3 0 1 0 6 0a3 3 0 1 0 -6 0M869.38 1950.17a3 3 0 1 0 6 0a3 3 0 1 0 -6 0M856.66 1952.13a3 3 0 1 0 6 0a3 3 0 1 0 -6 0M867.99 1944.22a3 3 0 1 0 6 0a3 3 0 1 0 -6 0M873.3 2076.29a3 3 0 1 0 6 0a3 3 0 1 0 -6 0M859.03 1993.11a3 3 0 1 0 6 0a3 3 0 1 0 -6 0M871.03 2057.91a3 3 0 1 0 6 0a3 3 0 1 0 -6 0M837.73 1952.97a3 3 0 1 0 6 0a3 3 0 1 0 -6 0M863.22 2034.66a3 3 0 1 0 6 0a3 3 0 1 0 -6 0M883.62 1997.55a3 3 0 1 0 6 0a3 3 0 1 0 -6 0M861.09 1985.58a3 3 0 1 0 6 0a3 3 0 1 0 -6 0M860.67 2004.85a3 3 0 1 0 6 0a3 3 0 1 0 -6 0M864.59 2038.74a3 3 0 1 0 6 0a3 3 0 1 0 -6 0M874.1 1987.21a3 3 0 1 0 6 0a3 3 0 1 0 -6 0M857.07 1992.5a3 3 0 1 0 6 0a3 3 0 1 0 -6 0M869.43 1975.14a3 3 0 1 0 6 0a3 3 0 1 0 -6 0M863.78 2035.8a3 3 0 1 0 6 0a3 3 0 1 0 -6 0M863.74 2013.36a3 3 0 1 0 6 0a3 3 0 1 0 -6 0M823.4 1943.03a3 3 0 1 0 6 0a3 3 0 1 0 -6 0M847.79 1944.27a3 3 0 1 0 6 0a3 3 0 1 0 -6 0M847.61 1957.8a3 3 0 1 0 6 0a3 3 0 1 0 -6 0M847.04 1974.63a3 3 0 1 0 6 0a3 3 0 1 0 -6 0M875.58 1973.36a3 3 0 1 0 6 0a3 3 0 1 0 -6 0M855.86 2024.34a3 3 0 1 0 6 0a3 3 0 1 0 -6 0M878.25 2029.99a3 3 0 1 0 6 0a3 3 0 1 0 -6 0M884.56 1952.81a3 3 0 1 0 6 0a3 3 0 1 0 -6 0M866.89 1951.02a3 3 0 1 0 6 0a3 3 0 1 0 -6 0M845.75 2004.22a3 3 0 1 0 6 0a3 3 0 1 0 -6 0M894.03 1945.48a3 3 0 1 0 6 0a3 3 0 1 0 -6 0M871.62 2020.51a3 3 0 1 0 6 0a3 3 0 1 0 -6 0M867.51 1935.15a3 3 0 1 0 6 0a3 3 0 1 0 -6 0M858.35 1941.36a3 3 0 1 0 6 0a3 3 0 1 0 -6 0M843.95 1938.2a3 3 0 1 0 6 0a3 3 0 1 0 -6 0M888.04 2018.38a3 3 0 1 0 6 0a3 3 0 1 0 -6 0M885.96 1997.58a3 3 0 1 0 6 0a3 3 0 1 0 -6 0M856.81 2043.98a3 3 0 1 0 6 0a3 3 0 1 0 -6 0M869.52 1946.21a3 3 0 1 0 6 0a3 3 0 1 0 -6 0M847.85 2002.88a3 3 0 1 0 6 0a3 3 0 1 0 -6 0M873.65 2023a3 3 0 1 0 6 0a3 3 0 1 0 -6 0M869.13 2075.3a3 3 0 1 0 6 0a3 3 0 1 0 -6 0M791.88 1937.46a3 3 0 1 0 6 0a3 3 0 1 0 -6 0M875.15 2013.62a3 3 0 1 0 6 0a3 3 0 1 0 -6 0M882.44 1993.93a3 3 0 1 0 6 0a3 3 0 1 0 -6 0M847.48 1985.7a3 3 0 1 0 6 0a3 3 0 1 0 -6 0M869.26 2050.82a3 3 0 1 0 6 0a3 3 0 1 0 -6 0M859.8 2032.88a3 3 0 1 0 6 0a3 3 0 1 0 -6 0M863 2068.79a3 3 0 1 0 6 0a3 3 0 1 0 -6 0M886.61 2005.92a3 3 0 1 0 6 0a3 3 0 1 0 -6 0M859.9 1960.34a3 3 0 1 0 6 0a3 3 0 1 0 -6 0M867.14 2019.71a3 3 0 1 0 6 0a3 3 0 1 0 -6 0M869.77 2064.89a3 3 0 1 0 6 0a3 3 0 1 0 -6 0M864.64 2078.37a3 3 0 1 0 6 0a3 3 0 1 0 -6 0M862.91 1947.67a3 3 0 1 0 6 0a3 3 0 1 0 -6 0M880.45 2028a3 3 0 1 0 6 0a3 3 0 1 0 -6 0M871.28 2055.37a3 3 0 1 0 6 0a3 3 0 1 0 -6 0M878.26 1991.97a3 3 0 1 0 6 0a3 3 0 1 0 -6 0M855.61 2016.9a3 3 0 1 0 6 0a3 3 0 1 0 -6 0M861.57 1955.48a3 3 0 1 0 6 0a3 3 0 1 0 -6 0M861.21 2080.32a3 3 0 1 0 6 0a3 3 0 1 0 -6 0M862.41 2039.82a3 3 0 1 0 6 0a3 3 0 1 0 -6 0M839.82 1992.23a3 3 0 1 0 6 0a3 3 0 1 0 -6 0M872.53 2063.8a3 3 0 1 0 6 0a3 3 0 1 0 -6 0M876.03 1986.79a3 3 0 1 0 6 0a3 3 0 1 0 -6 0M795.99 1935.32a3 3 0 1 0 6 0a3 3 0 1 0 -6 0M884.73 1997.83a3 3 0 1 0 6 0a3 3 0 1 0 -6 0M879.93 1950.04a3 3 0 1 0 6 0a3 3 0 1 0 -6 0M845.89 2014.03a3 3 0 1 0 6 0a3 3 0 1 0 -6 0M863.85 1984.94a3 3 0 1 0 6 0a3 3 0 1 0 -6 0M844.31 1949.97a3 3 0 1 0 6 0a3 3 0 1 0 -6 0M867.13 2013.54a3 3 0 1 0 6 0a3 3 0 1 0 -6 0M854.8 1939.01a3 3 0 1 0 6 0a3 3 0 1 0 -6 0M899.3 1937.75a3 3 0 1 0 6 0a3 3 0 1 0 -6 0M866.85 2002.85a3 3 0 1 0 6 0a3 3 0 1 0 -6 0M857.23 2007.58a3 3 0 1 0 6 0a3 3 0 1 0 -6 0M857.27 2020.7a3 3 0 1 0 6 0a3 3 0 1 0 -6 0M851.46 2002.72a3 3 0 1 0 6 0a3 3 0 1 0 -6 0M862.38 1940.59a3 3 0 1 0 6 0a3 3 0 1 0 -6 0M854.3 1979.83a3 3 0 1 0 6 0a3 3 0 1 0 -6 0M858.73 1978.43a3 3 0 1 0 6 0a3 3 0 1 0 -6 0M849.63 1942a3 3 0 1 0 6 0a3 3 0 1 0 -6 0M827.44 1949.4a3 3 0 1 0 6 0a3 3 0 1 0 -6 0M875.41 2024.76a3 3 0 1 0 6 0a3 3 0 1 0 -6 0M884.24 2013.46a3 3 0 1 0 6 0a3 3 0 1 0 -6 0M875.37 1988.69a3 3 0 1 0 6 0a3 3 0 1 0 -6 0M859.25 1951.51a3 3 0 1 0 6 0a3 3 0 1 0 -6 0M869.78 2077.18a3 3 0 1 0 6 0a3 3 0 1 0 -6 0M859.64 2037.34a3 3 0 1 0 6 0a3 3 0 1 0 -6 0M842.81 1992.61a3 3 0 1 0 6 0a3 3 0 1 0 -6 0M860.93 2040.47a3 3 0 1 0 6 0a3 3 0 1 0 -6 0M841.73 1990.92a3 3 0 1 0 6 0a3 3 0 1 0 -6 0M855.88 1937.03a3 3 0 1 0 6 0a3 3 0 1 0 -6 0M806.61 1941.88a3 3 0 1 0 6 0a3 3 0 1 0 -6 0M876.86 1996.6a3 3 0 1 0 6 0a3 3 0 1 0 -6 0M869.62 2000.54a3 3 0 1 0 6 0a3 3 0 1 0 -6 0M839.09 1973.1a3 3 0 1 0 6 0a3 3 0 1 0 -6 0M828.68 1946.55a3 3 0 1 0 6 0a3 3 0 1 0 -6 0M857.9 2070.88a3 3 0 1 0 6 0a3 3 0 1 0 -6 0M865.92 2066.89a3 3 0 1 0 6 0a3 3 0 1 0 -6 0M849.04 1935.23a3 3 0 1 0 6 0a3 3 0 1 0 -6 0M838.23 1960.81a3 3 0 1 0 6 0a3 3 0 1 0 -6 0M850.28 1946.31a3 3 0 1 0 6 0a3 3 0 1 0 -6 0M856.27 1950.33a3 3 0 1 0 6 0a3 3 0 1 0 -6 0M861.74 1970.94a3 3 0 1 0 6 0a3 3 0 1 0 -6 0M838.03 1970.22a3 3 0 1 0 6 0a3 3 0 1 0 -6 0M856.97 2090.52a3 3 0 1 0 6 0a3 3 0 1 0 -6 0M862.51 1938.6a3 3 0 1 0 6 0a3 3 0 1 0 -6 0M879.12 1944.58a3 3 0 1 0 6 0a3 3 0 1 0 -6 0M857.16 1951.68a3 3 0 1 0 6 0a3 3 0 1 0 -6 0M855.71 2055.18a3 3 0 1 0 6 0a3 3 0 1 0 -6 0M887.28 2009.12a3 3 0 1 0 6 0a3 3 0 1 0 -6 0M869.13 2020.86a3 3 0 1 0 6 0a3 3 0 1 0 -6 0M887.96 2009.99a3 3 0 1 0 6 0a3 3 0 1 0 -6 0M864.15 2050.94a3 3 0 1 0 6 0a3 3 0 1 0 -6 0M865.61 2067.68a3 3 0 1 0 6 0a3 3 0 1 0 -6 0M857.12 1992.78a3 3 0 1 0 6 0a3 3 0 1 0 -6 0M864.67 2030.99a3 3 0 1 0 6 0a3 3 0 1 0 -6 0M876.94 1959.36a3 3 0 1 0 6 0a3 3 0 1 0 -6 0M851.46 2047.07a3 3 0 1 0 6 0a3 3 0 1 0 -6 0M869.5 2014.17a3 3 0 1 0 6 0a3 3 0 1 0 -6 0M878.74 2018.35a3 3 0 1 0 6 0a3 3 0 1 0 -6 0M852.73 1964.34a3 3 0 1 0 6 0a3 3 0 1 0 -6 0M833.83 1964.03a3 3 0 1 0 6 0a3 3 0 1 0 -6 0M850.35 2027.88a3 3 0 1 0 6 0a3 3 0 1 0 -6 0M845.94 1945.7a3 3 0 1 0 6 0a3 3 0 1 0 -6 0M865.15 1979.47a3 3 0 1 0 6 0a3 3 0 1 0 -6 0M855.54 1973.12a3 3 0 1 0 6 0a3 3 0 1 0 -6 0M867.25 2060.1a3 3 0 1 0 6 0a3 3 0 1 0 -6 0M870.25 1972.97a3 3 0 1 0 6 0a3 3 0 1 0 -6 0M893.89 1947.2a3 3 0 1 0 6 0a3 3 0 1 0 -6 0M869.52 1996.11a3 3 0 1 0 6 0a3 3 0 1 0 -6 0M859.48 1960.92a3 3 0 1 0 6 0a3 3 0 1 0 -6 0M837.38 1969.66a3 3 0 1 0 6 0a3 3 0 1 0 -6 0M880.97 1957.66a3 3 0 1 0 6 0a3 3 0 1 0 -6 0M845.63 1945.98a3 3 0 1 0 6 0a3 3 0 1 0 -6 0M871.76 1948.11a3 3 0 1 0 6 0a3 3 0 1 0 -6 0M830.97 1951.4a3 3 0 1 0 6 0a3 3 0 1 0 -6 0M864.39 2065.93a3 3 0 1 0 6 0a3 3 0 1 0 -6 0M857.16 1954.65a3 3 0 1 0 6 0a3 3 0 1 0 -6 0M829.98 1947.99a3 3 0 1 0 6 0a3 3 0 1 0 -6 0M863.54 1998.13a3 3 0 1 0 6 0a3 3 0 1 0 -6 0M870.19 2019.23a3 3 0 1 0 6 0a3 3 0 1 0 -6 0M830.66 1952.13a3 3 0 1 0 6 0a3 3 0 1 0 -6 0M874.52 1982.16a3 3 0 1 0 6 0a3 3 0 1 0 -6 0M853.55 2044.41a3 3 0 1 0 6 0a3 3 0 1 0 -6 0M836.34 1984.02a3 3 0 1 0 6 0a3 3 0 1 0 -6 0M827.76 1956.07a3 3 0 1 0 6 0a3 3 0 1 0 -6 0M889.6 2008.44a3 3 0 1 0 6 0a3 3 0 1 0 -6 0M858.43 2009.17a3 3 0 1 0 6 0a3 3 0 1 0 -6 0M852.11 1994.05a3 3 0 1 0 6 0a3 3 0 1 0 -6 0M857.53 2039.56a3 3 0 1 0 6 0a3 3 0 1 0 -6 0M882.46 1960.56a3 3 0 1 0 6 0a3 3 0 1 0 -6 0M854.62 2010.32a3 3 0 1 0 6 0a3 3 0 1 0 -6 0M858.46 2003.17a3 3 0 1 0 6 0a3 3 0 1 0 -6 0M835.11 1952.51a3 3 0 1 0 6 0a3 3 0 1 0 -6 0M873.64 2039.18a3 3 0 1 0 6 0a3 3 0 1 0 -6 0M885.92 1945.83a3 3 0 1 0 6 0a3 3 0 1 0 -6 0M834.07 1967.63a3 3 0 1 0 6 0a3 3 0 1 0 -6 0M871.24 1999.38a3 3 0 1 0 6 0a3 3 0 1 0 -6 0M887.53 1938.23a3 3 0 1 0 6 0a3 3 0 1 0 -6 0M887.87 2006.76a3 3 0 1 0 6 0a3 3 0 1 0 -6 0M813.77 1942.39a3 3 0 1 0 6 0a3 3 0 1 0 -6 0M818.91 1940.77a3 3 0 1 0 6 0a3 3 0 1 0 -6 0M831.01 1964.63a3 3 0 1 0 6 0a3 3 0 1 0 -6 0M869.55 2066.32a3 3 0 1 0 6 0a3 3 0 1 0 -6 0M873.46 2052.38a3 3 0 1 0 6 0a3 3 0 1 0 -6 0M865.13 1966.99a3 3 0 1 0 6 0a3 3 0 1 0 -6 0M870.93 1989.05a3 3 0 1 0 6 0a3 3 0 1 0 -6 0M872.7 2061.15a3 3 0 1 0 6 0a3 3 0 1 0 -6 0M832.61 1950.18a3 3 0 1 0 6 0a3 3 0 1 0 -6 0M842.98 2007.94a3 3 0 1 0 6 0a3 3 0 1 0 -6 0M858.02 2071.16a3 3 0 1 0 6 0a3 3 0 1 0 -6 0M855.73 1989.04a3 3 0 1 0 6 0a3 3 0 1 0 -6 0M861.83 1974.5a3 3 0 1 0 6 0a3 3 0 1 0 -6 0M872.29 1971.67a3 3 0 1 0 6 0a3 3 0 1 0 -6 0M835.64 1938.27a3 3 0 1 0 6 0a3 3 0 1 0 -6 0M829.11 1945.37a3 3 0 1 0 6 0a3 3 0 1 0 -6 0M821.26 1945.16a3 3 0 1 0 6 0a3 3 0 1 0 -6 0M840.08 1988.07a3 3 0 1 0 6 0a3 3 0 1 0 -6 0M838.29 1975.82a3 3 0 1 0 6 0a3 3 0 1 0 -6 0M838.42 1980.91a3 3 0 1 0 6 0a3 3 0 1 0 -6 0M843.91 1943.66a3 3 0 1 0 6 0a3 3 0 1 0 -6 0M857.54 1946.87a3 3 0 1 0 6 0a3 3 0 1 0 -6 0M838.21 1966.98a3 3 0 1 0 6 0a3 3 0 1 0 -6 0M821.84 1935.89a3 3 0 1 0 6 0a3 3 0 1 0 -6 0M858.36 2083.62a3 3 0 1 0 6 0a3 3 0 1 0 -6 0M808.43 1935.23a3 3 0 1 0 6 0a3 3 0 1 0 -6 0M790.55 1936.46a3 3 0 1 0 6 0a3 3 0 1 0 -6 0M838.55 1953.49a3 3 0 1 0 6 0a3 3 0 1 0 -6 0M844.43 1973.37a3 3 0 1 0 6 0a3 3 0 1 0 -6 0M835.26 1961.58a3 3 0 1 0 6 0a3 3 0 1 0 -6 0M872.28 2001.69a3 3 0 1 0 6 0a3 3 0 1 0 -6 0M873.16 2008.35a3 3 0 1 0 6 0a3 3 0 1 0 -6 0M869.89 1989.36a3 3 0 1 0 6 0a3 3 0 1 0 -6 0M856.12 2021.43a3 3 0 1 0 6 0a3 3 0 1 0 -6 0M854.03 2010.52a3 3 0 1 0 6 0a3 3 0 1 0 -6 0M850.95 1935.86a3 3 0 1 0 6 0a3 3 0 1 0 -6 0M872.09 2076.46a3 3 0 1 0 6 0a3 3 0 1 0 -6 0M839.72 1946.25a3 3 0 1 0 6 0a3 3 0 1 0 -6 0M855.94 1944.49a3 3 0 1 0 6 0a3 3 0 1 0 -6 0M895.3 1936.2a3 3 0 1 0 6 0a3 3 0 1 0 -6 0M845.02 1983.32a3 3 0 1 0 6 0a3 3 0 1 0 -6 0M868.36 2009.42a3 3 0 1 0 6 0a3 3 0 1 0 -6 0M904.04 1942.28a3 3 0 1 0 6 0a3 3 0 1 0 -6 0M855.67 2050.43a3 3 0 1 0 6 0a3 3 0 1 0 -6 0M849.55 2015.42a3 3 0 1 0 6 0a3 3 0 1 0 -6 0M858.25 2029.6a3 3 0 1 0 6 0a3 3 0 1 0 -6 0M871.77 1973.8a3 3 0 1 0 6 0a3 3 0 1 0 -6 0M850.04 1947.01a3 3 0 1 0 6 0a3 3 0 1 0 -6 0M829.62 1937.86a3 3 0 1 0 6 0a3 3 0 1 0 -6 0M864.52 1941.88a3 3 0 1 0 6 0a3 3 0 1 0 -6 0M829.64 1946.13a3 3 0 1 0 6 0a3 3 0 1 0 -6 0M857.62 1984.32a3 3 0 1 0 6 0a3 3 0 1 0 -6 0M826.19 1942.68a3 3 0 1 0 6 0a3 3 0 1 0 -6 0M862.79 1983.08a3 3 0 1 0 6 0a3 3 0 1 0 -6 0M867.93 1998.29a3 3 0 1 0 6 0a3 3 0 1 0 -6 0M873.98 2064.82a3 3 0 1 0 6 0a3 3 0 1 0 -6 0M849.5 1937.96a3 3 0 1 0 6 0a3 3 0 1 0 -6 0M872.86 2046.59a3 3 0 1 0 6 0a3 3 0 1 0 -6 0M894.07 1948.59a3 3 0 1 0 6 0a3 3 0 1 0 -6 0M856.35 1974.31a3 3 0 1 0 6 0a3 3 0 1 0 -6 0M865.45 1964.25a3 3 0 1 0 6 0a3 3 0 1 0 -6 0M858.21 2020.97a3 3 0 1 0 6 0a3 3 0 1 0 -6 0M867.75 2042.27a3 3 0 1 0 6 0a3 3 0 1 0 -6 0M836.51 1970.27a3 3 0 1 0 6 0a3 3 0 1 0 -6 0M855.98 2022.58a3 3 0 1 0 6 0a3 3 0 1 0 -6 0M867.36 2083.93a3 3 0 1 0 6 0a3 3 0 1 0 -6 0M854.79 2034.54a3 3 0 1 0 6 0a3 3 0 1 0 -6 0M857.93 1978.48a3 3 0 1 0 6 0a3 3 0 1 0 -6 0M853.03 1968.84a3 3 0 1 0 6 0a3 3 0 1 0 -6 0M854.04 2011.74a3 3 0 1 0 6 0a3 3 0 1 0 -6 0M830.56 1938.22a3 3 0 1 0 6 0a3 3 0 1 0 -6 0M851.89 2000.06a3 3 0 1 0 6 0a3 3 0 1 0 -6 0M884.62 2000.02a3 3 0 1 0 6 0a3 3 0 1 0 -6 0M868.12 1941.63a3 3 0 1 0 6 0a3 3 0 1 0 -6 0M802.73 1938.33a3 3 0 1 0 6 0a3 3 0 1 0 -6 0M862.76 1967.41a3 3 0 1 0 6 0a3 3 0 1 0 -6 0M874.59 2044.13a3 3 0 1 0 6 0a3 3 0 1 0 -6 0M880.88 2027.96a3 3 0 1 0 6 0a3 3 0 1 0 -6 0M895.22 1944.06a3 3 0 1 0 6 0a3 3 0 1 0 -6 0M839.62 1971.23a3 3 0 1 0 6 0a3 3 0 1 0 -6 0M838.38 1945.27a3 3 0 1 0 6 0a3 3 0 1 0 -6 0M869.62 1972.97a3 3 0 1 0 6 0a3 3 0 1 0 -6 0M877.62 1947.6a3 3 0 1 0 6 0a3 3 0 1 0 -6 0M849.31 2013.17a3 3 0 1 0 6 0a3 3 0 1 0 -6 0M859.15 1994.01a3 3 0 1 0 6 0a3 3 0 1 0 -6 0M855.88 2057.52a3 3 0 1 0 6 0a3 3 0 1 0 -6 0M870.08 2051.17a3 3 0 1 0 6 0a3 3 0 1 0 -6 0M858.13 2070.88a3 3 0 1 0 6 0a3 3 0 1 0 -6 0M840.61 1942.27a3 3 0 1 0 6 0a3 3 0 1 0 -6 0M874.45 1970.38a3 3 0 1 0 6 0a3 3 0 1 0 -6 0M870.14 2024.09a3 3 0 1 0 6 0a3 3 0 1 0 -6 0M804.79 1942.41a3 3 0 1 0 6 0a3 3 0 1 0 -6 0M882.57 2001.3a3 3 0 1 0 6 0a3 3 0 1 0 -6 0M882.31 2004.21a3 3 0 1 0 6 0a3 3 0 1 0 -6 0M870.31 1941.65a3 3 0 1 0 6 0a3 3 0 1 0 -6 0M859.11 1990a3 3 0 1 0 6 0a3 3 0 1 0 -6 0M851.53 1966.63a3 3 0 1 0 6 0a3 3 0 1 0 -6 0M857.67 2019.81a3 3 0 1 0 6 0a3 3 0 1 0 -6 0M864.75 2053.24a3 3 0 1 0 6 0a3 3 0 1 0 -6 0M870.98 1973.31a3 3 0 1 0 6 0a3 3 0 1 0 -6 0M864.95 2035.13a3 3 0 1 0 6 0a3 3 0 1 0 -6 0M840.48 1965.23a3 3 0 1 0 6 0a3 3 0 1 0 -6 0M852.02 1958.02a3 3 0 1 0 6 0a3 3 0 1 0 -6 0M883.33 1954.86a3 3 0 1 0 6 0a3 3 0 1 0 -6 0M857.09 1951.64a3 3 0 1 0 6 0a3 3 0 1 0 -6 0M862.88 2086.18a3 3 0 1 0 6 0a3 3 0 1 0 -6 0M841.86 1993.23a3 3 0 1 0 6 0a3 3 0 1 0 -6 0M863.47 2040.83a3 3 0 1 0 6 0a3 3 0 1 0 -6 0M821.01 1936.67a3 3 0 1 0 6 0a3 3 0 1 0 -6 0M876.05 1965.22a3 3 0 1 0 6 0a3 3 0 1 0 -6 0M855.88 1965.55a3 3 0 1 0 6 0a3 3 0 1 0 -6 0M869.12 2054.09a3 3 0 1 0 6 0a3 3 0 1 0 -6 0M851.64 1990.74a3 3 0 1 0 6 0a3 3 0 1 0 -6 0M868.3 1936.78a3 3 0 1 0 6 0a3 3 0 1 0 -6 0M874.64 2070.57a3 3 0 1 0 6 0a3 3 0 1 0 -6 0M857.63 2005.98a3 3 0 1 0 6 0a3 3 0 1 0 -6 0M855.78 1981.27a3 3 0 1 0 6 0a3 3 0 1 0 -6 0M875.51 1942.62a3 3 0 1 0 6 0a3 3 0 1 0 -6 0M878.83 1990.24a3 3 0 1 0 6 0a3 3 0 1 0 -6 0M857.13 1973.05a3 3 0 1 0 6 0a3 3 0 1 0 -6 0M833.52 1963.79a3 3 0 1 0 6 0a3 3 0 1 0 -6 0M867.4 1965.68a3 3 0 1 0 6 0a3 3 0 1 0 -6 0M872.56 1979.68a3 3 0 1 0 6 0a3 3 0 1 0 -6 0M870.47 1987.34a3 3 0 1 0 6 0a3 3 0 1 0 -6 0M860.29 1970.71a3 3 0 1 0 6 0a3 3 0 1 0 -6 0M878.08 1985.6a3 3 0 1 0 6 0a3 3 0 1 0 -6 0M902.73 1936.28a3 3 0 1 0 6 0a3 3 0 1 0 -6 0M868.63 2042.97a3 3 0 1 0 6 0a3 3 0 1 0 -6 0M855.36 2044.8a3 3 0 1 0 6 0a3 3 0 1 0 -6 0M857.74 2039.23a3 3 0 1 0 6 0a3 3 0 1 0 -6 0M881.06 1941.37a3 3 0 1 0 6 0a3 3 0 1 0 -6 0M799.86 1940.09a3 3 0 1 0 6 0a3 3 0 1 0 -6 0M853.1 1968.26a3 3 0 1 0 6 0a3 3 0 1 0 -6 0M867.73 1943.98a3 3 0 1 0 6 0a3 3 0 1 0 -6 0M894.97 1938.58a3 3 0 1 0 6 0a3 3 0 1 0 -6 0M872.19 1966.96a3 3 0 1 0 6 0a3 3 0 1 0 -6 0M870.08 2036.68a3 3 0 1 0 6 0a3 3 0 1 0 -6 0M832.05 1939.03a3 3 0 1 0 6 0a3 3 0 1 0 -6 0M867.71 1988.41a3 3 0 1 0 6 0a3 3 0 1 0 -6 0M895.92 1949.84a3 3 0 1 0 6 0a3 3 0 1 0 -6 0M871.79 2061.29a3 3 0 1 0 6 0a3 3 0 1 0 -6 0M875.76 2039.86a3 3 0 1 0 6 0a3 3 0 1 0 -6 0M870.37 2015.12a3 3 0 1 0 6 0a3 3 0 1 0 -6 0M870.81 2054.73a3 3 0 1 0 6 0a3 3 0 1 0 -6 0M863.37 2082.65a3 3 0 1 0 6 0a3 3 0 1 0 -6 0M886.41 2012.84a3 3 0 1 0 6 0a3 3 0 1 0 -6 0M858.27 1949.71a3 3 0 1 0 6 0a3 3 0 1 0 -6 0M856.91 2087a3 3 0 1 0 6 0a3 3 0 1 0 -6 0M877.04 1938.86a3 3 0 1 0 6 0a3 3 0 1 0 -6 0M869.27 1981.52a3 3 0 1 0 6 0a3 3 0 1 0 -6 0M874.65 2058.83a3 3 0 1 0 6 0a3 3 0 1 0 -6 0M867.79 1998.43a3 3 0 1 0 6 0a3 3 0 1 0 -6 0M857.46 1980.77a3 3 0 1 0 6 0a3 3 0 1 0 -6 0M851.22 1995.24a3 3 0 1 0 6 0a3 3 0 1 0 -6 0M887.12 1944.03a3 3 0 1 0 6 0a3 3 0 1 0 -6 0M860.58 2027.66a3 3 0 1 0 6 0a3 3 0 1 0 -6 0M852.28 2042.18a3 3 0 1 0 6 0a3 3 0 1 0 -6 0M863.44 2084.24a3 3 0 1 0 6 0a3 3 0 1 0 -6 0M850.23 1972.01a3 3 0 1 0 6 0a3 3 0 1 0 -6 0M866.25 2031.89a3 3 0 1 0 6 0a3 3 0 1 0 -6 0M871.81 1973.53a3 3 0 1 0 6 0a3 3 0 1 0 -6 0M841.58 1969.07a3 3 0 1 0 6 0a3 3 0 1 0 -6 0M884.28 1954.09a3 3 0 1 0 6 0a3 3 0 1 0 -6 0M837.82 1976.49a3 3 0 1 0 6 0a3 3 0 1 0 -6 0M849.83 1939.51a3 3 0 1 0 6 0a3 3 0 1 0 -6 0M863.84 1945.16a3 3 0 1 0 6 0a3 3 0 1 0 -6 0M865.3 1969.64a3 3 0 1 0 6 0a3 3 0 1 0 -6 0M850.13 2039.68a3 3 0 1 0 6 0a3 3 0 1 0 -6 0M819.86 1941.25a3 3 0 1 0 6 0a3 3 0 1 0 -6 0M859.92 2072.6a3 3 0 1 0 6 0a3 3 0 1 0 -6 0M853.17 1939.53a3 3 0 1 0 6 0a3 3 0 1 0 -6 0M834.97 1967.5a3 3 0 1 0 6 0a3 3 0 1 0 -6 0M903.92 1944.53a3 3 0 1 0 6 0a3 3 0 1 0 -6 0M852.08 1967.8a3 3 0 1 0 6 0a3 3 0 1 0 -6 0M858.95 2063.28a3 3 0 1 0 6 0a3 3 0 1 0 -6 0M871.8 2065.99a3 3 0 1 0 6 0a3 3 0 1 0 -6 0M838.06 1945.73a3 3 0 1 0 6 0a3 3 0 1 0 -6 0M826.88 1953.93a3 3 0 1 0 6 0a3 3 0 1 0 -6 0M865.37 2000.92a3 3 0 1 0 6 0a3 3 0 1 0 -6 0M874.39 1990.49a3 3 0 1 0 6 0a3 3 0 1 0 -6 0M841.55 1940.02a3 3 0 1 0 6 0a3 3 0 1 0 -6 0M887.83 1940.45a3 3 0 1 0 6 0a3 3 0 1 0 -6 0M850.04 2018.99a3 3 0 1 0 6 0a3 3 0 1 0 -6 0M845.29 1954.95a3 3 0 1 0 6 0a3 3 0 1 0 -6 0M880.61 2027.43a3 3 0 1 0 6 0a3 3 0 1 0 -6 0M856.98 2031.81a3 3 0 1 0 6 0a3 3 0 1 0 -6 0M860.33 2009.27a3 3 0 1 0 6 0a3 3 0 1 0 -6 0M869.02 1977.98a3 3 0 1 0 6 0a3 3 0 1 0 -6 0M846.79 1995.65a3 3 0 1 0 6 0a3 3 0 1 0 -6 0M858.78 1968.02a3 3 0 1 0 6 0a3 3 0 1 0 -6 0M852.68 1996.21a3 3 0 1 0 6 0a3 3 0 1 0 -6 0M858.99 2062.64a3 3 0 1 0 6 0a3 3 0 1 0 -6 0M889.22 1936.27a3 3 0 1 0 6 0a3 3 0 1 0 -6 0M884.56 2022.7a3 3 0 1 0 6 0a3 3 0 1 0 -6 0M842.03 1969.75a3 3 0 1 0 6 0a3 3 0 1 0 -6 0M847.61 1935.2a3 3 0 1 0 6 0a3 3 0 1 0 -6 0M860.1 2071.84a3 3 0 1 0 6 0a3 3 0 1 0 -6 0M854.7 2051.54a3 3 0 1 0 6 0a3 3 0 1 0 -6 0M869.25 2058.32a3 3 0 1 0 6 0a3 3 0 1 0 -6 0M853.61 2040.22a3 3 0 1 0 6 0a3 3 0 1 0 -6 0M830.62 1949.6a3 3 0 1 0 6 0a3 3 0 1 0 -6 0M875.01 2018.84a3 3 0 1 0 6 0a3 3 0 1 0 -6 0M863.17 2066.27a3 3 0 1 0 6 0a3 3 0 1 0 -6 0M854.31 2058.53a3 3 0 1 0 6 0a3 3 0 1 0 -6 0M798.07 1940.03a3 3 0 1 0 6 0a3 3 0 1 0 -6 0M851.58 1977.68a3 3 0 1 0 6 0a3 3 0 1 0 -6 0M855.38 1949.43a3 3 0 1 0 6 0a3 3 0 1 0 -6 0M848.14 2015.08a3 3 0 1 0 6 0a3 3 0 1 0 -6 0M867.7 2074.41a3 3 0 1 0 6 0a3 3 0 1 0 -6 0M856.76 1964.68a3 3 0 1 0 6 0a3 3 0 1 0 -6 0M858.59 2011.27a3 3 0 1 0 6 0a3 3 0 1 0 -6 0M910.28 1941a3 3 0 1 0 6 0a3 3 0 1 0 -6 0M849.35 1952.55a3 3 0 1 0 6 0a3 3 0 1 0 -6 0M851.69 1993.59a3 3 0 1 0 6 0a3 3 0 1 0 -6 0M864.6 2021.32a3 3 0 1 0 6 0a3 3 0 1 0 -6 0M860.3 1984.84a3 3 0 1 0 6 0a3 3 0 1 0 -6 0M793.37 1938.7a3 3 0 1 0 6 0a3 3 0 1 0 -6 0M838.73 1948.32a3 3 0 1 0 6 0a3 3 0 1 0 -6 0M867.46 2026.91a3 3 0 1 0 6 0a3 3 0 1 0 -6 0M838.05 1984.2a3 3 0 1 0 6 0a3 3 0 1 0 -6 0M875.09 1937.19a3 3 0 1 0 6 0a3 3 0 1 0 -6 0M806.89 1940.76a3 3 0 1 0 6 0a3 3 0 1 0 -6 0M871.39 1972.33a3 3 0 1 0 6 0a3 3 0 1 0 -6 0M863.03 2061.76a3 3 0 1 0 6 0a3 3 0 1 0 -6 0M869.95 1959.43a3 3 0 1 0 6 0a3 3 0 1 0 -6 0M848.39 1962.87a3 3 0 1 0 6 0a3 3 0 1 0 -6 0M867.38 1975.75a3 3 0 1 0 6 0a3 3 0 1 0 -6 0M875.93 2003.88a3 3 0 1 0 6 0a3 3 0 1 0 -6 0M874.86 1947.09a3 3 0 1 0 6 0a3 3 0 1 0 -6 0M788.73 1936.95a3 3 0 1 0 6 0a3 3 0 1 0 -6 0M839.04 1945.72a3 3 0 1 0 6 0a3 3 0 1 0 -6 0M860.46 2018.34a3 3 0 1 0 6 0a3 3 0 1 0 -6 0M872.17 2041.13a3 3 0 1 0 6 0a3 3 0 1 0 -6 0M850.96 2029.43a3 3 0 1 0 6 0a3 3 0 1 0 -6 0M848.15 2027.88a3 3 0 1 0 6 0a3 3 0 1 0 -6 0M846.2 1958.74a3 3 0 1 0 6 0a3 3 0 1 0 -6 0M869.33 2044.45a3 3 0 1 0 6 0a3 3 0 1 0 -6 0M872.14 1991.75a3 3 0 1 0 6 0a3 3 0 1 0 -6 0M787.8 1937.41a3 3 0 1 0 6 0a3 3 0 1 0 -6 0M863.23 2076.15a3 3 0 1 0 6 0a3 3 0 1 0 -6 0M865.03 2059.4a3 3 0 1 0 6 0a3 3 0 1 0 -6 0M834.83 1938.91a3 3 0 1 0 6 0a3 3 0 1 0 -6 0M900.82 1939.11a3 3 0 1 0 6 0a3 3 0 1 0 -6 0M862.4 1951.72a3 3 0 1 0 6 0a3 3 0 1 0 -6 0M904.3 1943.41a3 3 0 1 0 6 0a3 3 0 1 0 -6 0M870.02 2006a3 3 0 1 0 6 0a3 3 0 1 0 -6 0M887.31 2008.53a3 3 0 1 0 6 0a3 3 0 1 0 -6 0M854.35 1968.22a3 3 0 1 0 6 0a3 3 0 1 0 -6 0M866.68 2066.26a3 3 0 1 0 6 0a3 3 0 1 0 -6 0M874.28 1961.61a3 3 0 1 0 6 0a3 3 0 1 0 -6 0M850.64 2036.46a3 3 0 1 0 6 0a3 3 0 1 0 -6 0M850.72 2043.76a3 3 0 1 0 6 0a3 3 0 1 0 -6 0M892.81 1945.18a3 3 0 1 0 6 0a3 3 0 1 0 -6 0M862.86 2000.77a3 3 0 1 0 6 0a3 3 0 1 0 -6 0M847.02 1990.06a3 3 0 1 0 6 0a3 3 0 1 0 -6 0M833.94 1952.94a3 3 0 1 0 6 0a3 3 0 1 0 -6 0M878.11 1981.05a3 3 0 1 0 6 0a3 3 0 1 0 -6 0M854.68 1968.91a3 3 0 1 0 6 0a3 3 0 1 0 -6 0M845.89 1997.77a3 3 0 1 0 6 0a3 3 0 1 0 -6 0M855.63 2061.33a3 3 0 1 0 6 0a3 3 0 1 0 -6 0M857.91 1975.88a3 3 0 1 0 6 0a3 3 0 1 0 -6 0M875.59 2018.83a3 3 0 1 0 6 0a3 3 0 1 0 -6 0M836.97 1979.94a3 3 0 1 0 6 0a3 3 0 1 0 -6 0M876.82 1979.77a3 3 0 1 0 6 0a3 3 0 1 0 -6 0M868.39 2070.81a3 3 0 1 0 6 0a3 3 0 1 0 -6 0M873.18 2011.38a3 3 0 1 0 6 0a3 3 0 1 0 -6 0M889.5 1940.03a3 3 0 1 0 6 0a3 3 0 1 0 -6 0M899.74 1940.91a3 3 0 1 0 6 0a3 3 0 1 0 -6 0M847.81 2028.62a3 3 0 1 0 6 0a3 3 0 1 0 -6 0M885.14 2021.15a3 3 0 1 0 6 0a3 3 0 1 0 -6 0M880.84 1997.85a3 3 0 1 0 6 0a3 3 0 1 0 -6 0M897.94 1949.24a3 3 0 1 0 6 0a3 3 0 1 0 -6 0M849.17 2023.51a3 3 0 1 0 6 0a3 3 0 1 0 -6 0M825.65 1940.33a3 3 0 1 0 6 0a3 3 0 1 0 -6 0M883 2015.93a3 3 0 1 0 6 0a3 3 0 1 0 -6 0M850.79 1945.71a3 3 0 1 0 6 0a3 3 0 1 0 -6 0M841.95 2008.4a3 3 0 1 0 6 0a3 3 0 1 0 -6 0M853.69 1980.89a3 3 0 1 0 6 0a3 3 0 1 0 -6 0M879.62 1984.68a3 3 0 1 0 6 0a3 3 0 1 0 -6 0M851 1962.41a3 3 0 1 0 6 0a3 3 0 1 0 -6 0M861.25 2056.92a3 3 0 1 0 6 0a3 3 0 1 0 -6 0M856.89 2052.41a3 3 0 1 0 6 0a3 3 0 1 0 -6 0M885.51 2018.01a3 3 0 1 0 6 0a3 3 0 1 0 -6 0M859.59 1947.22a3 3 0 1 0 6 0a3 3 0 1 0 -6 0M866.46 2038.99a3 3 0 1 0 6 0a3 3 0 1 0 -6 0M829.73 1958.19a3 3 0 1 0 6 0a3 3 0 1 0 -6 0M851.6 1991.43a3 3 0 1 0 6 0a3 3 0 1 0 -6 0M847.12 1980.71a3 3 0 1 0 6 0a3 3 0 1 0 -6 0M871.79 2078.1a3 3 0 1 0 6 0a3 3 0 1 0 -6 0M822.18 1950.04a3 3 0 1 0 6 0a3 3 0 1 0 -6 0M827.69 1935.82a3 3 0 1 0 6 0a3 3 0 1 0 -6 0M860.44 2016.35a3 3 0 1 0 6 0a3 3 0 1 0 -6 0M869.3 2004.52a3 3 0 1 0 6 0a3 3 0 1 0 -6 0M860.51 2008.69a3 3 0 1 0 6 0a3 3 0 1 0 -6 0M869.96 1969.63a3 3 0 1 0 6 0a3 3 0 1 0 -6 0M883.05 2001.69a3 3 0 1 0 6 0a3 3 0 1 0 -6 0M861.42 2041.69a3 3 0 1 0 6 0a3 3 0 1 0 -6 0M853.6 2053.27a3 3 0 1 0 6 0a3 3 0 1 0 -6 0M840.24 1975.53a3 3 0 1 0 6 0a3 3 0 1 0 -6 0M879.25 1950.87a3 3 0 1 0 6 0a3 3 0 1 0 -6 0M874.28 1992.19a3 3 0 1 0 6 0a3 3 0 1 0 -6 0M852.17 2041.41a3 3 0 1 0 6 0a3 3 0 1 0 -6 0M829.94 1964.88a3 3 0 1 0 6 0a3 3 0 1 0 -6 0M848.62 1949.3a3 3 0 1 0 6 0a3 3 0 1 0 -6 0M876.51 1988.25a3 3 0 1 0 6 0a3 3 0 1 0 -6 0M876.63 2014.16a3 3 0 1 0 6 0a3 3 0 1 0 -6 0M900.12 1943.3a3 3 0 1 0 6 0a3 3 0 1 0 -6 0M865.4 2065.95a3 3 0 1 0 6 0a3 3 0 1 0 -6 0M839.78 1993.88a3 3 0 1 0 6 0a3 3 0 1 0 -6 0M846.24 1999.05a3 3 0 1 0 6 0a3 3 0 1 0 -6 0M882.36 1995.72a3 3 0 1 0 6 0a3 3 0 1 0 -6 0M868.82 1992.27a3 3 0 1 0 6 0a3 3 0 1 0 -6 0M864.96 1984.15a3 3 0 1 0 6 0a3 3 0 1 0 -6 0M860.5 2047.08a3 3 0 1 0 6 0a3 3 0 1 0 -6 0M885.48 2009.68a3 3 0 1 0 6 0a3 3 0 1 0 -6 0M870.5 2047.44a3 3 0 1 0 6 0a3 3 0 1 0 -6 0M833.21 1968.81a3 3 0 1 0 6 0a3 3 0 1 0 -6 0M838.3 1984.12a3 3 0 1 0 6 0a3 3 0 1 0 -6 0M866.53 2063.67a3 3 0 1 0 6 0a3 3 0 1 0 -6 0M859.49 1973.53a3 3 0 1 0 6 0a3 3 0 1 0 -6 0M826.36 1954.16a3 3 0 1 0 6 0a3 3 0 1 0 -6 0M859.56 1980.91a3 3 0 1 0 6 0a3 3 0 1 0 -6 0M855.16 1950.67a3 3 0 1 0 6 0a3 3 0 1 0 -6 0M842.1 1940.41a3 3 0 1 0 6 0a3 3 0 1 0 -6 0M839.72 1994.81a3 3 0 1 0 6 0a3 3 0 1 0 -6 0M870.02 2060.68a3 3 0 1 0 6 0a3 3 0 1 0 -6 0M855.29 2061.86a3 3 0 1 0 6 0a3 3 0 1 0 -6 0M872.67 1975.01a3 3 0 1 0 6 0a3 3 0 1 0 -6 0M893.56 1942.04a3 3 0 1 0 6 0a3 3 0 1 0 -6 0M871.26 2025.02a3 3 0 1 0 6 0a3 3 0 1 0 -6 0M874.74 2009.32a3 3 0 1 0 6 0a3 3 0 1 0 -6 0M886.38 1939.36a3 3 0 1 0 6 0a3 3 0 1 0 -6 0M862.78 2016.11a3 3 0 1 0 6 0a3 3 0 1 0 -6 0M854.18 2034.11a3 3 0 1 0 6 0a3 3 0 1 0 -6 0M841.34 2000.02a3 3 0 1 0 6 0a3 3 0 1 0 -6 0M880.94 1952.4a3 3 0 1 0 6 0a3 3 0 1 0 -6 0M858.95 1979.24a3 3 0 1 0 6 0a3 3 0 1 0 -6 0M861.13 1984.48a3 3 0 1 0 6 0a3 3 0 1 0 -6 0M903.03 1945.12a3 3 0 1 0 6 0a3 3 0 1 0 -6 0M870.78 2038.41a3 3 0 1 0 6 0a3 3 0 1 0 -6 0M892.39 1950.01a3 3 0 1 0 6 0a3 3 0 1 0 -6 0M861.87 1956.96a3 3 0 1 0 6 0a3 3 0 1 0 -6 0M888.5 2004.31a3 3 0 1 0 6 0a3 3 0 1 0 -6 0M856.75 1970.72a3 3 0 1 0 6 0a3 3 0 1 0 -6 0M867.8 2059.85a3 3 0 1 0 6 0a3 3 0 1 0 -6 0M844.41 1989.84a3 3 0 1 0 6 0a3 3 0 1 0 -6 0M857.3 1997.78a3 3 0 1 0 6 0a3 3 0 1 0 -6 0M858.9 1967.37a3 3 0 1 0 6 0a3 3 0 1 0 -6 0M826.1 1948.67a3 3 0 1 0 6 0a3 3 0 1 0 -6 0M874.86 2068.65a3 3 0 1 0 6 0a3 3 0 1 0 -6 0M882.84 1993.27a3 3 0 1 0 6 0a3 3 0 1 0 -6 0M868.56 2035.72a3 3 0 1 0 6 0a3 3 0 1 0 -6 0M854.16 1997.25a3 3 0 1 0 6 0a3 3 0 1 0 -6 0M878.62 1960.99a3 3 0 1 0 6 0a3 3 0 1 0 -6 0M888.66 2003.78a3 3 0 1 0 6 0a3 3 0 1 0 -6 0M849.65 2015.84a3 3 0 1 0 6 0a3 3 0 1 0 -6 0M839.71 1945.22a3 3 0 1 0 6 0a3 3 0 1 0 -6 0M800.54 1941.17a3 3 0 1 0 6 0a3 3 0 1 0 -6 0M890.43 1941.19a3 3 0 1 0 6 0a3 3 0 1 0 -6 0M874.46 2037.46a3 3 0 1 0 6 0a3 3 0 1 0 -6 0M800.51 1940.5a3 3 0 1 0 6 0a3 3 0 1 0 -6 0M871.74 2061.7a3 3 0 1 0 6 0a3 3 0 1 0 -6 0M853.69 1979.78a3 3 0 1 0 6 0a3 3 0 1 0 -6 0M891.16 1946.16a3 3 0 1 0 6 0a3 3 0 1 0 -6 0M862.2 2028.3a3 3 0 1 0 6 0a3 3 0 1 0 -6 0M865.74 1982.26a3 3 0 1 0 6 0a3 3 0 1 0 -6 0M855.58 1985.72a3 3 0 1 0 6 0a3 3 0 1 0 -6 0M880.14 1999.98a3 3 0 1 0 6 0a3 3 0 1 0 -6 0M863.92 2074.25a3 3 0 1 0 6 0a3 3 0 1 0 -6 0M849.49 1949.49a3 3 0 1 0 6 0a3 3 0 1 0 -6 0M853.92 1959.18a3 3 0 1 0 6 0a3 3 0 1 0 -6 0M865.57 2006.4a3 3 0 1 0 6 0a3 3 0 1 0 -6 0M873.35 1970.37a3 3 0 1 0 6 0a3 3 0 1 0 -6 0M876.8 1935.64a3 3 0 1 0 6 0a3 3 0 1 0 -6 0M851.65 1998.25a3 3 0 1 0 6 0a3 3 0 1 0 -6 0M853.5 1996.46a3 3 0 1 0 6 0a3 3 0 1 0 -6 0M883.09 1958.83a3 3 0 1 0 6 0a3 3 0 1 0 -6 0M866.56 2037.26a3 3 0 1 0 6 0a3 3 0 1 0 -6 0M855.66 2062.07a3 3 0 1 0 6 0a3 3 0 1 0 -6 0M840.3 1976.23a3 3 0 1 0 6 0a3 3 0 1 0 -6 0M885.29 2002.02a3 3 0 1 0 6 0a3 3 0 1 0 -6 0M856.44 1997.16a3 3 0 1 0 6 0a3 3 0 1 0 -6 0M865.59 1983.76a3 3 0 1 0 6 0a3 3 0 1 0 -6 0M856.75 2091a3 3 0 1 0 6 0a3 3 0 1 0 -6 0M846.37 1956.43a3 3 0 1 0 6 0a3 3 0 1 0 -6 0M834.8 1953.48a3 3 0 1 0 6 0a3 3 0 1 0 -6 0M874.17 2001.84a3 3 0 1 0 6 0a3 3 0 1 0 -6 0M876.31 2014.23a3 3 0 1 0 6 0a3 3 0 1 0 -6 0M867.11 2023.12a3 3 0 1 0 6 0a3 3 0 1 0 -6 0M842.44 1961.34a3 3 0 1 0 6 0a3 3 0 1 0 -6 0M794.53 1937.6a3 3 0 1 0 6 0a3 3 0 1 0 -6 0M872.7 1960.31a3 3 0 1 0 6 0a3 3 0 1 0 -6 0M891.03 1947.18a3 3 0 1 0 6 0a3 3 0 1 0 -6 0M864.66 1941.99a3 3 0 1 0 6 0a3 3 0 1 0 -6 0M883.26 2007.96a3 3 0 1 0 6 0a3 3 0 1 0 -6 0M874 1999.82a3 3 0 1 0 6 0a3 3 0 1 0 -6 0M860 2031.5a3 3 0 1 0 6 0a3 3 0 1 0 -6 0M861.32 2088.6a3 3 0 1 0 6 0a3 3 0 1 0 -6 0M875.12 2023.99a3 3 0 1 0 6 0a3 3 0 1 0 -6 0M861.48 2027.4a3 3 0 1 0 6 0a3 3 0 1 0 -6 0M874.65 1957.01a3 3 0 1 0 6 0a3 3 0 1 0 -6 0M856.83 1990.86a3 3 0 1 0 6 0a3 3 0 1 0 -6 0M845.35 1935.62a3 3 0 1 0 6 0a3 3 0 1 0 -6 0M853.11 1939.43a3 3 0 1 0 6 0a3 3 0 1 0 -6 0M836.63 1956.98a3 3 0 1 0 6 0a3 3 0 1 0 -6 0M836.97 1972.51a3 3 0 1 0 6 0a3 3 0 1 0 -6 0M858.66 2051.62a3 3 0 1 0 6 0a3 3 0 1 0 -6 0M855.19 2059.92a3 3 0 1 0 6 0a3 3 0 1 0 -6 0M867.64 1947.4a3 3 0 1 0 6 0a3 3 0 1 0 -6 0M853.48 1935.69a3 3 0 1 0 6 0a3 3 0 1 0 -6 0M881.39 2002.74a3 3 0 1 0 6 0a3 3 0 1 0 -6 0M859.2 1979.11a3 3 0 1 0 6 0a3 3 0 1 0 -6 0M819.71 1939.89a3 3 0 1 0 6 0a3 3 0 1 0 -6 0M852.78 1980.02a3 3 0 1 0 6 0a3 3 0 1 0 -6 0M875.19 2066.22a3 3 0 1 0 6 0a3 3 0 1 0 -6 0M851.4 1943.46a3 3 0 1 0 6 0a3 3 0 1 0 -6 0M877.51 1968.52a3 3 0 1 0 6 0a3 3 0 1 0 -6 0M871.51 1981.71a3 3 0 1 0 6 0a3 3 0 1 0 -6 0M823.51 1942.36a3 3 0 1 0 6 0a3 3 0 1 0 -6 0M871.01 1945.21a3 3 0 1 0 6 0a3 3 0 1 0 -6 0M870.05 1947.68a3 3 0 1 0 6 0a3 3 0 1 0 -6 0M872.69 1986.46a3 3 0 1 0 6 0a3 3 0 1 0 -6 0M862.06 2044.84a3 3 0 1 0 6 0a3 3 0 1 0 -6 0M867.36 2041.66a3 3 0 1 0 6 0a3 3 0 1 0 -6 0M888.32 2010.92a3 3 0 1 0 6 0a3 3 0 1 0 -6 0M874.2 1999.36a3 3 0 1 0 6 0a3 3 0 1 0 -6 0M873.49 2062.88a3 3 0 1 0 6 0a3 3 0 1 0 -6 0M866.37 2084.61a3 3 0 1 0 6 0a3 3 0 1 0 -6 0M863.89 2018.33a3 3 0 1 0 6 0a3 3 0 1 0 -6 0M821.07 1938.23a3 3 0 1 0 6 0a3 3 0 1 0 -6 0M844.28 1948.88a3 3 0 1 0 6 0a3 3 0 1 0 -6 0M850.11 1984.1a3 3 0 1 0 6 0a3 3 0 1 0 -6 0M871.8 2025.48a3 3 0 1 0 6 0a3 3 0 1 0 -6 0M882.67 1948.57a3 3 0 1 0 6 0a3 3 0 1 0 -6 0M863.79 2024.25a3 3 0 1 0 6 0a3 3 0 1 0 -6 0M882.36 1992.55a3 3 0 1 0 6 0a3 3 0 1 0 -6 0M873.63 1950.78a3 3 0 1 0 6 0a3 3 0 1 0 -6 0M879.27 1937.8a3 3 0 1 0 6 0a3 3 0 1 0 -6 0M863.26 1950.05a3 3 0 1 0 6 0a3 3 0 1 0 -6 0M854.97 1946.09a3 3 0 1 0 6 0a3 3 0 1 0 -6 0M833.75 1941.94a3 3 0 1 0 6 0a3 3 0 1 0 -6 0M878.59 1978.9a3 3 0 1 0 6 0a3 3 0 1 0 -6 0M821.26 1936.16a3 3 0 1 0 6 0a3 3 0 1 0 -6 0M864 2041.9a3 3 0 1 0 6 0a3 3 0 1 0 -6 0M827.98 1955.83a3 3 0 1 0 6 0a3 3 0 1 0 -6 0M875.34 2009.27a3 3 0 1 0 6 0a3 3 0 1 0 -6 0M872.07 2063.5a3 3 0 1 0 6 0a3 3 0 1 0 -6 0M856.28 1942.12a3 3 0 1 0 6 0a3 3 0 1 0 -6 0M827.04 1959.52a3 3 0 1 0 6 0a3 3 0 1 0 -6 0M850.21 2010.93a3 3 0 1 0 6 0a3 3 0 1 0 -6 0M871.1 2024.75a3 3 0 1 0 6 0a3 3 0 1 0 -6 0M878.62 2022.62a3 3 0 1 0 6 0a3 3 0 1 0 -6 0M851.48 1946.65a3 3 0 1 0 6 0a3 3 0 1 0 -6 0M871.39 1937.72a3 3 0 1 0 6 0a3 3 0 1 0 -6 0M842.61 1972.32a3 3 0 1 0 6 0a3 3 0 1 0 -6 0M869.77 1995.08a3 3 0 1 0 6 0a3 3 0 1 0 -6 0M856.17 2029.38a3 3 0 1 0 6 0a3 3 0 1 0 -6 0M853.25 1970.39a3 3 0 1 0 6 0a3 3 0 1 0 -6 0M844.67 1975.88a3 3 0 1 0 6 0a3 3 0 1 0 -6 0M856.56 1971.63a3 3 0 1 0 6 0a3 3 0 1 0 -6 0M900.4 1941.54a3 3 0 1 0 6 0a3 3 0 1 0 -6 0M853.72 2014.11a3 3 0 1 0 6 0a3 3 0 1 0 -6 0M866.75 2076.47a3 3 0 1 0 6 0a3 3 0 1 0 -6 0M880.28 2003.24a3 3 0 1 0 6 0a3 3 0 1 0 -6 0M873.82 2021.42a3 3 0 1 0 6 0a3 3 0 1 0 -6 0M868.81 1949.69a3 3 0 1 0 6 0a3 3 0 1 0 -6 0M860.08 2058.01a3 3 0 1 0 6 0a3 3 0 1 0 -6 0M877.6 2005.93a3 3 0 1 0 6 0a3 3 0 1 0 -6 0M844.13 2002.7a3 3 0 1 0 6 0a3 3 0 1 0 -6 0M866.73 2028.26a3 3 0 1 0 6 0a3 3 0 1 0 -6 0M834.71 1960.42a3 3 0 1 0 6 0a3 3 0 1 0 -6 0M854.45 2010.29a3 3 0 1 0 6 0a3 3 0 1 0 -6 0M843.32 1945.96a3 3 0 1 0 6 0a3 3 0 1 0 -6 0M824.75 1941.66a3 3 0 1 0 6 0a3 3 0 1 0 -6 0M838.48 1964.13a3 3 0 1 0 6 0a3 3 0 1 0 -6 0M858.84 1954.18a3 3 0 1 0 6 0a3 3 0 1 0 -6 0M792.13 1936.2a3 3 0 1 0 6 0a3 3 0 1 0 -6 0M842.55 1973.11a3 3 0 1 0 6 0a3 3 0 1 0 -6 0M867.45 1951.82a3 3 0 1 0 6 0a3 3 0 1 0 -6 0M873.83 1945.89a3 3 0 1 0 6 0a3 3 0 1 0 -6 0M864.9 1996.7a3 3 0 1 0 6 0a3 3 0 1 0 -6 0M839.37 1941.1a3 3 0 1 0 6 0a3 3 0 1 0 -6 0M847.38 1995.27a3 3 0 1 0 6 0a3 3 0 1 0 -6 0M856.29 1999.54a3 3 0 1 0 6 0a3 3 0 1 0 -6 0M842.55 1937.75a3 3 0 1 0 6 0a3 3 0 1 0 -6 0M867.98 2045.68a3 3 0 1 0 6 0a3 3 0 1 0 -6 0M871.89 2005.74a3 3 0 1 0 6 0a3 3 0 1 0 -6 0M834.57 1959.43a3 3 0 1 0 6 0a3 3 0 1 0 -6 0M879.78 1950.34a3 3 0 1 0 6 0a3 3 0 1 0 -6 0M858.53 1967.07a3 3 0 1 0 6 0a3 3 0 1 0 -6 0M873.83 2026.44a3 3 0 1 0 6 0a3 3 0 1 0 -6 0M853.96 1950.77a3 3 0 1 0 6 0a3 3 0 1 0 -6 0M873.15 2017.22a3 3 0 1 0 6 0a3 3 0 1 0 -6 0M790.17 2123.19a3 3 0 1 0 6 0a3 3 0 1 0 -6 0M774.43 2127.59a3 3 0 1 0 6 0a3 3 0 1 0 -6 0M784.79 2120.47a3 3 0 1 0 6 0a3 3 0 1 0 -6 0M765.97 2128.9a3 3 0 1 0 6 0a3 3 0 1 0 -6 0M797.54 2119.88a3 3 0 1 0 6 0a3 3 0 1 0 -6 0M788.37 2123.06a3 3 0 1 0 6 0a3 3 0 1 0 -6 0M795.39 2118.29a3 3 0 1 0 6 0a3 3 0 1 0 -6 0M799.57 2118.72a3 3 0 1 0 6 0a3 3 0 1 0 -6 0M800.19 2118.6a3 3 0 1 0 6 0a3 3 0 1 0 -6 0M798.71 2118.33a3 3 0 1 0 6 0a3 3 0 1 0 -6 0M821.82 2106.02a3 3 0 1 0 6 0a3 3 0 1 0 -6 0M817.76 2107.41a3 3 0 1 0 6 0a3 3 0 1 0 -6 0M820.07 2112.31a3 3 0 1 0 6 0a3 3 0 1 0 -6 0M838.15 2100.51a3 3 0 1 0 6 0a3 3 0 1 0 -6 0M832.09 2106.81a3 3 0 1 0 6 0a3 3 0 1 0 -6 0M835.03 2104.73a3 3 0 1 0 6 0a3 3 0 1 0 -6 0M844.47 2096.83a3 3 0 1 0 6 0a3 3 0 1 0 -6 0M853.37 2091.34a3 3 0 1 0 6 0a3 3 0 1 0 -6 0M854.77 2091.04a3 3 0 1 0 6 0a3 3 0 1 0 -6 0M867.17 2074.87a3 3 0 1 0 6 0a3 3 0 1 0 -6 0M869.62 2087.32a3 3 0 1 0 6 0a3 3 0 1 0 -6 0M875.41 2075.81a3 3 0 1 0 6 0a3 3 0 1 0 -6 0M879.09 2062.97a3 3 0 1 0 6 0a3 3 0 1 0 -6 0M878.27 2071.82a3 3 0 1 0 6 0a3 3 0 1 0 -6 0M880.44 2065.06a3 3 0 1 0 6 0a3 3 0 1 0 -6 0M880.76 2061.08a3 3 0 1 0 6 0a3 3 0 1 0 -6 0M877.26 2056.02a3 3 0 1 0 6 0a3 3 0 1 0 -6 0M874.73 2053.32a3 3 0 1 0 6 0a3 3 0 1 0 -6 0M880.53 2035.36a3 3 0 1 0 6 0a3 3 0 1 0 -6 0M876.2 2029.75a3 3 0 1 0 6 0a3 3 0 1 0 -6 0M888.77 2021.88a3 3 0 1 0 6 0a3 3 0 1 0 -6 0M881.28 2024.11a3 3 0 1 0 6 0a3 3 0 1 0 -6 0M884.97 2026.5a3 3 0 1 0 6 0a3 3 0 1 0 -6 0M889.47 2013.16a3 3 0 1 0 6 0a3 3 0 1 0 -6 0M891.12 2016.99a3 3 0 1 0 6 0a3 3 0 1 0 -6 0M882.06 1992.46a3 3 0 1 0 6 0a3 3 0 1 0 -6 0M890.52 2000.93a3 3 0 1 0 6 0a3 3 0 1 0 -6 0M884.97 1994.13a3 3 0 1 0 6 0a3 3 0 1 0 -6 0M876.27 1981.51a3 3 0 1 0 6 0a3 3 0 1 0 -6 0M874.32 1975.72a3 3 0 1 0 6 0a3 3 0 1 0 -6 0M880.97 1989.91a3 3 0 1 0 6 0a3 3 0 1 0 -6 0M879.57 1970.16a3 3 0 1 0 6 0a3 3 0 1 0 -6 0M878.26 1962.37a3 3 0 1 0 6 0a3 3 0 1 0 -6 0M891.31 1957.56a3 3 0 1 0 6 0a3 3 0 1 0 -6 0M890.75 1955.53a3 3 0 1 0 6 0a3 3 0 1 0 -6 0M887.52 1959.9a3 3 0 1 0 6 0a3 3 0 1 0 -6 0M907.47 1943.59a3 3 0 1 0 6 0a3 3 0 1 0 -6 0M907.08 1949.32a3 3 0 1 0 6 0a3 3 0 1 0 -6 0M910.94 1943.98a3 3 0 1 0 6 0a3 3 0 1 0 -6 0M909 1936.79a3 3 0 1 0 6 0a3 3 0 1 0 -6 0M864.12 1935.37a3 3 0 1 0 6 0a3 3 0 1 0 -6 0M882.3 1929.28a3 3 0 1 0 6 0a3 3 0 1 0 -6 0M874.24 1932.78a3 3 0 1 0 6 0a3 3 0 1 0 -6 0M882.22 1933.18a3 3 0 1 0 6 0a3 3 0 1 0 -6 0M861.14 1935.62a3 3 0 1 0 6 0a3 3 0 1 0 -6 0M853.52 1934.02a3 3 0 1 0 6 0a3 3 0 1 0 -6 0M810.54 1932.97a3 3 0 1 0 6 0a3 3 0 1 0 -6 0M816.63 1935.76a3 3 0 1 0 6 0a3 3 0 1 0 -6 0M809.62 1936.25a3 3 0 1 0 6 0a3 3 0 1 0 -6 0M819.53 1933.85a3 3 0 1 0 6 0a3 3 0 1 0 -6 0M835.92 1936.29a3 3 0 1 0 6 0a3 3 0 1 0 -6 0M814.08 1940.45a3 3 0 1 0 6 0a3 3 0 1 0 -6 0M841.79 1934.57a3 3 0 1 0 6 0a3 3 0 1 0 -6 0M818.84 1934.04a3 3 0 1 0 6 0a3 3 0 1 0 -6 0M894.51 1940.04a3 3 0 1 0 6 0a3 3 0 1 0 -6 0M803.77 1934.35a3 3 0 1 0 6 0a3 3 0 1 0 -6 0M843.82 1930.66a3 3 0 1 0 6 0a3 3 0 1 0 -6 0M792.65 1931.5a3 3 0 1 0 6 0a3 3 0 1 0 -6 0M786.71 1933.35a3 3 0 1 0 6 0a3 3 0 1 0 -6 0M899.73 1933.47a3 3 0 1 0 6 0a3 3 0 1 0 -6 0M848.93 1940.49a3 3 0 1 0 6 0a3 3 0 1 0 -6 0M899.14 1933.66a3 3 0 1 0 6 0a3 3 0 1 0 -6 0M902.04 1937.84a3 3 0 1 0 6 0a3 3 0 1 0 -6 0M820.03 1934.56a3 3 0 1 0 6 0a3 3 0 1 0 -6 0M784.32 1952.88a3 3 0 1 0 6 0a3 3 0 1 0 -6 0M784.41 1959.75a3 3 0 1 0 6 0a3 3 0 1 0 -6 0M782.6 1948.85a3 3 0 1 0 6 0a3 3 0 1 0 -6 0M776.31 1950.75a3 3 0 1 0 6 0a3 3 0 1 0 -6 0M782.22 1959.55a3 3 0 1 0 6 0a3 3 0 1 0 -6 0M783.3 1945.43a3 3 0 1 0 6 0a3 3 0 1 0 -6 0M775.09 1983.23a3 3 0 1 0 6 0a3 3 0 1 0 -6 0M779.53 1997.1a3 3 0 1 0 6 0a3 3 0 1 0 -6 0M777.99 1990.7a3 3 0 1 0 6 0a3 3 0 1 0 -6 0M778.6 1969.84a3 3 0 1 0 6 0a3 3 0 1 0 -6 0M776.21 1982.13a3 3 0 1 0 6 0a3 3 0 1 0 -6 0M778.77 1968.17a3 3 0 1 0 6 0a3 3 0 1 0 -6 0M781.97 1993.08a3 3 0 1 0 6 0a3 3 0 1 0 -6 0M778.44 2046.05a3 3 0 1 0 6 0a3 3 0 1 0 -6 0M774.1 2009.88a3 3 0 1 0 6 0a3 3 0 1 0 -6 0M775.49 2048.05a3 3 0 1 0 6 0a3 3 0 1 0 -6 0M775.14 2026.68a3 3 0 1 0 6 0a3 3 0 1 0 -6 0M774.3 2009.1a3 3 0 1 0 6 0a3 3 0 1 0 -6 0M774.3 2044.94a3 3 0 1 0 6 0a3 3 0 1 0 -6 0M775.09 2024.91a3 3 0 1 0 6 0a3 3 0 1 0 -6 0M773.44 2006.15a3 3 0 1 0 6 0a3 3 0 1 0 -6 0M772.14 2027.78a3 3 0 1 0 6 0a3 3 0 1 0 -6 0M774.7 2048.82a3 3 0 1 0 6 0a3 3 0 1 0 -6 0M774.35 2055.57a3 3 0 1 0 6 0a3 3 0 1 0 -6 0M771.48 2049.91a3 3 0 1 0 6 0a3 3 0 1 0 -6 0M776.49 2053.47a3 3 0 1 0 6 0a3 3 0 1 0 -6 0M769.1 2083.62a3 3 0 1 0 6 0a3 3 0 1 0 -6 0M775.78 2084.23a3 3 0 1 0 6 0a3 3 0 1 0 -6 0M769.81 2083.21a3 3 0 1 0 6 0a3 3 0 1 0 -6 0M772.33 2090.96a3 3 0 1 0 6 0a3 3 0 1 0 -6 0M764.6 2112.87a3 3 0 1 0 6 0a3 3 0 1 0 -6 0M765.59 2098.69a3 3 0 1 0 6 0a3 3 0 1 0 -6 0M767.29 2111.01a3 3 0 1 0 6 0a3 3 0 1 0 -6 0M766.28 2098.77a3 3 0 1 0 6 0a3 3 0 1 0 -6 0M763.73 2110.04a3 3 0 1 0 6 0a3 3 0 1 0 -6 0M759.49 2123.04a3 3 0 1 0 6 0a3 3 0 1 0 -6 0M765.48 2117.45a3 3 0 1 0 6 0a3 3 0 1 0 -6 0M907 1933.2a3 3 0 1 0 6 0a3 3 0 1 0 -6 0M895.33 2050.22a3 3 0 1 0 6 0a3 3 0 1 0 -6 0M885.79 1971.73a3 3 0 1 0 6 0a3 3 0 1 0 -6 0M953.55 2077.09a3 3 0 1 0 6 0a3 3 0 1 0 -6 0M932.22 1937.39a3 3 0 1 0 6 0a3 3 0 1 0 -6 0M884.28 1974.64a3 3 0 1 0 6 0a3 3 0 1 0 -6 0M864.93 2086.94a3 3 0 1 0 6 0a3 3 0 1 0 -6 0M906.79 2005.44a3 3 0 1 0 6 0a3 3 0 1 0 -6 0M883.76 2038.91a3 3 0 1 0 6 0a3 3 0 1 0 -6 0M889.89 2028.07a3 3 0 1 0 6 0a3 3 0 1 0 -6 0M949.02 2016.65a3 3 0 1 0 6 0a3 3 0 1 0 -6 0M925.74 2000.18a3 3 0 1 0 6 0a3 3 0 1 0 -6 0M932.45 1961.89a3 3 0 1 0 6 0a3 3 0 1 0 -6 0M914.18 1975.22a3 3 0 1 0 6 0a3 3 0 1 0 -6 0M903.87 1983.37a3 3 0 1 0 6 0a3 3 0 1 0 -6 0M938.41 1963.95a3 3 0 1 0 6 0a3 3 0 1 0 -6 0M942.3 1959.57a3 3 0 1 0 6 0a3 3 0 1 0 -6 0M886.25 2038.98a3 3 0 1 0 6 0a3 3 0 1 0 -6 0M905.6 1971.66a3 3 0 1 0 6 0a3 3 0 1 0 -6 0M931.39 2041.45a3 3 0 1 0 6 0a3 3 0 1 0 -6 0M914.3 2060.97a3 3 0 1 0 6 0a3 3 0 1 0 -6 0M909.47 1998.85a3 3 0 1 0 6 0a3 3 0 1 0 -6 0M900.42 2091.78a3 3 0 1 0 6 0a3 3 0 1 0 -6 0M925.43 2055.64a3 3 0 1 0 6 0a3 3 0 1 0 -6 0M914.88 1999.41a3 3 0 1 0 6 0a3 3 0 1 0 -6 0M926.2 2040.63a3 3 0 1 0 6 0a3 3 0 1 0 -6 0M916.31 2070.87a3 3 0 1 0 6 0a3 3 0 1 0 -6 0M900.35 2062.25a3 3 0 1 0 6 0a3 3 0 1 0 -6 0M911.79 2081.04a3 3 0 1 0 6 0a3 3 0 1 0 -6 0M894.2 1990.05a3 3 0 1 0 6 0a3 3 0 1 0 -6 0M915.14 2074.88a3 3 0 1 0 6 0a3 3 0 1 0 -6 0M871.46 2097.09a3 3 0 1 0 6 0a3 3 0 1 0 -6 0M892.84 1967.56a3 3 0 1 0 6 0a3 3 0 1 0 -6 0M908.93 1965.29a3 3 0 1 0 6 0a3 3 0 1 0 -6 0M917.54 1998.12a3 3 0 1 0 6 0a3 3 0 1 0 -6 0M910.59 2094.35a3 3 0 1 0 6 0a3 3 0 1 0 -6 0M924.98 1981.13a3 3 0 1 0 6 0a3 3 0 1 0 -6 0M905.2 2055.76a3 3 0 1 0 6 0a3 3 0 1 0 -6 0M897.99 2094.15a3 3 0 1 0 6 0a3 3 0 1 0 -6 0M928.5 1976.2a3 3 0 1 0 6 0a3 3 0 1 0 -6 0M885.62 1934.56a3 3 0 1 0 6 0a3 3 0 1 0 -6 0M867.38 2093.14a3 3 0 1 0 6 0a3 3 0 1 0 -6 0M943.25 1975.32a3 3 0 1 0 6 0a3 3 0 1 0 -6 0M918.56 1985.66a3 3 0 1 0 6 0a3 3 0 1 0 -6 0M910.12 2036.41a3 3 0 1 0 6 0a3 3 0 1 0 -6 0M880.9 2095.27a3 3 0 1 0 6 0a3 3 0 1 0 -6 0M878.39 1972.57a3 3 0 1 0 6 0a3 3 0 1 0 -6 0M895.4 2055.18a3 3 0 1 0 6 0a3 3 0 1 0 -6 0M899.77 1989.93a3 3 0 1 0 6 0a3 3 0 1 0 -6 0M896.09 2041.18a3 3 0 1 0 6 0a3 3 0 1 0 -6 0M889.88 1982.68a3 3 0 1 0 6 0a3 3 0 1 0 -6 0M898.3 1991.63a3 3 0 1 0 6 0a3 3 0 1 0 -6 0M951.63 2058.44a3 3 0 1 0 6 0a3 3 0 1 0 -6 0M936.56 1968a3 3 0 1 0 6 0a3 3 0 1 0 -6 0M935.36 1987.13a3 3 0 1 0 6 0a3 3 0 1 0 -6 0M896.12 1981.73a3 3 0 1 0 6 0a3 3 0 1 0 -6 0M891.12 2025.15a3 3 0 1 0 6 0a3 3 0 1 0 -6 0M905.66 2027.44a3 3 0 1 0 6 0a3 3 0 1 0 -6 0M925.29 2093.57a3 3 0 1 0 6 0a3 3 0 1 0 -6 0M904.29 2066.63a3 3 0 1 0 6 0a3 3 0 1 0 -6 0M932.16 2055.39a3 3 0 1 0 6 0a3 3 0 1 0 -6 0M932.92 1983.73a3 3 0 1 0 6 0a3 3 0 1 0 -6 0M915.24 1996.66a3 3 0 1 0 6 0a3 3 0 1 0 -6 0M879.51 2040.93a3 3 0 1 0 6 0a3 3 0 1 0 -6 0M949.75 2027.89a3 3 0 1 0 6 0a3 3 0 1 0 -6 0M900.9 2031.23a3 3 0 1 0 6 0a3 3 0 1 0 -6 0M926.57 1938.18a3 3 0 1 0 6 0a3 3 0 1 0 -6 0M867.79 2095.3a3 3 0 1 0 6 0a3 3 0 1 0 -6 0M912.61 2095.94a3 3 0 1 0 6 0a3 3 0 1 0 -6 0M927.81 2067.08a3 3 0 1 0 6 0a3 3 0 1 0 -6 0M948.77 2043.79a3 3 0 1 0 6 0a3 3 0 1 0 -6 0M897.94 1964.75a3 3 0 1 0 6 0a3 3 0 1 0 -6 0M939.92 2002.07a3 3 0 1 0 6 0a3 3 0 1 0 -6 0M876.67 2094.49a3 3 0 1 0 6 0a3 3 0 1 0 -6 0M909.65 1998.86a3 3 0 1 0 6 0a3 3 0 1 0 -6 0M913.4 1968.07a3 3 0 1 0 6 0a3 3 0 1 0 -6 0M904.41 2011.65a3 3 0 1 0 6 0a3 3 0 1 0 -6 0M915.18 2096.02a3 3 0 1 0 6 0a3 3 0 1 0 -6 0M879.23 2046.22a3 3 0 1 0 6 0a3 3 0 1 0 -6 0M935.5 1987.97a3 3 0 1 0 6 0a3 3 0 1 0 -6 0M893.8 2057.7a3 3 0 1 0 6 0a3 3 0 1 0 -6 0M891.88 1963.32a3 3 0 1 0 6 0a3 3 0 1 0 -6 0M916.39 1937.52a3 3 0 1 0 6 0a3 3 0 1 0 -6 0M911.08 2086.81a3 3 0 1 0 6 0a3 3 0 1 0 -6 0M944.54 1939.21a3 3 0 1 0 6 0a3 3 0 1 0 -6 0M889.54 2076.69a3 3 0 1 0 6 0a3 3 0 1 0 -6 0M951.93 1947.78a3 3 0 1 0 6 0a3 3 0 1 0 -6 0M922.11 2049.07a3 3 0 1 0 6 0a3 3 0 1 0 -6 0M916.16 2036.1a3 3 0 1 0 6 0a3 3 0 1 0 -6 0M919.91 1970.43a3 3 0 1 0 6 0a3 3 0 1 0 -6 0M892.58 2054.27a3 3 0 1 0 6 0a3 3 0 1 0 -6 0M905.59 2008a3 3 0 1 0 6 0a3 3 0 1 0 -6 0M898.88 1995.03a3 3 0 1 0 6 0a3 3 0 1 0 -6 0M902.33 2017.81a3 3 0 1 0 6 0a3 3 0 1 0 -6 0M892.51 1966a3 3 0 1 0 6 0a3 3 0 1 0 -6 0M883.07 1990.99a3 3 0 1 0 6 0a3 3 0 1 0 -6 0M923.25 1970.31a3 3 0 1 0 6 0a3 3 0 1 0 -6 0M896.96 2083.65a3 3 0 1 0 6 0a3 3 0 1 0 -6 0M881.4 2044.7a3 3 0 1 0 6 0a3 3 0 1 0 -6 0M897.94 2074.82a3 3 0 1 0 6 0a3 3 0 1 0 -6 0M946.73 1990.73a3 3 0 1 0 6 0a3 3 0 1 0 -6 0M933.62 2039.57a3 3 0 1 0 6 0a3 3 0 1 0 -6 0M956.48 2002.62a3 3 0 1 0 6 0a3 3 0 1 0 -6 0M945.2 2031.69a3 3 0 1 0 6 0a3 3 0 1 0 -6 0M868.25 1932.09a3 3 0 1 0 6 0a3 3 0 1 0 -6 0M908.66 1994.31a3 3 0 1 0 6 0a3 3 0 1 0 -6 0M915.77 2060.6a3 3 0 1 0 6 0a3 3 0 1 0 -6 0M896.71 2048.02a3 3 0 1 0 6 0a3 3 0 1 0 -6 0M920.38 1972.84a3 3 0 1 0 6 0a3 3 0 1 0 -6 0M954.26 2062.37a3 3 0 1 0 6 0a3 3 0 1 0 -6 0M842.92 1882.4a3 3 0 1 0 6 0a3 3 0 1 0 -6 0M851.21 1927.84a3 3 0 1 0 6 0a3 3 0 1 0 -6 0M809.25 1934.8a3 3 0 1 0 6 0a3 3 0 1 0 -6 0M893.28 1866.25a3 3 0 1 0 6 0a3 3 0 1 0 -6 0M909.43 1937.89a3 3 0 1 0 6 0a3 3 0 1 0 -6 0M895.87 1899.54a3 3 0 1 0 6 0a3 3 0 1 0 -6 0M850.94 1915.09a3 3 0 1 0 6 0a3 3 0 1 0 -6 0M816.3 1924.14a3 3 0 1 0 6 0a3 3 0 1 0 -6 0M828.41 1883.23a3 3 0 1 0 6 0a3 3 0 1 0 -6 0M823.31 1932.73a3 3 0 1 0 6 0a3 3 0 1 0 -6 0M810.18 1917.47a3 3 0 1 0 6 0a3 3 0 1 0 -6 0M910.29 1903.94a3 3 0 1 0 6 0a3 3 0 1 0 -6 0M784.46 1929.61a3 3 0 1 0 6 0a3 3 0 1 0 -6 0M795.67 1914.64a3 3 0 1 0 6 0a3 3 0 1 0 -6 0M895.57 1913.7a3 3 0 1 0 6 0a3 3 0 1 0 -6 0M908.38 1921.66a3 3 0 1 0 6 0a3 3 0 1 0 -6 0M799.29 1935.9a3 3 0 1 0 6 0a3 3 0 1 0 -6 0M844.43 1938.75a3 3 0 1 0 6 0a3 3 0 1 0 -6 0M858.55 1915.71a3 3 0 1 0 6 0a3 3 0 1 0 -6 0M879.71 1902.42a3 3 0 1 0 6 0a3 3 0 1 0 -6 0M809.58 1932.71a3 3 0 1 0 6 0a3 3 0 1 0 -6 0M892.14 1901.95a3 3 0 1 0 6 0a3 3 0 1 0 -6 0M909.89 1938.79a3 3 0 1 0 6 0a3 3 0 1 0 -6 0M826.1 1891.12a3 3 0 1 0 6 0a3 3 0 1 0 -6 0M858.08 1929.77a3 3 0 1 0 6 0a3 3 0 1 0 -6 0M892.29 1914.8a3 3 0 1 0 6 0a3 3 0 1 0 -6 0M800.15 1915.52a3 3 0 1 0 6 0a3 3 0 1 0 -6 0M839.71 1928.86a3 3 0 1 0 6 0a3 3 0 1 0 -6 0M845.48 1932.71a3 3 0 1 0 6 0a3 3 0 1 0 -6 0M838.4 1925.23a3 3 0 1 0 6 0a3 3 0 1 0 -6 0M787.04 1908.12a3 3 0 1 0 6 0a3 3 0 1 0 -6 0M894.79 1927.98a3 3 0 1 0 6 0a3 3 0 1 0 -6 0M910.4 1896.97a3 3 0 1 0 6 0a3 3 0 1 0 -6 0M824.07 1924.83a3 3 0 1 0 6 0a3 3 0 1 0 -6 0M890.62 1930.87a3 3 0 1 0 6 0a3 3 0 1 0 -6 0M886.46 1919.24a3 3 0 1 0 6 0a3 3 0 1 0 -6 0M846.8 1911.59a3 3 0 1 0 6 0a3 3 0 1 0 -6 0M814.68 1885.05a3 3 0 1 0 6 0a3 3 0 1 0 -6 0M893.29 1919.86a3 3 0 1 0 6 0a3 3 0 1 0 -6 0M827.55 1924.03a3 3 0 1 0 6 0a3 3 0 1 0 -6 0M877.39 1896.08a3 3 0 1 0 6 0a3 3 0 1 0 -6 0M840.09 1935.37a3 3 0 1 0 6 0a3 3 0 1 0 -6 0M845.03 1914.54a3 3 0 1 0 6 0a3 3 0 1 0 -6 0M814.53 1929.56a3 3 0 1 0 6 0a3 3 0 1 0 -6 0M807.02 1905.72a3 3 0 1 0 6 0a3 3 0 1 0 -6 0M856.65 1901.86a3 3 0 1 0 6 0a3 3 0 1 0 -6 0M858.85 1933.02a3 3 0 1 0 6 0a3 3 0 1 0 -6 0M792.95 1937.55a3 3 0 1 0 6 0a3 3 0 1 0 -6 0M813.93 1919.49a3 3 0 1 0 6 0a3 3 0 1 0 -6 0M790.47 1892.29a3 3 0 1 0 6 0a3 3 0 1 0 -6 0M889 1890.65a3 3 0 1 0 6 0a3 3 0 1 0 -6 0M789.16 1894.98a3 3 0 1 0 6 0a3 3 0 1 0 -6 0M887.91 1862.15a3 3 0 1 0 6 0a3 3 0 1 0 -6 0M860.42 1864.12a3 3 0 1 0 6 0a3 3 0 1 0 -6 0M872.85 1935.95a3 3 0 1 0 6 0a3 3 0 1 0 -6 0M888.35 1920.2a3 3 0 1 0 6 0a3 3 0 1 0 -6 0M907.03 1873.39a3 3 0 1 0 6 0a3 3 0 1 0 -6 0M835.56 1916.67a3 3 0 1 0 6 0a3 3 0 1 0 -6 0M835.44 1906.84a3 3 0 1 0 6 0a3 3 0 1 0 -6 0M844.47 1878.4a3 3 0 1 0 6 0a3 3 0 1 0 -6 0M896.59 1931.63a3 3 0 1 0 6 0a3 3 0 1 0 -6 0M825.81 1935.14a3 3 0 1 0 6 0a3 3 0 1 0 -6 0M871.69 1933.19a3 3 0 1 0 6 0a3 3 0 1 0 -6 0M823.1 1938.98a3 3 0 1 0 6 0a3 3 0 1 0 -6 0M852.59 1884.53a3 3 0 1 0 6 0a3 3 0 1 0 -6 0M876.81 1909.23a3 3 0 1 0 6 0a3 3 0 1 0 -6 0M918.94 1907.28a3 3 0 1 0 6 0a3 3 0 1 0 -6 0M875.09 1913.25a3 3 0 1 0 6 0a3 3 0 1 0 -6 0M896.52 1883.06a3 3 0 1 0 6 0a3 3 0 1 0 -6 0M890.85 1927.55a3 3 0 1 0 6 0a3 3 0 1 0 -6 0M825.93 1908.59a3 3 0 1 0 6 0a3 3 0 1 0 -6 0M799.95 1886.97a3 3 0 1 0 6 0a3 3 0 1 0 -6 0M853.36 1898.95a3 3 0 1 0 6 0a3 3 0 1 0 -6 0M816.76 1923.95a3 3 0 1 0 6 0a3 3 0 1 0 -6 0M824.84 1899.1a3 3 0 1 0 6 0a3 3 0 1 0 -6 0M790.68 1895.15a3 3 0 1 0 6 0a3 3 0 1 0 -6 0M853.34 1936.78a3 3 0 1 0 6 0a3 3 0 1 0 -6 0M798.69 1861.63a3 3 0 1 0 6 0a3 3 0 1 0 -6 0M873.74 1931.35a3 3 0 1 0 6 0a3 3 0 1 0 -6 0M869.07 1928.58a3 3 0 1 0 6 0a3 3 0 1 0 -6 0M793.05 1886.28a3 3 0 1 0 6 0a3 3 0 1 0 -6 0M808.92 1866.52a3 3 0 1 0 6 0a3 3 0 1 0 -6 0M811.01 1879.17a3 3 0 1 0 6 0a3 3 0 1 0 -6 0M855.86 1908.64a3 3 0 1 0 6 0a3 3 0 1 0 -6 0M898.86 1936.53a3 3 0 1 0 6 0a3 3 0 1 0 -6 0M795.42 1937.47a3 3 0 1 0 6 0a3 3 0 1 0 -6 0M918.98 1916.51a3 3 0 1 0 6 0a3 3 0 1 0 -6 0M852.37 1932.31a3 3 0 1 0 6 0a3 3 0 1 0 -6 0M824.6 1927.96a3 3 0 1 0 6 0a3 3 0 1 0 -6 0M906.49 1916.84a3 3 0 1 0 6 0a3 3 0 1 0 -6 0M798.87 1927.14a3 3 0 1 0 6 0a3 3 0 1 0 -6 0M815.03 1909.37a3 3 0 1 0 6 0a3 3 0 1 0 -6 0M792.96 1934.41a3 3 0 1 0 6 0a3 3 0 1 0 -6 0M826.34 1921.5a3 3 0 1 0 6 0a3 3 0 1 0 -6 0M855.9 1914.13a3 3 0 1 0 6 0a3 3 0 1 0 -6 0M812.76 1936.57a3 3 0 1 0 6 0a3 3 0 1 0 -6 0M850.09 1932.69a3 3 0 1 0 6 0a3 3 0 1 0 -6 0M838.01 1917.16a3 3 0 1 0 6 0a3 3 0 1 0 -6 0M853.46 1934.8a3 3 0 1 0 6 0a3 3 0 1 0 -6 0M791.38 1885.31a3 3 0 1 0 6 0a3 3 0 1 0 -6 0M843.95 1921.82a3 3 0 1 0 6 0a3 3 0 1 0 -6 0M816.19 1882.6a3 3 0 1 0 6 0a3 3 0 1 0 -6 0M823.53 1923.15a3 3 0 1 0 6 0a3 3 0 1 0 -6 0M789.93 1934.47a3 3 0 1 0 6 0a3 3 0 1 0 -6 0M830.24 1916.53a3 3 0 1 0 6 0a3 3 0 1 0 -6 0M788.11 1911.28a3 3 0 1 0 6 0a3 3 0 1 0 -6 0M819.26 1890.85a3 3 0 1 0 6 0a3 3 0 1 0 -6 0M914.5 1919.67a3 3 0 1 0 6 0a3 3 0 1 0 -6 0M855.67 1931.18a3 3 0 1 0 6 0a3 3 0 1 0 -6 0M822.3 1892.2a3 3 0 1 0 6 0a3 3 0 1 0 -6 0M864.71 1926.07a3 3 0 1 0 6 0a3 3 0 1 0 -6 0M837.78 1932.45a3 3 0 1 0 6 0a3 3 0 1 0 -6 0M811.01 1894.99a3 3 0 1 0 6 0a3 3 0 1 0 -6 0M819.28 1911.04a3 3 0 1 0 6 0a3 3 0 1 0 -6 0M874.33 1886.08a3 3 0 1 0 6 0a3 3 0 1 0 -6 0M851.33 1915.72a3 3 0 1 0 6 0a3 3 0 1 0 -6 0M813.99 1893.13a3 3 0 1 0 6 0a3 3 0 1 0 -6 0M871.91 1901.02a3 3 0 1 0 6 0a3 3 0 1 0 -6 0M841.41 1891.75a3 3 0 1 0 6 0a3 3 0 1 0 -6 0M831.02 1931.02a3 3 0 1 0 6 0a3 3 0 1 0 -6 0M861.6 1938.32a3 3 0 1 0 6 0a3 3 0 1 0 -6 0M812.49 1937.01a3 3 0 1 0 6 0a3 3 0 1 0 -6 0M806.6 1913.75a3 3 0 1 0 6 0a3 3 0 1 0 -6 0M873.04 1931.12a3 3 0 1 0 6 0a3 3 0 1 0 -6 0M877.04 1924.85a3 3 0 1 0 6 0a3 3 0 1 0 -6 0M861.04 1933.32a3 3 0 1 0 6 0a3 3 0 1 0 -6 0M807.53 1910.98a3 3 0 1 0 6 0a3 3 0 1 0 -6 0M863.44 1925.38a3 3 0 1 0 6 0a3 3 0 1 0 -6 0M850.1 1911.95a3 3 0 1 0 6 0a3 3 0 1 0 -6 0M840.88 1921.7a3 3 0 1 0 6 0a3 3 0 1 0 -6 0M812.54 1875.34a3 3 0 1 0 6 0a3 3 0 1 0 -6 0M833.36 1924.66a3 3 0 1 0 6 0a3 3 0 1 0 -6 0M805.28 1935.21a3 3 0 1 0 6 0a3 3 0 1 0 -6 0M878.35 1930.87a3 3 0 1 0 6 0a3 3 0 1 0 -6 0M832.19 1918.99a3 3 0 1 0 6 0a3 3 0 1 0 -6 0M851.46 1881.16a3 3 0 1 0 6 0a3 3 0 1 0 -6 0M919.95 1925.38a3 3 0 1 0 6 0a3 3 0 1 0 -6 0M846.54 1925.53a3 3 0 1 0 6 0a3 3 0 1 0 -6 0M818.3 1928.91a3 3 0 1 0 6 0a3 3 0 1 0 -6 0M856.61 1930.36a3 3 0 1 0 6 0a3 3 0 1 0 -6 0M917 1898.31a3 3 0 1 0 6 0a3 3 0 1 0 -6 0M786.22 1901.81a3 3 0 1 0 6 0a3 3 0 1 0 -6 0M913.2 1938.28a3 3 0 1 0 6 0a3 3 0 1 0 -6 0M824.84 1938.99a3 3 0 1 0 6 0a3 3 0 1 0 -6 0M838.25 1934.98a3 3 0 1 0 6 0a3 3 0 1 0 -6 0M813.58 1925.16a3 3 0 1 0 6 0a3 3 0 1 0 -6 0M830.34 1929.18a3 3 0 1 0 6 0a3 3 0 1 0 -6 0M784.52 1906.94a3 3 0 1 0 6 0a3 3 0 1 0 -6 0M899.57 1884.5a3 3 0 1 0 6 0a3 3 0 1 0 -6 0M835.41 1929.18a3 3 0 1 0 6 0a3 3 0 1 0 -6 0M828.65 1896.73a3 3 0 1 0 6 0a3 3 0 1 0 -6 0M890.53 1931.57a3 3 0 1 0 6 0a3 3 0 1 0 -6 0M849.78 1934.55a3 3 0 1 0 6 0a3 3 0 1 0 -6 0M808.61 1897.76a3 3 0 1 0 6 0a3 3 0 1 0 -6 0M859.52 1933.27a3 3 0 1 0 6 0a3 3 0 1 0 -6 0M823.1 1872.7a3 3 0 1 0 6 0a3 3 0 1 0 -6 0M907.35 1902.01a3 3 0 1 0 6 0a3 3 0 1 0 -6 0M856.04 1920.67a3 3 0 1 0 6 0a3 3 0 1 0 -6 0M810.71 1937.59a3 3 0 1 0 6 0a3 3 0 1 0 -6 0M789.23 1911.24a3 3 0 1 0 6 0a3 3 0 1 0 -6 0M794.01 1936.86a3 3 0 1 0 6 0a3 3 0 1 0 -6 0M915.02 1934.72a3 3 0 1 0 6 0a3 3 0 1 0 -6 0M823.44 1912.27a3 3 0 1 0 6 0a3 3 0 1 0 -6 0M866.46 1896.52a3 3 0 1 0 6 0a3 3 0 1 0 -6 0M863.37 1873.24a3 3 0 1 0 6 0a3 3 0 1 0 -6 0M786.28 1928.52a3 3 0 1 0 6 0a3 3 0 1 0 -6 0M833.91 1890.44a3 3 0 1 0 6 0a3 3 0 1 0 -6 0M857.91 1892.54a3 3 0 1 0 6 0a3 3 0 1 0 -6 0M814.44 1866.27a3 3 0 1 0 6 0a3 3 0 1 0 -6 0M855.67 1914.85a3 3 0 1 0 6 0a3 3 0 1 0 -6 0M801.33 1680a3 3 0 1 0 6 0a3 3 0 1 0 -6 0M905.33 1713.33a3 3 0 1 0 6 0a3 3 0 1 0 -6 0M959.67 1781a3 3 0 1 0 6 0a3 3 0 1 0 -6 0M1033.67 1820.67a3 3 0 1 0 6 0a3 3 0 1 0 -6 0M998.67 1839a3 3 0 1 0 6 0a3 3 0 1 0 -6 0M1021.33 1852.33a3 3 0 1 0 6 0a3 3 0 1 0 -6 0M1068 1868.33a3 3 0 1 0 6 0a3 3 0 1 0 -6 0M1023 1892.67a3 3 0 1 0 6 0a3 3 0 1 0 -6 0M1043.67 1889.33a3 3 0 1 0 6 0a3 3 0 1 0 -6 0M975.33 1903.33a3 3 0 1 0 6 0a3 3 0 1 0 -6 0M993.67 1911.67a3 3 0 1 0 6 0a3 3 0 1 0 -6 0M1015.33 1925a3 3 0 1 0 6 0a3 3 0 1 0 -6 0M1010.33 1936a3 3 0 1 0 6 0a3 3 0 1 0 -6 0M988 1928.33a3 3 0 1 0 6 0a3 3 0 1 0 -6 0M970.33 1915a3 3 0 1 0 6 0a3 3 0 1 0 -6 0M965.33 1908.33a3 3 0 1 0 6 0a3 3 0 1 0 -6 0M991.33 1918.33a3 3 0 1 0 6 0a3 3 0 1 0 -6 0M1045.33 1956a3 3 0 1 0 6 0a3 3 0 1 0 -6 0M998.67 1967.33a3 3 0 1 0 6 0a3 3 0 1 0 -6 0M1016.33 1973.33a3 3 0 1 0 6 0a3 3 0 1 0 -6 0M1013.67 1968.33a3 3 0 1 0 6 0a3 3 0 1 0 -6 0M997 1980.67a3 3 0 1 0 6 0a3 3 0 1 0 -6 0M978.67 1966a3 3 0 1 0 6 0a3 3 0 1 0 -6 0M968.67 1959a3 3 0 1 0 6 0a3 3 0 1 0 -6 0M958 1960a3 3 0 1 0 6 0a3 3 0 1 0 -6 0M948.67 1951.67a3 3 0 1 0 6 0a3 3 0 1 0 -6 0M948.67 1966.67a3 3 0 1 0 6 0a3 3 0 1 0 -6 0M947 1985a3 3 0 1 0 6 0a3 3 0 1 0 -6 0M955.33 1991.67a3 3 0 1 0 6 0a3 3 0 1 0 -6 0M972 1988.33a3 3 0 1 0 6 0a3 3 0 1 0 -6 0M980.33 1996.67a3 3 0 1 0 6 0a3 3 0 1 0 -6 0M959.67 2003.33a3 3 0 1 0 6 0a3 3 0 1 0 -6 0M1041.33 2004.33a3 3 0 1 0 6 0a3 3 0 1 0 -6 0M952 2013.33a3 3 0 1 0 6 0a3 3 0 1 0 -6 0M930.33 2021.67a3 3 0 1 0 6 0a3 3 0 1 0 -6 0M938.67 2031.67a3 3 0 1 0 6 0a3 3 0 1 0 -6 0M982.67 2023.33a3 3 0 1 0 6 0a3 3 0 1 0 -6 0M974.67 2030a3 3 0 1 0 6 0a3 3 0 1 0 -6 0M963.67 2028.33a3 3 0 1 0 6 0a3 3 0 1 0 -6 0M970.33 2043.33a3 3 0 1 0 6 0a3 3 0 1 0 -6 0M1010.33 2052.67a3 3 0 1 0 6 0a3 3 0 1 0 -6 0M923.67 2061.67a3 3 0 1 0 6 0a3 3 0 1 0 -6 0M928 2076.67a3 3 0 1 0 6 0a3 3 0 1 0 -6 0M902 2094.33a3 3 0 1 0 6 0a3 3 0 1 0 -6 0M887 2089.33a3 3 0 1 0 6 0a3 3 0 1 0 -6 0M873.67 2100a3 3 0 1 0 6 0a3 3 0 1 0 -6 0M918.67 2030.67a3 3 0 1 0 6 0a3 3 0 1 0 -6 0M922 2042.67a3 3 0 1 0 6 0a3 3 0 1 0 -6 0M817 1785a3 3 0 1 0 6 0a3 3 0 1 0 -6 0M810.33 1806a3 3 0 1 0 6 0a3 3 0 1 0 -6 0M817 1801.67a3 3 0 1 0 6 0a3 3 0 1 0 -6 0M853.67 1813.33a3 3 0 1 0 6 0a3 3 0 1 0 -6 0M843.67 1825a3 3 0 1 0 6 0a3 3 0 1 0 -6 0M818.67 1829.33a3 3 0 1 0 6 0a3 3 0 1 0 -6 0M793.67 1836a3 3 0 1 0 6 0a3 3 0 1 0 -6 0M855.33 1833.33a3 3 0 1 0 6 0a3 3 0 1 0 -6 0M892 1843.33a3 3 0 1 0 6 0a3 3 0 1 0 -6 0M843.67 1845a3 3 0 1 0 6 0a3 3 0 1 0 -6 0M799.33 1843.33a3 3 0 1 0 6 0a3 3 0 1 0 -6 0M830.33 1865a3 3 0 1 0 6 0a3 3 0 1 0 -6 0M843.67 1865a3 3 0 1 0 6 0a3 3 0 1 0 -6 0M880.33 1861.67a3 3 0 1 0 6 0a3 3 0 1 0 -6 0M873.67 1868.33a3 3 0 1 0 6 0a3 3 0 1 0 -6 0M947 1843.33a3 3 0 1 0 6 0a3 3 0 1 0 -6 0M923.67 1830.67a3 3 0 1 0 6 0a3 3 0 1 0 -6 0M930.33 1881.67a3 3 0 1 0 6 0a3 3 0 1 0 -6 0M918.67 1895a3 3 0 1 0 6 0a3 3 0 1 0 -6 0M910.33 1908.33a3 3 0 1 0 6 0a3 3 0 1 0 -6 0M897 1918.33a3 3 0 1 0 6 0a3 3 0 1 0 -6 0M903.67 1926.67a3 3 0 1 0 6 0a3 3 0 1 0 -6 0M930.33 1940a3 3 0 1 0 6 0a3 3 0 1 0 -6 0M937 1948.33a3 3 0 1 0 6 0a3 3 0 1 0 -6 0M923.67 1956.67a3 3 0 1 0 6 0a3 3 0 1 0 -6 0M938.67 1973.33a3 3 0 1 0 6 0a3 3 0 1 0 -6 0M930.33 1980a3 3 0 1 0 6 0a3 3 0 1 0 -6 0M917 2003.33a3 3 0 1 0 6 0a3 3 0 1 0 -6 0M910.33 2013.33a3 3 0 1 0 6 0a3 3 0 1 0 -6 0M903.67 2023.33a3 3 0 1 0 6 0a3 3 0 1 0 -6 0M910.33 2040a3 3 0 1 0 6 0a3 3 0 1 0 -6 0M900.33 2053.33a3 3 0 1 0 6 0a3 3 0 1 0 -6 0M893.67 2063.33a3 3 0 1 0 6 0a3 3 0 1 0 -6 0M883.67 2070a3 3 0 1 0 6 0a3 3 0 1 0 -6 0M873.67 2080a3 3 0 1 0 6 0a3 3 0 1 0 -6 0" fill="#d3d3d3"/>
<line x1="749.7" y1="2024.96" x2="1154.7" y2="2024.96" stroke="#f26b60" stroke-width="1.1" stroke-dasharray="4,3"/>
<path d="M887.4 1813.04a3 3 0 1 0 6 0a3 3 0 1 0 -6 0M835.28 1835.96a3 3 0 1 0 6 0a3 3 0 1 0 -6 0M888.97 1835.3a3 3 0 1 0 6 0a3 3 0 1 0 -6 0M896.43 1835.69a3 3 0 1 0 6 0a3 3 0 1 0 -6 0M829.38 1850.1a3 3 0 1 0 6 0a3 3 0 1 0 -6 0M959.69 1831.77a3 3 0 1 0 6 0a3 3 0 1 0 -6 0M955.1 1835.69a3 3 0 1 0 6 0a3 3 0 1 0 -6 0M948.56 1842.5a3 3 0 1 0 6 0a3 3 0 1 0 -6 0M939.13 1850.36a3 3 0 1 0 6 0a3 3 0 1 0 -6 0M931.92 1856.91a3 3 0 1 0 6 0a3 3 0 1 0 -6 0M948.56 1860.84a3 3 0 1 0 6 0a3 3 0 1 0 -6 0M821.92 1870.66a3 3 0 1 0 6 0a3 3 0 1 0 -6 0M877.84 1874.85a3 3 0 1 0 6 0a3 3 0 1 0 -6 0M881.77 1876.55a3 3 0 1 0 6 0a3 3 0 1 0 -6 0M918.83 1876.95a3 3 0 1 0 6 0a3 3 0 1 0 -6 0M935.46 1873.93a3 3 0 1 0 6 0a3 3 0 1 0 -6 0M939.39 1878.52a3 3 0 1 0 6 0a3 3 0 1 0 -6 0M939.39 1882.45a3 3 0 1 0 6 0a3 3 0 1 0 -6 0M945.02 1886.77a3 3 0 1 0 6 0a3 3 0 1 0 -6 0M855.58 1886.77a3 3 0 1 0 6 0a3 3 0 1 0 -6 0M890.93 1885.72a3 3 0 1 0 6 0a3 3 0 1 0 -6 0M896.43 1885.72a3 3 0 1 0 6 0a3 3 0 1 0 -6 0M888.97 1891.22a3 3 0 1 0 6 0a3 3 0 1 0 -6 0M894.86 1892.92a3 3 0 1 0 6 0a3 3 0 1 0 -6 0M904.03 1891.61a3 3 0 1 0 6 0a3 3 0 1 0 -6 0M906.65 1892.92a3 3 0 1 0 6 0a3 3 0 1 0 -6 0M894.6 1898.16a3 3 0 1 0 6 0a3 3 0 1 0 -6 0M933.5 1890.3a3 3 0 1 0 6 0a3 3 0 1 0 -6 0M930.88 1892.27a3 3 0 1 0 6 0a3 3 0 1 0 -6 0M926.29 1894.23a3 3 0 1 0 6 0a3 3 0 1 0 -6 0M922.36 1900.78a3 3 0 1 0 6 0a3 3 0 1 0 -6 0M835.28 1898.16a3 3 0 1 0 6 0a3 3 0 1 0 -6 0M812.36 1891.61a3 3 0 1 0 6 0a3 3 0 1 0 -6 0M883.08 1902.09a3 3 0 1 0 6 0a3 3 0 1 0 -6 0M877.84 1908.64a3 3 0 1 0 6 0a3 3 0 1 0 -6 0M862.78 1913.22a3 3 0 1 0 6 0a3 3 0 1 0 -6 0M855.31 1917.81a3 3 0 1 0 6 0a3 3 0 1 0 -6 0M892.24 1910.6a3 3 0 1 0 6 0a3 3 0 1 0 -6 0M894.86 1915.19a3 3 0 1 0 6 0a3 3 0 1 0 -6 0M890.93 1914.53a3 3 0 1 0 6 0a3 3 0 1 0 -6 0M896.83 1917.15a3 3 0 1 0 6 0a3 3 0 1 0 -6 0M911.89 1911.91a3 3 0 1 0 6 0a3 3 0 1 0 -6 0M915.16 1915.84a3 3 0 1 0 6 0a3 3 0 1 0 -6 0M926.29 1913.22a3 3 0 1 0 6 0a3 3 0 1 0 -6 0M958.12 1912.57a3 3 0 1 0 6 0a3 3 0 1 0 -6 0M939.39 1920.82a3 3 0 1 0 6 0a3 3 0 1 0 -6 0M909.53 1919.77a3 3 0 1 0 6 0a3 3 0 1 0 -6 0M905.99 1924.75a3 3 0 1 0 6 0a3 3 0 1 0 -6 0M913.85 1923.7a3 3 0 1 0 6 0a3 3 0 1 0 -6 0M917.13 1929.59a3 3 0 1 0 6 0a3 3 0 1 0 -6 0M900.76 1928.94a3 3 0 1 0 6 0a3 3 0 1 0 -6 0M902.72 1930.25a3 3 0 1 0 6 0a3 3 0 1 0 -6 0M872.34 1930.51a3 3 0 1 0 6 0a3 3 0 1 0 -6 0M879.8 1932.21a3 3 0 1 0 6 0a3 3 0 1 0 -6 0M866.71 1937.19a3 3 0 1 0 6 0a3 3 0 1 0 -6 0M852.04 1927.37a3 3 0 1 0 6 0a3 3 0 1 0 -6 0M843.13 1925.01a3 3 0 1 0 6 0a3 3 0 1 0 -6 0M829.38 1910.6a3 3 0 1 0 6 0a3 3 0 1 0 -6 0M810.39 1909.29a3 3 0 1 0 6 0a3 3 0 1 0 -6 0M803.19 1918.46a3 3 0 1 0 6 0a3 3 0 1 0 -6 0M829.38 1931.82a3 3 0 1 0 6 0a3 3 0 1 0 -6 0M911.89 1937.45a3 3 0 1 0 6 0a3 3 0 1 0 -6 0M877.84 1922.13a3 3 0 1 0 6 0a3 3 0 1 0 -6 0M935.46 1890.96a3 3 0 1 0 6 0a3 3 0 1 0 -6 0" fill="#f7931e"/>
<path d="M827.81 1772.44a3 3 0 1 0 6 0a3 3 0 1 0 -6 0M835.28 1818.01a3 3 0 1 0 6 0a3 3 0 1 0 -6 0M829.38 1843.81a3 3 0 1 0 6 0a3 3 0 1 0 -6 0M792.06 1852.98a3 3 0 1 0 6 0a3 3 0 1 0 -6 0M799.52 1857.17a3 3 0 1 0 6 0a3 3 0 1 0 -6 0M814.98 1864.11a3 3 0 1 0 6 0a3 3 0 1 0 -6 0M790.49 1876.16a3 3 0 1 0 6 0a3 3 0 1 0 -6 0M865 1874.59a3 3 0 1 0 6 0a3 3 0 1 0 -6 0M894.6 1876.82a3 3 0 1 0 6 0a3 3 0 1 0 -6 0M905.99 1864.5a3 3 0 1 0 6 0a3 3 0 1 0 -6 0M917.13 1835.96a3 3 0 1 0 6 0a3 3 0 1 0 -6 0M931.92 1834.25a3 3 0 1 0 6 0a3 3 0 1 0 -6 0M968.99 1858.87a3 3 0 1 0 6 0a3 3 0 1 0 -6 0M831.35 1889.65a3 3 0 1 0 6 0a3 3 0 1 0 -6 0M825.72 1893.32a3 3 0 1 0 6 0a3 3 0 1 0 -6 0M790.49 1896.85a3 3 0 1 0 6 0a3 3 0 1 0 -6 0M911.49 1890.57a3 3 0 1 0 6 0a3 3 0 1 0 -6 0M801.88 1906.02a3 3 0 1 0 6 0a3 3 0 1 0 -6 0M805.16 1905.36a3 3 0 1 0 6 0a3 3 0 1 0 -6 0M816.29 1906.02a3 3 0 1 0 6 0a3 3 0 1 0 -6 0M818.25 1911.26a3 3 0 1 0 6 0a3 3 0 1 0 -6 0M801.88 1911.26a3 3 0 1 0 6 0a3 3 0 1 0 -6 0M795.99 1917.81a3 3 0 1 0 6 0a3 3 0 1 0 -6 0M809.08 1920.42a3 3 0 1 0 6 0a3 3 0 1 0 -6 0M814.32 1926.32a3 3 0 1 0 6 0a3 3 0 1 0 -6 0M801.23 1927.63a3 3 0 1 0 6 0a3 3 0 1 0 -6 0M803.85 1936.79a3 3 0 1 0 6 0a3 3 0 1 0 -6 0M823.49 1935.48a3 3 0 1 0 6 0a3 3 0 1 0 -6 0M817.6 1937.45a3 3 0 1 0 6 0a3 3 0 1 0 -6 0M926.29 1920.82a3 3 0 1 0 6 0a3 3 0 1 0 -6 0M926.29 1926.58a3 3 0 1 0 6 0a3 3 0 1 0 -6 0M859.24 1923.7a3 3 0 1 0 6 0a3 3 0 1 0 -6 0M795.99 1888.99a3 3 0 1 0 6 0a3 3 0 1 0 -6 0" fill="#1a5fc8"/>
<path d="M831.35 1813.04a3 3 0 1 0 6 0a3 3 0 1 0 -6 0M838.81 1892.92a3 3 0 1 0 6 0a3 3 0 1 0 -6 0M911.49 1882.45a3 3 0 1 0 6 0a3 3 0 1 0 -6 0M898.14 1907.33a3 3 0 1 0 6 0a3 3 0 1 0 -6 0M918.7 1925.27a3 3 0 1 0 6 0a3 3 0 1 0 -6 0M888.97 1926.97a3 3 0 1 0 6 0a3 3 0 1 0 -6 0" fill="#ee0a14"/>
<rect x="749.1" y="1660.4" width="405.4" height="486.6" fill="none" stroke="#000" stroke-width="4.4"/>
<rect x="985.9" y="1666.9" width="160.9" height="140" fill="#fff" stroke="#333" stroke-width="1.1"/>
<text x="1066.4" y="1691.4" font-size="22.5" text-anchor="middle" style="font-weight:bold;" textLength="119" lengthAdjust="spacingAndGlyphs">ENRICHED</text>
<text x="1066.4" y="1716" font-size="22.5" text-anchor="middle" style="font-weight:bold;" textLength="130.5" lengthAdjust="spacingAndGlyphs">PATHWAYS</text>
<circle cx="1000.7" cy="1738.7" r="3.0" fill="#f7931e"/>
<text x="1021.5" y="1744.3" font-size="16.3" style="font-weight:bold;font-style:italic;" textLength="120.5" lengthAdjust="spacingAndGlyphs">WNT &amp; DREAM</text>
<circle cx="1000.7" cy="1756.6" r="3.0" fill="#ee0a14"/>
<text x="1021.5" y="1762.23" font-size="16.3" style="font-weight:bold;font-style:italic;" textLength="80.5" lengthAdjust="spacingAndGlyphs">WNT Only</text>
<circle cx="1000.7" cy="1774.5" r="3.0" fill="#1a5fc8"/>
<text x="1021.5" y="1780.16" font-size="16.3" style="font-weight:bold;font-style:italic;" textLength="103" lengthAdjust="spacingAndGlyphs">DREAM Only</text>
<circle cx="1000.7" cy="1792.4" r="3.0" fill="#d3d3d3"/>
<text x="1021.5" y="1798.09" font-size="16.3" style="font-weight:bold;font-style:italic;" textLength="58.5" lengthAdjust="spacingAndGlyphs">Neither</text>
<line x1="765" y1="2147.7" x2="765" y2="2151.7" stroke="#222" stroke-width="1.2"/>
<text x="765" y="2176.7" font-size="28.5" text-anchor="middle" style="font-weight:bold;">0.0</text>
<line x1="858.2" y1="2147.7" x2="858.2" y2="2151.7" stroke="#222" stroke-width="1.2"/>
<text x="858.2" y="2176.7" font-size="28.5" text-anchor="middle" style="font-weight:bold;">0.5</text>
<line x1="951.4" y1="2147.7" x2="951.4" y2="2151.7" stroke="#222" stroke-width="1.2"/>
<text x="951.4" y="2176.7" font-size="28.5" text-anchor="middle" style="font-weight:bold;">1.0</text>
<line x1="1044.6" y1="2147.7" x2="1044.6" y2="2151.7" stroke="#222" stroke-width="1.2"/>
<text x="1044.6" y="2176.7" font-size="28.5" text-anchor="middle" style="font-weight:bold;">1.5</text>
<line x1="1137.8" y1="2147.7" x2="1137.8" y2="2151.7" stroke="#222" stroke-width="1.2"/>
<text x="1137.8" y="2176.7" font-size="28.5" text-anchor="middle" style="font-weight:bold;">2.0</text>
<line x1="743.7" y1="2126.7" x2="747.7" y2="2126.7" stroke="#222" stroke-width="1.2"/>
<text x="740" y="2136.9" font-size="28.5" text-anchor="end" style="font-weight:bold;">0</text>
<line x1="743.7" y1="1970.3" x2="747.7" y2="1970.3" stroke="#222" stroke-width="1.2"/>
<text x="740" y="1980.5" font-size="28.5" text-anchor="end" style="font-weight:bold;">2</text>
<line x1="743.7" y1="1813.9" x2="747.7" y2="1813.9" stroke="#222" stroke-width="1.2"/>
<text x="740" y="1824.1" font-size="28.5" text-anchor="end" style="font-weight:bold;">4</text>
<text x="747.1" y="2225.8" font-size="41.5" style="font-weight:bold;" textLength="65.5" lengthAdjust="spacingAndGlyphs">log</text>
<text x="810.3" y="2232.5" font-size="25" style="font-weight:bold;">2</text>
<text x="826.6" y="2225.3" font-size="49" style="">(</text>
<text x="843" y="2225.8" font-size="41.5" style="font-weight:bold;" textLength="297" lengthAdjust="spacingAndGlyphs">Ratio of Means</text>
<text x="1140" y="2225.3" font-size="49" style="">)</text>
<g transform="translate(701.4 0) rotate(-90)">
<text x="-2056.8" y="0" font-size="40" style="font-weight:bold;">-</text>
<text x="-2039.8" y="0" font-size="40" style="font-weight:bold;">log</text>
<text x="-1978.7" y="7.7" font-size="29" style="font-weight:bold;">10</text>
<text x="-1946.1" y="0.5" font-size="49" style="">(</text>
<text x="-1927.9" y="0" font-size="40" style="font-weight:bold;" textLength="148" lengthAdjust="spacingAndGlyphs">QValue</text>
<text x="-1783" y="0.5" font-size="49" style="">)</text>
</g>
<text x="1184.6" y="1616.4" font-size="31.3" style="font-weight:bold;">F</text>
<rect x="1320.6" y="1629.5" width="93.7" height="561.4" fill="#fff"/>
<line x1="1320.6" y1="2167.6" x2="1414.3" y2="2167.6" stroke="#f3f3f3" stroke-width="0.8"/>
<line x1="1320.6" y1="2039.2" x2="1414.3" y2="2039.2" stroke="#f3f3f3" stroke-width="0.8"/>
<line x1="1320.6" y1="1910.8" x2="1414.3" y2="1910.8" stroke="#f3f3f3" stroke-width="0.8"/>
<line x1="1320.6" y1="1782.4" x2="1414.3" y2="1782.4" stroke="#f3f3f3" stroke-width="0.8"/>
<line x1="1320.6" y1="1654" x2="1414.3" y2="1654" stroke="#f3f3f3" stroke-width="0.8"/>
<line x1="1320.6" y1="2103.4" x2="1414.3" y2="2103.4" stroke="#ebebeb" stroke-width="1.1"/>
<line x1="1320.6" y1="1975" x2="1414.3" y2="1975" stroke="#ebebeb" stroke-width="1.1"/>
<line x1="1320.6" y1="1846.6" x2="1414.3" y2="1846.6" stroke="#ebebeb" stroke-width="1.1"/>
<line x1="1320.6" y1="1718.2" x2="1414.3" y2="1718.2" stroke="#ebebeb" stroke-width="1.1"/>
<line x1="1346.2" y1="1629.5" x2="1346.2" y2="2190.9" stroke="#ebebeb" stroke-width="1.1"/>
<line x1="1388.7" y1="1629.5" x2="1388.7" y2="2190.9" stroke="#ebebeb" stroke-width="1.1"/>
<rect x="1320.1" y="1609" width="94.7" height="20.5" fill="#d3d3d3" stroke="#c4c4c4" stroke-width="0.6"/>
<text x="1367.45" y="1625.6" font-size="16.6" text-anchor="middle" fill="#1a1a1a" style="font-weight:bold;font-style:italic;">EZH2</text>
<rect x="1329.6" y="1957.2" width="33.2" height="61.8" fill="none" stroke="#555" stroke-width="0.9"/>
<line x1="1329.6" y1="1985.6" x2="1362.8" y2="1985.6" stroke="#555" stroke-width="1.3"/>
<line x1="1346.2" y1="1957.2" x2="1346.2" y2="1867" stroke="#444" stroke-width="0.9"/>
<line x1="1346.2" y1="2019" x2="1346.2" y2="2102" stroke="#444" stroke-width="0.9"/>
<line x1="1329.9" y1="1867" x2="1362.5" y2="1867" stroke="#444" stroke-width="0.9"/>
<line x1="1329.9" y1="2102" x2="1362.5" y2="2102" stroke="#444" stroke-width="0.9"/>
<rect x="1372.1" y="1926.5" width="33.2" height="64" fill="none" stroke="#555" stroke-width="0.9"/>
<line x1="1372.1" y1="1961.4" x2="1405.3" y2="1961.4" stroke="#555" stroke-width="1.3"/>
<line x1="1388.7" y1="1926.5" x2="1388.7" y2="1834.4" stroke="#444" stroke-width="0.9"/>
<line x1="1388.7" y1="1990.5" x2="1388.7" y2="2032.5" stroke="#444" stroke-width="0.9"/>
<line x1="1372.4" y1="1834.4" x2="1405" y2="1834.4" stroke="#444" stroke-width="0.9"/>
<line x1="1372.4" y1="2032.5" x2="1405" y2="2032.5" stroke="#444" stroke-width="0.9"/>
<path d="M1341.03 1983.4a1.45 1.45 0 1 0 2.9 0a1.45 1.45 0 1 0 -2.9 0M1348.28 1931.57a1.45 1.45 0 1 0 2.9 0a1.45 1.45 0 1 0 -2.9 0M1349.44 1978.83a1.45 1.45 0 1 0 2.9 0a1.45 1.45 0 1 0 -2.9 0M1343.62 1927.96a1.45 1.45 0 1 0 2.9 0a1.45 1.45 0 1 0 -2.9 0M1345.28 1912.87a1.45 1.45 0 1 0 2.9 0a1.45 1.45 0 1 0 -2.9 0M1346.17 2000.49a1.45 1.45 0 1 0 2.9 0a1.45 1.45 0 1 0 -2.9 0M1350.21 2022.69a1.45 1.45 0 1 0 2.9 0a1.45 1.45 0 1 0 -2.9 0M1343.69 2007.87a1.45 1.45 0 1 0 2.9 0a1.45 1.45 0 1 0 -2.9 0M1339.56 1896.49a1.45 1.45 0 1 0 2.9 0a1.45 1.45 0 1 0 -2.9 0M1342.09 1994.68a1.45 1.45 0 1 0 2.9 0a1.45 1.45 0 1 0 -2.9 0M1341.2 2068.82a1.45 1.45 0 1 0 2.9 0a1.45 1.45 0 1 0 -2.9 0M1346.02 1973.9a1.45 1.45 0 1 0 2.9 0a1.45 1.45 0 1 0 -2.9 0M1349.44 2039.57a1.45 1.45 0 1 0 2.9 0a1.45 1.45 0 1 0 -2.9 0M1347.63 1926.07a1.45 1.45 0 1 0 2.9 0a1.45 1.45 0 1 0 -2.9 0M1344.07 1958.61a1.45 1.45 0 1 0 2.9 0a1.45 1.45 0 1 0 -2.9 0M1348.46 1913.09a1.45 1.45 0 1 0 2.9 0a1.45 1.45 0 1 0 -2.9 0M1350.1 2083.54a1.45 1.45 0 1 0 2.9 0a1.45 1.45 0 1 0 -2.9 0M1348.32 1966.99a1.45 1.45 0 1 0 2.9 0a1.45 1.45 0 1 0 -2.9 0M1345.76 1946.66a1.45 1.45 0 1 0 2.9 0a1.45 1.45 0 1 0 -2.9 0M1341.17 2060.76a1.45 1.45 0 1 0 2.9 0a1.45 1.45 0 1 0 -2.9 0M1339.43 1934.65a1.45 1.45 0 1 0 2.9 0a1.45 1.45 0 1 0 -2.9 0M1344.03 1990.03a1.45 1.45 0 1 0 2.9 0a1.45 1.45 0 1 0 -2.9 0M1349.81 2011.98a1.45 1.45 0 1 0 2.9 0a1.45 1.45 0 1 0 -2.9 0M1340.48 1969.99a1.45 1.45 0 1 0 2.9 0a1.45 1.45 0 1 0 -2.9 0M1341.21 1937.94a1.45 1.45 0 1 0 2.9 0a1.45 1.45 0 1 0 -2.9 0M1343.19 2018.36a1.45 1.45 0 1 0 2.9 0a1.45 1.45 0 1 0 -2.9 0M1347.64 2007.39a1.45 1.45 0 1 0 2.9 0a1.45 1.45 0 1 0 -2.9 0M1346.42 1978.57a1.45 1.45 0 1 0 2.9 0a1.45 1.45 0 1 0 -2.9 0M1347.9 1899.97a1.45 1.45 0 1 0 2.9 0a1.45 1.45 0 1 0 -2.9 0M1350.22 1995.16a1.45 1.45 0 1 0 2.9 0a1.45 1.45 0 1 0 -2.9 0M1345.18 1925.74a1.45 1.45 0 1 0 2.9 0a1.45 1.45 0 1 0 -2.9 0M1345.01 2012.9a1.45 1.45 0 1 0 2.9 0a1.45 1.45 0 1 0 -2.9 0M1348.39 1944.88a1.45 1.45 0 1 0 2.9 0a1.45 1.45 0 1 0 -2.9 0M1348.48 2081.6a1.45 1.45 0 1 0 2.9 0a1.45 1.45 0 1 0 -2.9 0M1340.21 1938.48a1.45 1.45 0 1 0 2.9 0a1.45 1.45 0 1 0 -2.9 0M1345.69 1977.41a1.45 1.45 0 1 0 2.9 0a1.45 1.45 0 1 0 -2.9 0M1348.69 2037.04a1.45 1.45 0 1 0 2.9 0a1.45 1.45 0 1 0 -2.9 0M1341.72 2013.92a1.45 1.45 0 1 0 2.9 0a1.45 1.45 0 1 0 -2.9 0M1341.59 1993.66a1.45 1.45 0 1 0 2.9 0a1.45 1.45 0 1 0 -2.9 0M1350.01 2045.89a1.45 1.45 0 1 0 2.9 0a1.45 1.45 0 1 0 -2.9 0M1345.14 1937.28a1.45 1.45 0 1 0 2.9 0a1.45 1.45 0 1 0 -2.9 0M1345.8 1968.7a1.45 1.45 0 1 0 2.9 0a1.45 1.45 0 1 0 -2.9 0M1349 1928a1.45 1.45 0 1 0 2.9 0a1.45 1.45 0 1 0 -2.9 0M1342.49 1992.13a1.45 1.45 0 1 0 2.9 0a1.45 1.45 0 1 0 -2.9 0M1346.29 2011.23a1.45 1.45 0 1 0 2.9 0a1.45 1.45 0 1 0 -2.9 0M1343.9 1982.6a1.45 1.45 0 1 0 2.9 0a1.45 1.45 0 1 0 -2.9 0M1344.36 1980.74a1.45 1.45 0 1 0 2.9 0a1.45 1.45 0 1 0 -2.9 0M1349.8 2007.43a1.45 1.45 0 1 0 2.9 0a1.45 1.45 0 1 0 -2.9 0M1346.7 1918.5a1.45 1.45 0 1 0 2.9 0a1.45 1.45 0 1 0 -2.9 0M1347.23 1980.84a1.45 1.45 0 1 0 2.9 0a1.45 1.45 0 1 0 -2.9 0M1349.8 2036.09a1.45 1.45 0 1 0 2.9 0a1.45 1.45 0 1 0 -2.9 0M1342.37 2004.64a1.45 1.45 0 1 0 2.9 0a1.45 1.45 0 1 0 -2.9 0M1347.26 2005.1a1.45 1.45 0 1 0 2.9 0a1.45 1.45 0 1 0 -2.9 0M1344.51 2050.77a1.45 1.45 0 1 0 2.9 0a1.45 1.45 0 1 0 -2.9 0M1342.32 1906.92a1.45 1.45 0 1 0 2.9 0a1.45 1.45 0 1 0 -2.9 0M1347.86 1977.26a1.45 1.45 0 1 0 2.9 0a1.45 1.45 0 1 0 -2.9 0M1343.68 1906.61a1.45 1.45 0 1 0 2.9 0a1.45 1.45 0 1 0 -2.9 0M1348.68 1992.01a1.45 1.45 0 1 0 2.9 0a1.45 1.45 0 1 0 -2.9 0M1345.53 2015.91a1.45 1.45 0 1 0 2.9 0a1.45 1.45 0 1 0 -2.9 0M1346.44 1959.18a1.45 1.45 0 1 0 2.9 0a1.45 1.45 0 1 0 -2.9 0M1343.75 2008.36a1.45 1.45 0 1 0 2.9 0a1.45 1.45 0 1 0 -2.9 0M1347.42 2039.02a1.45 1.45 0 1 0 2.9 0a1.45 1.45 0 1 0 -2.9 0M1339.31 2013.78a1.45 1.45 0 1 0 2.9 0a1.45 1.45 0 1 0 -2.9 0M1340.69 1929.8a1.45 1.45 0 1 0 2.9 0a1.45 1.45 0 1 0 -2.9 0M1343.79 1964.14a1.45 1.45 0 1 0 2.9 0a1.45 1.45 0 1 0 -2.9 0M1339.84 2009.2a1.45 1.45 0 1 0 2.9 0a1.45 1.45 0 1 0 -2.9 0M1339.79 1981.74a1.45 1.45 0 1 0 2.9 0a1.45 1.45 0 1 0 -2.9 0M1342.26 2026.27a1.45 1.45 0 1 0 2.9 0a1.45 1.45 0 1 0 -2.9 0M1339.28 1915.95a1.45 1.45 0 1 0 2.9 0a1.45 1.45 0 1 0 -2.9 0M1349.74 2018.08a1.45 1.45 0 1 0 2.9 0a1.45 1.45 0 1 0 -2.9 0M1345.13 1938.27a1.45 1.45 0 1 0 2.9 0a1.45 1.45 0 1 0 -2.9 0M1347.87 1962.48a1.45 1.45 0 1 0 2.9 0a1.45 1.45 0 1 0 -2.9 0M1342.27 1931.72a1.45 1.45 0 1 0 2.9 0a1.45 1.45 0 1 0 -2.9 0M1347.37 1919.26a1.45 1.45 0 1 0 2.9 0a1.45 1.45 0 1 0 -2.9 0M1339.27 1930.8a1.45 1.45 0 1 0 2.9 0a1.45 1.45 0 1 0 -2.9 0M1346.59 2012.71a1.45 1.45 0 1 0 2.9 0a1.45 1.45 0 1 0 -2.9 0M1347.88 2053.68a1.45 1.45 0 1 0 2.9 0a1.45 1.45 0 1 0 -2.9 0M1340.43 1956.27a1.45 1.45 0 1 0 2.9 0a1.45 1.45 0 1 0 -2.9 0M1349.44 2045.47a1.45 1.45 0 1 0 2.9 0a1.45 1.45 0 1 0 -2.9 0M1346 2012.78a1.45 1.45 0 1 0 2.9 0a1.45 1.45 0 1 0 -2.9 0M1341.01 2044.4a1.45 1.45 0 1 0 2.9 0a1.45 1.45 0 1 0 -2.9 0M1348.7 2037.37a1.45 1.45 0 1 0 2.9 0a1.45 1.45 0 1 0 -2.9 0M1340.95 2042.43a1.45 1.45 0 1 0 2.9 0a1.45 1.45 0 1 0 -2.9 0M1345.01 2017.35a1.45 1.45 0 1 0 2.9 0a1.45 1.45 0 1 0 -2.9 0M1349.6 2011.76a1.45 1.45 0 1 0 2.9 0a1.45 1.45 0 1 0 -2.9 0M1348.56 1968.85a1.45 1.45 0 1 0 2.9 0a1.45 1.45 0 1 0 -2.9 0M1350.07 2003.1a1.45 1.45 0 1 0 2.9 0a1.45 1.45 0 1 0 -2.9 0M1340.54 1980.98a1.45 1.45 0 1 0 2.9 0a1.45 1.45 0 1 0 -2.9 0M1348.66 2044.63a1.45 1.45 0 1 0 2.9 0a1.45 1.45 0 1 0 -2.9 0M1346.47 1988.16a1.45 1.45 0 1 0 2.9 0a1.45 1.45 0 1 0 -2.9 0M1350.01 2029.27a1.45 1.45 0 1 0 2.9 0a1.45 1.45 0 1 0 -2.9 0M1348.27 2018.88a1.45 1.45 0 1 0 2.9 0a1.45 1.45 0 1 0 -2.9 0M1349.67 2036.04a1.45 1.45 0 1 0 2.9 0a1.45 1.45 0 1 0 -2.9 0M1344.6 1921.61a1.45 1.45 0 1 0 2.9 0a1.45 1.45 0 1 0 -2.9 0M1349.89 1970.9a1.45 1.45 0 1 0 2.9 0a1.45 1.45 0 1 0 -2.9 0M1341.54 1976.93a1.45 1.45 0 1 0 2.9 0a1.45 1.45 0 1 0 -2.9 0M1341.72 1975.59a1.45 1.45 0 1 0 2.9 0a1.45 1.45 0 1 0 -2.9 0M1341.02 2013.87a1.45 1.45 0 1 0 2.9 0a1.45 1.45 0 1 0 -2.9 0M1344.44 1977.58a1.45 1.45 0 1 0 2.9 0a1.45 1.45 0 1 0 -2.9 0M1348.15 2004a1.45 1.45 0 1 0 2.9 0a1.45 1.45 0 1 0 -2.9 0M1339.43 1991.74a1.45 1.45 0 1 0 2.9 0a1.45 1.45 0 1 0 -2.9 0M1348.39 1986.66a1.45 1.45 0 1 0 2.9 0a1.45 1.45 0 1 0 -2.9 0M1345.03 1991.52a1.45 1.45 0 1 0 2.9 0a1.45 1.45 0 1 0 -2.9 0M1347.88 1967.47a1.45 1.45 0 1 0 2.9 0a1.45 1.45 0 1 0 -2.9 0M1341.29 1993.64a1.45 1.45 0 1 0 2.9 0a1.45 1.45 0 1 0 -2.9 0M1344.47 1962.4a1.45 1.45 0 1 0 2.9 0a1.45 1.45 0 1 0 -2.9 0M1347.62 1982.05a1.45 1.45 0 1 0 2.9 0a1.45 1.45 0 1 0 -2.9 0M1346.75 2004.32a1.45 1.45 0 1 0 2.9 0a1.45 1.45 0 1 0 -2.9 0M1339.6 2027.64a1.45 1.45 0 1 0 2.9 0a1.45 1.45 0 1 0 -2.9 0M1344.79 2001.58a1.45 1.45 0 1 0 2.9 0a1.45 1.45 0 1 0 -2.9 0M1339.94 2044.24a1.45 1.45 0 1 0 2.9 0a1.45 1.45 0 1 0 -2.9 0M1341.07 1949.2a1.45 1.45 0 1 0 2.9 0a1.45 1.45 0 1 0 -2.9 0M1339.9 1933.1a1.45 1.45 0 1 0 2.9 0a1.45 1.45 0 1 0 -2.9 0M1345.12 1979.4a1.45 1.45 0 1 0 2.9 0a1.45 1.45 0 1 0 -2.9 0M1341.34 2023.45a1.45 1.45 0 1 0 2.9 0a1.45 1.45 0 1 0 -2.9 0M1349.38 1969.77a1.45 1.45 0 1 0 2.9 0a1.45 1.45 0 1 0 -2.9 0M1345.61 2006.69a1.45 1.45 0 1 0 2.9 0a1.45 1.45 0 1 0 -2.9 0M1347.64 1983.01a1.45 1.45 0 1 0 2.9 0a1.45 1.45 0 1 0 -2.9 0M1348.47 2081.76a1.45 1.45 0 1 0 2.9 0a1.45 1.45 0 1 0 -2.9 0M1346.74 1978.44a1.45 1.45 0 1 0 2.9 0a1.45 1.45 0 1 0 -2.9 0M1344.87 1939.79a1.45 1.45 0 1 0 2.9 0a1.45 1.45 0 1 0 -2.9 0M1341.11 1977.99a1.45 1.45 0 1 0 2.9 0a1.45 1.45 0 1 0 -2.9 0M1347.53 2053.59a1.45 1.45 0 1 0 2.9 0a1.45 1.45 0 1 0 -2.9 0M1347.61 1985.57a1.45 1.45 0 1 0 2.9 0a1.45 1.45 0 1 0 -2.9 0M1345.98 1986.21a1.45 1.45 0 1 0 2.9 0a1.45 1.45 0 1 0 -2.9 0M1344.76 2024.25a1.45 1.45 0 1 0 2.9 0a1.45 1.45 0 1 0 -2.9 0M1341.19 1984.37a1.45 1.45 0 1 0 2.9 0a1.45 1.45 0 1 0 -2.9 0M1347.14 2008.89a1.45 1.45 0 1 0 2.9 0a1.45 1.45 0 1 0 -2.9 0M1347.7 1990.98a1.45 1.45 0 1 0 2.9 0a1.45 1.45 0 1 0 -2.9 0M1347.79 2018.21a1.45 1.45 0 1 0 2.9 0a1.45 1.45 0 1 0 -2.9 0M1339.88 2016.4a1.45 1.45 0 1 0 2.9 0a1.45 1.45 0 1 0 -2.9 0M1341.78 2026.16a1.45 1.45 0 1 0 2.9 0a1.45 1.45 0 1 0 -2.9 0M1341.06 1975.24a1.45 1.45 0 1 0 2.9 0a1.45 1.45 0 1 0 -2.9 0M1339.65 2091.19a1.45 1.45 0 1 0 2.9 0a1.45 1.45 0 1 0 -2.9 0M1341.63 2049.07a1.45 1.45 0 1 0 2.9 0a1.45 1.45 0 1 0 -2.9 0M1349.52 1897.35a1.45 1.45 0 1 0 2.9 0a1.45 1.45 0 1 0 -2.9 0M1350.15 1966.98a1.45 1.45 0 1 0 2.9 0a1.45 1.45 0 1 0 -2.9 0M1346.68 2071.27a1.45 1.45 0 1 0 2.9 0a1.45 1.45 0 1 0 -2.9 0M1343.62 1969.86a1.45 1.45 0 1 0 2.9 0a1.45 1.45 0 1 0 -2.9 0M1346.56 1939.4a1.45 1.45 0 1 0 2.9 0a1.45 1.45 0 1 0 -2.9 0M1339.58 2030.49a1.45 1.45 0 1 0 2.9 0a1.45 1.45 0 1 0 -2.9 0M1341.7 1926.49a1.45 1.45 0 1 0 2.9 0a1.45 1.45 0 1 0 -2.9 0M1347.49 1980.7a1.45 1.45 0 1 0 2.9 0a1.45 1.45 0 1 0 -2.9 0M1348.89 1958.02a1.45 1.45 0 1 0 2.9 0a1.45 1.45 0 1 0 -2.9 0M1339.34 1942.43a1.45 1.45 0 1 0 2.9 0a1.45 1.45 0 1 0 -2.9 0M1341.97 1956.41a1.45 1.45 0 1 0 2.9 0a1.45 1.45 0 1 0 -2.9 0M1348.45 1942.37a1.45 1.45 0 1 0 2.9 0a1.45 1.45 0 1 0 -2.9 0M1348.52 1930.17a1.45 1.45 0 1 0 2.9 0a1.45 1.45 0 1 0 -2.9 0M1341.79 1992.89a1.45 1.45 0 1 0 2.9 0a1.45 1.45 0 1 0 -2.9 0M1346.55 1939.17a1.45 1.45 0 1 0 2.9 0a1.45 1.45 0 1 0 -2.9 0M1344.42 1975.26a1.45 1.45 0 1 0 2.9 0a1.45 1.45 0 1 0 -2.9 0M1345.31 1908.21a1.45 1.45 0 1 0 2.9 0a1.45 1.45 0 1 0 -2.9 0M1342.2 1913.54a1.45 1.45 0 1 0 2.9 0a1.45 1.45 0 1 0 -2.9 0M1347.24 2060.54a1.45 1.45 0 1 0 2.9 0a1.45 1.45 0 1 0 -2.9 0M1348.61 1986.57a1.45 1.45 0 1 0 2.9 0a1.45 1.45 0 1 0 -2.9 0M1341.35 1978.92a1.45 1.45 0 1 0 2.9 0a1.45 1.45 0 1 0 -2.9 0M1348.6 1999.85a1.45 1.45 0 1 0 2.9 0a1.45 1.45 0 1 0 -2.9 0M1343.52 1914.16a1.45 1.45 0 1 0 2.9 0a1.45 1.45 0 1 0 -2.9 0M1339.45 1995.36a1.45 1.45 0 1 0 2.9 0a1.45 1.45 0 1 0 -2.9 0M1345.34 2030.54a1.45 1.45 0 1 0 2.9 0a1.45 1.45 0 1 0 -2.9 0M1343.74 1970.93a1.45 1.45 0 1 0 2.9 0a1.45 1.45 0 1 0 -2.9 0M1346.33 1957.83a1.45 1.45 0 1 0 2.9 0a1.45 1.45 0 1 0 -2.9 0M1345.52 1979.55a1.45 1.45 0 1 0 2.9 0a1.45 1.45 0 1 0 -2.9 0M1342.26 1953.99a1.45 1.45 0 1 0 2.9 0a1.45 1.45 0 1 0 -2.9 0M1342.63 2049.21a1.45 1.45 0 1 0 2.9 0a1.45 1.45 0 1 0 -2.9 0M1349.13 2011.1a1.45 1.45 0 1 0 2.9 0a1.45 1.45 0 1 0 -2.9 0M1339.97 1972.92a1.45 1.45 0 1 0 2.9 0a1.45 1.45 0 1 0 -2.9 0M1340.45 1988.25a1.45 1.45 0 1 0 2.9 0a1.45 1.45 0 1 0 -2.9 0M1347.3 2024.28a1.45 1.45 0 1 0 2.9 0a1.45 1.45 0 1 0 -2.9 0M1350.09 1983.51a1.45 1.45 0 1 0 2.9 0a1.45 1.45 0 1 0 -2.9 0M1341.68 2020.67a1.45 1.45 0 1 0 2.9 0a1.45 1.45 0 1 0 -2.9 0M1349.27 1975.02a1.45 1.45 0 1 0 2.9 0a1.45 1.45 0 1 0 -2.9 0M1350.25 1948.31a1.45 1.45 0 1 0 2.9 0a1.45 1.45 0 1 0 -2.9 0M1344.23 2071.97a1.45 1.45 0 1 0 2.9 0a1.45 1.45 0 1 0 -2.9 0M1340.8 1986.33a1.45 1.45 0 1 0 2.9 0a1.45 1.45 0 1 0 -2.9 0M1346.87 2027.04a1.45 1.45 0 1 0 2.9 0a1.45 1.45 0 1 0 -2.9 0M1345.49 2024.83a1.45 1.45 0 1 0 2.9 0a1.45 1.45 0 1 0 -2.9 0M1341.92 1944.22a1.45 1.45 0 1 0 2.9 0a1.45 1.45 0 1 0 -2.9 0M1347.62 1910.73a1.45 1.45 0 1 0 2.9 0a1.45 1.45 0 1 0 -2.9 0M1347.66 1975.21a1.45 1.45 0 1 0 2.9 0a1.45 1.45 0 1 0 -2.9 0M1346.15 2004.87a1.45 1.45 0 1 0 2.9 0a1.45 1.45 0 1 0 -2.9 0M1343.33 1949.04a1.45 1.45 0 1 0 2.9 0a1.45 1.45 0 1 0 -2.9 0M1345.06 1987.1a1.45 1.45 0 1 0 2.9 0a1.45 1.45 0 1 0 -2.9 0M1348.64 2041.01a1.45 1.45 0 1 0 2.9 0a1.45 1.45 0 1 0 -2.9 0M1345 1962.32a1.45 1.45 0 1 0 2.9 0a1.45 1.45 0 1 0 -2.9 0M1348.63 1964.44a1.45 1.45 0 1 0 2.9 0a1.45 1.45 0 1 0 -2.9 0M1341.42 1904.03a1.45 1.45 0 1 0 2.9 0a1.45 1.45 0 1 0 -2.9 0M1342.73 2031.72a1.45 1.45 0 1 0 2.9 0a1.45 1.45 0 1 0 -2.9 0M1341.21 1984.98a1.45 1.45 0 1 0 2.9 0a1.45 1.45 0 1 0 -2.9 0M1340.93 1952.73a1.45 1.45 0 1 0 2.9 0a1.45 1.45 0 1 0 -2.9 0M1349.94 1962.91a1.45 1.45 0 1 0 2.9 0a1.45 1.45 0 1 0 -2.9 0M1346.12 2036.47a1.45 1.45 0 1 0 2.9 0a1.45 1.45 0 1 0 -2.9 0M1345.27 1979.93a1.45 1.45 0 1 0 2.9 0a1.45 1.45 0 1 0 -2.9 0M1341.78 2091.8a1.45 1.45 0 1 0 2.9 0a1.45 1.45 0 1 0 -2.9 0M1341.03 2026.91a1.45 1.45 0 1 0 2.9 0a1.45 1.45 0 1 0 -2.9 0M1345.33 1958.35a1.45 1.45 0 1 0 2.9 0a1.45 1.45 0 1 0 -2.9 0M1339.53 1979.69a1.45 1.45 0 1 0 2.9 0a1.45 1.45 0 1 0 -2.9 0M1340.36 2025.86a1.45 1.45 0 1 0 2.9 0a1.45 1.45 0 1 0 -2.9 0M1344.38 2005.71a1.45 1.45 0 1 0 2.9 0a1.45 1.45 0 1 0 -2.9 0M1349.9 1962.72a1.45 1.45 0 1 0 2.9 0a1.45 1.45 0 1 0 -2.9 0M1345.87 1980.87a1.45 1.45 0 1 0 2.9 0a1.45 1.45 0 1 0 -2.9 0M1341.05 1943.15a1.45 1.45 0 1 0 2.9 0a1.45 1.45 0 1 0 -2.9 0M1339.39 1896.28a1.45 1.45 0 1 0 2.9 0a1.45 1.45 0 1 0 -2.9 0M1343.57 2080.1a1.45 1.45 0 1 0 2.9 0a1.45 1.45 0 1 0 -2.9 0M1345.37 1982.42a1.45 1.45 0 1 0 2.9 0a1.45 1.45 0 1 0 -2.9 0M1348.14 1993.97a1.45 1.45 0 1 0 2.9 0a1.45 1.45 0 1 0 -2.9 0M1349.45 1957.03a1.45 1.45 0 1 0 2.9 0a1.45 1.45 0 1 0 -2.9 0M1345.82 1994.23a1.45 1.45 0 1 0 2.9 0a1.45 1.45 0 1 0 -2.9 0M1339.79 1988.04a1.45 1.45 0 1 0 2.9 0a1.45 1.45 0 1 0 -2.9 0M1344.53 2018.43a1.45 1.45 0 1 0 2.9 0a1.45 1.45 0 1 0 -2.9 0M1350.06 1950.79a1.45 1.45 0 1 0 2.9 0a1.45 1.45 0 1 0 -2.9 0M1350.06 1989.49a1.45 1.45 0 1 0 2.9 0a1.45 1.45 0 1 0 -2.9 0M1349.63 2035.18a1.45 1.45 0 1 0 2.9 0a1.45 1.45 0 1 0 -2.9 0M1339.53 1976.49a1.45 1.45 0 1 0 2.9 0a1.45 1.45 0 1 0 -2.9 0M1347.43 2010.35a1.45 1.45 0 1 0 2.9 0a1.45 1.45 0 1 0 -2.9 0M1344.65 1999.01a1.45 1.45 0 1 0 2.9 0a1.45 1.45 0 1 0 -2.9 0M1348.85 2019.59a1.45 1.45 0 1 0 2.9 0a1.45 1.45 0 1 0 -2.9 0M1348.33 2015.73a1.45 1.45 0 1 0 2.9 0a1.45 1.45 0 1 0 -2.9 0M1341.63 1927.24a1.45 1.45 0 1 0 2.9 0a1.45 1.45 0 1 0 -2.9 0M1349.5 1976.25a1.45 1.45 0 1 0 2.9 0a1.45 1.45 0 1 0 -2.9 0M1346.62 1916.46a1.45 1.45 0 1 0 2.9 0a1.45 1.45 0 1 0 -2.9 0M1349.14 2027.92a1.45 1.45 0 1 0 2.9 0a1.45 1.45 0 1 0 -2.9 0M1349.27 1985.08a1.45 1.45 0 1 0 2.9 0a1.45 1.45 0 1 0 -2.9 0M1346.42 1947.45a1.45 1.45 0 1 0 2.9 0a1.45 1.45 0 1 0 -2.9 0M1346.55 2008.6a1.45 1.45 0 1 0 2.9 0a1.45 1.45 0 1 0 -2.9 0M1339.38 1900.09a1.45 1.45 0 1 0 2.9 0a1.45 1.45 0 1 0 -2.9 0M1347.3 1916.28a1.45 1.45 0 1 0 2.9 0a1.45 1.45 0 1 0 -2.9 0M1340.17 2014.25a1.45 1.45 0 1 0 2.9 0a1.45 1.45 0 1 0 -2.9 0M1347.6 1967.14a1.45 1.45 0 1 0 2.9 0a1.45 1.45 0 1 0 -2.9 0M1339.66 1983.76a1.45 1.45 0 1 0 2.9 0a1.45 1.45 0 1 0 -2.9 0M1343.76 1995.12a1.45 1.45 0 1 0 2.9 0a1.45 1.45 0 1 0 -2.9 0M1342.34 1945.99a1.45 1.45 0 1 0 2.9 0a1.45 1.45 0 1 0 -2.9 0M1339.98 1940.33a1.45 1.45 0 1 0 2.9 0a1.45 1.45 0 1 0 -2.9 0M1343.66 1953.79a1.45 1.45 0 1 0 2.9 0a1.45 1.45 0 1 0 -2.9 0M1340.26 1989.81a1.45 1.45 0 1 0 2.9 0a1.45 1.45 0 1 0 -2.9 0M1347.3 1966.51a1.45 1.45 0 1 0 2.9 0a1.45 1.45 0 1 0 -2.9 0M1346.07 1937.45a1.45 1.45 0 1 0 2.9 0a1.45 1.45 0 1 0 -2.9 0M1349.25 1961.09a1.45 1.45 0 1 0 2.9 0a1.45 1.45 0 1 0 -2.9 0M1348.83 2046.99a1.45 1.45 0 1 0 2.9 0a1.45 1.45 0 1 0 -2.9 0M1340.52 2036.85a1.45 1.45 0 1 0 2.9 0a1.45 1.45 0 1 0 -2.9 0M1342.22 1906.42a1.45 1.45 0 1 0 2.9 0a1.45 1.45 0 1 0 -2.9 0M1344.46 1958.79a1.45 1.45 0 1 0 2.9 0a1.45 1.45 0 1 0 -2.9 0M1343.57 1997.09a1.45 1.45 0 1 0 2.9 0a1.45 1.45 0 1 0 -2.9 0M1344.41 1961.36a1.45 1.45 0 1 0 2.9 0a1.45 1.45 0 1 0 -2.9 0M1340.37 1970.96a1.45 1.45 0 1 0 2.9 0a1.45 1.45 0 1 0 -2.9 0M1345.9 2014.68a1.45 1.45 0 1 0 2.9 0a1.45 1.45 0 1 0 -2.9 0M1342.45 1954.5a1.45 1.45 0 1 0 2.9 0a1.45 1.45 0 1 0 -2.9 0M1348.93 2021.59a1.45 1.45 0 1 0 2.9 0a1.45 1.45 0 1 0 -2.9 0M1340.48 1979.7a1.45 1.45 0 1 0 2.9 0a1.45 1.45 0 1 0 -2.9 0M1345.74 1995.61a1.45 1.45 0 1 0 2.9 0a1.45 1.45 0 1 0 -2.9 0M1343.77 2028.65a1.45 1.45 0 1 0 2.9 0a1.45 1.45 0 1 0 -2.9 0M1340.53 1954.38a1.45 1.45 0 1 0 2.9 0a1.45 1.45 0 1 0 -2.9 0M1345.95 1977.21a1.45 1.45 0 1 0 2.9 0a1.45 1.45 0 1 0 -2.9 0M1342.61 2081.13a1.45 1.45 0 1 0 2.9 0a1.45 1.45 0 1 0 -2.9 0M1340.46 1997.6a1.45 1.45 0 1 0 2.9 0a1.45 1.45 0 1 0 -2.9 0M1345.85 2021.32a1.45 1.45 0 1 0 2.9 0a1.45 1.45 0 1 0 -2.9 0M1343.82 2071.82a1.45 1.45 0 1 0 2.9 0a1.45 1.45 0 1 0 -2.9 0M1340.65 2029.56a1.45 1.45 0 1 0 2.9 0a1.45 1.45 0 1 0 -2.9 0M1342.27 1999.63a1.45 1.45 0 1 0 2.9 0a1.45 1.45 0 1 0 -2.9 0M1349.97 1992.06a1.45 1.45 0 1 0 2.9 0a1.45 1.45 0 1 0 -2.9 0M1349.82 2015.92a1.45 1.45 0 1 0 2.9 0a1.45 1.45 0 1 0 -2.9 0M1340.24 1954.73a1.45 1.45 0 1 0 2.9 0a1.45 1.45 0 1 0 -2.9 0M1349.32 1977.38a1.45 1.45 0 1 0 2.9 0a1.45 1.45 0 1 0 -2.9 0M1340.68 2059.34a1.45 1.45 0 1 0 2.9 0a1.45 1.45 0 1 0 -2.9 0M1339.39 2027.85a1.45 1.45 0 1 0 2.9 0a1.45 1.45 0 1 0 -2.9 0M1341.08 1972.02a1.45 1.45 0 1 0 2.9 0a1.45 1.45 0 1 0 -2.9 0M1346.97 1974.43a1.45 1.45 0 1 0 2.9 0a1.45 1.45 0 1 0 -2.9 0M1347.05 1972.1a1.45 1.45 0 1 0 2.9 0a1.45 1.45 0 1 0 -2.9 0M1348.41 2050.61a1.45 1.45 0 1 0 2.9 0a1.45 1.45 0 1 0 -2.9 0M1348.47 1931.19a1.45 1.45 0 1 0 2.9 0a1.45 1.45 0 1 0 -2.9 0M1340.91 1973.6a1.45 1.45 0 1 0 2.9 0a1.45 1.45 0 1 0 -2.9 0M1339.73 1944.18a1.45 1.45 0 1 0 2.9 0a1.45 1.45 0 1 0 -2.9 0M1346.57 1926.81a1.45 1.45 0 1 0 2.9 0a1.45 1.45 0 1 0 -2.9 0M1345.26 1990.15a1.45 1.45 0 1 0 2.9 0a1.45 1.45 0 1 0 -2.9 0M1342.49 1986.94a1.45 1.45 0 1 0 2.9 0a1.45 1.45 0 1 0 -2.9 0M1343.85 1977.63a1.45 1.45 0 1 0 2.9 0a1.45 1.45 0 1 0 -2.9 0M1349.07 1952.75a1.45 1.45 0 1 0 2.9 0a1.45 1.45 0 1 0 -2.9 0M1340 1972.92a1.45 1.45 0 1 0 2.9 0a1.45 1.45 0 1 0 -2.9 0M1347.04 2024.49a1.45 1.45 0 1 0 2.9 0a1.45 1.45 0 1 0 -2.9 0M1345.82 2013.22a1.45 1.45 0 1 0 2.9 0a1.45 1.45 0 1 0 -2.9 0M1347.82 1891.79a1.45 1.45 0 1 0 2.9 0a1.45 1.45 0 1 0 -2.9 0M1347.8 2066.74a1.45 1.45 0 1 0 2.9 0a1.45 1.45 0 1 0 -2.9 0M1350.07 1948.88a1.45 1.45 0 1 0 2.9 0a1.45 1.45 0 1 0 -2.9 0M1344.73 2013.78a1.45 1.45 0 1 0 2.9 0a1.45 1.45 0 1 0 -2.9 0M1346.44 1973.2a1.45 1.45 0 1 0 2.9 0a1.45 1.45 0 1 0 -2.9 0M1344.75 2005.28a1.45 1.45 0 1 0 2.9 0a1.45 1.45 0 1 0 -2.9 0M1339.8 1978.48a1.45 1.45 0 1 0 2.9 0a1.45 1.45 0 1 0 -2.9 0M1342.01 1919.61a1.45 1.45 0 1 0 2.9 0a1.45 1.45 0 1 0 -2.9 0M1349.25 1963.59a1.45 1.45 0 1 0 2.9 0a1.45 1.45 0 1 0 -2.9 0M1340.54 1924.27a1.45 1.45 0 1 0 2.9 0a1.45 1.45 0 1 0 -2.9 0M1341.76 2031.8a1.45 1.45 0 1 0 2.9 0a1.45 1.45 0 1 0 -2.9 0M1344.33 2044.71a1.45 1.45 0 1 0 2.9 0a1.45 1.45 0 1 0 -2.9 0M1339.26 1985.33a1.45 1.45 0 1 0 2.9 0a1.45 1.45 0 1 0 -2.9 0M1343.76 1937.21a1.45 1.45 0 1 0 2.9 0a1.45 1.45 0 1 0 -2.9 0M1344.88 1893.14a1.45 1.45 0 1 0 2.9 0a1.45 1.45 0 1 0 -2.9 0M1343.74 1956.49a1.45 1.45 0 1 0 2.9 0a1.45 1.45 0 1 0 -2.9 0M1346.43 2001.7a1.45 1.45 0 1 0 2.9 0a1.45 1.45 0 1 0 -2.9 0M1347.65 1987.1a1.45 1.45 0 1 0 2.9 0a1.45 1.45 0 1 0 -2.9 0M1348.03 1937.72a1.45 1.45 0 1 0 2.9 0a1.45 1.45 0 1 0 -2.9 0M1339.39 1992.15a1.45 1.45 0 1 0 2.9 0a1.45 1.45 0 1 0 -2.9 0M1340.08 2066.96a1.45 1.45 0 1 0 2.9 0a1.45 1.45 0 1 0 -2.9 0M1339.83 2047.68a1.45 1.45 0 1 0 2.9 0a1.45 1.45 0 1 0 -2.9 0M1343.76 2027.26a1.45 1.45 0 1 0 2.9 0a1.45 1.45 0 1 0 -2.9 0M1339.48 2025.23a1.45 1.45 0 1 0 2.9 0a1.45 1.45 0 1 0 -2.9 0M1345.25 2000.95a1.45 1.45 0 1 0 2.9 0a1.45 1.45 0 1 0 -2.9 0M1341.19 2038.04a1.45 1.45 0 1 0 2.9 0a1.45 1.45 0 1 0 -2.9 0M1342.69 2012.77a1.45 1.45 0 1 0 2.9 0a1.45 1.45 0 1 0 -2.9 0M1341.59 1930.22a1.45 1.45 0 1 0 2.9 0a1.45 1.45 0 1 0 -2.9 0M1344.72 1973.82a1.45 1.45 0 1 0 2.9 0a1.45 1.45 0 1 0 -2.9 0M1342.19 1943.93a1.45 1.45 0 1 0 2.9 0a1.45 1.45 0 1 0 -2.9 0M1346.82 2016.04a1.45 1.45 0 1 0 2.9 0a1.45 1.45 0 1 0 -2.9 0M1345.19 1984.55a1.45 1.45 0 1 0 2.9 0a1.45 1.45 0 1 0 -2.9 0M1347.6 2021.55a1.45 1.45 0 1 0 2.9 0a1.45 1.45 0 1 0 -2.9 0M1342.52 1947.27a1.45 1.45 0 1 0 2.9 0a1.45 1.45 0 1 0 -2.9 0M1343.76 1924.5a1.45 1.45 0 1 0 2.9 0a1.45 1.45 0 1 0 -2.9 0M1341.87 2039.34a1.45 1.45 0 1 0 2.9 0a1.45 1.45 0 1 0 -2.9 0M1340.19 2010.28a1.45 1.45 0 1 0 2.9 0a1.45 1.45 0 1 0 -2.9 0M1344.52 1980.22a1.45 1.45 0 1 0 2.9 0a1.45 1.45 0 1 0 -2.9 0M1347.94 1916.43a1.45 1.45 0 1 0 2.9 0a1.45 1.45 0 1 0 -2.9 0M1342.47 1952.53a1.45 1.45 0 1 0 2.9 0a1.45 1.45 0 1 0 -2.9 0M1340.96 1909.51a1.45 1.45 0 1 0 2.9 0a1.45 1.45 0 1 0 -2.9 0M1343.43 2018.01a1.45 1.45 0 1 0 2.9 0a1.45 1.45 0 1 0 -2.9 0M1348.9 1998.87a1.45 1.45 0 1 0 2.9 0a1.45 1.45 0 1 0 -2.9 0M1345.43 1949.35a1.45 1.45 0 1 0 2.9 0a1.45 1.45 0 1 0 -2.9 0M1339.42 2044.55a1.45 1.45 0 1 0 2.9 0a1.45 1.45 0 1 0 -2.9 0M1347.71 2030.16a1.45 1.45 0 1 0 2.9 0a1.45 1.45 0 1 0 -2.9 0M1339.32 1920.7a1.45 1.45 0 1 0 2.9 0a1.45 1.45 0 1 0 -2.9 0M1345.71 2051.35a1.45 1.45 0 1 0 2.9 0a1.45 1.45 0 1 0 -2.9 0M1344.13 1961.16a1.45 1.45 0 1 0 2.9 0a1.45 1.45 0 1 0 -2.9 0M1339.6 2001.36a1.45 1.45 0 1 0 2.9 0a1.45 1.45 0 1 0 -2.9 0M1349.25 1935.27a1.45 1.45 0 1 0 2.9 0a1.45 1.45 0 1 0 -2.9 0M1349.74 1957.64a1.45 1.45 0 1 0 2.9 0a1.45 1.45 0 1 0 -2.9 0M1345.55 1976.04a1.45 1.45 0 1 0 2.9 0a1.45 1.45 0 1 0 -2.9 0M1344.18 1962.57a1.45 1.45 0 1 0 2.9 0a1.45 1.45 0 1 0 -2.9 0M1340.42 1960.55a1.45 1.45 0 1 0 2.9 0a1.45 1.45 0 1 0 -2.9 0M1339.92 1971.08a1.45 1.45 0 1 0 2.9 0a1.45 1.45 0 1 0 -2.9 0M1342.09 1984.99a1.45 1.45 0 1 0 2.9 0a1.45 1.45 0 1 0 -2.9 0M1344.64 2008.96a1.45 1.45 0 1 0 2.9 0a1.45 1.45 0 1 0 -2.9 0M1343.08 2003.26a1.45 1.45 0 1 0 2.9 0a1.45 1.45 0 1 0 -2.9 0M1342.33 2037.64a1.45 1.45 0 1 0 2.9 0a1.45 1.45 0 1 0 -2.9 0M1346.14 1975.6a1.45 1.45 0 1 0 2.9 0a1.45 1.45 0 1 0 -2.9 0M1349.6 1927.33a1.45 1.45 0 1 0 2.9 0a1.45 1.45 0 1 0 -2.9 0M1344.79 2010.16a1.45 1.45 0 1 0 2.9 0a1.45 1.45 0 1 0 -2.9 0M1344.02 2029.13a1.45 1.45 0 1 0 2.9 0a1.45 1.45 0 1 0 -2.9 0M1344.42 1995.64a1.45 1.45 0 1 0 2.9 0a1.45 1.45 0 1 0 -2.9 0M1346.54 1932.83a1.45 1.45 0 1 0 2.9 0a1.45 1.45 0 1 0 -2.9 0M1347.68 1988.16a1.45 1.45 0 1 0 2.9 0a1.45 1.45 0 1 0 -2.9 0M1343.78 1976.13a1.45 1.45 0 1 0 2.9 0a1.45 1.45 0 1 0 -2.9 0M1341.48 1979.44a1.45 1.45 0 1 0 2.9 0a1.45 1.45 0 1 0 -2.9 0M1345.35 2015.49a1.45 1.45 0 1 0 2.9 0a1.45 1.45 0 1 0 -2.9 0M1343.99 1973.87a1.45 1.45 0 1 0 2.9 0a1.45 1.45 0 1 0 -2.9 0M1349.87 1970.71a1.45 1.45 0 1 0 2.9 0a1.45 1.45 0 1 0 -2.9 0M1342.34 1911.61a1.45 1.45 0 1 0 2.9 0a1.45 1.45 0 1 0 -2.9 0M1349.32 2027.84a1.45 1.45 0 1 0 2.9 0a1.45 1.45 0 1 0 -2.9 0M1341.79 1992.97a1.45 1.45 0 1 0 2.9 0a1.45 1.45 0 1 0 -2.9 0M1347.37 1887.25a1.45 1.45 0 1 0 2.9 0a1.45 1.45 0 1 0 -2.9 0M1344.45 1974.79a1.45 1.45 0 1 0 2.9 0a1.45 1.45 0 1 0 -2.9 0M1344.51 1946.39a1.45 1.45 0 1 0 2.9 0a1.45 1.45 0 1 0 -2.9 0M1345.48 1974.58a1.45 1.45 0 1 0 2.9 0a1.45 1.45 0 1 0 -2.9 0M1340.74 1974a1.45 1.45 0 1 0 2.9 0a1.45 1.45 0 1 0 -2.9 0M1341.31 1945.75a1.45 1.45 0 1 0 2.9 0a1.45 1.45 0 1 0 -2.9 0M1345.46 1966.4a1.45 1.45 0 1 0 2.9 0a1.45 1.45 0 1 0 -2.9 0M1348.16 1942.68a1.45 1.45 0 1 0 2.9 0a1.45 1.45 0 1 0 -2.9 0M1341.91 1930.19a1.45 1.45 0 1 0 2.9 0a1.45 1.45 0 1 0 -2.9 0M1339.62 1909.35a1.45 1.45 0 1 0 2.9 0a1.45 1.45 0 1 0 -2.9 0M1349.62 2054.34a1.45 1.45 0 1 0 2.9 0a1.45 1.45 0 1 0 -2.9 0M1344.68 2055.62a1.45 1.45 0 1 0 2.9 0a1.45 1.45 0 1 0 -2.9 0M1344.46 1888.55a1.45 1.45 0 1 0 2.9 0a1.45 1.45 0 1 0 -2.9 0M1346.51 2009.35a1.45 1.45 0 1 0 2.9 0a1.45 1.45 0 1 0 -2.9 0M1339.95 1991.61a1.45 1.45 0 1 0 2.9 0a1.45 1.45 0 1 0 -2.9 0M1343.66 2068.96a1.45 1.45 0 1 0 2.9 0a1.45 1.45 0 1 0 -2.9 0M1344.22 1972.03a1.45 1.45 0 1 0 2.9 0a1.45 1.45 0 1 0 -2.9 0M1340.65 1984.01a1.45 1.45 0 1 0 2.9 0a1.45 1.45 0 1 0 -2.9 0M1340.43 1956.92a1.45 1.45 0 1 0 2.9 0a1.45 1.45 0 1 0 -2.9 0M1344.02 1966.13a1.45 1.45 0 1 0 2.9 0a1.45 1.45 0 1 0 -2.9 0M1345.1 2033.11a1.45 1.45 0 1 0 2.9 0a1.45 1.45 0 1 0 -2.9 0M1349.51 2001.93a1.45 1.45 0 1 0 2.9 0a1.45 1.45 0 1 0 -2.9 0M1349.46 2004.55a1.45 1.45 0 1 0 2.9 0a1.45 1.45 0 1 0 -2.9 0M1345.94 1977.8a1.45 1.45 0 1 0 2.9 0a1.45 1.45 0 1 0 -2.9 0M1339.71 2034.15a1.45 1.45 0 1 0 2.9 0a1.45 1.45 0 1 0 -2.9 0M1344.07 1849.81a1.45 1.45 0 1 0 2.9 0a1.45 1.45 0 1 0 -2.9 0M1345.67 1851.09a1.45 1.45 0 1 0 2.9 0a1.45 1.45 0 1 0 -2.9 0M1345.52 2109.82a1.45 1.45 0 1 0 2.9 0a1.45 1.45 0 1 0 -2.9 0M1346.86 2111.1a1.45 1.45 0 1 0 2.9 0a1.45 1.45 0 1 0 -2.9 0M1342.93 2148.34a1.45 1.45 0 1 0 2.9 0a1.45 1.45 0 1 0 -2.9 0M1347.45 2149.62a1.45 1.45 0 1 0 2.9 0a1.45 1.45 0 1 0 -2.9 0M1342.03 2167.6a1.45 1.45 0 1 0 2.9 0a1.45 1.45 0 1 0 -2.9 0M1342.52 2168.88a1.45 1.45 0 1 0 2.9 0a1.45 1.45 0 1 0 -2.9 0M1394.63 1958.32a1.45 1.45 0 1 0 2.9 0a1.45 1.45 0 1 0 -2.9 0M1389.95 1969.08a1.45 1.45 0 1 0 2.9 0a1.45 1.45 0 1 0 -2.9 0M1381.2 1967.36a1.45 1.45 0 1 0 2.9 0a1.45 1.45 0 1 0 -2.9 0M1386.91 1911.19a1.45 1.45 0 1 0 2.9 0a1.45 1.45 0 1 0 -2.9 0M1393.97 1912.28a1.45 1.45 0 1 0 2.9 0a1.45 1.45 0 1 0 -2.9 0M1387.9 1898.79a1.45 1.45 0 1 0 2.9 0a1.45 1.45 0 1 0 -2.9 0M1393.55 1919.78a1.45 1.45 0 1 0 2.9 0a1.45 1.45 0 1 0 -2.9 0M1394.08 1985.55a1.45 1.45 0 1 0 2.9 0a1.45 1.45 0 1 0 -2.9 0M1389.58 1891.63a1.45 1.45 0 1 0 2.9 0a1.45 1.45 0 1 0 -2.9 0M1381.96 1889.63a1.45 1.45 0 1 0 2.9 0a1.45 1.45 0 1 0 -2.9 0M1385.23 1896.76a1.45 1.45 0 1 0 2.9 0a1.45 1.45 0 1 0 -2.9 0M1391.68 1964.83a1.45 1.45 0 1 0 2.9 0a1.45 1.45 0 1 0 -2.9 0M1382.24 1915.6a1.45 1.45 0 1 0 2.9 0a1.45 1.45 0 1 0 -2.9 0M1392.22 2007.39a1.45 1.45 0 1 0 2.9 0a1.45 1.45 0 1 0 -2.9 0M1386.25 1942.66a1.45 1.45 0 1 0 2.9 0a1.45 1.45 0 1 0 -2.9 0M1388.25 1988.4a1.45 1.45 0 1 0 2.9 0a1.45 1.45 0 1 0 -2.9 0M1391.42 1941.55a1.45 1.45 0 1 0 2.9 0a1.45 1.45 0 1 0 -2.9 0M1383.19 1967.76a1.45 1.45 0 1 0 2.9 0a1.45 1.45 0 1 0 -2.9 0M1382.44 1885.4a1.45 1.45 0 1 0 2.9 0a1.45 1.45 0 1 0 -2.9 0M1385.4 1931.78a1.45 1.45 0 1 0 2.9 0a1.45 1.45 0 1 0 -2.9 0M1384.03 1945.05a1.45 1.45 0 1 0 2.9 0a1.45 1.45 0 1 0 -2.9 0M1390.13 2028.36a1.45 1.45 0 1 0 2.9 0a1.45 1.45 0 1 0 -2.9 0M1379.87 1944.48a1.45 1.45 0 1 0 2.9 0a1.45 1.45 0 1 0 -2.9 0M1393.6 1943.11a1.45 1.45 0 1 0 2.9 0a1.45 1.45 0 1 0 -2.9 0M1381.66 1895.57a1.45 1.45 0 1 0 2.9 0a1.45 1.45 0 1 0 -2.9 0M1394.12 1986.15a1.45 1.45 0 1 0 2.9 0a1.45 1.45 0 1 0 -2.9 0M1394.54 1972.67a1.45 1.45 0 1 0 2.9 0a1.45 1.45 0 1 0 -2.9 0M1391.74 1960.85a1.45 1.45 0 1 0 2.9 0a1.45 1.45 0 1 0 -2.9 0M1392.43 2021.91a1.45 1.45 0 1 0 2.9 0a1.45 1.45 0 1 0 -2.9 0M1387.53 1998.79a1.45 1.45 0 1 0 2.9 0a1.45 1.45 0 1 0 -2.9 0M1382.19 1865.51a1.45 1.45 0 1 0 2.9 0a1.45 1.45 0 1 0 -2.9 0M1379.81 1915.73a1.45 1.45 0 1 0 2.9 0a1.45 1.45 0 1 0 -2.9 0M1391.19 1933.6a1.45 1.45 0 1 0 2.9 0a1.45 1.45 0 1 0 -2.9 0M1392 1994.33a1.45 1.45 0 1 0 2.9 0a1.45 1.45 0 1 0 -2.9 0M1386.39 1875.48a1.45 1.45 0 1 0 2.9 0a1.45 1.45 0 1 0 -2.9 0M1383.56 1914.64a1.45 1.45 0 1 0 2.9 0a1.45 1.45 0 1 0 -2.9 0M1389.76 1970.09a1.45 1.45 0 1 0 2.9 0a1.45 1.45 0 1 0 -2.9 0M1385.16 1880.65a1.45 1.45 0 1 0 2.9 0a1.45 1.45 0 1 0 -2.9 0M1382.61 1997.59a1.45 1.45 0 1 0 2.9 0a1.45 1.45 0 1 0 -2.9 0M1385.03 1966.28a1.45 1.45 0 1 0 2.9 0a1.45 1.45 0 1 0 -2.9 0M1392.07 1984.43a1.45 1.45 0 1 0 2.9 0a1.45 1.45 0 1 0 -2.9 0M1381.22 2024.16a1.45 1.45 0 1 0 2.9 0a1.45 1.45 0 1 0 -2.9 0M1388.67 1947.11a1.45 1.45 0 1 0 2.9 0a1.45 1.45 0 1 0 -2.9 0M1383.34 1994.37a1.45 1.45 0 1 0 2.9 0a1.45 1.45 0 1 0 -2.9 0M1382.32 1966.86a1.45 1.45 0 1 0 2.9 0a1.45 1.45 0 1 0 -2.9 0M1384.93 1912.11a1.45 1.45 0 1 0 2.9 0a1.45 1.45 0 1 0 -2.9 0M1388.12 1929.87a1.45 1.45 0 1 0 2.9 0a1.45 1.45 0 1 0 -2.9 0M1391.33 1952.32a1.45 1.45 0 1 0 2.9 0a1.45 1.45 0 1 0 -2.9 0M1384.25 1980.58a1.45 1.45 0 1 0 2.9 0a1.45 1.45 0 1 0 -2.9 0M1393.99 1950.33a1.45 1.45 0 1 0 2.9 0a1.45 1.45 0 1 0 -2.9 0M1387.73 1982.48a1.45 1.45 0 1 0 2.9 0a1.45 1.45 0 1 0 -2.9 0M1386.8 1983.31a1.45 1.45 0 1 0 2.9 0a1.45 1.45 0 1 0 -2.9 0M1379.84 2009.64a1.45 1.45 0 1 0 2.9 0a1.45 1.45 0 1 0 -2.9 0M1387.24 1904.59a1.45 1.45 0 1 0 2.9 0a1.45 1.45 0 1 0 -2.9 0M1383.52 1879.54a1.45 1.45 0 1 0 2.9 0a1.45 1.45 0 1 0 -2.9 0M1391.78 1895.23a1.45 1.45 0 1 0 2.9 0a1.45 1.45 0 1 0 -2.9 0M1385.33 2030.87a1.45 1.45 0 1 0 2.9 0a1.45 1.45 0 1 0 -2.9 0M1385.46 1998.42a1.45 1.45 0 1 0 2.9 0a1.45 1.45 0 1 0 -2.9 0M1390.07 1896.64a1.45 1.45 0 1 0 2.9 0a1.45 1.45 0 1 0 -2.9 0M1385.13 1942.2a1.45 1.45 0 1 0 2.9 0a1.45 1.45 0 1 0 -2.9 0M1393.23 1939.04a1.45 1.45 0 1 0 2.9 0a1.45 1.45 0 1 0 -2.9 0M1380.88 1969.05a1.45 1.45 0 1 0 2.9 0a1.45 1.45 0 1 0 -2.9 0M1387.82 1788.82a1.45 1.45 0 1 0 2.9 0a1.45 1.45 0 1 0 -2.9 0M1385.13 1790.1a1.45 1.45 0 1 0 2.9 0a1.45 1.45 0 1 0 -2.9 0M1386.94 2094.41a1.45 1.45 0 1 0 2.9 0a1.45 1.45 0 1 0 -2.9 0M1387.45 2095.7a1.45 1.45 0 1 0 2.9 0a1.45 1.45 0 1 0 -2.9 0" fill="#111"/>
<text x="1367.45" y="1684.5" font-size="15.5" text-anchor="middle" fill="#222" style="font-weight:bold;">****</text>
<rect x="1320.6" y="1629.5" width="93.7" height="561.4" fill="none" stroke="#111" stroke-width="1.6"/>
<text x="1346.2" y="2211" font-size="20.5" text-anchor="middle" style="font-weight:bold;">D</text>
<text x="1388.7" y="2211" font-size="20.5" text-anchor="middle" style="font-weight:bold;">L</text>
<line x1="1346.2" y1="2190.9" x2="1346.2" y2="2194.4" stroke="#333" stroke-width="1"/>
<line x1="1388.7" y1="2190.9" x2="1388.7" y2="2194.4" stroke="#333" stroke-width="1"/>
<rect x="1419.2" y="1629.5" width="93.7" height="561.4" fill="#fff"/>
<line x1="1419.2" y1="2167.6" x2="1512.9" y2="2167.6" stroke="#f3f3f3" stroke-width="0.8"/>
<line x1="1419.2" y1="2039.2" x2="1512.9" y2="2039.2" stroke="#f3f3f3" stroke-width="0.8"/>
<line x1="1419.2" y1="1910.8" x2="1512.9" y2="1910.8" stroke="#f3f3f3" stroke-width="0.8"/>
<line x1="1419.2" y1="1782.4" x2="1512.9" y2="1782.4" stroke="#f3f3f3" stroke-width="0.8"/>
<line x1="1419.2" y1="1654" x2="1512.9" y2="1654" stroke="#f3f3f3" stroke-width="0.8"/>
<line x1="1419.2" y1="2103.4" x2="1512.9" y2="2103.4" stroke="#ebebeb" stroke-width="1.1"/>
<line x1="1419.2" y1="1975" x2="1512.9" y2="1975" stroke="#ebebeb" stroke-width="1.1"/>
<line x1="1419.2" y1="1846.6" x2="1512.9" y2="1846.6" stroke="#ebebeb" stroke-width="1.1"/>
<line x1="1419.2" y1="1718.2" x2="1512.9" y2="1718.2" stroke="#ebebeb" stroke-width="1.1"/>
<line x1="1444.8" y1="1629.5" x2="1444.8" y2="2190.9" stroke="#ebebeb" stroke-width="1.1"/>
<line x1="1487.3" y1="1629.5" x2="1487.3" y2="2190.9" stroke="#ebebeb" stroke-width="1.1"/>
<rect x="1418.7" y="1609" width="94.7" height="20.5" fill="#d3d3d3" stroke="#c4c4c4" stroke-width="0.6"/>
<text x="1466.05" y="1625.6" font-size="16.6" text-anchor="middle" fill="#1a1a1a" style="font-weight:bold;font-style:italic;">EED</text>
<rect x="1428.2" y="1885.4" width="33.2" height="23.6" fill="none" stroke="#555" stroke-width="0.9"/>
<line x1="1428.2" y1="1897.7" x2="1461.4" y2="1897.7" stroke="#555" stroke-width="1.3"/>
<line x1="1444.8" y1="1885.4" x2="1444.8" y2="1852.5" stroke="#444" stroke-width="0.9"/>
<line x1="1444.8" y1="1909" x2="1444.8" y2="1942" stroke="#444" stroke-width="0.9"/>
<line x1="1428.5" y1="1852.5" x2="1461.1" y2="1852.5" stroke="#444" stroke-width="0.9"/>
<line x1="1428.5" y1="1942" x2="1461.1" y2="1942" stroke="#444" stroke-width="0.9"/>
<rect x="1470.7" y="1876.7" width="33.2" height="23.9" fill="none" stroke="#555" stroke-width="0.9"/>
<line x1="1470.7" y1="1888.7" x2="1503.9" y2="1888.7" stroke="#555" stroke-width="1.3"/>
<line x1="1487.3" y1="1876.7" x2="1487.3" y2="1842.4" stroke="#444" stroke-width="0.9"/>
<line x1="1487.3" y1="1900.6" x2="1487.3" y2="1921" stroke="#444" stroke-width="0.9"/>
<line x1="1471" y1="1842.4" x2="1503.6" y2="1842.4" stroke="#444" stroke-width="0.9"/>
<line x1="1471" y1="1921" x2="1503.6" y2="1921" stroke="#444" stroke-width="0.9"/>
<path d="M1446.44 1876.59a1.45 1.45 0 1 0 2.9 0a1.45 1.45 0 1 0 -2.9 0M1448.58 1896.37a1.45 1.45 0 1 0 2.9 0a1.45 1.45 0 1 0 -2.9 0M1442.28 1918.09a1.45 1.45 0 1 0 2.9 0a1.45 1.45 0 1 0 -2.9 0M1446.5 1927.34a1.45 1.45 0 1 0 2.9 0a1.45 1.45 0 1 0 -2.9 0M1439.41 1879.82a1.45 1.45 0 1 0 2.9 0a1.45 1.45 0 1 0 -2.9 0M1448.5 1921.27a1.45 1.45 0 1 0 2.9 0a1.45 1.45 0 1 0 -2.9 0M1442.16 1870.24a1.45 1.45 0 1 0 2.9 0a1.45 1.45 0 1 0 -2.9 0M1441.41 1864.67a1.45 1.45 0 1 0 2.9 0a1.45 1.45 0 1 0 -2.9 0M1443.16 1890.13a1.45 1.45 0 1 0 2.9 0a1.45 1.45 0 1 0 -2.9 0M1447.35 1894.9a1.45 1.45 0 1 0 2.9 0a1.45 1.45 0 1 0 -2.9 0M1441.43 1910.33a1.45 1.45 0 1 0 2.9 0a1.45 1.45 0 1 0 -2.9 0M1444.5 1907.01a1.45 1.45 0 1 0 2.9 0a1.45 1.45 0 1 0 -2.9 0M1439.75 1890.97a1.45 1.45 0 1 0 2.9 0a1.45 1.45 0 1 0 -2.9 0M1438.31 1869.95a1.45 1.45 0 1 0 2.9 0a1.45 1.45 0 1 0 -2.9 0M1438.08 1900.66a1.45 1.45 0 1 0 2.9 0a1.45 1.45 0 1 0 -2.9 0M1444.39 1888.05a1.45 1.45 0 1 0 2.9 0a1.45 1.45 0 1 0 -2.9 0M1445.83 1870.64a1.45 1.45 0 1 0 2.9 0a1.45 1.45 0 1 0 -2.9 0M1443.77 1915.15a1.45 1.45 0 1 0 2.9 0a1.45 1.45 0 1 0 -2.9 0M1445.85 1905.04a1.45 1.45 0 1 0 2.9 0a1.45 1.45 0 1 0 -2.9 0M1448.15 1914.51a1.45 1.45 0 1 0 2.9 0a1.45 1.45 0 1 0 -2.9 0M1445.83 1873.03a1.45 1.45 0 1 0 2.9 0a1.45 1.45 0 1 0 -2.9 0M1443.05 1908.09a1.45 1.45 0 1 0 2.9 0a1.45 1.45 0 1 0 -2.9 0M1443.21 1878.87a1.45 1.45 0 1 0 2.9 0a1.45 1.45 0 1 0 -2.9 0M1444.87 1890.37a1.45 1.45 0 1 0 2.9 0a1.45 1.45 0 1 0 -2.9 0M1441.89 1895.41a1.45 1.45 0 1 0 2.9 0a1.45 1.45 0 1 0 -2.9 0M1441.09 1923.35a1.45 1.45 0 1 0 2.9 0a1.45 1.45 0 1 0 -2.9 0M1442.58 1880.41a1.45 1.45 0 1 0 2.9 0a1.45 1.45 0 1 0 -2.9 0M1448.34 1890.58a1.45 1.45 0 1 0 2.9 0a1.45 1.45 0 1 0 -2.9 0M1447.44 1893.63a1.45 1.45 0 1 0 2.9 0a1.45 1.45 0 1 0 -2.9 0M1443.48 1925.74a1.45 1.45 0 1 0 2.9 0a1.45 1.45 0 1 0 -2.9 0M1443.54 1907.35a1.45 1.45 0 1 0 2.9 0a1.45 1.45 0 1 0 -2.9 0M1445.1 1889.89a1.45 1.45 0 1 0 2.9 0a1.45 1.45 0 1 0 -2.9 0M1442.97 1898.17a1.45 1.45 0 1 0 2.9 0a1.45 1.45 0 1 0 -2.9 0M1440.73 1900.88a1.45 1.45 0 1 0 2.9 0a1.45 1.45 0 1 0 -2.9 0M1439.38 1909.79a1.45 1.45 0 1 0 2.9 0a1.45 1.45 0 1 0 -2.9 0M1440.13 1894.95a1.45 1.45 0 1 0 2.9 0a1.45 1.45 0 1 0 -2.9 0M1442.08 1903.32a1.45 1.45 0 1 0 2.9 0a1.45 1.45 0 1 0 -2.9 0M1446.2 1878.58a1.45 1.45 0 1 0 2.9 0a1.45 1.45 0 1 0 -2.9 0M1440.92 1916.48a1.45 1.45 0 1 0 2.9 0a1.45 1.45 0 1 0 -2.9 0M1440.96 1928.91a1.45 1.45 0 1 0 2.9 0a1.45 1.45 0 1 0 -2.9 0M1441.74 1884.12a1.45 1.45 0 1 0 2.9 0a1.45 1.45 0 1 0 -2.9 0M1437.9 1901.34a1.45 1.45 0 1 0 2.9 0a1.45 1.45 0 1 0 -2.9 0M1438.75 1879.89a1.45 1.45 0 1 0 2.9 0a1.45 1.45 0 1 0 -2.9 0M1445.23 1880.93a1.45 1.45 0 1 0 2.9 0a1.45 1.45 0 1 0 -2.9 0M1447.17 1889.72a1.45 1.45 0 1 0 2.9 0a1.45 1.45 0 1 0 -2.9 0M1443.11 1889.09a1.45 1.45 0 1 0 2.9 0a1.45 1.45 0 1 0 -2.9 0M1443.67 1905.8a1.45 1.45 0 1 0 2.9 0a1.45 1.45 0 1 0 -2.9 0M1442.39 1902.86a1.45 1.45 0 1 0 2.9 0a1.45 1.45 0 1 0 -2.9 0M1446.7 1925.23a1.45 1.45 0 1 0 2.9 0a1.45 1.45 0 1 0 -2.9 0M1448.28 1914.13a1.45 1.45 0 1 0 2.9 0a1.45 1.45 0 1 0 -2.9 0M1447.01 1916.3a1.45 1.45 0 1 0 2.9 0a1.45 1.45 0 1 0 -2.9 0M1438 1877.87a1.45 1.45 0 1 0 2.9 0a1.45 1.45 0 1 0 -2.9 0M1442.89 1877.58a1.45 1.45 0 1 0 2.9 0a1.45 1.45 0 1 0 -2.9 0M1445.31 1913.07a1.45 1.45 0 1 0 2.9 0a1.45 1.45 0 1 0 -2.9 0M1441.3 1877.32a1.45 1.45 0 1 0 2.9 0a1.45 1.45 0 1 0 -2.9 0M1447.35 1896.51a1.45 1.45 0 1 0 2.9 0a1.45 1.45 0 1 0 -2.9 0M1446.85 1894.52a1.45 1.45 0 1 0 2.9 0a1.45 1.45 0 1 0 -2.9 0M1439.26 1903.55a1.45 1.45 0 1 0 2.9 0a1.45 1.45 0 1 0 -2.9 0M1447.1 1885.5a1.45 1.45 0 1 0 2.9 0a1.45 1.45 0 1 0 -2.9 0M1441.04 1906.67a1.45 1.45 0 1 0 2.9 0a1.45 1.45 0 1 0 -2.9 0M1444.3 1894.13a1.45 1.45 0 1 0 2.9 0a1.45 1.45 0 1 0 -2.9 0M1438.9 1881.98a1.45 1.45 0 1 0 2.9 0a1.45 1.45 0 1 0 -2.9 0M1439.09 1883.95a1.45 1.45 0 1 0 2.9 0a1.45 1.45 0 1 0 -2.9 0M1445.1 1922.55a1.45 1.45 0 1 0 2.9 0a1.45 1.45 0 1 0 -2.9 0M1447.69 1904.36a1.45 1.45 0 1 0 2.9 0a1.45 1.45 0 1 0 -2.9 0M1439.31 1891.64a1.45 1.45 0 1 0 2.9 0a1.45 1.45 0 1 0 -2.9 0M1445.92 1885.63a1.45 1.45 0 1 0 2.9 0a1.45 1.45 0 1 0 -2.9 0M1445.79 1891.11a1.45 1.45 0 1 0 2.9 0a1.45 1.45 0 1 0 -2.9 0M1445.7 1889.06a1.45 1.45 0 1 0 2.9 0a1.45 1.45 0 1 0 -2.9 0M1447.41 1896.61a1.45 1.45 0 1 0 2.9 0a1.45 1.45 0 1 0 -2.9 0M1443.25 1879.88a1.45 1.45 0 1 0 2.9 0a1.45 1.45 0 1 0 -2.9 0M1447.73 1908.84a1.45 1.45 0 1 0 2.9 0a1.45 1.45 0 1 0 -2.9 0M1444.02 1911.07a1.45 1.45 0 1 0 2.9 0a1.45 1.45 0 1 0 -2.9 0M1439.26 1887.52a1.45 1.45 0 1 0 2.9 0a1.45 1.45 0 1 0 -2.9 0M1437.9 1918.78a1.45 1.45 0 1 0 2.9 0a1.45 1.45 0 1 0 -2.9 0M1440.38 1915.78a1.45 1.45 0 1 0 2.9 0a1.45 1.45 0 1 0 -2.9 0M1446.71 1921.15a1.45 1.45 0 1 0 2.9 0a1.45 1.45 0 1 0 -2.9 0M1443.28 1914.46a1.45 1.45 0 1 0 2.9 0a1.45 1.45 0 1 0 -2.9 0M1444.05 1919.91a1.45 1.45 0 1 0 2.9 0a1.45 1.45 0 1 0 -2.9 0M1444.44 1877.02a1.45 1.45 0 1 0 2.9 0a1.45 1.45 0 1 0 -2.9 0M1443.95 1876.4a1.45 1.45 0 1 0 2.9 0a1.45 1.45 0 1 0 -2.9 0M1442.96 1876.17a1.45 1.45 0 1 0 2.9 0a1.45 1.45 0 1 0 -2.9 0M1446.16 1859.35a1.45 1.45 0 1 0 2.9 0a1.45 1.45 0 1 0 -2.9 0M1440.53 1886.52a1.45 1.45 0 1 0 2.9 0a1.45 1.45 0 1 0 -2.9 0M1444.41 1893.86a1.45 1.45 0 1 0 2.9 0a1.45 1.45 0 1 0 -2.9 0M1444.99 1911.99a1.45 1.45 0 1 0 2.9 0a1.45 1.45 0 1 0 -2.9 0M1442.59 1897.47a1.45 1.45 0 1 0 2.9 0a1.45 1.45 0 1 0 -2.9 0M1445.57 1901.99a1.45 1.45 0 1 0 2.9 0a1.45 1.45 0 1 0 -2.9 0M1442.03 1909.79a1.45 1.45 0 1 0 2.9 0a1.45 1.45 0 1 0 -2.9 0M1445.74 1877.96a1.45 1.45 0 1 0 2.9 0a1.45 1.45 0 1 0 -2.9 0M1439.75 1917.94a1.45 1.45 0 1 0 2.9 0a1.45 1.45 0 1 0 -2.9 0M1442.96 1922.74a1.45 1.45 0 1 0 2.9 0a1.45 1.45 0 1 0 -2.9 0M1446.7 1925.32a1.45 1.45 0 1 0 2.9 0a1.45 1.45 0 1 0 -2.9 0M1447 1879.61a1.45 1.45 0 1 0 2.9 0a1.45 1.45 0 1 0 -2.9 0M1445.42 1901.01a1.45 1.45 0 1 0 2.9 0a1.45 1.45 0 1 0 -2.9 0M1445.32 1913.69a1.45 1.45 0 1 0 2.9 0a1.45 1.45 0 1 0 -2.9 0M1444.83 1917.81a1.45 1.45 0 1 0 2.9 0a1.45 1.45 0 1 0 -2.9 0M1448.34 1908.14a1.45 1.45 0 1 0 2.9 0a1.45 1.45 0 1 0 -2.9 0M1445.32 1883.48a1.45 1.45 0 1 0 2.9 0a1.45 1.45 0 1 0 -2.9 0M1439.76 1893.03a1.45 1.45 0 1 0 2.9 0a1.45 1.45 0 1 0 -2.9 0M1444.38 1872.06a1.45 1.45 0 1 0 2.9 0a1.45 1.45 0 1 0 -2.9 0M1443.1 1909.6a1.45 1.45 0 1 0 2.9 0a1.45 1.45 0 1 0 -2.9 0M1444.35 1888.11a1.45 1.45 0 1 0 2.9 0a1.45 1.45 0 1 0 -2.9 0M1446.96 1907.25a1.45 1.45 0 1 0 2.9 0a1.45 1.45 0 1 0 -2.9 0M1443.2 1867.47a1.45 1.45 0 1 0 2.9 0a1.45 1.45 0 1 0 -2.9 0M1440.41 1892.71a1.45 1.45 0 1 0 2.9 0a1.45 1.45 0 1 0 -2.9 0M1447.17 1892.38a1.45 1.45 0 1 0 2.9 0a1.45 1.45 0 1 0 -2.9 0M1443.03 1878.57a1.45 1.45 0 1 0 2.9 0a1.45 1.45 0 1 0 -2.9 0M1443.9 1892.44a1.45 1.45 0 1 0 2.9 0a1.45 1.45 0 1 0 -2.9 0M1441.84 1918.67a1.45 1.45 0 1 0 2.9 0a1.45 1.45 0 1 0 -2.9 0M1441.77 1864.72a1.45 1.45 0 1 0 2.9 0a1.45 1.45 0 1 0 -2.9 0M1439.62 1896.9a1.45 1.45 0 1 0 2.9 0a1.45 1.45 0 1 0 -2.9 0M1441.54 1898.9a1.45 1.45 0 1 0 2.9 0a1.45 1.45 0 1 0 -2.9 0M1439.13 1878.54a1.45 1.45 0 1 0 2.9 0a1.45 1.45 0 1 0 -2.9 0M1441.15 1874.87a1.45 1.45 0 1 0 2.9 0a1.45 1.45 0 1 0 -2.9 0M1446.03 1896.15a1.45 1.45 0 1 0 2.9 0a1.45 1.45 0 1 0 -2.9 0M1439.69 1898a1.45 1.45 0 1 0 2.9 0a1.45 1.45 0 1 0 -2.9 0M1440.36 1874.66a1.45 1.45 0 1 0 2.9 0a1.45 1.45 0 1 0 -2.9 0M1442.46 1905.74a1.45 1.45 0 1 0 2.9 0a1.45 1.45 0 1 0 -2.9 0M1441.87 1905.77a1.45 1.45 0 1 0 2.9 0a1.45 1.45 0 1 0 -2.9 0M1447.82 1917.69a1.45 1.45 0 1 0 2.9 0a1.45 1.45 0 1 0 -2.9 0M1444.69 1872.12a1.45 1.45 0 1 0 2.9 0a1.45 1.45 0 1 0 -2.9 0M1439.63 1904.84a1.45 1.45 0 1 0 2.9 0a1.45 1.45 0 1 0 -2.9 0M1441.58 1904.4a1.45 1.45 0 1 0 2.9 0a1.45 1.45 0 1 0 -2.9 0M1445.54 1881.23a1.45 1.45 0 1 0 2.9 0a1.45 1.45 0 1 0 -2.9 0M1441.8 1906.29a1.45 1.45 0 1 0 2.9 0a1.45 1.45 0 1 0 -2.9 0M1447.15 1878.72a1.45 1.45 0 1 0 2.9 0a1.45 1.45 0 1 0 -2.9 0M1438.27 1925.7a1.45 1.45 0 1 0 2.9 0a1.45 1.45 0 1 0 -2.9 0M1443.63 1902.83a1.45 1.45 0 1 0 2.9 0a1.45 1.45 0 1 0 -2.9 0M1445.19 1901.53a1.45 1.45 0 1 0 2.9 0a1.45 1.45 0 1 0 -2.9 0M1441.51 1890.81a1.45 1.45 0 1 0 2.9 0a1.45 1.45 0 1 0 -2.9 0M1440.77 1904.23a1.45 1.45 0 1 0 2.9 0a1.45 1.45 0 1 0 -2.9 0M1440.5 1894.14a1.45 1.45 0 1 0 2.9 0a1.45 1.45 0 1 0 -2.9 0M1445.86 1893.53a1.45 1.45 0 1 0 2.9 0a1.45 1.45 0 1 0 -2.9 0M1442.28 1895.28a1.45 1.45 0 1 0 2.9 0a1.45 1.45 0 1 0 -2.9 0M1448.77 1870.09a1.45 1.45 0 1 0 2.9 0a1.45 1.45 0 1 0 -2.9 0M1441.17 1891.92a1.45 1.45 0 1 0 2.9 0a1.45 1.45 0 1 0 -2.9 0M1441.27 1880.47a1.45 1.45 0 1 0 2.9 0a1.45 1.45 0 1 0 -2.9 0M1444.6 1878.47a1.45 1.45 0 1 0 2.9 0a1.45 1.45 0 1 0 -2.9 0M1444.39 1867.97a1.45 1.45 0 1 0 2.9 0a1.45 1.45 0 1 0 -2.9 0M1438.16 1906.81a1.45 1.45 0 1 0 2.9 0a1.45 1.45 0 1 0 -2.9 0M1441.85 1903.23a1.45 1.45 0 1 0 2.9 0a1.45 1.45 0 1 0 -2.9 0M1445.75 1888.64a1.45 1.45 0 1 0 2.9 0a1.45 1.45 0 1 0 -2.9 0M1445.05 1886.69a1.45 1.45 0 1 0 2.9 0a1.45 1.45 0 1 0 -2.9 0M1445.96 1889.29a1.45 1.45 0 1 0 2.9 0a1.45 1.45 0 1 0 -2.9 0M1438.62 1892.82a1.45 1.45 0 1 0 2.9 0a1.45 1.45 0 1 0 -2.9 0M1441.96 1921.95a1.45 1.45 0 1 0 2.9 0a1.45 1.45 0 1 0 -2.9 0M1441.76 1922.83a1.45 1.45 0 1 0 2.9 0a1.45 1.45 0 1 0 -2.9 0M1443.41 1872.86a1.45 1.45 0 1 0 2.9 0a1.45 1.45 0 1 0 -2.9 0M1444.65 1912.2a1.45 1.45 0 1 0 2.9 0a1.45 1.45 0 1 0 -2.9 0M1446.69 1918.49a1.45 1.45 0 1 0 2.9 0a1.45 1.45 0 1 0 -2.9 0M1446.73 1897a1.45 1.45 0 1 0 2.9 0a1.45 1.45 0 1 0 -2.9 0M1439.59 1876.94a1.45 1.45 0 1 0 2.9 0a1.45 1.45 0 1 0 -2.9 0M1442.36 1901.4a1.45 1.45 0 1 0 2.9 0a1.45 1.45 0 1 0 -2.9 0M1440.99 1900.87a1.45 1.45 0 1 0 2.9 0a1.45 1.45 0 1 0 -2.9 0M1446.17 1885.55a1.45 1.45 0 1 0 2.9 0a1.45 1.45 0 1 0 -2.9 0M1439.78 1899.61a1.45 1.45 0 1 0 2.9 0a1.45 1.45 0 1 0 -2.9 0M1448.32 1909.05a1.45 1.45 0 1 0 2.9 0a1.45 1.45 0 1 0 -2.9 0M1439.3 1894.17a1.45 1.45 0 1 0 2.9 0a1.45 1.45 0 1 0 -2.9 0M1446.49 1894.48a1.45 1.45 0 1 0 2.9 0a1.45 1.45 0 1 0 -2.9 0M1441.82 1862.14a1.45 1.45 0 1 0 2.9 0a1.45 1.45 0 1 0 -2.9 0M1447.21 1887.07a1.45 1.45 0 1 0 2.9 0a1.45 1.45 0 1 0 -2.9 0M1438.01 1896.28a1.45 1.45 0 1 0 2.9 0a1.45 1.45 0 1 0 -2.9 0M1448.57 1897.55a1.45 1.45 0 1 0 2.9 0a1.45 1.45 0 1 0 -2.9 0M1442.56 1870.94a1.45 1.45 0 1 0 2.9 0a1.45 1.45 0 1 0 -2.9 0M1448.37 1905.69a1.45 1.45 0 1 0 2.9 0a1.45 1.45 0 1 0 -2.9 0M1446.43 1927.3a1.45 1.45 0 1 0 2.9 0a1.45 1.45 0 1 0 -2.9 0M1442.32 1917.94a1.45 1.45 0 1 0 2.9 0a1.45 1.45 0 1 0 -2.9 0M1438.89 1888.98a1.45 1.45 0 1 0 2.9 0a1.45 1.45 0 1 0 -2.9 0M1438.32 1925.29a1.45 1.45 0 1 0 2.9 0a1.45 1.45 0 1 0 -2.9 0M1441.05 1902.42a1.45 1.45 0 1 0 2.9 0a1.45 1.45 0 1 0 -2.9 0M1444.42 1903.54a1.45 1.45 0 1 0 2.9 0a1.45 1.45 0 1 0 -2.9 0M1443.89 1904.72a1.45 1.45 0 1 0 2.9 0a1.45 1.45 0 1 0 -2.9 0M1438 1909.35a1.45 1.45 0 1 0 2.9 0a1.45 1.45 0 1 0 -2.9 0M1445.96 1892.3a1.45 1.45 0 1 0 2.9 0a1.45 1.45 0 1 0 -2.9 0M1447.17 1906.96a1.45 1.45 0 1 0 2.9 0a1.45 1.45 0 1 0 -2.9 0M1442.65 1857.67a1.45 1.45 0 1 0 2.9 0a1.45 1.45 0 1 0 -2.9 0M1438.96 1875.64a1.45 1.45 0 1 0 2.9 0a1.45 1.45 0 1 0 -2.9 0M1445.45 1878.55a1.45 1.45 0 1 0 2.9 0a1.45 1.45 0 1 0 -2.9 0M1440.16 1892.3a1.45 1.45 0 1 0 2.9 0a1.45 1.45 0 1 0 -2.9 0M1447.01 1895.28a1.45 1.45 0 1 0 2.9 0a1.45 1.45 0 1 0 -2.9 0M1440.68 1901.66a1.45 1.45 0 1 0 2.9 0a1.45 1.45 0 1 0 -2.9 0M1438.72 1873.48a1.45 1.45 0 1 0 2.9 0a1.45 1.45 0 1 0 -2.9 0M1446.05 1892.17a1.45 1.45 0 1 0 2.9 0a1.45 1.45 0 1 0 -2.9 0M1444.84 1888.34a1.45 1.45 0 1 0 2.9 0a1.45 1.45 0 1 0 -2.9 0M1446.95 1911.47a1.45 1.45 0 1 0 2.9 0a1.45 1.45 0 1 0 -2.9 0M1442.08 1906.84a1.45 1.45 0 1 0 2.9 0a1.45 1.45 0 1 0 -2.9 0M1441.79 1884.96a1.45 1.45 0 1 0 2.9 0a1.45 1.45 0 1 0 -2.9 0M1448.19 1866.21a1.45 1.45 0 1 0 2.9 0a1.45 1.45 0 1 0 -2.9 0M1441.19 1871.55a1.45 1.45 0 1 0 2.9 0a1.45 1.45 0 1 0 -2.9 0M1446.95 1903.48a1.45 1.45 0 1 0 2.9 0a1.45 1.45 0 1 0 -2.9 0M1439.02 1916.14a1.45 1.45 0 1 0 2.9 0a1.45 1.45 0 1 0 -2.9 0M1439.82 1921.69a1.45 1.45 0 1 0 2.9 0a1.45 1.45 0 1 0 -2.9 0M1438.53 1903.11a1.45 1.45 0 1 0 2.9 0a1.45 1.45 0 1 0 -2.9 0M1445.71 1910.97a1.45 1.45 0 1 0 2.9 0a1.45 1.45 0 1 0 -2.9 0M1447.26 1916.47a1.45 1.45 0 1 0 2.9 0a1.45 1.45 0 1 0 -2.9 0M1444.23 1939.59a1.45 1.45 0 1 0 2.9 0a1.45 1.45 0 1 0 -2.9 0M1439.61 1900.41a1.45 1.45 0 1 0 2.9 0a1.45 1.45 0 1 0 -2.9 0M1440.31 1908.92a1.45 1.45 0 1 0 2.9 0a1.45 1.45 0 1 0 -2.9 0M1441.31 1888.82a1.45 1.45 0 1 0 2.9 0a1.45 1.45 0 1 0 -2.9 0M1445.01 1862.01a1.45 1.45 0 1 0 2.9 0a1.45 1.45 0 1 0 -2.9 0M1438.12 1909.17a1.45 1.45 0 1 0 2.9 0a1.45 1.45 0 1 0 -2.9 0M1447.37 1925.85a1.45 1.45 0 1 0 2.9 0a1.45 1.45 0 1 0 -2.9 0M1441.71 1908.36a1.45 1.45 0 1 0 2.9 0a1.45 1.45 0 1 0 -2.9 0M1439.51 1861.76a1.45 1.45 0 1 0 2.9 0a1.45 1.45 0 1 0 -2.9 0M1447.19 1892.84a1.45 1.45 0 1 0 2.9 0a1.45 1.45 0 1 0 -2.9 0M1440.64 1893.09a1.45 1.45 0 1 0 2.9 0a1.45 1.45 0 1 0 -2.9 0M1439.56 1885.48a1.45 1.45 0 1 0 2.9 0a1.45 1.45 0 1 0 -2.9 0M1448.56 1854.26a1.45 1.45 0 1 0 2.9 0a1.45 1.45 0 1 0 -2.9 0M1440.53 1916.34a1.45 1.45 0 1 0 2.9 0a1.45 1.45 0 1 0 -2.9 0M1445.74 1911.01a1.45 1.45 0 1 0 2.9 0a1.45 1.45 0 1 0 -2.9 0M1447.92 1910.4a1.45 1.45 0 1 0 2.9 0a1.45 1.45 0 1 0 -2.9 0M1442.53 1884.46a1.45 1.45 0 1 0 2.9 0a1.45 1.45 0 1 0 -2.9 0M1445.22 1871.4a1.45 1.45 0 1 0 2.9 0a1.45 1.45 0 1 0 -2.9 0M1446.08 1907.14a1.45 1.45 0 1 0 2.9 0a1.45 1.45 0 1 0 -2.9 0M1447.25 1939.7a1.45 1.45 0 1 0 2.9 0a1.45 1.45 0 1 0 -2.9 0M1442.63 1928.18a1.45 1.45 0 1 0 2.9 0a1.45 1.45 0 1 0 -2.9 0M1439.05 1910.58a1.45 1.45 0 1 0 2.9 0a1.45 1.45 0 1 0 -2.9 0M1445.5 1881.53a1.45 1.45 0 1 0 2.9 0a1.45 1.45 0 1 0 -2.9 0M1447.33 1881.6a1.45 1.45 0 1 0 2.9 0a1.45 1.45 0 1 0 -2.9 0M1446.31 1917.17a1.45 1.45 0 1 0 2.9 0a1.45 1.45 0 1 0 -2.9 0M1445.95 1910.91a1.45 1.45 0 1 0 2.9 0a1.45 1.45 0 1 0 -2.9 0M1438.55 1894.3a1.45 1.45 0 1 0 2.9 0a1.45 1.45 0 1 0 -2.9 0M1443.59 1887.05a1.45 1.45 0 1 0 2.9 0a1.45 1.45 0 1 0 -2.9 0M1445.25 1892.55a1.45 1.45 0 1 0 2.9 0a1.45 1.45 0 1 0 -2.9 0M1439.32 1914.05a1.45 1.45 0 1 0 2.9 0a1.45 1.45 0 1 0 -2.9 0M1438.04 1899.77a1.45 1.45 0 1 0 2.9 0a1.45 1.45 0 1 0 -2.9 0M1446.1 1892.61a1.45 1.45 0 1 0 2.9 0a1.45 1.45 0 1 0 -2.9 0M1448.09 1906.34a1.45 1.45 0 1 0 2.9 0a1.45 1.45 0 1 0 -2.9 0M1441.47 1921.18a1.45 1.45 0 1 0 2.9 0a1.45 1.45 0 1 0 -2.9 0M1445.94 1918.49a1.45 1.45 0 1 0 2.9 0a1.45 1.45 0 1 0 -2.9 0M1440.42 1884.9a1.45 1.45 0 1 0 2.9 0a1.45 1.45 0 1 0 -2.9 0M1439.77 1908.43a1.45 1.45 0 1 0 2.9 0a1.45 1.45 0 1 0 -2.9 0M1445.34 1908.19a1.45 1.45 0 1 0 2.9 0a1.45 1.45 0 1 0 -2.9 0M1448.73 1905.83a1.45 1.45 0 1 0 2.9 0a1.45 1.45 0 1 0 -2.9 0M1442.04 1908.63a1.45 1.45 0 1 0 2.9 0a1.45 1.45 0 1 0 -2.9 0M1446.76 1908.79a1.45 1.45 0 1 0 2.9 0a1.45 1.45 0 1 0 -2.9 0M1445.34 1885.06a1.45 1.45 0 1 0 2.9 0a1.45 1.45 0 1 0 -2.9 0M1446.49 1906.2a1.45 1.45 0 1 0 2.9 0a1.45 1.45 0 1 0 -2.9 0M1438.4 1904.02a1.45 1.45 0 1 0 2.9 0a1.45 1.45 0 1 0 -2.9 0M1445.04 1928.88a1.45 1.45 0 1 0 2.9 0a1.45 1.45 0 1 0 -2.9 0M1438.25 1886.46a1.45 1.45 0 1 0 2.9 0a1.45 1.45 0 1 0 -2.9 0M1448.49 1893.73a1.45 1.45 0 1 0 2.9 0a1.45 1.45 0 1 0 -2.9 0M1445.19 1892.17a1.45 1.45 0 1 0 2.9 0a1.45 1.45 0 1 0 -2.9 0M1447.88 1903.29a1.45 1.45 0 1 0 2.9 0a1.45 1.45 0 1 0 -2.9 0M1444.5 1913.61a1.45 1.45 0 1 0 2.9 0a1.45 1.45 0 1 0 -2.9 0M1442.35 1917.94a1.45 1.45 0 1 0 2.9 0a1.45 1.45 0 1 0 -2.9 0M1446.45 1880.37a1.45 1.45 0 1 0 2.9 0a1.45 1.45 0 1 0 -2.9 0M1440.45 1920.73a1.45 1.45 0 1 0 2.9 0a1.45 1.45 0 1 0 -2.9 0M1445.12 1897.64a1.45 1.45 0 1 0 2.9 0a1.45 1.45 0 1 0 -2.9 0M1446.33 1909.7a1.45 1.45 0 1 0 2.9 0a1.45 1.45 0 1 0 -2.9 0M1442.54 1913.05a1.45 1.45 0 1 0 2.9 0a1.45 1.45 0 1 0 -2.9 0M1439.5 1926.14a1.45 1.45 0 1 0 2.9 0a1.45 1.45 0 1 0 -2.9 0M1446.38 1900.98a1.45 1.45 0 1 0 2.9 0a1.45 1.45 0 1 0 -2.9 0M1445.02 1914.31a1.45 1.45 0 1 0 2.9 0a1.45 1.45 0 1 0 -2.9 0M1438.33 1910.06a1.45 1.45 0 1 0 2.9 0a1.45 1.45 0 1 0 -2.9 0M1443.6 1876.07a1.45 1.45 0 1 0 2.9 0a1.45 1.45 0 1 0 -2.9 0M1445.58 1898.43a1.45 1.45 0 1 0 2.9 0a1.45 1.45 0 1 0 -2.9 0M1448.69 1904.4a1.45 1.45 0 1 0 2.9 0a1.45 1.45 0 1 0 -2.9 0M1445.32 1899.06a1.45 1.45 0 1 0 2.9 0a1.45 1.45 0 1 0 -2.9 0M1445.69 1922.95a1.45 1.45 0 1 0 2.9 0a1.45 1.45 0 1 0 -2.9 0M1440.32 1914.65a1.45 1.45 0 1 0 2.9 0a1.45 1.45 0 1 0 -2.9 0M1440.15 1918.36a1.45 1.45 0 1 0 2.9 0a1.45 1.45 0 1 0 -2.9 0M1445.23 1916.01a1.45 1.45 0 1 0 2.9 0a1.45 1.45 0 1 0 -2.9 0M1438.6 1890.28a1.45 1.45 0 1 0 2.9 0a1.45 1.45 0 1 0 -2.9 0M1448.36 1924.84a1.45 1.45 0 1 0 2.9 0a1.45 1.45 0 1 0 -2.9 0M1444.75 1910.05a1.45 1.45 0 1 0 2.9 0a1.45 1.45 0 1 0 -2.9 0M1442.08 1903.37a1.45 1.45 0 1 0 2.9 0a1.45 1.45 0 1 0 -2.9 0M1439.23 1860.76a1.45 1.45 0 1 0 2.9 0a1.45 1.45 0 1 0 -2.9 0M1438.19 1896.57a1.45 1.45 0 1 0 2.9 0a1.45 1.45 0 1 0 -2.9 0M1439.96 1891.07a1.45 1.45 0 1 0 2.9 0a1.45 1.45 0 1 0 -2.9 0M1448.01 1876.8a1.45 1.45 0 1 0 2.9 0a1.45 1.45 0 1 0 -2.9 0M1438.64 1881.84a1.45 1.45 0 1 0 2.9 0a1.45 1.45 0 1 0 -2.9 0M1445.68 1910a1.45 1.45 0 1 0 2.9 0a1.45 1.45 0 1 0 -2.9 0M1446.27 1887.39a1.45 1.45 0 1 0 2.9 0a1.45 1.45 0 1 0 -2.9 0M1442.9 1883.98a1.45 1.45 0 1 0 2.9 0a1.45 1.45 0 1 0 -2.9 0M1445.72 1941.77a1.45 1.45 0 1 0 2.9 0a1.45 1.45 0 1 0 -2.9 0M1442.3 1898.14a1.45 1.45 0 1 0 2.9 0a1.45 1.45 0 1 0 -2.9 0M1446.94 1902.61a1.45 1.45 0 1 0 2.9 0a1.45 1.45 0 1 0 -2.9 0M1448.08 1893.93a1.45 1.45 0 1 0 2.9 0a1.45 1.45 0 1 0 -2.9 0M1447.18 1887.39a1.45 1.45 0 1 0 2.9 0a1.45 1.45 0 1 0 -2.9 0M1443.45 1876.3a1.45 1.45 0 1 0 2.9 0a1.45 1.45 0 1 0 -2.9 0M1440.37 1898.28a1.45 1.45 0 1 0 2.9 0a1.45 1.45 0 1 0 -2.9 0M1443.45 1925.68a1.45 1.45 0 1 0 2.9 0a1.45 1.45 0 1 0 -2.9 0M1445.04 1899.63a1.45 1.45 0 1 0 2.9 0a1.45 1.45 0 1 0 -2.9 0M1444.76 1904.69a1.45 1.45 0 1 0 2.9 0a1.45 1.45 0 1 0 -2.9 0M1443.09 1904a1.45 1.45 0 1 0 2.9 0a1.45 1.45 0 1 0 -2.9 0M1444.69 1930.07a1.45 1.45 0 1 0 2.9 0a1.45 1.45 0 1 0 -2.9 0M1439.82 1907.95a1.45 1.45 0 1 0 2.9 0a1.45 1.45 0 1 0 -2.9 0M1443.44 1891.8a1.45 1.45 0 1 0 2.9 0a1.45 1.45 0 1 0 -2.9 0M1442.8 1907.5a1.45 1.45 0 1 0 2.9 0a1.45 1.45 0 1 0 -2.9 0M1439.58 1921.11a1.45 1.45 0 1 0 2.9 0a1.45 1.45 0 1 0 -2.9 0M1446.73 1886.85a1.45 1.45 0 1 0 2.9 0a1.45 1.45 0 1 0 -2.9 0M1444.9 1923.02a1.45 1.45 0 1 0 2.9 0a1.45 1.45 0 1 0 -2.9 0M1441.31 1866.48a1.45 1.45 0 1 0 2.9 0a1.45 1.45 0 1 0 -2.9 0M1443.72 1898.21a1.45 1.45 0 1 0 2.9 0a1.45 1.45 0 1 0 -2.9 0M1441.07 1906.62a1.45 1.45 0 1 0 2.9 0a1.45 1.45 0 1 0 -2.9 0M1447.81 1889.8a1.45 1.45 0 1 0 2.9 0a1.45 1.45 0 1 0 -2.9 0M1444.99 1885.11a1.45 1.45 0 1 0 2.9 0a1.45 1.45 0 1 0 -2.9 0M1441.01 1886.62a1.45 1.45 0 1 0 2.9 0a1.45 1.45 0 1 0 -2.9 0M1442.63 1895.83a1.45 1.45 0 1 0 2.9 0a1.45 1.45 0 1 0 -2.9 0M1447.29 1865.83a1.45 1.45 0 1 0 2.9 0a1.45 1.45 0 1 0 -2.9 0M1439.55 1877.45a1.45 1.45 0 1 0 2.9 0a1.45 1.45 0 1 0 -2.9 0M1445.58 1897.09a1.45 1.45 0 1 0 2.9 0a1.45 1.45 0 1 0 -2.9 0M1438.36 1882.68a1.45 1.45 0 1 0 2.9 0a1.45 1.45 0 1 0 -2.9 0M1447.63 1873.07a1.45 1.45 0 1 0 2.9 0a1.45 1.45 0 1 0 -2.9 0M1445.32 1910.27a1.45 1.45 0 1 0 2.9 0a1.45 1.45 0 1 0 -2.9 0M1442.95 1885.23a1.45 1.45 0 1 0 2.9 0a1.45 1.45 0 1 0 -2.9 0M1444.73 1895.48a1.45 1.45 0 1 0 2.9 0a1.45 1.45 0 1 0 -2.9 0M1445.75 1896.25a1.45 1.45 0 1 0 2.9 0a1.45 1.45 0 1 0 -2.9 0M1447.23 1858.76a1.45 1.45 0 1 0 2.9 0a1.45 1.45 0 1 0 -2.9 0M1441.91 1895.38a1.45 1.45 0 1 0 2.9 0a1.45 1.45 0 1 0 -2.9 0M1446.53 1907.19a1.45 1.45 0 1 0 2.9 0a1.45 1.45 0 1 0 -2.9 0M1445.43 1906.14a1.45 1.45 0 1 0 2.9 0a1.45 1.45 0 1 0 -2.9 0M1440.01 1869.72a1.45 1.45 0 1 0 2.9 0a1.45 1.45 0 1 0 -2.9 0M1443.78 1901.33a1.45 1.45 0 1 0 2.9 0a1.45 1.45 0 1 0 -2.9 0M1442.39 1908.12a1.45 1.45 0 1 0 2.9 0a1.45 1.45 0 1 0 -2.9 0M1438.24 1886.77a1.45 1.45 0 1 0 2.9 0a1.45 1.45 0 1 0 -2.9 0M1441.36 1900.78a1.45 1.45 0 1 0 2.9 0a1.45 1.45 0 1 0 -2.9 0M1441.06 1905.08a1.45 1.45 0 1 0 2.9 0a1.45 1.45 0 1 0 -2.9 0M1446.04 1885a1.45 1.45 0 1 0 2.9 0a1.45 1.45 0 1 0 -2.9 0M1441.28 1903.51a1.45 1.45 0 1 0 2.9 0a1.45 1.45 0 1 0 -2.9 0M1445.45 1890.9a1.45 1.45 0 1 0 2.9 0a1.45 1.45 0 1 0 -2.9 0M1438.52 1940.53a1.45 1.45 0 1 0 2.9 0a1.45 1.45 0 1 0 -2.9 0M1443.26 1894.41a1.45 1.45 0 1 0 2.9 0a1.45 1.45 0 1 0 -2.9 0M1444.51 1879.96a1.45 1.45 0 1 0 2.9 0a1.45 1.45 0 1 0 -2.9 0M1439 1910.61a1.45 1.45 0 1 0 2.9 0a1.45 1.45 0 1 0 -2.9 0M1442.82 1875.3a1.45 1.45 0 1 0 2.9 0a1.45 1.45 0 1 0 -2.9 0M1448.4 1916.6a1.45 1.45 0 1 0 2.9 0a1.45 1.45 0 1 0 -2.9 0M1439.91 1905.18a1.45 1.45 0 1 0 2.9 0a1.45 1.45 0 1 0 -2.9 0M1438.61 1922.43a1.45 1.45 0 1 0 2.9 0a1.45 1.45 0 1 0 -2.9 0M1439.57 1912.03a1.45 1.45 0 1 0 2.9 0a1.45 1.45 0 1 0 -2.9 0M1447.02 1895.67a1.45 1.45 0 1 0 2.9 0a1.45 1.45 0 1 0 -2.9 0M1444.1 1886.6a1.45 1.45 0 1 0 2.9 0a1.45 1.45 0 1 0 -2.9 0M1443.67 1880.04a1.45 1.45 0 1 0 2.9 0a1.45 1.45 0 1 0 -2.9 0M1446.52 1882.98a1.45 1.45 0 1 0 2.9 0a1.45 1.45 0 1 0 -2.9 0M1446.99 1883.98a1.45 1.45 0 1 0 2.9 0a1.45 1.45 0 1 0 -2.9 0M1440.12 1899.81a1.45 1.45 0 1 0 2.9 0a1.45 1.45 0 1 0 -2.9 0M1446.36 1873.95a1.45 1.45 0 1 0 2.9 0a1.45 1.45 0 1 0 -2.9 0M1444.45 1909.71a1.45 1.45 0 1 0 2.9 0a1.45 1.45 0 1 0 -2.9 0M1447.75 1912.78a1.45 1.45 0 1 0 2.9 0a1.45 1.45 0 1 0 -2.9 0M1448.39 1870.58a1.45 1.45 0 1 0 2.9 0a1.45 1.45 0 1 0 -2.9 0M1439.14 1870.93a1.45 1.45 0 1 0 2.9 0a1.45 1.45 0 1 0 -2.9 0M1439.73 1887.32a1.45 1.45 0 1 0 2.9 0a1.45 1.45 0 1 0 -2.9 0M1443.85 1884.23a1.45 1.45 0 1 0 2.9 0a1.45 1.45 0 1 0 -2.9 0M1447.74 1899.01a1.45 1.45 0 1 0 2.9 0a1.45 1.45 0 1 0 -2.9 0M1445.75 1929.53a1.45 1.45 0 1 0 2.9 0a1.45 1.45 0 1 0 -2.9 0M1440.55 1888.73a1.45 1.45 0 1 0 2.9 0a1.45 1.45 0 1 0 -2.9 0M1446.32 1878.24a1.45 1.45 0 1 0 2.9 0a1.45 1.45 0 1 0 -2.9 0M1440.32 1914.45a1.45 1.45 0 1 0 2.9 0a1.45 1.45 0 1 0 -2.9 0M1447.67 1872.3a1.45 1.45 0 1 0 2.9 0a1.45 1.45 0 1 0 -2.9 0M1445.24 1912.07a1.45 1.45 0 1 0 2.9 0a1.45 1.45 0 1 0 -2.9 0M1439.26 1898.9a1.45 1.45 0 1 0 2.9 0a1.45 1.45 0 1 0 -2.9 0M1441.72 1882.87a1.45 1.45 0 1 0 2.9 0a1.45 1.45 0 1 0 -2.9 0M1443.68 1881.82a1.45 1.45 0 1 0 2.9 0a1.45 1.45 0 1 0 -2.9 0M1447.45 1871a1.45 1.45 0 1 0 2.9 0a1.45 1.45 0 1 0 -2.9 0M1438.83 1916.82a1.45 1.45 0 1 0 2.9 0a1.45 1.45 0 1 0 -2.9 0M1440.78 1902.05a1.45 1.45 0 1 0 2.9 0a1.45 1.45 0 1 0 -2.9 0M1444.37 1888.78a1.45 1.45 0 1 0 2.9 0a1.45 1.45 0 1 0 -2.9 0M1445.43 1906.15a1.45 1.45 0 1 0 2.9 0a1.45 1.45 0 1 0 -2.9 0M1441.95 1883.06a1.45 1.45 0 1 0 2.9 0a1.45 1.45 0 1 0 -2.9 0M1447.88 1893.29a1.45 1.45 0 1 0 2.9 0a1.45 1.45 0 1 0 -2.9 0M1445.83 1901.59a1.45 1.45 0 1 0 2.9 0a1.45 1.45 0 1 0 -2.9 0M1442.1 1922.34a1.45 1.45 0 1 0 2.9 0a1.45 1.45 0 1 0 -2.9 0M1447.29 1905.11a1.45 1.45 0 1 0 2.9 0a1.45 1.45 0 1 0 -2.9 0M1448.09 1883.95a1.45 1.45 0 1 0 2.9 0a1.45 1.45 0 1 0 -2.9 0M1444.05 1868.71a1.45 1.45 0 1 0 2.9 0a1.45 1.45 0 1 0 -2.9 0M1439.47 1879.32a1.45 1.45 0 1 0 2.9 0a1.45 1.45 0 1 0 -2.9 0M1440.54 1907.36a1.45 1.45 0 1 0 2.9 0a1.45 1.45 0 1 0 -2.9 0M1442.18 1897.73a1.45 1.45 0 1 0 2.9 0a1.45 1.45 0 1 0 -2.9 0M1438.18 1879.97a1.45 1.45 0 1 0 2.9 0a1.45 1.45 0 1 0 -2.9 0M1440.58 1918.37a1.45 1.45 0 1 0 2.9 0a1.45 1.45 0 1 0 -2.9 0M1442.58 1898.13a1.45 1.45 0 1 0 2.9 0a1.45 1.45 0 1 0 -2.9 0M1445.73 1858.27a1.45 1.45 0 1 0 2.9 0a1.45 1.45 0 1 0 -2.9 0M1447.4 1907.46a1.45 1.45 0 1 0 2.9 0a1.45 1.45 0 1 0 -2.9 0M1438.11 1903.74a1.45 1.45 0 1 0 2.9 0a1.45 1.45 0 1 0 -2.9 0M1438.25 1888.18a1.45 1.45 0 1 0 2.9 0a1.45 1.45 0 1 0 -2.9 0M1443.5 1904.89a1.45 1.45 0 1 0 2.9 0a1.45 1.45 0 1 0 -2.9 0M1448.09 1900.13a1.45 1.45 0 1 0 2.9 0a1.45 1.45 0 1 0 -2.9 0M1445.38 1871.9a1.45 1.45 0 1 0 2.9 0a1.45 1.45 0 1 0 -2.9 0M1445.26 1808.08a1.45 1.45 0 1 0 2.9 0a1.45 1.45 0 1 0 -2.9 0M1445.8 1809.36a1.45 1.45 0 1 0 2.9 0a1.45 1.45 0 1 0 -2.9 0M1440.68 1830.55a1.45 1.45 0 1 0 2.9 0a1.45 1.45 0 1 0 -2.9 0M1445.16 1832.48a1.45 1.45 0 1 0 2.9 0a1.45 1.45 0 1 0 -2.9 0M1441.93 1949.32a1.45 1.45 0 1 0 2.9 0a1.45 1.45 0 1 0 -2.9 0M1440.96 1957.02a1.45 1.45 0 1 0 2.9 0a1.45 1.45 0 1 0 -2.9 0M1441.86 1958.31a1.45 1.45 0 1 0 2.9 0a1.45 1.45 0 1 0 -2.9 0M1489.05 1893.59a1.45 1.45 0 1 0 2.9 0a1.45 1.45 0 1 0 -2.9 0M1483.69 1876.78a1.45 1.45 0 1 0 2.9 0a1.45 1.45 0 1 0 -2.9 0M1478.77 1898.38a1.45 1.45 0 1 0 2.9 0a1.45 1.45 0 1 0 -2.9 0M1479.98 1878.91a1.45 1.45 0 1 0 2.9 0a1.45 1.45 0 1 0 -2.9 0M1479.76 1904.54a1.45 1.45 0 1 0 2.9 0a1.45 1.45 0 1 0 -2.9 0M1483.91 1904.79a1.45 1.45 0 1 0 2.9 0a1.45 1.45 0 1 0 -2.9 0M1481.99 1886.99a1.45 1.45 0 1 0 2.9 0a1.45 1.45 0 1 0 -2.9 0M1487.82 1862.7a1.45 1.45 0 1 0 2.9 0a1.45 1.45 0 1 0 -2.9 0M1482.45 1887.15a1.45 1.45 0 1 0 2.9 0a1.45 1.45 0 1 0 -2.9 0M1485.55 1889.91a1.45 1.45 0 1 0 2.9 0a1.45 1.45 0 1 0 -2.9 0M1479.08 1854.49a1.45 1.45 0 1 0 2.9 0a1.45 1.45 0 1 0 -2.9 0M1478.54 1897.99a1.45 1.45 0 1 0 2.9 0a1.45 1.45 0 1 0 -2.9 0M1486.86 1876.91a1.45 1.45 0 1 0 2.9 0a1.45 1.45 0 1 0 -2.9 0M1492.85 1872.21a1.45 1.45 0 1 0 2.9 0a1.45 1.45 0 1 0 -2.9 0M1488.76 1878.51a1.45 1.45 0 1 0 2.9 0a1.45 1.45 0 1 0 -2.9 0M1484.09 1882a1.45 1.45 0 1 0 2.9 0a1.45 1.45 0 1 0 -2.9 0M1479.93 1884.16a1.45 1.45 0 1 0 2.9 0a1.45 1.45 0 1 0 -2.9 0M1480.65 1870.44a1.45 1.45 0 1 0 2.9 0a1.45 1.45 0 1 0 -2.9 0M1481.38 1858.9a1.45 1.45 0 1 0 2.9 0a1.45 1.45 0 1 0 -2.9 0M1489.7 1896.55a1.45 1.45 0 1 0 2.9 0a1.45 1.45 0 1 0 -2.9 0M1483.11 1906.77a1.45 1.45 0 1 0 2.9 0a1.45 1.45 0 1 0 -2.9 0M1484.52 1898.51a1.45 1.45 0 1 0 2.9 0a1.45 1.45 0 1 0 -2.9 0M1491.17 1901.41a1.45 1.45 0 1 0 2.9 0a1.45 1.45 0 1 0 -2.9 0M1478.73 1868.03a1.45 1.45 0 1 0 2.9 0a1.45 1.45 0 1 0 -2.9 0M1481.53 1887.86a1.45 1.45 0 1 0 2.9 0a1.45 1.45 0 1 0 -2.9 0M1487.86 1872.78a1.45 1.45 0 1 0 2.9 0a1.45 1.45 0 1 0 -2.9 0M1491.78 1888.49a1.45 1.45 0 1 0 2.9 0a1.45 1.45 0 1 0 -2.9 0M1488.39 1890.6a1.45 1.45 0 1 0 2.9 0a1.45 1.45 0 1 0 -2.9 0M1491.11 1909.91a1.45 1.45 0 1 0 2.9 0a1.45 1.45 0 1 0 -2.9 0M1487.86 1894.29a1.45 1.45 0 1 0 2.9 0a1.45 1.45 0 1 0 -2.9 0M1488.54 1889.65a1.45 1.45 0 1 0 2.9 0a1.45 1.45 0 1 0 -2.9 0M1481.82 1913.55a1.45 1.45 0 1 0 2.9 0a1.45 1.45 0 1 0 -2.9 0M1493.13 1887.58a1.45 1.45 0 1 0 2.9 0a1.45 1.45 0 1 0 -2.9 0M1479.07 1902.54a1.45 1.45 0 1 0 2.9 0a1.45 1.45 0 1 0 -2.9 0M1480.79 1899.89a1.45 1.45 0 1 0 2.9 0a1.45 1.45 0 1 0 -2.9 0M1492.5 1887.29a1.45 1.45 0 1 0 2.9 0a1.45 1.45 0 1 0 -2.9 0M1479.21 1880.6a1.45 1.45 0 1 0 2.9 0a1.45 1.45 0 1 0 -2.9 0M1483.22 1880.81a1.45 1.45 0 1 0 2.9 0a1.45 1.45 0 1 0 -2.9 0M1489.1 1871.21a1.45 1.45 0 1 0 2.9 0a1.45 1.45 0 1 0 -2.9 0M1486.48 1888.38a1.45 1.45 0 1 0 2.9 0a1.45 1.45 0 1 0 -2.9 0M1485.49 1876.88a1.45 1.45 0 1 0 2.9 0a1.45 1.45 0 1 0 -2.9 0M1491.34 1872.62a1.45 1.45 0 1 0 2.9 0a1.45 1.45 0 1 0 -2.9 0M1493.24 1909.59a1.45 1.45 0 1 0 2.9 0a1.45 1.45 0 1 0 -2.9 0M1492.87 1891.17a1.45 1.45 0 1 0 2.9 0a1.45 1.45 0 1 0 -2.9 0M1481.69 1902.19a1.45 1.45 0 1 0 2.9 0a1.45 1.45 0 1 0 -2.9 0M1490.83 1894.84a1.45 1.45 0 1 0 2.9 0a1.45 1.45 0 1 0 -2.9 0M1484.96 1890.27a1.45 1.45 0 1 0 2.9 0a1.45 1.45 0 1 0 -2.9 0M1483.71 1899.88a1.45 1.45 0 1 0 2.9 0a1.45 1.45 0 1 0 -2.9 0M1484.33 1895.95a1.45 1.45 0 1 0 2.9 0a1.45 1.45 0 1 0 -2.9 0M1490.97 1872.62a1.45 1.45 0 1 0 2.9 0a1.45 1.45 0 1 0 -2.9 0M1489.79 1894.6a1.45 1.45 0 1 0 2.9 0a1.45 1.45 0 1 0 -2.9 0M1481.71 1892.27a1.45 1.45 0 1 0 2.9 0a1.45 1.45 0 1 0 -2.9 0M1479.15 1847.03a1.45 1.45 0 1 0 2.9 0a1.45 1.45 0 1 0 -2.9 0M1486.75 1876.61a1.45 1.45 0 1 0 2.9 0a1.45 1.45 0 1 0 -2.9 0M1488.94 1900.66a1.45 1.45 0 1 0 2.9 0a1.45 1.45 0 1 0 -2.9 0M1486 1905.17a1.45 1.45 0 1 0 2.9 0a1.45 1.45 0 1 0 -2.9 0M1481.58 1895.44a1.45 1.45 0 1 0 2.9 0a1.45 1.45 0 1 0 -2.9 0M1487.78 1896.96a1.45 1.45 0 1 0 2.9 0a1.45 1.45 0 1 0 -2.9 0M1488.14 1883.89a1.45 1.45 0 1 0 2.9 0a1.45 1.45 0 1 0 -2.9 0M1481.35 1887.32a1.45 1.45 0 1 0 2.9 0a1.45 1.45 0 1 0 -2.9 0M1489.6 1871.29a1.45 1.45 0 1 0 2.9 0a1.45 1.45 0 1 0 -2.9 0M1489.81 1882.72a1.45 1.45 0 1 0 2.9 0a1.45 1.45 0 1 0 -2.9 0M1483.77 1830.55a1.45 1.45 0 1 0 2.9 0a1.45 1.45 0 1 0 -2.9 0M1485.27 1832.48a1.45 1.45 0 1 0 2.9 0a1.45 1.45 0 1 0 -2.9 0M1488.51 1938.41a1.45 1.45 0 1 0 2.9 0a1.45 1.45 0 1 0 -2.9 0" fill="#111"/>
<text x="1466.05" y="1684.5" font-size="15.5" text-anchor="middle" fill="#222" style="font-weight:bold;">**</text>
<rect x="1419.2" y="1629.5" width="93.7" height="561.4" fill="none" stroke="#111" stroke-width="1.6"/>
<text x="1444.8" y="2211" font-size="20.5" text-anchor="middle" style="font-weight:bold;">D</text>
<text x="1487.3" y="2211" font-size="20.5" text-anchor="middle" style="font-weight:bold;">L</text>
<line x1="1444.8" y1="2190.9" x2="1444.8" y2="2194.4" stroke="#333" stroke-width="1"/>
<line x1="1487.3" y1="2190.9" x2="1487.3" y2="2194.4" stroke="#333" stroke-width="1"/>
<rect x="1518" y="1629.5" width="93.7" height="561.4" fill="#fff"/>
<line x1="1518" y1="2167.6" x2="1611.7" y2="2167.6" stroke="#f3f3f3" stroke-width="0.8"/>
<line x1="1518" y1="2039.2" x2="1611.7" y2="2039.2" stroke="#f3f3f3" stroke-width="0.8"/>
<line x1="1518" y1="1910.8" x2="1611.7" y2="1910.8" stroke="#f3f3f3" stroke-width="0.8"/>
<line x1="1518" y1="1782.4" x2="1611.7" y2="1782.4" stroke="#f3f3f3" stroke-width="0.8"/>
<line x1="1518" y1="1654" x2="1611.7" y2="1654" stroke="#f3f3f3" stroke-width="0.8"/>
<line x1="1518" y1="2103.4" x2="1611.7" y2="2103.4" stroke="#ebebeb" stroke-width="1.1"/>
<line x1="1518" y1="1975" x2="1611.7" y2="1975" stroke="#ebebeb" stroke-width="1.1"/>
<line x1="1518" y1="1846.6" x2="1611.7" y2="1846.6" stroke="#ebebeb" stroke-width="1.1"/>
<line x1="1518" y1="1718.2" x2="1611.7" y2="1718.2" stroke="#ebebeb" stroke-width="1.1"/>
<line x1="1543.6" y1="1629.5" x2="1543.6" y2="2190.9" stroke="#ebebeb" stroke-width="1.1"/>
<line x1="1586.1" y1="1629.5" x2="1586.1" y2="2190.9" stroke="#ebebeb" stroke-width="1.1"/>
<rect x="1517.5" y="1609" width="94.7" height="20.5" fill="#d3d3d3" stroke="#c4c4c4" stroke-width="0.6"/>
<text x="1564.85" y="1625.6" font-size="16.6" text-anchor="middle" fill="#1a1a1a" style="font-weight:bold;font-style:italic;">SUZ12</text>
<rect x="1527" y="1784.3" width="33.2" height="38.1" fill="none" stroke="#555" stroke-width="0.9"/>
<line x1="1527" y1="1804.6" x2="1560.2" y2="1804.6" stroke="#555" stroke-width="1.3"/>
<line x1="1543.6" y1="1784.3" x2="1543.6" y2="1729.3" stroke="#444" stroke-width="0.9"/>
<line x1="1543.6" y1="1822.4" x2="1543.6" y2="1878.3" stroke="#444" stroke-width="0.9"/>
<line x1="1527.3" y1="1729.3" x2="1559.9" y2="1729.3" stroke="#444" stroke-width="0.9"/>
<line x1="1527.3" y1="1878.3" x2="1559.9" y2="1878.3" stroke="#444" stroke-width="0.9"/>
<rect x="1569.5" y="1770.7" width="33.2" height="44.3" fill="none" stroke="#555" stroke-width="0.9"/>
<line x1="1569.5" y1="1794" x2="1602.7" y2="1794" stroke="#555" stroke-width="1.3"/>
<line x1="1586.1" y1="1770.7" x2="1586.1" y2="1718.3" stroke="#444" stroke-width="0.9"/>
<line x1="1586.1" y1="1815" x2="1586.1" y2="1854.7" stroke="#444" stroke-width="0.9"/>
<line x1="1569.8" y1="1718.3" x2="1602.4" y2="1718.3" stroke="#444" stroke-width="0.9"/>
<line x1="1569.8" y1="1854.7" x2="1602.4" y2="1854.7" stroke="#444" stroke-width="0.9"/>
<path d="M1541.53 1868.85a1.45 1.45 0 1 0 2.9 0a1.45 1.45 0 1 0 -2.9 0M1543.28 1806.7a1.45 1.45 0 1 0 2.9 0a1.45 1.45 0 1 0 -2.9 0M1543.47 1773.63a1.45 1.45 0 1 0 2.9 0a1.45 1.45 0 1 0 -2.9 0M1543.16 1791.79a1.45 1.45 0 1 0 2.9 0a1.45 1.45 0 1 0 -2.9 0M1543.96 1847.25a1.45 1.45 0 1 0 2.9 0a1.45 1.45 0 1 0 -2.9 0M1546.19 1842.66a1.45 1.45 0 1 0 2.9 0a1.45 1.45 0 1 0 -2.9 0M1543.23 1769.33a1.45 1.45 0 1 0 2.9 0a1.45 1.45 0 1 0 -2.9 0M1546.28 1811.17a1.45 1.45 0 1 0 2.9 0a1.45 1.45 0 1 0 -2.9 0M1536.74 1808.1a1.45 1.45 0 1 0 2.9 0a1.45 1.45 0 1 0 -2.9 0M1546.97 1810.26a1.45 1.45 0 1 0 2.9 0a1.45 1.45 0 1 0 -2.9 0M1546.37 1808.41a1.45 1.45 0 1 0 2.9 0a1.45 1.45 0 1 0 -2.9 0M1546.11 1793.68a1.45 1.45 0 1 0 2.9 0a1.45 1.45 0 1 0 -2.9 0M1542.26 1819.21a1.45 1.45 0 1 0 2.9 0a1.45 1.45 0 1 0 -2.9 0M1545 1859.5a1.45 1.45 0 1 0 2.9 0a1.45 1.45 0 1 0 -2.9 0M1536.88 1810.19a1.45 1.45 0 1 0 2.9 0a1.45 1.45 0 1 0 -2.9 0M1546.98 1869.98a1.45 1.45 0 1 0 2.9 0a1.45 1.45 0 1 0 -2.9 0M1541.12 1851.32a1.45 1.45 0 1 0 2.9 0a1.45 1.45 0 1 0 -2.9 0M1547.51 1796.28a1.45 1.45 0 1 0 2.9 0a1.45 1.45 0 1 0 -2.9 0M1545.97 1840.43a1.45 1.45 0 1 0 2.9 0a1.45 1.45 0 1 0 -2.9 0M1547.59 1826.03a1.45 1.45 0 1 0 2.9 0a1.45 1.45 0 1 0 -2.9 0M1546.7 1771.22a1.45 1.45 0 1 0 2.9 0a1.45 1.45 0 1 0 -2.9 0M1545.05 1763.23a1.45 1.45 0 1 0 2.9 0a1.45 1.45 0 1 0 -2.9 0M1546.03 1816.8a1.45 1.45 0 1 0 2.9 0a1.45 1.45 0 1 0 -2.9 0M1542.38 1846.08a1.45 1.45 0 1 0 2.9 0a1.45 1.45 0 1 0 -2.9 0M1539.24 1755.26a1.45 1.45 0 1 0 2.9 0a1.45 1.45 0 1 0 -2.9 0M1538.51 1795.66a1.45 1.45 0 1 0 2.9 0a1.45 1.45 0 1 0 -2.9 0M1545.17 1789.09a1.45 1.45 0 1 0 2.9 0a1.45 1.45 0 1 0 -2.9 0M1540.66 1803.59a1.45 1.45 0 1 0 2.9 0a1.45 1.45 0 1 0 -2.9 0M1544.94 1844.2a1.45 1.45 0 1 0 2.9 0a1.45 1.45 0 1 0 -2.9 0M1539.9 1833.02a1.45 1.45 0 1 0 2.9 0a1.45 1.45 0 1 0 -2.9 0M1544.4 1796.73a1.45 1.45 0 1 0 2.9 0a1.45 1.45 0 1 0 -2.9 0M1541.09 1800.77a1.45 1.45 0 1 0 2.9 0a1.45 1.45 0 1 0 -2.9 0M1540.75 1837.12a1.45 1.45 0 1 0 2.9 0a1.45 1.45 0 1 0 -2.9 0M1540.33 1820.35a1.45 1.45 0 1 0 2.9 0a1.45 1.45 0 1 0 -2.9 0M1543.37 1850.8a1.45 1.45 0 1 0 2.9 0a1.45 1.45 0 1 0 -2.9 0M1541.62 1786.39a1.45 1.45 0 1 0 2.9 0a1.45 1.45 0 1 0 -2.9 0M1542.99 1838.24a1.45 1.45 0 1 0 2.9 0a1.45 1.45 0 1 0 -2.9 0M1539.16 1820.26a1.45 1.45 0 1 0 2.9 0a1.45 1.45 0 1 0 -2.9 0M1539.79 1850.73a1.45 1.45 0 1 0 2.9 0a1.45 1.45 0 1 0 -2.9 0M1540.76 1832.7a1.45 1.45 0 1 0 2.9 0a1.45 1.45 0 1 0 -2.9 0M1547.43 1804.84a1.45 1.45 0 1 0 2.9 0a1.45 1.45 0 1 0 -2.9 0M1546.8 1789.49a1.45 1.45 0 1 0 2.9 0a1.45 1.45 0 1 0 -2.9 0M1542.57 1777.05a1.45 1.45 0 1 0 2.9 0a1.45 1.45 0 1 0 -2.9 0M1543.11 1823.12a1.45 1.45 0 1 0 2.9 0a1.45 1.45 0 1 0 -2.9 0M1539.48 1810.43a1.45 1.45 0 1 0 2.9 0a1.45 1.45 0 1 0 -2.9 0M1537.85 1789.06a1.45 1.45 0 1 0 2.9 0a1.45 1.45 0 1 0 -2.9 0M1538.63 1841.66a1.45 1.45 0 1 0 2.9 0a1.45 1.45 0 1 0 -2.9 0M1537.61 1746.57a1.45 1.45 0 1 0 2.9 0a1.45 1.45 0 1 0 -2.9 0M1542.9 1800.01a1.45 1.45 0 1 0 2.9 0a1.45 1.45 0 1 0 -2.9 0M1538.97 1818.6a1.45 1.45 0 1 0 2.9 0a1.45 1.45 0 1 0 -2.9 0M1545.05 1793.83a1.45 1.45 0 1 0 2.9 0a1.45 1.45 0 1 0 -2.9 0M1543.13 1758.17a1.45 1.45 0 1 0 2.9 0a1.45 1.45 0 1 0 -2.9 0M1545.98 1819.45a1.45 1.45 0 1 0 2.9 0a1.45 1.45 0 1 0 -2.9 0M1542.03 1797.33a1.45 1.45 0 1 0 2.9 0a1.45 1.45 0 1 0 -2.9 0M1544.65 1785.34a1.45 1.45 0 1 0 2.9 0a1.45 1.45 0 1 0 -2.9 0M1544.86 1786.31a1.45 1.45 0 1 0 2.9 0a1.45 1.45 0 1 0 -2.9 0M1542.04 1826.62a1.45 1.45 0 1 0 2.9 0a1.45 1.45 0 1 0 -2.9 0M1542.62 1821.18a1.45 1.45 0 1 0 2.9 0a1.45 1.45 0 1 0 -2.9 0M1543.33 1822.08a1.45 1.45 0 1 0 2.9 0a1.45 1.45 0 1 0 -2.9 0M1537.35 1782.17a1.45 1.45 0 1 0 2.9 0a1.45 1.45 0 1 0 -2.9 0M1545.75 1818.52a1.45 1.45 0 1 0 2.9 0a1.45 1.45 0 1 0 -2.9 0M1542.82 1834.05a1.45 1.45 0 1 0 2.9 0a1.45 1.45 0 1 0 -2.9 0M1536.96 1829.13a1.45 1.45 0 1 0 2.9 0a1.45 1.45 0 1 0 -2.9 0M1542.39 1804.06a1.45 1.45 0 1 0 2.9 0a1.45 1.45 0 1 0 -2.9 0M1539.23 1859.55a1.45 1.45 0 1 0 2.9 0a1.45 1.45 0 1 0 -2.9 0M1547.53 1794.83a1.45 1.45 0 1 0 2.9 0a1.45 1.45 0 1 0 -2.9 0M1546.12 1847.65a1.45 1.45 0 1 0 2.9 0a1.45 1.45 0 1 0 -2.9 0M1538.78 1781.49a1.45 1.45 0 1 0 2.9 0a1.45 1.45 0 1 0 -2.9 0M1546.81 1785.53a1.45 1.45 0 1 0 2.9 0a1.45 1.45 0 1 0 -2.9 0M1546.64 1824.38a1.45 1.45 0 1 0 2.9 0a1.45 1.45 0 1 0 -2.9 0M1539.92 1795.41a1.45 1.45 0 1 0 2.9 0a1.45 1.45 0 1 0 -2.9 0M1545.62 1753.71a1.45 1.45 0 1 0 2.9 0a1.45 1.45 0 1 0 -2.9 0M1539.7 1829.66a1.45 1.45 0 1 0 2.9 0a1.45 1.45 0 1 0 -2.9 0M1538.86 1815.67a1.45 1.45 0 1 0 2.9 0a1.45 1.45 0 1 0 -2.9 0M1547.63 1794.84a1.45 1.45 0 1 0 2.9 0a1.45 1.45 0 1 0 -2.9 0M1542.83 1832.58a1.45 1.45 0 1 0 2.9 0a1.45 1.45 0 1 0 -2.9 0M1546.52 1799.23a1.45 1.45 0 1 0 2.9 0a1.45 1.45 0 1 0 -2.9 0M1543.21 1805.39a1.45 1.45 0 1 0 2.9 0a1.45 1.45 0 1 0 -2.9 0M1540.05 1752.52a1.45 1.45 0 1 0 2.9 0a1.45 1.45 0 1 0 -2.9 0M1546.76 1786.71a1.45 1.45 0 1 0 2.9 0a1.45 1.45 0 1 0 -2.9 0M1541.37 1757.05a1.45 1.45 0 1 0 2.9 0a1.45 1.45 0 1 0 -2.9 0M1536.95 1837.04a1.45 1.45 0 1 0 2.9 0a1.45 1.45 0 1 0 -2.9 0M1544.12 1815.36a1.45 1.45 0 1 0 2.9 0a1.45 1.45 0 1 0 -2.9 0M1538.09 1780.05a1.45 1.45 0 1 0 2.9 0a1.45 1.45 0 1 0 -2.9 0M1537.45 1845.3a1.45 1.45 0 1 0 2.9 0a1.45 1.45 0 1 0 -2.9 0M1539.8 1747.23a1.45 1.45 0 1 0 2.9 0a1.45 1.45 0 1 0 -2.9 0M1539.01 1829.11a1.45 1.45 0 1 0 2.9 0a1.45 1.45 0 1 0 -2.9 0M1543.56 1816.33a1.45 1.45 0 1 0 2.9 0a1.45 1.45 0 1 0 -2.9 0M1543.37 1758.98a1.45 1.45 0 1 0 2.9 0a1.45 1.45 0 1 0 -2.9 0M1543.55 1825.95a1.45 1.45 0 1 0 2.9 0a1.45 1.45 0 1 0 -2.9 0M1547.25 1767.21a1.45 1.45 0 1 0 2.9 0a1.45 1.45 0 1 0 -2.9 0M1541.63 1825.18a1.45 1.45 0 1 0 2.9 0a1.45 1.45 0 1 0 -2.9 0M1541.03 1805.85a1.45 1.45 0 1 0 2.9 0a1.45 1.45 0 1 0 -2.9 0M1543.77 1809.2a1.45 1.45 0 1 0 2.9 0a1.45 1.45 0 1 0 -2.9 0M1537.35 1772.07a1.45 1.45 0 1 0 2.9 0a1.45 1.45 0 1 0 -2.9 0M1547.06 1777.02a1.45 1.45 0 1 0 2.9 0a1.45 1.45 0 1 0 -2.9 0M1540.12 1785.8a1.45 1.45 0 1 0 2.9 0a1.45 1.45 0 1 0 -2.9 0M1543.36 1769.65a1.45 1.45 0 1 0 2.9 0a1.45 1.45 0 1 0 -2.9 0M1547.45 1804.9a1.45 1.45 0 1 0 2.9 0a1.45 1.45 0 1 0 -2.9 0M1542.94 1818.48a1.45 1.45 0 1 0 2.9 0a1.45 1.45 0 1 0 -2.9 0M1540.2 1758.52a1.45 1.45 0 1 0 2.9 0a1.45 1.45 0 1 0 -2.9 0M1539.4 1814a1.45 1.45 0 1 0 2.9 0a1.45 1.45 0 1 0 -2.9 0M1545.51 1812.7a1.45 1.45 0 1 0 2.9 0a1.45 1.45 0 1 0 -2.9 0M1543.77 1814.1a1.45 1.45 0 1 0 2.9 0a1.45 1.45 0 1 0 -2.9 0M1546.15 1780.33a1.45 1.45 0 1 0 2.9 0a1.45 1.45 0 1 0 -2.9 0M1543.26 1765.68a1.45 1.45 0 1 0 2.9 0a1.45 1.45 0 1 0 -2.9 0M1544.74 1769.26a1.45 1.45 0 1 0 2.9 0a1.45 1.45 0 1 0 -2.9 0M1540.58 1779.92a1.45 1.45 0 1 0 2.9 0a1.45 1.45 0 1 0 -2.9 0M1539.51 1828a1.45 1.45 0 1 0 2.9 0a1.45 1.45 0 1 0 -2.9 0M1544.01 1794.48a1.45 1.45 0 1 0 2.9 0a1.45 1.45 0 1 0 -2.9 0M1539.78 1755.65a1.45 1.45 0 1 0 2.9 0a1.45 1.45 0 1 0 -2.9 0M1543.03 1785.32a1.45 1.45 0 1 0 2.9 0a1.45 1.45 0 1 0 -2.9 0M1541.69 1746.37a1.45 1.45 0 1 0 2.9 0a1.45 1.45 0 1 0 -2.9 0M1539.07 1777.81a1.45 1.45 0 1 0 2.9 0a1.45 1.45 0 1 0 -2.9 0M1539.95 1849.86a1.45 1.45 0 1 0 2.9 0a1.45 1.45 0 1 0 -2.9 0M1538.21 1798.65a1.45 1.45 0 1 0 2.9 0a1.45 1.45 0 1 0 -2.9 0M1539.35 1813.02a1.45 1.45 0 1 0 2.9 0a1.45 1.45 0 1 0 -2.9 0M1542.38 1741.43a1.45 1.45 0 1 0 2.9 0a1.45 1.45 0 1 0 -2.9 0M1544.74 1799.76a1.45 1.45 0 1 0 2.9 0a1.45 1.45 0 1 0 -2.9 0M1537.33 1836.32a1.45 1.45 0 1 0 2.9 0a1.45 1.45 0 1 0 -2.9 0M1542.61 1762.62a1.45 1.45 0 1 0 2.9 0a1.45 1.45 0 1 0 -2.9 0M1537.87 1825.26a1.45 1.45 0 1 0 2.9 0a1.45 1.45 0 1 0 -2.9 0M1540.51 1787.05a1.45 1.45 0 1 0 2.9 0a1.45 1.45 0 1 0 -2.9 0M1540.38 1777.46a1.45 1.45 0 1 0 2.9 0a1.45 1.45 0 1 0 -2.9 0M1541.26 1751.55a1.45 1.45 0 1 0 2.9 0a1.45 1.45 0 1 0 -2.9 0M1542.23 1822.44a1.45 1.45 0 1 0 2.9 0a1.45 1.45 0 1 0 -2.9 0M1544.45 1820.59a1.45 1.45 0 1 0 2.9 0a1.45 1.45 0 1 0 -2.9 0M1540.87 1754.61a1.45 1.45 0 1 0 2.9 0a1.45 1.45 0 1 0 -2.9 0M1537.12 1792.71a1.45 1.45 0 1 0 2.9 0a1.45 1.45 0 1 0 -2.9 0M1542.33 1799.09a1.45 1.45 0 1 0 2.9 0a1.45 1.45 0 1 0 -2.9 0M1539.38 1790.31a1.45 1.45 0 1 0 2.9 0a1.45 1.45 0 1 0 -2.9 0M1537.57 1847.91a1.45 1.45 0 1 0 2.9 0a1.45 1.45 0 1 0 -2.9 0M1539.97 1815.1a1.45 1.45 0 1 0 2.9 0a1.45 1.45 0 1 0 -2.9 0M1542.48 1746.51a1.45 1.45 0 1 0 2.9 0a1.45 1.45 0 1 0 -2.9 0M1544.04 1820.9a1.45 1.45 0 1 0 2.9 0a1.45 1.45 0 1 0 -2.9 0M1536.93 1787.62a1.45 1.45 0 1 0 2.9 0a1.45 1.45 0 1 0 -2.9 0M1546.77 1774.42a1.45 1.45 0 1 0 2.9 0a1.45 1.45 0 1 0 -2.9 0M1546.93 1834.37a1.45 1.45 0 1 0 2.9 0a1.45 1.45 0 1 0 -2.9 0M1539.87 1811.54a1.45 1.45 0 1 0 2.9 0a1.45 1.45 0 1 0 -2.9 0M1544.37 1812.28a1.45 1.45 0 1 0 2.9 0a1.45 1.45 0 1 0 -2.9 0M1542.78 1802.61a1.45 1.45 0 1 0 2.9 0a1.45 1.45 0 1 0 -2.9 0M1542.24 1813.81a1.45 1.45 0 1 0 2.9 0a1.45 1.45 0 1 0 -2.9 0M1536.94 1798.14a1.45 1.45 0 1 0 2.9 0a1.45 1.45 0 1 0 -2.9 0M1542.41 1756.84a1.45 1.45 0 1 0 2.9 0a1.45 1.45 0 1 0 -2.9 0M1546.13 1795.98a1.45 1.45 0 1 0 2.9 0a1.45 1.45 0 1 0 -2.9 0M1545.67 1837.84a1.45 1.45 0 1 0 2.9 0a1.45 1.45 0 1 0 -2.9 0M1537.16 1813.03a1.45 1.45 0 1 0 2.9 0a1.45 1.45 0 1 0 -2.9 0M1540.32 1791.43a1.45 1.45 0 1 0 2.9 0a1.45 1.45 0 1 0 -2.9 0M1547.39 1805.74a1.45 1.45 0 1 0 2.9 0a1.45 1.45 0 1 0 -2.9 0M1539.31 1827.38a1.45 1.45 0 1 0 2.9 0a1.45 1.45 0 1 0 -2.9 0M1541.77 1849.38a1.45 1.45 0 1 0 2.9 0a1.45 1.45 0 1 0 -2.9 0M1539.58 1820.97a1.45 1.45 0 1 0 2.9 0a1.45 1.45 0 1 0 -2.9 0M1544.33 1784.93a1.45 1.45 0 1 0 2.9 0a1.45 1.45 0 1 0 -2.9 0M1547.04 1786.35a1.45 1.45 0 1 0 2.9 0a1.45 1.45 0 1 0 -2.9 0M1538.58 1805.75a1.45 1.45 0 1 0 2.9 0a1.45 1.45 0 1 0 -2.9 0M1545.02 1785.68a1.45 1.45 0 1 0 2.9 0a1.45 1.45 0 1 0 -2.9 0M1540.15 1793.5a1.45 1.45 0 1 0 2.9 0a1.45 1.45 0 1 0 -2.9 0M1541.65 1790.54a1.45 1.45 0 1 0 2.9 0a1.45 1.45 0 1 0 -2.9 0M1542.45 1818.81a1.45 1.45 0 1 0 2.9 0a1.45 1.45 0 1 0 -2.9 0M1544.84 1808.28a1.45 1.45 0 1 0 2.9 0a1.45 1.45 0 1 0 -2.9 0M1539.09 1829.43a1.45 1.45 0 1 0 2.9 0a1.45 1.45 0 1 0 -2.9 0M1541.68 1773.07a1.45 1.45 0 1 0 2.9 0a1.45 1.45 0 1 0 -2.9 0M1542.93 1807.16a1.45 1.45 0 1 0 2.9 0a1.45 1.45 0 1 0 -2.9 0M1537.72 1774.59a1.45 1.45 0 1 0 2.9 0a1.45 1.45 0 1 0 -2.9 0M1542.99 1776.79a1.45 1.45 0 1 0 2.9 0a1.45 1.45 0 1 0 -2.9 0M1543.94 1863.27a1.45 1.45 0 1 0 2.9 0a1.45 1.45 0 1 0 -2.9 0M1545.35 1860.05a1.45 1.45 0 1 0 2.9 0a1.45 1.45 0 1 0 -2.9 0M1537.31 1806.15a1.45 1.45 0 1 0 2.9 0a1.45 1.45 0 1 0 -2.9 0M1540.26 1867.13a1.45 1.45 0 1 0 2.9 0a1.45 1.45 0 1 0 -2.9 0M1541.96 1814.18a1.45 1.45 0 1 0 2.9 0a1.45 1.45 0 1 0 -2.9 0M1542.63 1757.31a1.45 1.45 0 1 0 2.9 0a1.45 1.45 0 1 0 -2.9 0M1542.31 1855.16a1.45 1.45 0 1 0 2.9 0a1.45 1.45 0 1 0 -2.9 0M1538.58 1793.34a1.45 1.45 0 1 0 2.9 0a1.45 1.45 0 1 0 -2.9 0M1538.56 1761.86a1.45 1.45 0 1 0 2.9 0a1.45 1.45 0 1 0 -2.9 0M1547.12 1806.88a1.45 1.45 0 1 0 2.9 0a1.45 1.45 0 1 0 -2.9 0M1546.71 1786.8a1.45 1.45 0 1 0 2.9 0a1.45 1.45 0 1 0 -2.9 0M1539.66 1791.33a1.45 1.45 0 1 0 2.9 0a1.45 1.45 0 1 0 -2.9 0M1546.2 1765.76a1.45 1.45 0 1 0 2.9 0a1.45 1.45 0 1 0 -2.9 0M1544.98 1790.85a1.45 1.45 0 1 0 2.9 0a1.45 1.45 0 1 0 -2.9 0M1538.74 1799.12a1.45 1.45 0 1 0 2.9 0a1.45 1.45 0 1 0 -2.9 0M1545.85 1790.4a1.45 1.45 0 1 0 2.9 0a1.45 1.45 0 1 0 -2.9 0M1542.78 1741.8a1.45 1.45 0 1 0 2.9 0a1.45 1.45 0 1 0 -2.9 0M1538.34 1745.94a1.45 1.45 0 1 0 2.9 0a1.45 1.45 0 1 0 -2.9 0M1537.12 1845.45a1.45 1.45 0 1 0 2.9 0a1.45 1.45 0 1 0 -2.9 0M1541.47 1825.87a1.45 1.45 0 1 0 2.9 0a1.45 1.45 0 1 0 -2.9 0M1543.5 1790.87a1.45 1.45 0 1 0 2.9 0a1.45 1.45 0 1 0 -2.9 0M1539.22 1790.76a1.45 1.45 0 1 0 2.9 0a1.45 1.45 0 1 0 -2.9 0M1539.2 1786.68a1.45 1.45 0 1 0 2.9 0a1.45 1.45 0 1 0 -2.9 0M1539.82 1818.99a1.45 1.45 0 1 0 2.9 0a1.45 1.45 0 1 0 -2.9 0M1537.76 1784.34a1.45 1.45 0 1 0 2.9 0a1.45 1.45 0 1 0 -2.9 0M1538.71 1769.51a1.45 1.45 0 1 0 2.9 0a1.45 1.45 0 1 0 -2.9 0M1539.94 1766.75a1.45 1.45 0 1 0 2.9 0a1.45 1.45 0 1 0 -2.9 0M1545.44 1764.71a1.45 1.45 0 1 0 2.9 0a1.45 1.45 0 1 0 -2.9 0M1538.23 1805.65a1.45 1.45 0 1 0 2.9 0a1.45 1.45 0 1 0 -2.9 0M1544.42 1830.06a1.45 1.45 0 1 0 2.9 0a1.45 1.45 0 1 0 -2.9 0M1542.31 1778.35a1.45 1.45 0 1 0 2.9 0a1.45 1.45 0 1 0 -2.9 0M1538.76 1783.36a1.45 1.45 0 1 0 2.9 0a1.45 1.45 0 1 0 -2.9 0M1542.79 1827.36a1.45 1.45 0 1 0 2.9 0a1.45 1.45 0 1 0 -2.9 0M1539.03 1790.77a1.45 1.45 0 1 0 2.9 0a1.45 1.45 0 1 0 -2.9 0M1543.23 1825.61a1.45 1.45 0 1 0 2.9 0a1.45 1.45 0 1 0 -2.9 0M1542.08 1841.79a1.45 1.45 0 1 0 2.9 0a1.45 1.45 0 1 0 -2.9 0M1546.31 1802.85a1.45 1.45 0 1 0 2.9 0a1.45 1.45 0 1 0 -2.9 0M1538.96 1818.68a1.45 1.45 0 1 0 2.9 0a1.45 1.45 0 1 0 -2.9 0M1542.42 1809.85a1.45 1.45 0 1 0 2.9 0a1.45 1.45 0 1 0 -2.9 0M1536.97 1867.57a1.45 1.45 0 1 0 2.9 0a1.45 1.45 0 1 0 -2.9 0M1543.18 1825.81a1.45 1.45 0 1 0 2.9 0a1.45 1.45 0 1 0 -2.9 0M1537.42 1801.09a1.45 1.45 0 1 0 2.9 0a1.45 1.45 0 1 0 -2.9 0M1537.25 1774.52a1.45 1.45 0 1 0 2.9 0a1.45 1.45 0 1 0 -2.9 0M1546.54 1816.17a1.45 1.45 0 1 0 2.9 0a1.45 1.45 0 1 0 -2.9 0M1546.5 1797.29a1.45 1.45 0 1 0 2.9 0a1.45 1.45 0 1 0 -2.9 0M1539.8 1802.5a1.45 1.45 0 1 0 2.9 0a1.45 1.45 0 1 0 -2.9 0M1547 1766.88a1.45 1.45 0 1 0 2.9 0a1.45 1.45 0 1 0 -2.9 0M1544.15 1814.74a1.45 1.45 0 1 0 2.9 0a1.45 1.45 0 1 0 -2.9 0M1537.2 1825.95a1.45 1.45 0 1 0 2.9 0a1.45 1.45 0 1 0 -2.9 0M1543.56 1842.8a1.45 1.45 0 1 0 2.9 0a1.45 1.45 0 1 0 -2.9 0M1546.69 1754.77a1.45 1.45 0 1 0 2.9 0a1.45 1.45 0 1 0 -2.9 0M1546.04 1803.82a1.45 1.45 0 1 0 2.9 0a1.45 1.45 0 1 0 -2.9 0M1545.71 1824.44a1.45 1.45 0 1 0 2.9 0a1.45 1.45 0 1 0 -2.9 0M1542.21 1788.32a1.45 1.45 0 1 0 2.9 0a1.45 1.45 0 1 0 -2.9 0M1538.33 1791.2a1.45 1.45 0 1 0 2.9 0a1.45 1.45 0 1 0 -2.9 0M1537.39 1772.39a1.45 1.45 0 1 0 2.9 0a1.45 1.45 0 1 0 -2.9 0M1538.43 1798.38a1.45 1.45 0 1 0 2.9 0a1.45 1.45 0 1 0 -2.9 0M1539.2 1790.12a1.45 1.45 0 1 0 2.9 0a1.45 1.45 0 1 0 -2.9 0M1546.07 1772.45a1.45 1.45 0 1 0 2.9 0a1.45 1.45 0 1 0 -2.9 0M1545.02 1790.75a1.45 1.45 0 1 0 2.9 0a1.45 1.45 0 1 0 -2.9 0M1543.37 1770.69a1.45 1.45 0 1 0 2.9 0a1.45 1.45 0 1 0 -2.9 0M1546.15 1839.07a1.45 1.45 0 1 0 2.9 0a1.45 1.45 0 1 0 -2.9 0M1545.31 1805.96a1.45 1.45 0 1 0 2.9 0a1.45 1.45 0 1 0 -2.9 0M1544.97 1775.79a1.45 1.45 0 1 0 2.9 0a1.45 1.45 0 1 0 -2.9 0M1542.8 1806.97a1.45 1.45 0 1 0 2.9 0a1.45 1.45 0 1 0 -2.9 0M1547.11 1815.74a1.45 1.45 0 1 0 2.9 0a1.45 1.45 0 1 0 -2.9 0M1545.26 1783.49a1.45 1.45 0 1 0 2.9 0a1.45 1.45 0 1 0 -2.9 0M1541.06 1810.14a1.45 1.45 0 1 0 2.9 0a1.45 1.45 0 1 0 -2.9 0M1545.22 1839.34a1.45 1.45 0 1 0 2.9 0a1.45 1.45 0 1 0 -2.9 0M1543.14 1788.76a1.45 1.45 0 1 0 2.9 0a1.45 1.45 0 1 0 -2.9 0M1544.88 1822.03a1.45 1.45 0 1 0 2.9 0a1.45 1.45 0 1 0 -2.9 0M1540.04 1855.14a1.45 1.45 0 1 0 2.9 0a1.45 1.45 0 1 0 -2.9 0M1547.28 1787.84a1.45 1.45 0 1 0 2.9 0a1.45 1.45 0 1 0 -2.9 0M1542.48 1826.17a1.45 1.45 0 1 0 2.9 0a1.45 1.45 0 1 0 -2.9 0M1537.96 1782.93a1.45 1.45 0 1 0 2.9 0a1.45 1.45 0 1 0 -2.9 0M1545.47 1857.91a1.45 1.45 0 1 0 2.9 0a1.45 1.45 0 1 0 -2.9 0M1546.04 1789.26a1.45 1.45 0 1 0 2.9 0a1.45 1.45 0 1 0 -2.9 0M1545.76 1793.45a1.45 1.45 0 1 0 2.9 0a1.45 1.45 0 1 0 -2.9 0M1547.23 1856.48a1.45 1.45 0 1 0 2.9 0a1.45 1.45 0 1 0 -2.9 0M1539.8 1778.16a1.45 1.45 0 1 0 2.9 0a1.45 1.45 0 1 0 -2.9 0M1542.57 1820.32a1.45 1.45 0 1 0 2.9 0a1.45 1.45 0 1 0 -2.9 0M1542.76 1841.5a1.45 1.45 0 1 0 2.9 0a1.45 1.45 0 1 0 -2.9 0M1544.09 1863.52a1.45 1.45 0 1 0 2.9 0a1.45 1.45 0 1 0 -2.9 0M1539.58 1840.99a1.45 1.45 0 1 0 2.9 0a1.45 1.45 0 1 0 -2.9 0M1540.57 1808.13a1.45 1.45 0 1 0 2.9 0a1.45 1.45 0 1 0 -2.9 0M1544.35 1774.51a1.45 1.45 0 1 0 2.9 0a1.45 1.45 0 1 0 -2.9 0M1546.88 1790.54a1.45 1.45 0 1 0 2.9 0a1.45 1.45 0 1 0 -2.9 0M1538.46 1833.75a1.45 1.45 0 1 0 2.9 0a1.45 1.45 0 1 0 -2.9 0M1539.91 1795.17a1.45 1.45 0 1 0 2.9 0a1.45 1.45 0 1 0 -2.9 0M1541.79 1797.12a1.45 1.45 0 1 0 2.9 0a1.45 1.45 0 1 0 -2.9 0M1546.8 1846.48a1.45 1.45 0 1 0 2.9 0a1.45 1.45 0 1 0 -2.9 0M1545.17 1835.29a1.45 1.45 0 1 0 2.9 0a1.45 1.45 0 1 0 -2.9 0M1541.95 1838.36a1.45 1.45 0 1 0 2.9 0a1.45 1.45 0 1 0 -2.9 0M1542.2 1804.04a1.45 1.45 0 1 0 2.9 0a1.45 1.45 0 1 0 -2.9 0M1545.96 1811.32a1.45 1.45 0 1 0 2.9 0a1.45 1.45 0 1 0 -2.9 0M1537.12 1780.77a1.45 1.45 0 1 0 2.9 0a1.45 1.45 0 1 0 -2.9 0M1547.44 1786.65a1.45 1.45 0 1 0 2.9 0a1.45 1.45 0 1 0 -2.9 0M1540.59 1771.07a1.45 1.45 0 1 0 2.9 0a1.45 1.45 0 1 0 -2.9 0M1542.28 1830.01a1.45 1.45 0 1 0 2.9 0a1.45 1.45 0 1 0 -2.9 0M1538.39 1823.25a1.45 1.45 0 1 0 2.9 0a1.45 1.45 0 1 0 -2.9 0M1538.9 1839.24a1.45 1.45 0 1 0 2.9 0a1.45 1.45 0 1 0 -2.9 0M1540.32 1795.73a1.45 1.45 0 1 0 2.9 0a1.45 1.45 0 1 0 -2.9 0M1537.59 1810.85a1.45 1.45 0 1 0 2.9 0a1.45 1.45 0 1 0 -2.9 0M1543.92 1769.91a1.45 1.45 0 1 0 2.9 0a1.45 1.45 0 1 0 -2.9 0M1537.07 1807.22a1.45 1.45 0 1 0 2.9 0a1.45 1.45 0 1 0 -2.9 0M1543.52 1793.85a1.45 1.45 0 1 0 2.9 0a1.45 1.45 0 1 0 -2.9 0M1537.16 1772.95a1.45 1.45 0 1 0 2.9 0a1.45 1.45 0 1 0 -2.9 0M1537.39 1827.19a1.45 1.45 0 1 0 2.9 0a1.45 1.45 0 1 0 -2.9 0M1545.28 1837.78a1.45 1.45 0 1 0 2.9 0a1.45 1.45 0 1 0 -2.9 0M1544.9 1838.65a1.45 1.45 0 1 0 2.9 0a1.45 1.45 0 1 0 -2.9 0M1545.7 1815.64a1.45 1.45 0 1 0 2.9 0a1.45 1.45 0 1 0 -2.9 0M1543.81 1770.4a1.45 1.45 0 1 0 2.9 0a1.45 1.45 0 1 0 -2.9 0M1546.2 1793.25a1.45 1.45 0 1 0 2.9 0a1.45 1.45 0 1 0 -2.9 0M1547.6 1792a1.45 1.45 0 1 0 2.9 0a1.45 1.45 0 1 0 -2.9 0M1546.18 1800.71a1.45 1.45 0 1 0 2.9 0a1.45 1.45 0 1 0 -2.9 0M1544.86 1846.03a1.45 1.45 0 1 0 2.9 0a1.45 1.45 0 1 0 -2.9 0M1543.25 1823.64a1.45 1.45 0 1 0 2.9 0a1.45 1.45 0 1 0 -2.9 0M1545.7 1822a1.45 1.45 0 1 0 2.9 0a1.45 1.45 0 1 0 -2.9 0M1545.45 1781.49a1.45 1.45 0 1 0 2.9 0a1.45 1.45 0 1 0 -2.9 0M1546.67 1765.16a1.45 1.45 0 1 0 2.9 0a1.45 1.45 0 1 0 -2.9 0M1536.67 1844.48a1.45 1.45 0 1 0 2.9 0a1.45 1.45 0 1 0 -2.9 0M1539.91 1779.43a1.45 1.45 0 1 0 2.9 0a1.45 1.45 0 1 0 -2.9 0M1545.4 1778.8a1.45 1.45 0 1 0 2.9 0a1.45 1.45 0 1 0 -2.9 0M1545.97 1771.87a1.45 1.45 0 1 0 2.9 0a1.45 1.45 0 1 0 -2.9 0M1538.52 1819.98a1.45 1.45 0 1 0 2.9 0a1.45 1.45 0 1 0 -2.9 0M1544.1 1783.44a1.45 1.45 0 1 0 2.9 0a1.45 1.45 0 1 0 -2.9 0M1540.87 1757.58a1.45 1.45 0 1 0 2.9 0a1.45 1.45 0 1 0 -2.9 0M1538.89 1758.46a1.45 1.45 0 1 0 2.9 0a1.45 1.45 0 1 0 -2.9 0M1542.53 1785.84a1.45 1.45 0 1 0 2.9 0a1.45 1.45 0 1 0 -2.9 0M1545.4 1800.42a1.45 1.45 0 1 0 2.9 0a1.45 1.45 0 1 0 -2.9 0M1541.64 1796.7a1.45 1.45 0 1 0 2.9 0a1.45 1.45 0 1 0 -2.9 0M1545.98 1783.55a1.45 1.45 0 1 0 2.9 0a1.45 1.45 0 1 0 -2.9 0M1538.74 1786.53a1.45 1.45 0 1 0 2.9 0a1.45 1.45 0 1 0 -2.9 0M1537.66 1829.05a1.45 1.45 0 1 0 2.9 0a1.45 1.45 0 1 0 -2.9 0M1546.01 1807.22a1.45 1.45 0 1 0 2.9 0a1.45 1.45 0 1 0 -2.9 0M1538.1 1805.75a1.45 1.45 0 1 0 2.9 0a1.45 1.45 0 1 0 -2.9 0M1541.08 1803.17a1.45 1.45 0 1 0 2.9 0a1.45 1.45 0 1 0 -2.9 0M1543.43 1819.21a1.45 1.45 0 1 0 2.9 0a1.45 1.45 0 1 0 -2.9 0M1541.62 1732.29a1.45 1.45 0 1 0 2.9 0a1.45 1.45 0 1 0 -2.9 0M1541.06 1743.58a1.45 1.45 0 1 0 2.9 0a1.45 1.45 0 1 0 -2.9 0M1544.52 1833.4a1.45 1.45 0 1 0 2.9 0a1.45 1.45 0 1 0 -2.9 0M1545.33 1822.98a1.45 1.45 0 1 0 2.9 0a1.45 1.45 0 1 0 -2.9 0M1541.9 1789.88a1.45 1.45 0 1 0 2.9 0a1.45 1.45 0 1 0 -2.9 0M1546.45 1814.23a1.45 1.45 0 1 0 2.9 0a1.45 1.45 0 1 0 -2.9 0M1543.51 1845.29a1.45 1.45 0 1 0 2.9 0a1.45 1.45 0 1 0 -2.9 0M1537.73 1810.37a1.45 1.45 0 1 0 2.9 0a1.45 1.45 0 1 0 -2.9 0M1545.3 1804.23a1.45 1.45 0 1 0 2.9 0a1.45 1.45 0 1 0 -2.9 0M1543.58 1827.79a1.45 1.45 0 1 0 2.9 0a1.45 1.45 0 1 0 -2.9 0M1543.7 1773.59a1.45 1.45 0 1 0 2.9 0a1.45 1.45 0 1 0 -2.9 0M1546.66 1845.74a1.45 1.45 0 1 0 2.9 0a1.45 1.45 0 1 0 -2.9 0M1540.57 1784.72a1.45 1.45 0 1 0 2.9 0a1.45 1.45 0 1 0 -2.9 0M1538.88 1807.92a1.45 1.45 0 1 0 2.9 0a1.45 1.45 0 1 0 -2.9 0M1541.41 1806.71a1.45 1.45 0 1 0 2.9 0a1.45 1.45 0 1 0 -2.9 0M1544.62 1796.23a1.45 1.45 0 1 0 2.9 0a1.45 1.45 0 1 0 -2.9 0M1545.12 1837.6a1.45 1.45 0 1 0 2.9 0a1.45 1.45 0 1 0 -2.9 0M1537.41 1831.36a1.45 1.45 0 1 0 2.9 0a1.45 1.45 0 1 0 -2.9 0M1541.21 1792.44a1.45 1.45 0 1 0 2.9 0a1.45 1.45 0 1 0 -2.9 0M1541.2 1812.2a1.45 1.45 0 1 0 2.9 0a1.45 1.45 0 1 0 -2.9 0M1540.63 1784.34a1.45 1.45 0 1 0 2.9 0a1.45 1.45 0 1 0 -2.9 0M1536.7 1837.69a1.45 1.45 0 1 0 2.9 0a1.45 1.45 0 1 0 -2.9 0M1547.07 1805.79a1.45 1.45 0 1 0 2.9 0a1.45 1.45 0 1 0 -2.9 0M1542.37 1811.93a1.45 1.45 0 1 0 2.9 0a1.45 1.45 0 1 0 -2.9 0M1546.31 1781.88a1.45 1.45 0 1 0 2.9 0a1.45 1.45 0 1 0 -2.9 0M1542.07 1771.79a1.45 1.45 0 1 0 2.9 0a1.45 1.45 0 1 0 -2.9 0M1540.4 1777.28a1.45 1.45 0 1 0 2.9 0a1.45 1.45 0 1 0 -2.9 0M1543.45 1801.48a1.45 1.45 0 1 0 2.9 0a1.45 1.45 0 1 0 -2.9 0M1543.78 1812.76a1.45 1.45 0 1 0 2.9 0a1.45 1.45 0 1 0 -2.9 0M1539.39 1739.82a1.45 1.45 0 1 0 2.9 0a1.45 1.45 0 1 0 -2.9 0M1543.81 1853.14a1.45 1.45 0 1 0 2.9 0a1.45 1.45 0 1 0 -2.9 0M1543.76 1777.1a1.45 1.45 0 1 0 2.9 0a1.45 1.45 0 1 0 -2.9 0M1538.52 1831.55a1.45 1.45 0 1 0 2.9 0a1.45 1.45 0 1 0 -2.9 0M1545.35 1764.99a1.45 1.45 0 1 0 2.9 0a1.45 1.45 0 1 0 -2.9 0M1544.69 1816.52a1.45 1.45 0 1 0 2.9 0a1.45 1.45 0 1 0 -2.9 0M1545.52 1802.83a1.45 1.45 0 1 0 2.9 0a1.45 1.45 0 1 0 -2.9 0M1539.45 1785.07a1.45 1.45 0 1 0 2.9 0a1.45 1.45 0 1 0 -2.9 0M1540.92 1826.84a1.45 1.45 0 1 0 2.9 0a1.45 1.45 0 1 0 -2.9 0M1543.63 1797.12a1.45 1.45 0 1 0 2.9 0a1.45 1.45 0 1 0 -2.9 0M1544.79 1815.88a1.45 1.45 0 1 0 2.9 0a1.45 1.45 0 1 0 -2.9 0M1547.21 1840.16a1.45 1.45 0 1 0 2.9 0a1.45 1.45 0 1 0 -2.9 0M1546.68 1800.06a1.45 1.45 0 1 0 2.9 0a1.45 1.45 0 1 0 -2.9 0M1538.33 1772.66a1.45 1.45 0 1 0 2.9 0a1.45 1.45 0 1 0 -2.9 0M1546.22 1791.19a1.45 1.45 0 1 0 2.9 0a1.45 1.45 0 1 0 -2.9 0M1539.34 1793.97a1.45 1.45 0 1 0 2.9 0a1.45 1.45 0 1 0 -2.9 0M1537.44 1799.82a1.45 1.45 0 1 0 2.9 0a1.45 1.45 0 1 0 -2.9 0M1538.38 1839.85a1.45 1.45 0 1 0 2.9 0a1.45 1.45 0 1 0 -2.9 0M1546.21 1874.17a1.45 1.45 0 1 0 2.9 0a1.45 1.45 0 1 0 -2.9 0M1545.62 1803.13a1.45 1.45 0 1 0 2.9 0a1.45 1.45 0 1 0 -2.9 0M1544.42 1802.43a1.45 1.45 0 1 0 2.9 0a1.45 1.45 0 1 0 -2.9 0M1545.6 1801.31a1.45 1.45 0 1 0 2.9 0a1.45 1.45 0 1 0 -2.9 0M1547.62 1842.11a1.45 1.45 0 1 0 2.9 0a1.45 1.45 0 1 0 -2.9 0M1547.2 1808.65a1.45 1.45 0 1 0 2.9 0a1.45 1.45 0 1 0 -2.9 0M1544.48 1804.85a1.45 1.45 0 1 0 2.9 0a1.45 1.45 0 1 0 -2.9 0M1546.17 1813.57a1.45 1.45 0 1 0 2.9 0a1.45 1.45 0 1 0 -2.9 0M1541.38 1823.55a1.45 1.45 0 1 0 2.9 0a1.45 1.45 0 1 0 -2.9 0M1541.87 1842.98a1.45 1.45 0 1 0 2.9 0a1.45 1.45 0 1 0 -2.9 0M1540.85 1796.65a1.45 1.45 0 1 0 2.9 0a1.45 1.45 0 1 0 -2.9 0M1537.42 1784.27a1.45 1.45 0 1 0 2.9 0a1.45 1.45 0 1 0 -2.9 0M1543.77 1800.67a1.45 1.45 0 1 0 2.9 0a1.45 1.45 0 1 0 -2.9 0M1539.08 1846a1.45 1.45 0 1 0 2.9 0a1.45 1.45 0 1 0 -2.9 0M1539.98 1784.94a1.45 1.45 0 1 0 2.9 0a1.45 1.45 0 1 0 -2.9 0M1546.56 1792.55a1.45 1.45 0 1 0 2.9 0a1.45 1.45 0 1 0 -2.9 0M1538.54 1760.57a1.45 1.45 0 1 0 2.9 0a1.45 1.45 0 1 0 -2.9 0M1536.96 1832.49a1.45 1.45 0 1 0 2.9 0a1.45 1.45 0 1 0 -2.9 0M1537.87 1769.83a1.45 1.45 0 1 0 2.9 0a1.45 1.45 0 1 0 -2.9 0M1538.05 1825.29a1.45 1.45 0 1 0 2.9 0a1.45 1.45 0 1 0 -2.9 0M1539.98 1807.58a1.45 1.45 0 1 0 2.9 0a1.45 1.45 0 1 0 -2.9 0M1538.87 1768.97a1.45 1.45 0 1 0 2.9 0a1.45 1.45 0 1 0 -2.9 0M1540.34 1778.93a1.45 1.45 0 1 0 2.9 0a1.45 1.45 0 1 0 -2.9 0M1538.46 1814.64a1.45 1.45 0 1 0 2.9 0a1.45 1.45 0 1 0 -2.9 0M1547.57 1799.76a1.45 1.45 0 1 0 2.9 0a1.45 1.45 0 1 0 -2.9 0M1543.87 1796.33a1.45 1.45 0 1 0 2.9 0a1.45 1.45 0 1 0 -2.9 0M1537.23 1759.6a1.45 1.45 0 1 0 2.9 0a1.45 1.45 0 1 0 -2.9 0M1540.79 1823.02a1.45 1.45 0 1 0 2.9 0a1.45 1.45 0 1 0 -2.9 0M1542.91 1778.41a1.45 1.45 0 1 0 2.9 0a1.45 1.45 0 1 0 -2.9 0M1543.04 1822.71a1.45 1.45 0 1 0 2.9 0a1.45 1.45 0 1 0 -2.9 0M1543.53 1711.78a1.45 1.45 0 1 0 2.9 0a1.45 1.45 0 1 0 -2.9 0M1539.77 1713.06a1.45 1.45 0 1 0 2.9 0a1.45 1.45 0 1 0 -2.9 0M1540.52 1885.12a1.45 1.45 0 1 0 2.9 0a1.45 1.45 0 1 0 -2.9 0M1540.59 1903.1a1.45 1.45 0 1 0 2.9 0a1.45 1.45 0 1 0 -2.9 0M1539.84 1904.38a1.45 1.45 0 1 0 2.9 0a1.45 1.45 0 1 0 -2.9 0M1589.14 1780.54a1.45 1.45 0 1 0 2.9 0a1.45 1.45 0 1 0 -2.9 0M1589.93 1813.56a1.45 1.45 0 1 0 2.9 0a1.45 1.45 0 1 0 -2.9 0M1592.05 1780.98a1.45 1.45 0 1 0 2.9 0a1.45 1.45 0 1 0 -2.9 0M1587.07 1775.4a1.45 1.45 0 1 0 2.9 0a1.45 1.45 0 1 0 -2.9 0M1580.74 1792.98a1.45 1.45 0 1 0 2.9 0a1.45 1.45 0 1 0 -2.9 0M1591.31 1786.77a1.45 1.45 0 1 0 2.9 0a1.45 1.45 0 1 0 -2.9 0M1577.43 1790.96a1.45 1.45 0 1 0 2.9 0a1.45 1.45 0 1 0 -2.9 0M1583.09 1760.16a1.45 1.45 0 1 0 2.9 0a1.45 1.45 0 1 0 -2.9 0M1582.45 1798.35a1.45 1.45 0 1 0 2.9 0a1.45 1.45 0 1 0 -2.9 0M1577.79 1851.16a1.45 1.45 0 1 0 2.9 0a1.45 1.45 0 1 0 -2.9 0M1583.81 1785.75a1.45 1.45 0 1 0 2.9 0a1.45 1.45 0 1 0 -2.9 0M1586.5 1758.65a1.45 1.45 0 1 0 2.9 0a1.45 1.45 0 1 0 -2.9 0M1591.13 1790.64a1.45 1.45 0 1 0 2.9 0a1.45 1.45 0 1 0 -2.9 0M1591.01 1800.87a1.45 1.45 0 1 0 2.9 0a1.45 1.45 0 1 0 -2.9 0M1582.97 1744.89a1.45 1.45 0 1 0 2.9 0a1.45 1.45 0 1 0 -2.9 0M1582.58 1770.51a1.45 1.45 0 1 0 2.9 0a1.45 1.45 0 1 0 -2.9 0M1582.3 1829.54a1.45 1.45 0 1 0 2.9 0a1.45 1.45 0 1 0 -2.9 0M1584.9 1763.3a1.45 1.45 0 1 0 2.9 0a1.45 1.45 0 1 0 -2.9 0M1588.69 1784.18a1.45 1.45 0 1 0 2.9 0a1.45 1.45 0 1 0 -2.9 0M1586.98 1789.3a1.45 1.45 0 1 0 2.9 0a1.45 1.45 0 1 0 -2.9 0M1581.28 1839.54a1.45 1.45 0 1 0 2.9 0a1.45 1.45 0 1 0 -2.9 0M1589.28 1755.89a1.45 1.45 0 1 0 2.9 0a1.45 1.45 0 1 0 -2.9 0M1591.49 1767.94a1.45 1.45 0 1 0 2.9 0a1.45 1.45 0 1 0 -2.9 0M1582.45 1852.93a1.45 1.45 0 1 0 2.9 0a1.45 1.45 0 1 0 -2.9 0M1581.97 1847.59a1.45 1.45 0 1 0 2.9 0a1.45 1.45 0 1 0 -2.9 0M1588.64 1790.24a1.45 1.45 0 1 0 2.9 0a1.45 1.45 0 1 0 -2.9 0M1584.3 1848.72a1.45 1.45 0 1 0 2.9 0a1.45 1.45 0 1 0 -2.9 0M1583.48 1794.04a1.45 1.45 0 1 0 2.9 0a1.45 1.45 0 1 0 -2.9 0M1579.13 1768.76a1.45 1.45 0 1 0 2.9 0a1.45 1.45 0 1 0 -2.9 0M1577.32 1789.44a1.45 1.45 0 1 0 2.9 0a1.45 1.45 0 1 0 -2.9 0M1577.49 1812.78a1.45 1.45 0 1 0 2.9 0a1.45 1.45 0 1 0 -2.9 0M1579.08 1770.43a1.45 1.45 0 1 0 2.9 0a1.45 1.45 0 1 0 -2.9 0M1577.65 1773.12a1.45 1.45 0 1 0 2.9 0a1.45 1.45 0 1 0 -2.9 0M1581.62 1767.26a1.45 1.45 0 1 0 2.9 0a1.45 1.45 0 1 0 -2.9 0M1583.93 1783.33a1.45 1.45 0 1 0 2.9 0a1.45 1.45 0 1 0 -2.9 0M1586.6 1835.7a1.45 1.45 0 1 0 2.9 0a1.45 1.45 0 1 0 -2.9 0M1590.89 1783.08a1.45 1.45 0 1 0 2.9 0a1.45 1.45 0 1 0 -2.9 0M1578.41 1753.99a1.45 1.45 0 1 0 2.9 0a1.45 1.45 0 1 0 -2.9 0M1580.27 1823.5a1.45 1.45 0 1 0 2.9 0a1.45 1.45 0 1 0 -2.9 0M1586.78 1807.85a1.45 1.45 0 1 0 2.9 0a1.45 1.45 0 1 0 -2.9 0M1584.04 1805.72a1.45 1.45 0 1 0 2.9 0a1.45 1.45 0 1 0 -2.9 0M1586.92 1801.81a1.45 1.45 0 1 0 2.9 0a1.45 1.45 0 1 0 -2.9 0M1581.04 1776a1.45 1.45 0 1 0 2.9 0a1.45 1.45 0 1 0 -2.9 0M1578.22 1795.16a1.45 1.45 0 1 0 2.9 0a1.45 1.45 0 1 0 -2.9 0M1583.04 1804.5a1.45 1.45 0 1 0 2.9 0a1.45 1.45 0 1 0 -2.9 0M1585.62 1849.98a1.45 1.45 0 1 0 2.9 0a1.45 1.45 0 1 0 -2.9 0M1583.09 1777.12a1.45 1.45 0 1 0 2.9 0a1.45 1.45 0 1 0 -2.9 0M1584.64 1778.88a1.45 1.45 0 1 0 2.9 0a1.45 1.45 0 1 0 -2.9 0M1584.22 1844.86a1.45 1.45 0 1 0 2.9 0a1.45 1.45 0 1 0 -2.9 0M1587.18 1796.26a1.45 1.45 0 1 0 2.9 0a1.45 1.45 0 1 0 -2.9 0M1589.53 1732.95a1.45 1.45 0 1 0 2.9 0a1.45 1.45 0 1 0 -2.9 0M1580.39 1800.62a1.45 1.45 0 1 0 2.9 0a1.45 1.45 0 1 0 -2.9 0M1578.61 1773.48a1.45 1.45 0 1 0 2.9 0a1.45 1.45 0 1 0 -2.9 0M1579.56 1759.54a1.45 1.45 0 1 0 2.9 0a1.45 1.45 0 1 0 -2.9 0M1582.39 1843.08a1.45 1.45 0 1 0 2.9 0a1.45 1.45 0 1 0 -2.9 0M1585.2 1840.47a1.45 1.45 0 1 0 2.9 0a1.45 1.45 0 1 0 -2.9 0M1590.75 1772.72a1.45 1.45 0 1 0 2.9 0a1.45 1.45 0 1 0 -2.9 0M1581.64 1768.83a1.45 1.45 0 1 0 2.9 0a1.45 1.45 0 1 0 -2.9 0M1590.44 1797.73a1.45 1.45 0 1 0 2.9 0a1.45 1.45 0 1 0 -2.9 0M1589 1802.58a1.45 1.45 0 1 0 2.9 0a1.45 1.45 0 1 0 -2.9 0M1580.25 1832.35a1.45 1.45 0 1 0 2.9 0a1.45 1.45 0 1 0 -2.9 0M1578.54 1760.01a1.45 1.45 0 1 0 2.9 0a1.45 1.45 0 1 0 -2.9 0" fill="#111"/>
<text x="1564.85" y="1684.5" font-size="15.5" text-anchor="middle" fill="#222" style="font-weight:bold;">**</text>
<rect x="1518" y="1629.5" width="93.7" height="561.4" fill="none" stroke="#111" stroke-width="1.6"/>
<text x="1543.6" y="2211" font-size="20.5" text-anchor="middle" style="font-weight:bold;">D</text>
<text x="1586.1" y="2211" font-size="20.5" text-anchor="middle" style="font-weight:bold;">L</text>
<line x1="1543.6" y1="2190.9" x2="1543.6" y2="2194.4" stroke="#333" stroke-width="1"/>
<line x1="1586.1" y1="2190.9" x2="1586.1" y2="2194.4" stroke="#333" stroke-width="1"/>
<rect x="1616.6" y="1629.5" width="93.7" height="561.4" fill="#fff"/>
<line x1="1616.6" y1="2167.6" x2="1710.3" y2="2167.6" stroke="#f3f3f3" stroke-width="0.8"/>
<line x1="1616.6" y1="2039.2" x2="1710.3" y2="2039.2" stroke="#f3f3f3" stroke-width="0.8"/>
<line x1="1616.6" y1="1910.8" x2="1710.3" y2="1910.8" stroke="#f3f3f3" stroke-width="0.8"/>
<line x1="1616.6" y1="1782.4" x2="1710.3" y2="1782.4" stroke="#f3f3f3" stroke-width="0.8"/>
<line x1="1616.6" y1="1654" x2="1710.3" y2="1654" stroke="#f3f3f3" stroke-width="0.8"/>
<line x1="1616.6" y1="2103.4" x2="1710.3" y2="2103.4" stroke="#ebebeb" stroke-width="1.1"/>
<line x1="1616.6" y1="1975" x2="1710.3" y2="1975" stroke="#ebebeb" stroke-width="1.1"/>
<line x1="1616.6" y1="1846.6" x2="1710.3" y2="1846.6" stroke="#ebebeb" stroke-width="1.1"/>
<line x1="1616.6" y1="1718.2" x2="1710.3" y2="1718.2" stroke="#ebebeb" stroke-width="1.1"/>
<line x1="1642.2" y1="1629.5" x2="1642.2" y2="2190.9" stroke="#ebebeb" stroke-width="1.1"/>
<line x1="1684.7" y1="1629.5" x2="1684.7" y2="2190.9" stroke="#ebebeb" stroke-width="1.1"/>
<rect x="1616.1" y="1609" width="94.7" height="20.5" fill="#d3d3d3" stroke="#c4c4c4" stroke-width="0.6"/>
<text x="1663.45" y="1625.6" font-size="16.6" text-anchor="middle" fill="#1a1a1a" style="font-weight:bold;font-style:italic;">CBX2</text>
<rect x="1625.6" y="1968.8" width="33.2" height="107.3" fill="none" stroke="#555" stroke-width="0.9"/>
<line x1="1625.6" y1="2036.7" x2="1658.8" y2="2036.7" stroke="#555" stroke-width="1.3"/>
<line x1="1642.2" y1="1968.8" x2="1642.2" y2="1817.6" stroke="#444" stroke-width="0.9"/>
<line x1="1642.2" y1="2076.1" x2="1642.2" y2="2164.4" stroke="#444" stroke-width="0.9"/>
<line x1="1625.9" y1="1817.6" x2="1658.5" y2="1817.6" stroke="#444" stroke-width="0.9"/>
<line x1="1625.9" y1="2164.4" x2="1658.5" y2="2164.4" stroke="#444" stroke-width="0.9"/>
<rect x="1668.1" y="1922" width="33.2" height="104" fill="none" stroke="#555" stroke-width="0.9"/>
<line x1="1668.1" y1="1977" x2="1701.3" y2="1977" stroke="#555" stroke-width="1.3"/>
<line x1="1684.7" y1="1922" x2="1684.7" y2="1839.2" stroke="#444" stroke-width="0.9"/>
<line x1="1684.7" y1="2026" x2="1684.7" y2="2143" stroke="#444" stroke-width="0.9"/>
<line x1="1668.4" y1="1839.2" x2="1701" y2="1839.2" stroke="#444" stroke-width="0.9"/>
<line x1="1668.4" y1="2143" x2="1701" y2="2143" stroke="#444" stroke-width="0.9"/>
<path d="M1638.99 1987.85a1.45 1.45 0 1 0 2.9 0a1.45 1.45 0 1 0 -2.9 0M1636.63 2066.21a1.45 1.45 0 1 0 2.9 0a1.45 1.45 0 1 0 -2.9 0M1639.15 1997.63a1.45 1.45 0 1 0 2.9 0a1.45 1.45 0 1 0 -2.9 0M1644.08 2103.78a1.45 1.45 0 1 0 2.9 0a1.45 1.45 0 1 0 -2.9 0M1635.52 1995.96a1.45 1.45 0 1 0 2.9 0a1.45 1.45 0 1 0 -2.9 0M1644.87 2053.25a1.45 1.45 0 1 0 2.9 0a1.45 1.45 0 1 0 -2.9 0M1641.33 2063.79a1.45 1.45 0 1 0 2.9 0a1.45 1.45 0 1 0 -2.9 0M1636.26 2116.36a1.45 1.45 0 1 0 2.9 0a1.45 1.45 0 1 0 -2.9 0M1646.06 2036.77a1.45 1.45 0 1 0 2.9 0a1.45 1.45 0 1 0 -2.9 0M1639.25 2001.13a1.45 1.45 0 1 0 2.9 0a1.45 1.45 0 1 0 -2.9 0M1640.46 1890.99a1.45 1.45 0 1 0 2.9 0a1.45 1.45 0 1 0 -2.9 0M1637.36 2032.16a1.45 1.45 0 1 0 2.9 0a1.45 1.45 0 1 0 -2.9 0M1644.5 2081.63a1.45 1.45 0 1 0 2.9 0a1.45 1.45 0 1 0 -2.9 0M1636.35 2069.49a1.45 1.45 0 1 0 2.9 0a1.45 1.45 0 1 0 -2.9 0M1641.3 2062.36a1.45 1.45 0 1 0 2.9 0a1.45 1.45 0 1 0 -2.9 0M1642.39 1997.78a1.45 1.45 0 1 0 2.9 0a1.45 1.45 0 1 0 -2.9 0M1646.01 2068.46a1.45 1.45 0 1 0 2.9 0a1.45 1.45 0 1 0 -2.9 0M1645.63 2101.93a1.45 1.45 0 1 0 2.9 0a1.45 1.45 0 1 0 -2.9 0M1642.41 1861.39a1.45 1.45 0 1 0 2.9 0a1.45 1.45 0 1 0 -2.9 0M1642.64 2037.78a1.45 1.45 0 1 0 2.9 0a1.45 1.45 0 1 0 -2.9 0M1643.1 1991.06a1.45 1.45 0 1 0 2.9 0a1.45 1.45 0 1 0 -2.9 0M1642.56 1923.71a1.45 1.45 0 1 0 2.9 0a1.45 1.45 0 1 0 -2.9 0M1643.41 1989.46a1.45 1.45 0 1 0 2.9 0a1.45 1.45 0 1 0 -2.9 0M1640.48 2028.83a1.45 1.45 0 1 0 2.9 0a1.45 1.45 0 1 0 -2.9 0M1645.54 1940.73a1.45 1.45 0 1 0 2.9 0a1.45 1.45 0 1 0 -2.9 0M1641.2 2087.28a1.45 1.45 0 1 0 2.9 0a1.45 1.45 0 1 0 -2.9 0M1638.58 1965.28a1.45 1.45 0 1 0 2.9 0a1.45 1.45 0 1 0 -2.9 0M1646.24 2034.23a1.45 1.45 0 1 0 2.9 0a1.45 1.45 0 1 0 -2.9 0M1638.54 2075.8a1.45 1.45 0 1 0 2.9 0a1.45 1.45 0 1 0 -2.9 0M1639.64 1965.23a1.45 1.45 0 1 0 2.9 0a1.45 1.45 0 1 0 -2.9 0M1644.89 2120.53a1.45 1.45 0 1 0 2.9 0a1.45 1.45 0 1 0 -2.9 0M1639.55 2013.47a1.45 1.45 0 1 0 2.9 0a1.45 1.45 0 1 0 -2.9 0M1642.15 2075.26a1.45 1.45 0 1 0 2.9 0a1.45 1.45 0 1 0 -2.9 0M1641.43 1933.08a1.45 1.45 0 1 0 2.9 0a1.45 1.45 0 1 0 -2.9 0M1643.01 2128.79a1.45 1.45 0 1 0 2.9 0a1.45 1.45 0 1 0 -2.9 0M1641.13 2068.74a1.45 1.45 0 1 0 2.9 0a1.45 1.45 0 1 0 -2.9 0M1638.28 2004.29a1.45 1.45 0 1 0 2.9 0a1.45 1.45 0 1 0 -2.9 0M1643.36 1904.68a1.45 1.45 0 1 0 2.9 0a1.45 1.45 0 1 0 -2.9 0M1644.05 2137.51a1.45 1.45 0 1 0 2.9 0a1.45 1.45 0 1 0 -2.9 0M1640.87 2159.35a1.45 1.45 0 1 0 2.9 0a1.45 1.45 0 1 0 -2.9 0M1643.8 2120.47a1.45 1.45 0 1 0 2.9 0a1.45 1.45 0 1 0 -2.9 0M1637.81 2021.34a1.45 1.45 0 1 0 2.9 0a1.45 1.45 0 1 0 -2.9 0M1643.6 2047.99a1.45 1.45 0 1 0 2.9 0a1.45 1.45 0 1 0 -2.9 0M1638.94 2130.28a1.45 1.45 0 1 0 2.9 0a1.45 1.45 0 1 0 -2.9 0M1642.09 1903.32a1.45 1.45 0 1 0 2.9 0a1.45 1.45 0 1 0 -2.9 0M1637.23 1932.1a1.45 1.45 0 1 0 2.9 0a1.45 1.45 0 1 0 -2.9 0M1645.69 2044.88a1.45 1.45 0 1 0 2.9 0a1.45 1.45 0 1 0 -2.9 0M1641.06 1997.04a1.45 1.45 0 1 0 2.9 0a1.45 1.45 0 1 0 -2.9 0M1645.41 1902.06a1.45 1.45 0 1 0 2.9 0a1.45 1.45 0 1 0 -2.9 0M1643.56 2067.07a1.45 1.45 0 1 0 2.9 0a1.45 1.45 0 1 0 -2.9 0M1641.43 2035.2a1.45 1.45 0 1 0 2.9 0a1.45 1.45 0 1 0 -2.9 0M1644.33 2063.46a1.45 1.45 0 1 0 2.9 0a1.45 1.45 0 1 0 -2.9 0M1640.65 2040.68a1.45 1.45 0 1 0 2.9 0a1.45 1.45 0 1 0 -2.9 0M1635.92 2139.41a1.45 1.45 0 1 0 2.9 0a1.45 1.45 0 1 0 -2.9 0M1643.84 2019.74a1.45 1.45 0 1 0 2.9 0a1.45 1.45 0 1 0 -2.9 0M1645.75 1977.21a1.45 1.45 0 1 0 2.9 0a1.45 1.45 0 1 0 -2.9 0M1636.48 2052.89a1.45 1.45 0 1 0 2.9 0a1.45 1.45 0 1 0 -2.9 0M1641.68 1944.98a1.45 1.45 0 1 0 2.9 0a1.45 1.45 0 1 0 -2.9 0M1643.91 1973.06a1.45 1.45 0 1 0 2.9 0a1.45 1.45 0 1 0 -2.9 0M1639.44 2067.39a1.45 1.45 0 1 0 2.9 0a1.45 1.45 0 1 0 -2.9 0M1641.12 2056.73a1.45 1.45 0 1 0 2.9 0a1.45 1.45 0 1 0 -2.9 0M1639.15 1971.37a1.45 1.45 0 1 0 2.9 0a1.45 1.45 0 1 0 -2.9 0M1644.29 2074.66a1.45 1.45 0 1 0 2.9 0a1.45 1.45 0 1 0 -2.9 0M1643.93 2081.63a1.45 1.45 0 1 0 2.9 0a1.45 1.45 0 1 0 -2.9 0M1641.02 2031.43a1.45 1.45 0 1 0 2.9 0a1.45 1.45 0 1 0 -2.9 0M1642.31 2038.68a1.45 1.45 0 1 0 2.9 0a1.45 1.45 0 1 0 -2.9 0M1642.57 2139.81a1.45 1.45 0 1 0 2.9 0a1.45 1.45 0 1 0 -2.9 0M1643.73 2054a1.45 1.45 0 1 0 2.9 0a1.45 1.45 0 1 0 -2.9 0M1645.48 2125.02a1.45 1.45 0 1 0 2.9 0a1.45 1.45 0 1 0 -2.9 0M1638.14 1991.13a1.45 1.45 0 1 0 2.9 0a1.45 1.45 0 1 0 -2.9 0M1646.23 1987.29a1.45 1.45 0 1 0 2.9 0a1.45 1.45 0 1 0 -2.9 0M1639.56 2112.27a1.45 1.45 0 1 0 2.9 0a1.45 1.45 0 1 0 -2.9 0M1644.41 2037.46a1.45 1.45 0 1 0 2.9 0a1.45 1.45 0 1 0 -2.9 0M1637.96 1976.98a1.45 1.45 0 1 0 2.9 0a1.45 1.45 0 1 0 -2.9 0M1642.05 1990.6a1.45 1.45 0 1 0 2.9 0a1.45 1.45 0 1 0 -2.9 0M1637.93 2117.62a1.45 1.45 0 1 0 2.9 0a1.45 1.45 0 1 0 -2.9 0M1638.15 1992.95a1.45 1.45 0 1 0 2.9 0a1.45 1.45 0 1 0 -2.9 0M1645 2028.17a1.45 1.45 0 1 0 2.9 0a1.45 1.45 0 1 0 -2.9 0M1642.23 2130.37a1.45 1.45 0 1 0 2.9 0a1.45 1.45 0 1 0 -2.9 0M1637.7 1996.95a1.45 1.45 0 1 0 2.9 0a1.45 1.45 0 1 0 -2.9 0M1635.68 2024.37a1.45 1.45 0 1 0 2.9 0a1.45 1.45 0 1 0 -2.9 0M1636.88 2081.01a1.45 1.45 0 1 0 2.9 0a1.45 1.45 0 1 0 -2.9 0M1637.3 2006.25a1.45 1.45 0 1 0 2.9 0a1.45 1.45 0 1 0 -2.9 0M1638.97 2103.45a1.45 1.45 0 1 0 2.9 0a1.45 1.45 0 1 0 -2.9 0M1642.65 2118.72a1.45 1.45 0 1 0 2.9 0a1.45 1.45 0 1 0 -2.9 0M1636.25 2141.92a1.45 1.45 0 1 0 2.9 0a1.45 1.45 0 1 0 -2.9 0M1642.43 2116.15a1.45 1.45 0 1 0 2.9 0a1.45 1.45 0 1 0 -2.9 0M1637.07 2003.75a1.45 1.45 0 1 0 2.9 0a1.45 1.45 0 1 0 -2.9 0M1646.04 2016.41a1.45 1.45 0 1 0 2.9 0a1.45 1.45 0 1 0 -2.9 0M1643.16 1940.68a1.45 1.45 0 1 0 2.9 0a1.45 1.45 0 1 0 -2.9 0M1645.92 1958.85a1.45 1.45 0 1 0 2.9 0a1.45 1.45 0 1 0 -2.9 0M1641 1980.01a1.45 1.45 0 1 0 2.9 0a1.45 1.45 0 1 0 -2.9 0M1639.1 1985.22a1.45 1.45 0 1 0 2.9 0a1.45 1.45 0 1 0 -2.9 0M1646.21 2069.19a1.45 1.45 0 1 0 2.9 0a1.45 1.45 0 1 0 -2.9 0M1641.77 1906.5a1.45 1.45 0 1 0 2.9 0a1.45 1.45 0 1 0 -2.9 0M1637.12 2099.37a1.45 1.45 0 1 0 2.9 0a1.45 1.45 0 1 0 -2.9 0M1642.37 1914.87a1.45 1.45 0 1 0 2.9 0a1.45 1.45 0 1 0 -2.9 0M1641.27 2078.97a1.45 1.45 0 1 0 2.9 0a1.45 1.45 0 1 0 -2.9 0M1641.31 2065.52a1.45 1.45 0 1 0 2.9 0a1.45 1.45 0 1 0 -2.9 0M1639.2 2128.9a1.45 1.45 0 1 0 2.9 0a1.45 1.45 0 1 0 -2.9 0M1637.8 2051.8a1.45 1.45 0 1 0 2.9 0a1.45 1.45 0 1 0 -2.9 0M1636.59 2007.05a1.45 1.45 0 1 0 2.9 0a1.45 1.45 0 1 0 -2.9 0M1644.35 1994.48a1.45 1.45 0 1 0 2.9 0a1.45 1.45 0 1 0 -2.9 0M1639.08 2060.89a1.45 1.45 0 1 0 2.9 0a1.45 1.45 0 1 0 -2.9 0M1636.12 2088.13a1.45 1.45 0 1 0 2.9 0a1.45 1.45 0 1 0 -2.9 0M1639.9 1962.17a1.45 1.45 0 1 0 2.9 0a1.45 1.45 0 1 0 -2.9 0M1637.32 2017.37a1.45 1.45 0 1 0 2.9 0a1.45 1.45 0 1 0 -2.9 0M1636.44 1935.78a1.45 1.45 0 1 0 2.9 0a1.45 1.45 0 1 0 -2.9 0M1636.62 1940.77a1.45 1.45 0 1 0 2.9 0a1.45 1.45 0 1 0 -2.9 0M1642.08 2075.88a1.45 1.45 0 1 0 2.9 0a1.45 1.45 0 1 0 -2.9 0M1636.09 2030.07a1.45 1.45 0 1 0 2.9 0a1.45 1.45 0 1 0 -2.9 0M1640.39 2035.5a1.45 1.45 0 1 0 2.9 0a1.45 1.45 0 1 0 -2.9 0M1638.24 2025.12a1.45 1.45 0 1 0 2.9 0a1.45 1.45 0 1 0 -2.9 0M1643.65 2140.01a1.45 1.45 0 1 0 2.9 0a1.45 1.45 0 1 0 -2.9 0M1639.86 1988.83a1.45 1.45 0 1 0 2.9 0a1.45 1.45 0 1 0 -2.9 0M1642.28 2016.79a1.45 1.45 0 1 0 2.9 0a1.45 1.45 0 1 0 -2.9 0M1639.6 2126.12a1.45 1.45 0 1 0 2.9 0a1.45 1.45 0 1 0 -2.9 0M1645.17 1969.25a1.45 1.45 0 1 0 2.9 0a1.45 1.45 0 1 0 -2.9 0M1639.91 2028.64a1.45 1.45 0 1 0 2.9 0a1.45 1.45 0 1 0 -2.9 0M1642.53 2121.98a1.45 1.45 0 1 0 2.9 0a1.45 1.45 0 1 0 -2.9 0M1637.78 2013.35a1.45 1.45 0 1 0 2.9 0a1.45 1.45 0 1 0 -2.9 0M1638.08 1993.19a1.45 1.45 0 1 0 2.9 0a1.45 1.45 0 1 0 -2.9 0M1644.96 1928.99a1.45 1.45 0 1 0 2.9 0a1.45 1.45 0 1 0 -2.9 0M1640.8 1970.58a1.45 1.45 0 1 0 2.9 0a1.45 1.45 0 1 0 -2.9 0M1641.26 2136.56a1.45 1.45 0 1 0 2.9 0a1.45 1.45 0 1 0 -2.9 0M1641.26 2028.06a1.45 1.45 0 1 0 2.9 0a1.45 1.45 0 1 0 -2.9 0M1640.64 1992.91a1.45 1.45 0 1 0 2.9 0a1.45 1.45 0 1 0 -2.9 0M1639.15 2093.88a1.45 1.45 0 1 0 2.9 0a1.45 1.45 0 1 0 -2.9 0M1639.14 1962.97a1.45 1.45 0 1 0 2.9 0a1.45 1.45 0 1 0 -2.9 0M1636.26 2030.97a1.45 1.45 0 1 0 2.9 0a1.45 1.45 0 1 0 -2.9 0M1640.09 1968.47a1.45 1.45 0 1 0 2.9 0a1.45 1.45 0 1 0 -2.9 0M1635.37 2105.47a1.45 1.45 0 1 0 2.9 0a1.45 1.45 0 1 0 -2.9 0M1642.93 2085.85a1.45 1.45 0 1 0 2.9 0a1.45 1.45 0 1 0 -2.9 0M1638.13 1933.89a1.45 1.45 0 1 0 2.9 0a1.45 1.45 0 1 0 -2.9 0M1640.56 1887.9a1.45 1.45 0 1 0 2.9 0a1.45 1.45 0 1 0 -2.9 0M1644.41 1897.81a1.45 1.45 0 1 0 2.9 0a1.45 1.45 0 1 0 -2.9 0M1640.26 2022.59a1.45 1.45 0 1 0 2.9 0a1.45 1.45 0 1 0 -2.9 0M1643.42 2011.7a1.45 1.45 0 1 0 2.9 0a1.45 1.45 0 1 0 -2.9 0M1640.33 2095.31a1.45 1.45 0 1 0 2.9 0a1.45 1.45 0 1 0 -2.9 0M1636.04 2118.07a1.45 1.45 0 1 0 2.9 0a1.45 1.45 0 1 0 -2.9 0M1643.73 2045.56a1.45 1.45 0 1 0 2.9 0a1.45 1.45 0 1 0 -2.9 0M1636.55 1906.29a1.45 1.45 0 1 0 2.9 0a1.45 1.45 0 1 0 -2.9 0M1638.05 2007.6a1.45 1.45 0 1 0 2.9 0a1.45 1.45 0 1 0 -2.9 0M1642.47 2101.03a1.45 1.45 0 1 0 2.9 0a1.45 1.45 0 1 0 -2.9 0M1642.38 2042.75a1.45 1.45 0 1 0 2.9 0a1.45 1.45 0 1 0 -2.9 0M1638.2 2065.37a1.45 1.45 0 1 0 2.9 0a1.45 1.45 0 1 0 -2.9 0M1638.93 2120.64a1.45 1.45 0 1 0 2.9 0a1.45 1.45 0 1 0 -2.9 0M1644.43 2154.63a1.45 1.45 0 1 0 2.9 0a1.45 1.45 0 1 0 -2.9 0M1641.12 1877.22a1.45 1.45 0 1 0 2.9 0a1.45 1.45 0 1 0 -2.9 0M1638.15 2009.96a1.45 1.45 0 1 0 2.9 0a1.45 1.45 0 1 0 -2.9 0M1636.51 2058.72a1.45 1.45 0 1 0 2.9 0a1.45 1.45 0 1 0 -2.9 0M1646.17 2076.17a1.45 1.45 0 1 0 2.9 0a1.45 1.45 0 1 0 -2.9 0M1641.11 2071.67a1.45 1.45 0 1 0 2.9 0a1.45 1.45 0 1 0 -2.9 0M1640.06 1984.77a1.45 1.45 0 1 0 2.9 0a1.45 1.45 0 1 0 -2.9 0M1635.39 1986.18a1.45 1.45 0 1 0 2.9 0a1.45 1.45 0 1 0 -2.9 0M1646.03 2088.26a1.45 1.45 0 1 0 2.9 0a1.45 1.45 0 1 0 -2.9 0M1636.96 2041.36a1.45 1.45 0 1 0 2.9 0a1.45 1.45 0 1 0 -2.9 0M1641.14 1937.34a1.45 1.45 0 1 0 2.9 0a1.45 1.45 0 1 0 -2.9 0M1635.88 2072.5a1.45 1.45 0 1 0 2.9 0a1.45 1.45 0 1 0 -2.9 0M1643.69 2116.34a1.45 1.45 0 1 0 2.9 0a1.45 1.45 0 1 0 -2.9 0M1635.51 2012.84a1.45 1.45 0 1 0 2.9 0a1.45 1.45 0 1 0 -2.9 0M1640.14 2105.07a1.45 1.45 0 1 0 2.9 0a1.45 1.45 0 1 0 -2.9 0M1637.09 1873.29a1.45 1.45 0 1 0 2.9 0a1.45 1.45 0 1 0 -2.9 0M1646.17 1889.88a1.45 1.45 0 1 0 2.9 0a1.45 1.45 0 1 0 -2.9 0M1637.26 2046.61a1.45 1.45 0 1 0 2.9 0a1.45 1.45 0 1 0 -2.9 0M1645.95 2076.19a1.45 1.45 0 1 0 2.9 0a1.45 1.45 0 1 0 -2.9 0M1641.96 1936.42a1.45 1.45 0 1 0 2.9 0a1.45 1.45 0 1 0 -2.9 0M1646.17 1963.73a1.45 1.45 0 1 0 2.9 0a1.45 1.45 0 1 0 -2.9 0M1638.03 2054.27a1.45 1.45 0 1 0 2.9 0a1.45 1.45 0 1 0 -2.9 0M1642.71 2023.67a1.45 1.45 0 1 0 2.9 0a1.45 1.45 0 1 0 -2.9 0M1644.92 1981.97a1.45 1.45 0 1 0 2.9 0a1.45 1.45 0 1 0 -2.9 0M1645.03 1955.04a1.45 1.45 0 1 0 2.9 0a1.45 1.45 0 1 0 -2.9 0M1636.2 2162.94a1.45 1.45 0 1 0 2.9 0a1.45 1.45 0 1 0 -2.9 0M1638.4 1891.83a1.45 1.45 0 1 0 2.9 0a1.45 1.45 0 1 0 -2.9 0M1643.31 1937.38a1.45 1.45 0 1 0 2.9 0a1.45 1.45 0 1 0 -2.9 0M1639.86 2065.62a1.45 1.45 0 1 0 2.9 0a1.45 1.45 0 1 0 -2.9 0M1639.97 2122.88a1.45 1.45 0 1 0 2.9 0a1.45 1.45 0 1 0 -2.9 0M1641.97 2117.32a1.45 1.45 0 1 0 2.9 0a1.45 1.45 0 1 0 -2.9 0M1638 2022.75a1.45 1.45 0 1 0 2.9 0a1.45 1.45 0 1 0 -2.9 0M1638.02 1966.31a1.45 1.45 0 1 0 2.9 0a1.45 1.45 0 1 0 -2.9 0M1639 1846.22a1.45 1.45 0 1 0 2.9 0a1.45 1.45 0 1 0 -2.9 0M1636.9 2035.32a1.45 1.45 0 1 0 2.9 0a1.45 1.45 0 1 0 -2.9 0M1638.03 1982.5a1.45 1.45 0 1 0 2.9 0a1.45 1.45 0 1 0 -2.9 0M1635.37 1988.55a1.45 1.45 0 1 0 2.9 0a1.45 1.45 0 1 0 -2.9 0M1643 2110.76a1.45 1.45 0 1 0 2.9 0a1.45 1.45 0 1 0 -2.9 0M1644.69 2137.99a1.45 1.45 0 1 0 2.9 0a1.45 1.45 0 1 0 -2.9 0M1639.9 2039.52a1.45 1.45 0 1 0 2.9 0a1.45 1.45 0 1 0 -2.9 0M1635.82 2085.79a1.45 1.45 0 1 0 2.9 0a1.45 1.45 0 1 0 -2.9 0M1642.03 1898.42a1.45 1.45 0 1 0 2.9 0a1.45 1.45 0 1 0 -2.9 0M1637.05 1989.98a1.45 1.45 0 1 0 2.9 0a1.45 1.45 0 1 0 -2.9 0M1637.16 2033.12a1.45 1.45 0 1 0 2.9 0a1.45 1.45 0 1 0 -2.9 0M1644.82 1979.55a1.45 1.45 0 1 0 2.9 0a1.45 1.45 0 1 0 -2.9 0M1635.58 1986.31a1.45 1.45 0 1 0 2.9 0a1.45 1.45 0 1 0 -2.9 0M1643.01 2060.23a1.45 1.45 0 1 0 2.9 0a1.45 1.45 0 1 0 -2.9 0M1645.74 1950.61a1.45 1.45 0 1 0 2.9 0a1.45 1.45 0 1 0 -2.9 0M1640.74 1966.41a1.45 1.45 0 1 0 2.9 0a1.45 1.45 0 1 0 -2.9 0M1640.23 2053.35a1.45 1.45 0 1 0 2.9 0a1.45 1.45 0 1 0 -2.9 0M1643 2120.36a1.45 1.45 0 1 0 2.9 0a1.45 1.45 0 1 0 -2.9 0M1644.09 1952.55a1.45 1.45 0 1 0 2.9 0a1.45 1.45 0 1 0 -2.9 0M1643.92 2059.79a1.45 1.45 0 1 0 2.9 0a1.45 1.45 0 1 0 -2.9 0M1640.85 2104.77a1.45 1.45 0 1 0 2.9 0a1.45 1.45 0 1 0 -2.9 0M1645 1892.65a1.45 1.45 0 1 0 2.9 0a1.45 1.45 0 1 0 -2.9 0M1644.83 2008.41a1.45 1.45 0 1 0 2.9 0a1.45 1.45 0 1 0 -2.9 0M1643.57 2087.34a1.45 1.45 0 1 0 2.9 0a1.45 1.45 0 1 0 -2.9 0M1638.77 2065.53a1.45 1.45 0 1 0 2.9 0a1.45 1.45 0 1 0 -2.9 0M1642.17 2141.61a1.45 1.45 0 1 0 2.9 0a1.45 1.45 0 1 0 -2.9 0M1635.57 1973.58a1.45 1.45 0 1 0 2.9 0a1.45 1.45 0 1 0 -2.9 0M1637.42 2081.02a1.45 1.45 0 1 0 2.9 0a1.45 1.45 0 1 0 -2.9 0M1638.14 2054.36a1.45 1.45 0 1 0 2.9 0a1.45 1.45 0 1 0 -2.9 0M1646.05 2121.05a1.45 1.45 0 1 0 2.9 0a1.45 1.45 0 1 0 -2.9 0M1644.43 2143.44a1.45 1.45 0 1 0 2.9 0a1.45 1.45 0 1 0 -2.9 0M1636.16 1947.3a1.45 1.45 0 1 0 2.9 0a1.45 1.45 0 1 0 -2.9 0M1644.64 2059.77a1.45 1.45 0 1 0 2.9 0a1.45 1.45 0 1 0 -2.9 0M1642.32 2009.32a1.45 1.45 0 1 0 2.9 0a1.45 1.45 0 1 0 -2.9 0M1636.71 1950.96a1.45 1.45 0 1 0 2.9 0a1.45 1.45 0 1 0 -2.9 0M1641.69 2027.44a1.45 1.45 0 1 0 2.9 0a1.45 1.45 0 1 0 -2.9 0M1644.87 2072.85a1.45 1.45 0 1 0 2.9 0a1.45 1.45 0 1 0 -2.9 0M1645.32 1878a1.45 1.45 0 1 0 2.9 0a1.45 1.45 0 1 0 -2.9 0M1638.27 2044.51a1.45 1.45 0 1 0 2.9 0a1.45 1.45 0 1 0 -2.9 0M1636.43 2077.83a1.45 1.45 0 1 0 2.9 0a1.45 1.45 0 1 0 -2.9 0M1643.58 2021.97a1.45 1.45 0 1 0 2.9 0a1.45 1.45 0 1 0 -2.9 0M1643.89 2093.23a1.45 1.45 0 1 0 2.9 0a1.45 1.45 0 1 0 -2.9 0M1637.45 2027.64a1.45 1.45 0 1 0 2.9 0a1.45 1.45 0 1 0 -2.9 0M1640.24 2096.02a1.45 1.45 0 1 0 2.9 0a1.45 1.45 0 1 0 -2.9 0M1644.88 2022.8a1.45 1.45 0 1 0 2.9 0a1.45 1.45 0 1 0 -2.9 0M1636.96 1959.03a1.45 1.45 0 1 0 2.9 0a1.45 1.45 0 1 0 -2.9 0M1645.36 1933.29a1.45 1.45 0 1 0 2.9 0a1.45 1.45 0 1 0 -2.9 0M1645.51 1927.92a1.45 1.45 0 1 0 2.9 0a1.45 1.45 0 1 0 -2.9 0M1641.75 2056.07a1.45 1.45 0 1 0 2.9 0a1.45 1.45 0 1 0 -2.9 0M1645.81 1980.17a1.45 1.45 0 1 0 2.9 0a1.45 1.45 0 1 0 -2.9 0M1640.47 2010.64a1.45 1.45 0 1 0 2.9 0a1.45 1.45 0 1 0 -2.9 0M1637.49 2061.28a1.45 1.45 0 1 0 2.9 0a1.45 1.45 0 1 0 -2.9 0M1643.03 2097.48a1.45 1.45 0 1 0 2.9 0a1.45 1.45 0 1 0 -2.9 0M1641.91 1893.79a1.45 1.45 0 1 0 2.9 0a1.45 1.45 0 1 0 -2.9 0M1636.1 2030.94a1.45 1.45 0 1 0 2.9 0a1.45 1.45 0 1 0 -2.9 0M1636.95 1898.61a1.45 1.45 0 1 0 2.9 0a1.45 1.45 0 1 0 -2.9 0M1641.54 1994.2a1.45 1.45 0 1 0 2.9 0a1.45 1.45 0 1 0 -2.9 0M1639.33 2043.75a1.45 1.45 0 1 0 2.9 0a1.45 1.45 0 1 0 -2.9 0M1635.31 2043.41a1.45 1.45 0 1 0 2.9 0a1.45 1.45 0 1 0 -2.9 0M1640.23 2073.25a1.45 1.45 0 1 0 2.9 0a1.45 1.45 0 1 0 -2.9 0M1639.6 1979.57a1.45 1.45 0 1 0 2.9 0a1.45 1.45 0 1 0 -2.9 0M1645.22 2047.63a1.45 1.45 0 1 0 2.9 0a1.45 1.45 0 1 0 -2.9 0M1645.37 1922.66a1.45 1.45 0 1 0 2.9 0a1.45 1.45 0 1 0 -2.9 0M1635.32 2027.07a1.45 1.45 0 1 0 2.9 0a1.45 1.45 0 1 0 -2.9 0M1635.57 1986.52a1.45 1.45 0 1 0 2.9 0a1.45 1.45 0 1 0 -2.9 0M1638.5 2063.6a1.45 1.45 0 1 0 2.9 0a1.45 1.45 0 1 0 -2.9 0M1640.93 2000.42a1.45 1.45 0 1 0 2.9 0a1.45 1.45 0 1 0 -2.9 0M1637.62 2083.2a1.45 1.45 0 1 0 2.9 0a1.45 1.45 0 1 0 -2.9 0M1635.45 1991.89a1.45 1.45 0 1 0 2.9 0a1.45 1.45 0 1 0 -2.9 0M1640.97 1946.93a1.45 1.45 0 1 0 2.9 0a1.45 1.45 0 1 0 -2.9 0M1635.28 2098.97a1.45 1.45 0 1 0 2.9 0a1.45 1.45 0 1 0 -2.9 0M1644.05 2140.74a1.45 1.45 0 1 0 2.9 0a1.45 1.45 0 1 0 -2.9 0M1640.34 2131.55a1.45 1.45 0 1 0 2.9 0a1.45 1.45 0 1 0 -2.9 0M1645.32 2026.69a1.45 1.45 0 1 0 2.9 0a1.45 1.45 0 1 0 -2.9 0M1645.25 2152.76a1.45 1.45 0 1 0 2.9 0a1.45 1.45 0 1 0 -2.9 0M1638.62 2078.45a1.45 1.45 0 1 0 2.9 0a1.45 1.45 0 1 0 -2.9 0M1645.75 1991a1.45 1.45 0 1 0 2.9 0a1.45 1.45 0 1 0 -2.9 0M1638.59 2126.98a1.45 1.45 0 1 0 2.9 0a1.45 1.45 0 1 0 -2.9 0M1642.84 2113.22a1.45 1.45 0 1 0 2.9 0a1.45 1.45 0 1 0 -2.9 0M1639.43 2066.59a1.45 1.45 0 1 0 2.9 0a1.45 1.45 0 1 0 -2.9 0M1637.33 1920.37a1.45 1.45 0 1 0 2.9 0a1.45 1.45 0 1 0 -2.9 0M1636.57 1853.72a1.45 1.45 0 1 0 2.9 0a1.45 1.45 0 1 0 -2.9 0M1644.36 1979.59a1.45 1.45 0 1 0 2.9 0a1.45 1.45 0 1 0 -2.9 0M1638.74 2024.83a1.45 1.45 0 1 0 2.9 0a1.45 1.45 0 1 0 -2.9 0M1639.13 1998.23a1.45 1.45 0 1 0 2.9 0a1.45 1.45 0 1 0 -2.9 0M1635.27 2137.57a1.45 1.45 0 1 0 2.9 0a1.45 1.45 0 1 0 -2.9 0M1637.3 2080.52a1.45 1.45 0 1 0 2.9 0a1.45 1.45 0 1 0 -2.9 0M1638.25 1981.93a1.45 1.45 0 1 0 2.9 0a1.45 1.45 0 1 0 -2.9 0M1642.44 2152.62a1.45 1.45 0 1 0 2.9 0a1.45 1.45 0 1 0 -2.9 0M1640.95 2063.08a1.45 1.45 0 1 0 2.9 0a1.45 1.45 0 1 0 -2.9 0M1642.5 1984.34a1.45 1.45 0 1 0 2.9 0a1.45 1.45 0 1 0 -2.9 0M1646.02 2021.44a1.45 1.45 0 1 0 2.9 0a1.45 1.45 0 1 0 -2.9 0M1639.75 2019.82a1.45 1.45 0 1 0 2.9 0a1.45 1.45 0 1 0 -2.9 0M1643.27 2094.29a1.45 1.45 0 1 0 2.9 0a1.45 1.45 0 1 0 -2.9 0M1640.81 2045.7a1.45 1.45 0 1 0 2.9 0a1.45 1.45 0 1 0 -2.9 0M1644.4 1929.06a1.45 1.45 0 1 0 2.9 0a1.45 1.45 0 1 0 -2.9 0M1638.49 2002.28a1.45 1.45 0 1 0 2.9 0a1.45 1.45 0 1 0 -2.9 0M1643.61 1852.55a1.45 1.45 0 1 0 2.9 0a1.45 1.45 0 1 0 -2.9 0M1638.73 2102.62a1.45 1.45 0 1 0 2.9 0a1.45 1.45 0 1 0 -2.9 0M1644.56 2157.05a1.45 1.45 0 1 0 2.9 0a1.45 1.45 0 1 0 -2.9 0M1645.06 2033.81a1.45 1.45 0 1 0 2.9 0a1.45 1.45 0 1 0 -2.9 0M1639.6 2154.58a1.45 1.45 0 1 0 2.9 0a1.45 1.45 0 1 0 -2.9 0M1646.02 2106.55a1.45 1.45 0 1 0 2.9 0a1.45 1.45 0 1 0 -2.9 0M1641.5 2089.58a1.45 1.45 0 1 0 2.9 0a1.45 1.45 0 1 0 -2.9 0M1645.18 2027.16a1.45 1.45 0 1 0 2.9 0a1.45 1.45 0 1 0 -2.9 0M1638.76 1904.23a1.45 1.45 0 1 0 2.9 0a1.45 1.45 0 1 0 -2.9 0M1641.29 1974.05a1.45 1.45 0 1 0 2.9 0a1.45 1.45 0 1 0 -2.9 0M1640.88 2008.74a1.45 1.45 0 1 0 2.9 0a1.45 1.45 0 1 0 -2.9 0M1639.56 2060.24a1.45 1.45 0 1 0 2.9 0a1.45 1.45 0 1 0 -2.9 0M1640.07 2138.21a1.45 1.45 0 1 0 2.9 0a1.45 1.45 0 1 0 -2.9 0M1645.86 2026.33a1.45 1.45 0 1 0 2.9 0a1.45 1.45 0 1 0 -2.9 0M1640.85 2004.44a1.45 1.45 0 1 0 2.9 0a1.45 1.45 0 1 0 -2.9 0M1639.43 2054.6a1.45 1.45 0 1 0 2.9 0a1.45 1.45 0 1 0 -2.9 0M1642.91 2067.33a1.45 1.45 0 1 0 2.9 0a1.45 1.45 0 1 0 -2.9 0M1640.25 2050.85a1.45 1.45 0 1 0 2.9 0a1.45 1.45 0 1 0 -2.9 0M1643.02 2092.88a1.45 1.45 0 1 0 2.9 0a1.45 1.45 0 1 0 -2.9 0M1644.38 1878.32a1.45 1.45 0 1 0 2.9 0a1.45 1.45 0 1 0 -2.9 0M1641.42 1991.87a1.45 1.45 0 1 0 2.9 0a1.45 1.45 0 1 0 -2.9 0M1645.32 1993.64a1.45 1.45 0 1 0 2.9 0a1.45 1.45 0 1 0 -2.9 0M1637.8 2020.38a1.45 1.45 0 1 0 2.9 0a1.45 1.45 0 1 0 -2.9 0M1635.89 2037.28a1.45 1.45 0 1 0 2.9 0a1.45 1.45 0 1 0 -2.9 0M1643.17 2049.99a1.45 1.45 0 1 0 2.9 0a1.45 1.45 0 1 0 -2.9 0M1642.19 1989.01a1.45 1.45 0 1 0 2.9 0a1.45 1.45 0 1 0 -2.9 0M1638.56 1884.72a1.45 1.45 0 1 0 2.9 0a1.45 1.45 0 1 0 -2.9 0M1636.13 1999.98a1.45 1.45 0 1 0 2.9 0a1.45 1.45 0 1 0 -2.9 0M1636.15 2017.32a1.45 1.45 0 1 0 2.9 0a1.45 1.45 0 1 0 -2.9 0M1644.51 2095.24a1.45 1.45 0 1 0 2.9 0a1.45 1.45 0 1 0 -2.9 0M1641.37 2123.76a1.45 1.45 0 1 0 2.9 0a1.45 1.45 0 1 0 -2.9 0M1636.37 1943.25a1.45 1.45 0 1 0 2.9 0a1.45 1.45 0 1 0 -2.9 0M1638.73 2047.58a1.45 1.45 0 1 0 2.9 0a1.45 1.45 0 1 0 -2.9 0M1645.65 2106.39a1.45 1.45 0 1 0 2.9 0a1.45 1.45 0 1 0 -2.9 0M1636.25 2103.87a1.45 1.45 0 1 0 2.9 0a1.45 1.45 0 1 0 -2.9 0M1642.33 1989.98a1.45 1.45 0 1 0 2.9 0a1.45 1.45 0 1 0 -2.9 0M1645.28 2004.99a1.45 1.45 0 1 0 2.9 0a1.45 1.45 0 1 0 -2.9 0M1644.79 2060.62a1.45 1.45 0 1 0 2.9 0a1.45 1.45 0 1 0 -2.9 0M1640.97 1955.23a1.45 1.45 0 1 0 2.9 0a1.45 1.45 0 1 0 -2.9 0M1637.88 1941.75a1.45 1.45 0 1 0 2.9 0a1.45 1.45 0 1 0 -2.9 0M1642.16 2118.46a1.45 1.45 0 1 0 2.9 0a1.45 1.45 0 1 0 -2.9 0M1641.94 1962.45a1.45 1.45 0 1 0 2.9 0a1.45 1.45 0 1 0 -2.9 0M1636.83 2131.49a1.45 1.45 0 1 0 2.9 0a1.45 1.45 0 1 0 -2.9 0M1638.14 1837.75a1.45 1.45 0 1 0 2.9 0a1.45 1.45 0 1 0 -2.9 0M1636.82 2028.24a1.45 1.45 0 1 0 2.9 0a1.45 1.45 0 1 0 -2.9 0M1639.49 2104.57a1.45 1.45 0 1 0 2.9 0a1.45 1.45 0 1 0 -2.9 0M1637.01 2006.51a1.45 1.45 0 1 0 2.9 0a1.45 1.45 0 1 0 -2.9 0M1640.06 1984.68a1.45 1.45 0 1 0 2.9 0a1.45 1.45 0 1 0 -2.9 0M1639.18 2016.99a1.45 1.45 0 1 0 2.9 0a1.45 1.45 0 1 0 -2.9 0M1645.96 1926.36a1.45 1.45 0 1 0 2.9 0a1.45 1.45 0 1 0 -2.9 0M1645.46 2004.65a1.45 1.45 0 1 0 2.9 0a1.45 1.45 0 1 0 -2.9 0M1641.32 2053.62a1.45 1.45 0 1 0 2.9 0a1.45 1.45 0 1 0 -2.9 0M1636.53 2096.99a1.45 1.45 0 1 0 2.9 0a1.45 1.45 0 1 0 -2.9 0M1645.38 2037.75a1.45 1.45 0 1 0 2.9 0a1.45 1.45 0 1 0 -2.9 0M1636.05 2141.53a1.45 1.45 0 1 0 2.9 0a1.45 1.45 0 1 0 -2.9 0M1637.54 2071.68a1.45 1.45 0 1 0 2.9 0a1.45 1.45 0 1 0 -2.9 0M1638.12 1971.17a1.45 1.45 0 1 0 2.9 0a1.45 1.45 0 1 0 -2.9 0M1644.31 2068.3a1.45 1.45 0 1 0 2.9 0a1.45 1.45 0 1 0 -2.9 0M1641.99 2118.69a1.45 1.45 0 1 0 2.9 0a1.45 1.45 0 1 0 -2.9 0M1645.8 2038.18a1.45 1.45 0 1 0 2.9 0a1.45 1.45 0 1 0 -2.9 0M1644.07 2066.57a1.45 1.45 0 1 0 2.9 0a1.45 1.45 0 1 0 -2.9 0M1637.76 2155.41a1.45 1.45 0 1 0 2.9 0a1.45 1.45 0 1 0 -2.9 0M1645.94 1975.35a1.45 1.45 0 1 0 2.9 0a1.45 1.45 0 1 0 -2.9 0M1636.12 1905.36a1.45 1.45 0 1 0 2.9 0a1.45 1.45 0 1 0 -2.9 0M1643.44 2025.8a1.45 1.45 0 1 0 2.9 0a1.45 1.45 0 1 0 -2.9 0M1642.02 2005.55a1.45 1.45 0 1 0 2.9 0a1.45 1.45 0 1 0 -2.9 0M1638.24 2103.61a1.45 1.45 0 1 0 2.9 0a1.45 1.45 0 1 0 -2.9 0M1638.89 2040.05a1.45 1.45 0 1 0 2.9 0a1.45 1.45 0 1 0 -2.9 0M1643.84 2134.69a1.45 1.45 0 1 0 2.9 0a1.45 1.45 0 1 0 -2.9 0M1637.44 2049.82a1.45 1.45 0 1 0 2.9 0a1.45 1.45 0 1 0 -2.9 0M1644.14 2031.88a1.45 1.45 0 1 0 2.9 0a1.45 1.45 0 1 0 -2.9 0M1644.08 2069.56a1.45 1.45 0 1 0 2.9 0a1.45 1.45 0 1 0 -2.9 0M1644.97 1966.31a1.45 1.45 0 1 0 2.9 0a1.45 1.45 0 1 0 -2.9 0M1646.08 2129.96a1.45 1.45 0 1 0 2.9 0a1.45 1.45 0 1 0 -2.9 0M1637.64 1903.62a1.45 1.45 0 1 0 2.9 0a1.45 1.45 0 1 0 -2.9 0M1636.78 2039.76a1.45 1.45 0 1 0 2.9 0a1.45 1.45 0 1 0 -2.9 0M1641.35 2022.62a1.45 1.45 0 1 0 2.9 0a1.45 1.45 0 1 0 -2.9 0M1645.98 1921.32a1.45 1.45 0 1 0 2.9 0a1.45 1.45 0 1 0 -2.9 0M1639.06 2035.58a1.45 1.45 0 1 0 2.9 0a1.45 1.45 0 1 0 -2.9 0M1645.21 2028.3a1.45 1.45 0 1 0 2.9 0a1.45 1.45 0 1 0 -2.9 0M1638.32 2103.46a1.45 1.45 0 1 0 2.9 0a1.45 1.45 0 1 0 -2.9 0M1640.4 2043.33a1.45 1.45 0 1 0 2.9 0a1.45 1.45 0 1 0 -2.9 0M1638.68 2009.9a1.45 1.45 0 1 0 2.9 0a1.45 1.45 0 1 0 -2.9 0M1637.61 1997.65a1.45 1.45 0 1 0 2.9 0a1.45 1.45 0 1 0 -2.9 0M1641.09 2027.08a1.45 1.45 0 1 0 2.9 0a1.45 1.45 0 1 0 -2.9 0M1640.24 2118.27a1.45 1.45 0 1 0 2.9 0a1.45 1.45 0 1 0 -2.9 0M1643.21 2078.98a1.45 1.45 0 1 0 2.9 0a1.45 1.45 0 1 0 -2.9 0M1640.58 1935.6a1.45 1.45 0 1 0 2.9 0a1.45 1.45 0 1 0 -2.9 0M1635.83 2082.55a1.45 1.45 0 1 0 2.9 0a1.45 1.45 0 1 0 -2.9 0M1641.27 1891.66a1.45 1.45 0 1 0 2.9 0a1.45 1.45 0 1 0 -2.9 0M1642.34 1995.65a1.45 1.45 0 1 0 2.9 0a1.45 1.45 0 1 0 -2.9 0M1639.29 2027.23a1.45 1.45 0 1 0 2.9 0a1.45 1.45 0 1 0 -2.9 0M1643.3 1968.92a1.45 1.45 0 1 0 2.9 0a1.45 1.45 0 1 0 -2.9 0M1635.47 2096.5a1.45 1.45 0 1 0 2.9 0a1.45 1.45 0 1 0 -2.9 0M1643.21 1881.68a1.45 1.45 0 1 0 2.9 0a1.45 1.45 0 1 0 -2.9 0M1643.54 1942.76a1.45 1.45 0 1 0 2.9 0a1.45 1.45 0 1 0 -2.9 0M1635.47 2107.39a1.45 1.45 0 1 0 2.9 0a1.45 1.45 0 1 0 -2.9 0M1644.15 2040.98a1.45 1.45 0 1 0 2.9 0a1.45 1.45 0 1 0 -2.9 0M1638.19 2010a1.45 1.45 0 1 0 2.9 0a1.45 1.45 0 1 0 -2.9 0M1642.47 2128.3a1.45 1.45 0 1 0 2.9 0a1.45 1.45 0 1 0 -2.9 0M1636.29 2022.59a1.45 1.45 0 1 0 2.9 0a1.45 1.45 0 1 0 -2.9 0M1635.83 2025.96a1.45 1.45 0 1 0 2.9 0a1.45 1.45 0 1 0 -2.9 0M1639.35 1958.32a1.45 1.45 0 1 0 2.9 0a1.45 1.45 0 1 0 -2.9 0M1639.96 1769.56a1.45 1.45 0 1 0 2.9 0a1.45 1.45 0 1 0 -2.9 0M1641.48 1770.84a1.45 1.45 0 1 0 2.9 0a1.45 1.45 0 1 0 -2.9 0M1642.69 1788.82a1.45 1.45 0 1 0 2.9 0a1.45 1.45 0 1 0 -2.9 0M1638.31 1790.1a1.45 1.45 0 1 0 2.9 0a1.45 1.45 0 1 0 -2.9 0M1682.24 1990.91a1.45 1.45 0 1 0 2.9 0a1.45 1.45 0 1 0 -2.9 0M1676.45 2049.49a1.45 1.45 0 1 0 2.9 0a1.45 1.45 0 1 0 -2.9 0M1685.83 1982.48a1.45 1.45 0 1 0 2.9 0a1.45 1.45 0 1 0 -2.9 0M1677.58 1939.69a1.45 1.45 0 1 0 2.9 0a1.45 1.45 0 1 0 -2.9 0M1687.32 1894.8a1.45 1.45 0 1 0 2.9 0a1.45 1.45 0 1 0 -2.9 0M1689.23 2071.72a1.45 1.45 0 1 0 2.9 0a1.45 1.45 0 1 0 -2.9 0M1677.79 2067.5a1.45 1.45 0 1 0 2.9 0a1.45 1.45 0 1 0 -2.9 0M1678.78 1971.49a1.45 1.45 0 1 0 2.9 0a1.45 1.45 0 1 0 -2.9 0M1684.31 1959.59a1.45 1.45 0 1 0 2.9 0a1.45 1.45 0 1 0 -2.9 0M1686.47 2015.58a1.45 1.45 0 1 0 2.9 0a1.45 1.45 0 1 0 -2.9 0M1683.21 2057.8a1.45 1.45 0 1 0 2.9 0a1.45 1.45 0 1 0 -2.9 0M1681.27 1916.7a1.45 1.45 0 1 0 2.9 0a1.45 1.45 0 1 0 -2.9 0M1682.57 2000.66a1.45 1.45 0 1 0 2.9 0a1.45 1.45 0 1 0 -2.9 0M1683.9 1870.25a1.45 1.45 0 1 0 2.9 0a1.45 1.45 0 1 0 -2.9 0M1686.1 1959.55a1.45 1.45 0 1 0 2.9 0a1.45 1.45 0 1 0 -2.9 0M1686.58 1875.01a1.45 1.45 0 1 0 2.9 0a1.45 1.45 0 1 0 -2.9 0M1680.47 2046.02a1.45 1.45 0 1 0 2.9 0a1.45 1.45 0 1 0 -2.9 0M1685.91 1902.99a1.45 1.45 0 1 0 2.9 0a1.45 1.45 0 1 0 -2.9 0M1680.55 2096.21a1.45 1.45 0 1 0 2.9 0a1.45 1.45 0 1 0 -2.9 0M1687.21 1985.62a1.45 1.45 0 1 0 2.9 0a1.45 1.45 0 1 0 -2.9 0M1683.63 2044.7a1.45 1.45 0 1 0 2.9 0a1.45 1.45 0 1 0 -2.9 0M1681.1 1974.07a1.45 1.45 0 1 0 2.9 0a1.45 1.45 0 1 0 -2.9 0M1688.77 1936.96a1.45 1.45 0 1 0 2.9 0a1.45 1.45 0 1 0 -2.9 0M1677.87 2129.63a1.45 1.45 0 1 0 2.9 0a1.45 1.45 0 1 0 -2.9 0M1680.77 2054.79a1.45 1.45 0 1 0 2.9 0a1.45 1.45 0 1 0 -2.9 0M1687.81 1956.77a1.45 1.45 0 1 0 2.9 0a1.45 1.45 0 1 0 -2.9 0M1681.02 1998a1.45 1.45 0 1 0 2.9 0a1.45 1.45 0 1 0 -2.9 0M1690.48 2037.1a1.45 1.45 0 1 0 2.9 0a1.45 1.45 0 1 0 -2.9 0M1685.93 1888.68a1.45 1.45 0 1 0 2.9 0a1.45 1.45 0 1 0 -2.9 0M1683.82 2119.6a1.45 1.45 0 1 0 2.9 0a1.45 1.45 0 1 0 -2.9 0M1690.18 1888.28a1.45 1.45 0 1 0 2.9 0a1.45 1.45 0 1 0 -2.9 0M1687.62 2066.29a1.45 1.45 0 1 0 2.9 0a1.45 1.45 0 1 0 -2.9 0M1690.14 1948.07a1.45 1.45 0 1 0 2.9 0a1.45 1.45 0 1 0 -2.9 0M1685.63 1855.48a1.45 1.45 0 1 0 2.9 0a1.45 1.45 0 1 0 -2.9 0M1685.01 2009.02a1.45 1.45 0 1 0 2.9 0a1.45 1.45 0 1 0 -2.9 0M1687.47 2025.38a1.45 1.45 0 1 0 2.9 0a1.45 1.45 0 1 0 -2.9 0M1675.88 2016.24a1.45 1.45 0 1 0 2.9 0a1.45 1.45 0 1 0 -2.9 0M1683.11 2032.79a1.45 1.45 0 1 0 2.9 0a1.45 1.45 0 1 0 -2.9 0M1685.61 1938.78a1.45 1.45 0 1 0 2.9 0a1.45 1.45 0 1 0 -2.9 0M1678.84 1916.77a1.45 1.45 0 1 0 2.9 0a1.45 1.45 0 1 0 -2.9 0M1683.83 2017.84a1.45 1.45 0 1 0 2.9 0a1.45 1.45 0 1 0 -2.9 0M1688.03 2085.83a1.45 1.45 0 1 0 2.9 0a1.45 1.45 0 1 0 -2.9 0M1688.21 1974.16a1.45 1.45 0 1 0 2.9 0a1.45 1.45 0 1 0 -2.9 0M1688.9 1908.43a1.45 1.45 0 1 0 2.9 0a1.45 1.45 0 1 0 -2.9 0M1682.95 2083.72a1.45 1.45 0 1 0 2.9 0a1.45 1.45 0 1 0 -2.9 0M1690.43 2005.74a1.45 1.45 0 1 0 2.9 0a1.45 1.45 0 1 0 -2.9 0M1688.68 2134.35a1.45 1.45 0 1 0 2.9 0a1.45 1.45 0 1 0 -2.9 0M1677.67 1929.93a1.45 1.45 0 1 0 2.9 0a1.45 1.45 0 1 0 -2.9 0M1678.25 1879.98a1.45 1.45 0 1 0 2.9 0a1.45 1.45 0 1 0 -2.9 0M1679.57 2031.87a1.45 1.45 0 1 0 2.9 0a1.45 1.45 0 1 0 -2.9 0M1688.56 2009.92a1.45 1.45 0 1 0 2.9 0a1.45 1.45 0 1 0 -2.9 0M1681.34 2048.3a1.45 1.45 0 1 0 2.9 0a1.45 1.45 0 1 0 -2.9 0M1679.54 1956.02a1.45 1.45 0 1 0 2.9 0a1.45 1.45 0 1 0 -2.9 0M1684.65 2069.9a1.45 1.45 0 1 0 2.9 0a1.45 1.45 0 1 0 -2.9 0M1680.97 2073.3a1.45 1.45 0 1 0 2.9 0a1.45 1.45 0 1 0 -2.9 0M1683.61 2112.72a1.45 1.45 0 1 0 2.9 0a1.45 1.45 0 1 0 -2.9 0M1681.97 2086.79a1.45 1.45 0 1 0 2.9 0a1.45 1.45 0 1 0 -2.9 0M1680.03 1887.86a1.45 1.45 0 1 0 2.9 0a1.45 1.45 0 1 0 -2.9 0M1687.15 2132.42a1.45 1.45 0 1 0 2.9 0a1.45 1.45 0 1 0 -2.9 0M1680.21 2001a1.45 1.45 0 1 0 2.9 0a1.45 1.45 0 1 0 -2.9 0M1684.62 2009.78a1.45 1.45 0 1 0 2.9 0a1.45 1.45 0 1 0 -2.9 0M1684.81 2030.02a1.45 1.45 0 1 0 2.9 0a1.45 1.45 0 1 0 -2.9 0M1682.69 1698.94a1.45 1.45 0 1 0 2.9 0a1.45 1.45 0 1 0 -2.9 0" fill="#111"/>
<text x="1663.45" y="1684.5" font-size="15.5" text-anchor="middle" fill="#222" style="font-weight:bold;">****</text>
<rect x="1616.6" y="1629.5" width="93.7" height="561.4" fill="none" stroke="#111" stroke-width="1.6"/>
<text x="1642.2" y="2211" font-size="20.5" text-anchor="middle" style="font-weight:bold;">D</text>
<text x="1684.7" y="2211" font-size="20.5" text-anchor="middle" style="font-weight:bold;">L</text>
<line x1="1642.2" y1="2190.9" x2="1642.2" y2="2194.4" stroke="#333" stroke-width="1"/>
<line x1="1684.7" y1="2190.9" x2="1684.7" y2="2194.4" stroke="#333" stroke-width="1"/>
<line x1="1316.5" y1="2103.4" x2="1320.6" y2="2103.4" stroke="#333" stroke-width="1.1"/>
<text x="1314" y="2111.6" font-size="23" text-anchor="end" style="font-weight:bold;">6</text>
<line x1="1316.5" y1="1975" x2="1320.6" y2="1975" stroke="#333" stroke-width="1.1"/>
<text x="1314" y="1983.2" font-size="23" text-anchor="end" style="font-weight:bold;">8</text>
<line x1="1316.5" y1="1846.6" x2="1320.6" y2="1846.6" stroke="#333" stroke-width="1.1"/>
<text x="1314" y="1854.8" font-size="23" text-anchor="end" style="font-weight:bold;">10</text>
<line x1="1316.5" y1="1718.2" x2="1320.6" y2="1718.2" stroke="#333" stroke-width="1.1"/>
<text x="1314" y="1726.4" font-size="23" text-anchor="end" style="font-weight:bold;">12</text>
<text x="1515.3" y="2241" font-size="27.5" text-anchor="middle" style="font-weight:bold;">ZNRF3 CNA</text>
<g transform="translate(1265 0) rotate(-90)">
<text x="-2072.2" y="0" font-size="33" style="font-weight:bold;">log</text>
<text x="-2022.4" y="5.9" font-size="24" style="">2</text>
<text x="-2009.8" y="-0.6" font-size="40" style="">(</text>
<text x="-1995.5" y="0" font-size="33" style="font-weight:bold;">Abundance</text>
<text x="-1806.3" y="0" font-size="33" style="">+</text>
<text x="-1781.5" y="0" font-size="33.6" style="">1</text>
<text x="-1762.1" y="-0.6" font-size="40" style="">)</text>
</g>
<rect x="1224.6" y="1598.5" width="496.9" height="658.9" fill="none" stroke="#000" stroke-width="2.7"/>
</svg>
</body></html>
